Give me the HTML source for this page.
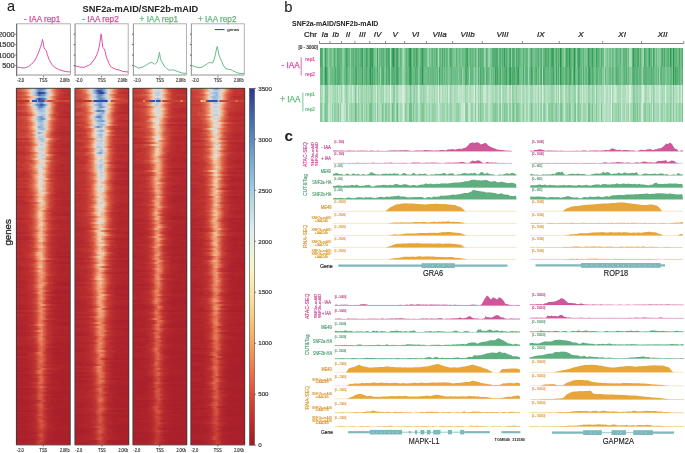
<!DOCTYPE html><html><head><meta charset="utf-8"><style>
html,body{margin:0;padding:0;background:#fff}
body{width:685px;height:453px;overflow:hidden;position:relative;font-family:"Liberation Sans",sans-serif}
.hm{position:absolute;overflow:hidden}
.hm i{display:block;height:2px}
.gb{position:absolute}
svg{position:absolute;left:0;top:0;will-change:transform}
</style></head><body>
<div class="hm" style="left:16.4px;top:88.3px;width:53.9px;height:356.7px"><i style="background:linear-gradient(90deg,#d45442,#cf4c3e,#dc6249,#e57554,#ea8c68,#efb28c,#e7d5c3,#c6d5e4,#8dafd5,#678cc2,#6589c0,#7297c9,#b7cde2,#e7d6c6,#efb48f,#e57454,#d25140,#c94339,#bf3432,#bc3131,#bf3331,#be3231)"></i><i style="background:linear-gradient(90deg,#ca443a,#cf4c3e,#da6048,#e36e4f,#eb916c,#efb28c,#dcdad8,#c6d5e4,#99b8da,#5a7eb9,#759bcb,#8aadd4,#c7d5e3,#e8d4c0,#ed9c75,#e57756,#d35442,#c94339,#c03432,#be3231,#b92e2f,#ba2f30)"></i><i style="background:linear-gradient(90deg,#c63d36,#c73f37,#ca453a,#d35442,#e0694c,#ed9e77,#eccfb5,#bacee2,#7ca1ce,#2d3791,#384b9c,#3f59a3,#a0bfdd,#d3d8dc,#efb792,#e57353,#d55743,#c94239,#c33934,#bf3331,#bc3030,#bc3030)"></i><i style="background:linear-gradient(90deg,#cb463b,#cc483c,#d25140,#db6148,#e67b59,#efb893,#e6d6c6,#b9cee2,#87aad3,#4460a8,#678cc2,#7298c9,#bbcfe2,#e5d8cb,#f0c19e,#e88360,#d45542,#c53d36,#bf3432,#b82d2f,#b82d2f,#b82d2f)"></i><i style="background:linear-gradient(90deg,#cc483b,#c63e36,#cd493c,#d25140,#d55844,#e67b59,#efb28c,#edceb3,#bed1e3,#88abd3,#86a9d3,#97b7d9,#d5d9db,#f0c8a6,#eb946e,#db6148,#cb463a,#c63d36,#c03432,#bd3131,#bc3030,#c03432)"></i><i style="background:linear-gradient(90deg,#d14f3f,#d04f3f,#d15140,#dc6349,#e57352,#eea67f,#f0c9a7,#c5d4e4,#769ccc,#2f3b93,#4869ac,#5275b4,#acc6df,#e6d7c8,#eea179,#e36e4f,#c94239,#c03432,#ba2f30,#b82d2f,#b82d2f,#bc3131)"></i><i style="background:linear-gradient(90deg,#c43b35,#c33834,#c94339,#cc473b,#d95e47,#e88460,#efae88,#e7d6c5,#b1c9e0,#6589c0,#4869ac,#6286be,#b7cce1,#d4d9dc,#efbe9a,#e88663,#d45542,#c94239,#bc3130,#b92e30,#b82d2f,#b92e30)"></i><i style="background:linear-gradient(90deg,#c23733,#c63d36,#c33834,#c94339,#d95d47,#e67c5a,#efb994,#dcdad8,#9fbedd,#7ca1cf,#6084bd,#adc6e0,#cfd7df,#f0c4a1,#e88360,#ce4a3d,#c33934,#bd3131,#b92e2f,#bb3030,#bc3130,#b92e2f)"></i><i style="background:linear-gradient(90deg,#c94339,#cd493c,#d04e3f,#d75a45,#e0694c,#ed9d76,#eccfb3,#bed0e3,#7398ca,#587cb8,#3e56a2,#5c7fba,#abc5df,#edceb2,#ea906b,#dd654a,#c53c36,#bd3131,#ba2f30,#b52a2e,#b4292e,#b52a2e)"></i><i style="background:linear-gradient(90deg,#c43a35,#c23733,#c43a34,#ca4339,#d25140,#e57655,#efae87,#e2dcd4,#b9cee2,#6084bd,#5d81bb,#94b5d8,#d4d9dc,#edceb2,#e88562,#d45442,#c33934,#bb2f30,#bc3030,#b72c2f,#b72c2f,#ba2e30)"></i><i style="background:linear-gradient(90deg,#c43a35,#c13532,#c63e37,#cb463a,#d55643,#e57655,#eea37b,#edceb3,#bed1e3,#84a7d1,#99b8da,#b5cbe1,#dddbd7,#efbc98,#e88360,#ce4b3d,#c13632,#be3331,#ba2f30,#ba2f30,#bb3030,#bb2f30)"></i><i style="background:linear-gradient(90deg,#cc473b,#cc483b,#cd493c,#cf4c3e,#d65844,#e57554,#ec9872,#e8d4c1,#ccd6e1,#adc7e0,#9dbcdc,#b2c9e0,#e3dad0,#efbd99,#e88562,#d1503f,#c13632,#be3231,#bc3030,#b62b2f,#b92e2f,#b92e30)"></i><i style="background:linear-gradient(90deg,#bf3431,#c23733,#c23733,#c73f37,#c94339,#dd654a,#e7815e,#f0c29e,#e6d7c7,#bdd0e2,#bbcfe2,#bed1e3,#e0dcd5,#f0c5a2,#e88662,#d1503f,#c73e37,#bd3131,#b82d2f,#b4292e,#b4292e,#b3282e)"></i><i style="background:linear-gradient(90deg,#c23733,#c03432,#bf3331,#c43a34,#c53c36,#d04e3f,#e0694c,#eea078,#e8d4c1,#c1d2e3,#abc5df,#b1c9e0,#e2dcd4,#ed9f77,#df674c,#ca443a,#c53c36,#bf3431,#b82d2f,#bc3030,#b72c2f,#b92d2f)"></i><i style="background:linear-gradient(90deg,#c74037,#c94239,#cb463b,#d15040,#d55743,#e36f4f,#ec9670,#eeccad,#c3d3e4,#8badd4,#7196c8,#adc7e0,#e4dace,#efb590,#e16b4e,#ce4a3d,#bf3331,#b72b2f,#b72c2f,#b2272d,#b4292e,#b1272d)"></i><i style="background:linear-gradient(90deg,#c74037,#c74037,#cb453a,#cb453a,#d25241,#e57454,#eea982,#ead1ba,#b4cbe1,#90b1d6,#6b90c4,#86a9d2,#dbdad8,#f0c9a6,#e67c5a,#d95e47,#c63e37,#bf3331,#be3231,#bc3030,#bd3131,#b92d2f)"></i><i style="background:linear-gradient(90deg,#c63e37,#c63e36,#c43a35,#cb453a,#ce4b3d,#db6148,#ec9972,#f0c3a0,#cfd7df,#94b5d8,#8fb1d6,#c2d3e3,#e8d4c0,#ec9771,#df684c,#ce4b3d,#c43b35,#c03432,#bd3131,#bd3131,#bc3030,#be3231)"></i><i style="background:linear-gradient(90deg,#c63d36,#c43934,#c74038,#ca4339,#cc483b,#d95d46,#e57453,#efaf89,#d9dad9,#b0c8e0,#a4c2de,#c6d5e4,#edceb1,#eb916c,#d95e47,#c74037,#c03432,#bc3030,#bb3030,#be3231,#ba2e30,#ba2f30)"></i><i style="background:linear-gradient(90deg,#c43934,#c84038,#c63e36,#ca4439,#ca4439,#da5f47,#e57655,#efac86,#e7d6c5,#b8cde2,#96b6d9,#c0d2e3,#efccac,#eb956f,#db6048,#ca443a,#c43934,#bd3231,#bc3130,#be3231,#be3231,#b92e30)"></i><i style="background:linear-gradient(90deg,#c63d36,#c94239,#c84138,#cd493c,#cf4d3e,#de664b,#ea8e6a,#efcbaa,#d4d9dc,#80a4d0,#9abadb,#c6d5e4,#eeccae,#e98965,#d95d46,#c94239,#c03432,#b82d2f,#b62b2e,#b62b2f,#b82d2f,#b72c2f)"></i><i style="background:linear-gradient(90deg,#c43a35,#c43a35,#c63e36,#c94339,#cc473b,#da5f47,#e98965,#efb893,#dcdad8,#abc6df,#95b5d8,#a3c1de,#ecd0b6,#ec9973,#dc6349,#cb453a,#be3231,#bc3030,#b82d2f,#b72c2f,#ba2f30,#b72c2f)"></i><i style="background:linear-gradient(90deg,#c43b35,#c53b35,#c43a35,#c23733,#ca443a,#d25140,#e47050,#eb946e,#e7d5c3,#c2d3e3,#cbd6e1,#e1dcd5,#efaf89,#e88460,#d65944,#c84038,#be3231,#ba2f30,#b82d2f,#b72c2f,#b92d2f,#b72c2f)"></i><i style="background:linear-gradient(90deg,#c23833,#c63d36,#c63e37,#c73f37,#ca453a,#d55743,#e67857,#efb28c,#d7d9da,#89abd3,#adc7e0,#d6d9db,#efac86,#e57353,#cc473b,#bc3130,#ba2e30,#b3282e,#b1262d,#b4292e,#b3282e,#b1262d)"></i><i style="background:linear-gradient(90deg,#c94339,#c53c35,#c94238,#c74037,#ce4c3e,#d85c46,#df674b,#eb936d,#ead1ba,#cbd6e1,#cfd7df,#e8d4c0,#ec9973,#e26c4e,#ca4439,#c23733,#bb2f30,#b82d2f,#b42a2e,#b62b2e,#b52a2e,#b4292e)"></i><i style="background:linear-gradient(90deg,#c63d36,#c74038,#cb473b,#cc473b,#d04e3f,#da5f47,#e57655,#eea881,#e2dcd4,#b0c8e0,#bfd1e3,#e8d5c2,#eb946e,#e36f50,#d25241,#c33834,#bf3331,#bb2f30,#b72c2f,#b72c2f,#bb2f30,#b82d2f)"></i><i style="background:linear-gradient(90deg,#b92e2f,#bc3131,#bc3130,#c13532,#c03432,#c94239,#dd644a,#ea8c67,#efcbab,#b5cbe1,#9ebddc,#b9cee2,#e2dcd4,#eea47c,#e0694d,#cf4c3e,#c63d36,#bd3131,#ba2f30,#b72c2f,#b82d2f,#b92d2f)"></i><i style="background:linear-gradient(90deg,#c53b35,#c33834,#c63e37,#ca4439,#c84138,#d35341,#e46f50,#eb946e,#efccac,#cad6e2,#adc6e0,#ccd6e1,#f0c3a0,#e67b59,#d85c46,#c94339,#bc3030,#b82d2f,#b62b2e,#b92e2f,#b92e2f,#b4292e)"></i><i style="background:linear-gradient(90deg,#bb2f30,#bd3231,#be3331,#c23633,#c33934,#c84038,#d55643,#e88561,#efba96,#e6d6c6,#cbd6e1,#ebd0b7,#eea47c,#da6048,#d04e3f,#c03432,#bc3030,#b92e2f,#b72c2f,#b4292e,#b4292e,#b52a2e)"></i><i style="background:linear-gradient(90deg,#be3231,#bc3030,#bb2f30,#bf3331,#c43a35,#c63e37,#d15040,#e47252,#ed9d76,#e2dcd3,#b7cce1,#dfdbd6,#efb792,#e47151,#ce4b3d,#c43934,#bc3030,#b82d2f,#b2272d,#b4292e,#b2282d,#b0262d)"></i><i style="background:linear-gradient(90deg,#c03432,#c23733,#c63e37,#c33834,#cc483b,#d15140,#dc6249,#ec9872,#efcbab,#dadad9,#d2d8dd,#ead2bb,#eea780,#db6048,#cb473b,#bd3131,#b92d2f,#b62b2e,#b52a2e,#b1272d,#b2272d,#b4292e)"></i><i style="background:linear-gradient(90deg,#c03432,#bf3331,#c03432,#c23733,#c73f37,#cd4a3c,#dd654a,#eea37c,#ead2bb,#cbd6e1,#c3d3e4,#ead2bb,#eea179,#e26d4e,#ce4b3d,#c63e37,#be3231,#bb2f30,#bb3030,#b82d2f,#b72c2f,#bb2f30)"></i><i style="background:linear-gradient(90deg,#be3231,#bc3130,#be3231,#c23733,#c63e37,#cc473b,#e16a4d,#ea8c68,#e8d4c0,#d8d9da,#d3d8dd,#eccfb4,#eea881,#dd654a,#cd4a3d,#c53c36,#bf3331,#b62b2f,#b72c2f,#b72c2f,#b82d2f,#b62b2e)"></i><i style="background:linear-gradient(90deg,#b82c2f,#b92d2f,#b82d2f,#b92e30,#c23733,#c53c36,#cd4a3d,#e47150,#ec9771,#ebd0b7,#d2d8dd,#ead2bb,#eb936d,#d55743,#c73f37,#bb2f30,#b52a2e,#b1262d,#b0252d,#b1272d,#af252c,#af252c)"></i><i style="background:linear-gradient(90deg,#be3331,#be3231,#bf3331,#bd3231,#c23632,#ca4339,#d95d47,#e8825f,#efba96,#dadad9,#c7d5e3,#bbcfe2,#f0c8a6,#e98864,#db6048,#c94339,#bf3432,#b72c2f,#b3292e,#b2272d,#b52a2e,#b62b2e)"></i><i style="background:linear-gradient(90deg,#c03432,#c33834,#c23733,#c73f37,#c84238,#d15040,#dc6349,#e57655,#eea982,#d7d9da,#cad6e2,#ebd1b8,#eb936d,#e47151,#ce4b3d,#bf3331,#bb2f30,#b72c2f,#b52a2e,#b62b2f,#b62b2f,#b2272d)"></i><i style="background:linear-gradient(90deg,#be3231,#bc3131,#c23633,#c03432,#c94339,#ce4b3d,#df674c,#ec9973,#edceb3,#d2d8dd,#cfd7df,#f0c8a6,#e67b59,#d75a45,#c84138,#c33833,#bc3030,#ba2e30,#b72c2f,#b92e2f,#b62b2e,#ba2f30)"></i><i style="background:linear-gradient(90deg,#c03432,#bd3131,#c13532,#bf3331,#c33934,#ca443a,#cc483c,#e47151,#ed9e76,#edceb1,#dddbd7,#e8d5c2,#efb38e,#e7805d,#cf4d3e,#c63d36,#bf3431,#ba2f30,#b72c2f,#b62b2f,#b3282d,#b62b2f)"></i><i style="background:linear-gradient(90deg,#c33833,#c13632,#c13532,#c23733,#c94339,#d04e3f,#d25241,#df674b,#ec9872,#eecdb0,#e4d9ce,#f0caa8,#e98763,#d95e47,#ca443a,#c43a35,#bc3130,#ba2e30,#b82d2f,#ba2f30,#b62b2f,#b92e2f)"></i><i style="background:linear-gradient(90deg,#c33934,#c03432,#c13632,#c94239,#c63d36,#ce4c3e,#e06a4d,#e67957,#efb48e,#dadad9,#ced7e0,#e9d3bf,#ec9871,#dc6249,#c94339,#c33834,#bb3030,#b62b2f,#b2282d,#b4292e,#b4292e,#b3282d)"></i><i style="background:linear-gradient(90deg,#be3231,#be3331,#bc3131,#c43934,#c63e37,#cc483c,#da6048,#eb926d,#f0c19e,#d4d9dc,#d2d8dd,#f0caa8,#eb916c,#d85b45,#c84138,#bd3231,#bb3030,#b52a2e,#b62b2e,#b4292e,#b62b2f,#b62b2f)"></i><i style="background:linear-gradient(90deg,#c03432,#c43934,#c23733,#c53c36,#c84138,#d14f3f,#dd644a,#e7815e,#eea982,#e1dcd5,#e5d8c9,#efb18b,#e7805d,#d25140,#cb463b,#c03532,#b82d2f,#b82d2f,#b42a2e,#b72c2f,#b3282d,#b3282e)"></i><i style="background:linear-gradient(90deg,#bd3131,#be3331,#c03432,#bd3131,#c33934,#cb463b,#d15140,#e57554,#ed9c75,#e5d8ca,#e1dcd5,#eeccad,#ea8d68,#d95e47,#c33934,#bd3231,#b4292e,#b2272d,#b1262d,#b1272d,#b1272d,#b2282d)"></i><i style="background:linear-gradient(90deg,#b92e30,#bb2f30,#bb3030,#bb2f30,#bd3131,#c63d36,#d35341,#df674c,#e98764,#ebd1b8,#dcdad8,#f0c5a2,#e7805d,#da6048,#c84038,#bf3331,#b92e2f,#b72c2f,#b4292e,#b3282d,#b4292e,#b2282d)"></i><i style="background:linear-gradient(90deg,#bc3030,#bb3030,#bb3030,#bb2f30,#c33834,#c53b35,#d65944,#e67c5a,#eea982,#eccfb5,#e1dcd5,#efb894,#e57655,#d25140,#c23733,#ba2e30,#b52a2e,#b4292e,#b2272d,#af252c,#b0262d,#b0262d)"></i><i style="background:linear-gradient(90deg,#b62b2f,#b82d2f,#b82d2f,#be3231,#bd3231,#c63d36,#d04f3f,#e77f5d,#efb18b,#e0dcd5,#e0dcd5,#efbf9b,#e57655,#ce4b3d,#c53b35,#c03432,#b92e30,#b3282e,#b52a2e,#b62b2e,#b62b2e,#b52a2e)"></i><i style="background:linear-gradient(90deg,#bd3231,#bf3431,#c43a34,#c33833,#c53b35,#cd493c,#d15040,#e57756,#eea982,#ead2bb,#dbdad8,#edceb2,#eea57d,#db6148,#c84138,#c33834,#ba2e30,#b62b2e,#b4292e,#b0262d,#b0262d,#b2272d)"></i><i style="background:linear-gradient(90deg,#b92e2f,#ba2f30,#bf3331,#bc3131,#c33834,#c63d36,#d75a45,#df684c,#ed9f78,#e5d8ca,#e2dcd4,#efae88,#e47151,#d04e3f,#c33934,#bf3331,#bc3030,#b4292e,#b72c2f,#b4292e,#b52a2e,#b52b2e)"></i><i style="background:linear-gradient(90deg,#c13532,#c13532,#c13532,#c43934,#c53c35,#ca443a,#d25241,#e47151,#eea078,#e4d9ce,#d5d9db,#f0c29f,#e98864,#dc6249,#c94239,#c13532,#ba2f30,#b82d2f,#b82d2f,#b3282e,#b72c2f,#b62b2e)"></i><i style="background:linear-gradient(90deg,#bb3030,#bd3131,#bf3331,#be3331,#c23632,#cd493c,#d95d46,#e67c5a,#efae87,#e3dbd2,#e7d5c3,#efbd99,#e77f5c,#d65944,#c84138,#be3331,#bc3130,#b82d2f,#b82d2f,#b62b2e,#b4292e,#b72b2f)"></i><i style="background:linear-gradient(90deg,#be3231,#c13532,#c03432,#c23632,#c63d36,#cc473b,#d75a45,#e57655,#eeab84,#e8d4c2,#dddbd7,#efba95,#e8825f,#d65944,#ca443a,#be3231,#bb3030,#b72c2f,#b62b2f,#b4292e,#b72c2f,#b82d2f)"></i><i style="background:linear-gradient(90deg,#b4292e,#b62b2e,#b72c2f,#b72c2f,#bd3131,#c43a34,#d15040,#e47151,#ec9871,#e5d8cb,#e4dace,#efbf9b,#e67a59,#d35442,#cb453a,#c13532,#b72c2f,#b52a2e,#b62b2f,#b72b2f,#b42a2e,#b62b2e)"></i><i style="background:linear-gradient(90deg,#be3231,#c03432,#bd3131,#bf3331,#bf3331,#c84138,#ce4c3d,#e16b4e,#ea8e69,#efcbaa,#e9d4bf,#efb691,#e67958,#d35442,#c84138,#bc3030,#b62b2f,#b62b2e,#b3292e,#b62b2e,#b62b2e,#b62b2f)"></i><i style="background:linear-gradient(90deg,#bd3131,#bd3131,#be3331,#bd3131,#c13632,#c53b35,#cb463b,#d85c46,#e8825f,#f0c5a2,#e6d7c9,#efccac,#ec9a73,#db6149,#ca4339,#c13532,#b52a2e,#b3282d,#af252c,#b0252c,#b2272d,#ae242c)"></i><i style="background:linear-gradient(90deg,#bd3131,#be3231,#bd3131,#bf3331,#c23633,#cb463b,#ce4c3d,#dc6249,#ed9e77,#f0c09d,#e7d5c4,#efb28d,#e57554,#cf4d3e,#c23733,#b92e30,#b52a2e,#b3292e,#b3282d,#b52a2e,#b3282d,#b52a2e)"></i><i style="background:linear-gradient(90deg,#b82d2f,#b52a2e,#b52a2e,#b62b2e,#bc3030,#c03432,#c43a35,#d55743,#e67856,#efb691,#f0c09d,#ed9e77,#df684c,#ce4a3d,#c53c36,#bd3131,#b42a2e,#b4292e,#b2272d,#b1262d,#b1272d,#b2272d)"></i><i style="background:linear-gradient(90deg,#bb3030,#bc3030,#bb3030,#be3231,#c33833,#c33834,#cc473b,#db6149,#eb916c,#f0c3a0,#edceb3,#eea27b,#e47050,#d04e3f,#c43b35,#c03432,#bc3130,#b82d2f,#b3292e,#b42a2e,#b72c2f,#b72c2f)"></i><i style="background:linear-gradient(90deg,#b62b2f,#b62b2e,#b62b2e,#b82d2f,#c13532,#c53c36,#d25140,#d95e47,#eb956f,#e9d3be,#e4d9cd,#eea982,#e57353,#d25140,#c63d36,#bb3030,#b4292e,#b52a2e,#b1272d,#b2272d,#b1262d,#af252c)"></i><i style="background:linear-gradient(90deg,#b3282e,#b3292e,#b62b2f,#b3282e,#b62b2e,#bf3331,#c53b35,#ce4a3d,#dd654a,#eea57d,#f0c9a7,#efbb97,#e67a58,#ce4c3e,#c13632,#be3231,#b4292e,#b2282d,#b2272d,#b1262d,#b1262d,#af252c)"></i><i style="background:linear-gradient(90deg,#b92e30,#ba2f30,#b62b2f,#b82d2f,#bb3030,#c03432,#ca443a,#d65844,#e77f5d,#efb38d,#eecdaf,#efae88,#e67957,#cd493c,#c63d36,#b92e30,#b3282e,#b1272d,#b0252d,#b1262d,#ae232c,#af242c)"></i><i style="background:linear-gradient(90deg,#be3231,#bd3231,#bc3131,#bb3030,#be3231,#c23733,#c84138,#d04e3f,#e57756,#eeaa83,#f0c09d,#eeab84,#e57555,#d04f3f,#c63d36,#bd3131,#b62b2e,#b62b2f,#b4292e,#b3282d,#b4292e,#b4292e)"></i><i style="background:linear-gradient(90deg,#bc3130,#ba2e30,#ba2f30,#ba2f30,#be3331,#c03432,#ca453a,#d65944,#e77f5c,#eea47d,#f0c4a1,#eeaa83,#df674b,#cc483b,#c23733,#bc3030,#b52a2e,#b52a2e,#b3282e,#b4292e,#b3282e,#b4292e)"></i><i style="background:linear-gradient(90deg,#bc3130,#ba2f30,#b92e2f,#bc3030,#bf3331,#c43a34,#c94239,#d35341,#e67c5a,#efb994,#efb18b,#e57453,#d35341,#c63d36,#bc3131,#bc3130,#b52a2e,#b52a2e,#b3282e,#b1272d,#b52a2e,#b62b2e)"></i><i style="background:linear-gradient(90deg,#b82d2f,#b82d2f,#b82d2f,#b62b2e,#ba2f30,#c23733,#cb463b,#d55743,#e8825f,#efcbab,#f0c4a1,#ea906b,#d85b45,#ce4a3d,#be3331,#b52a2e,#b3282e,#b2282d,#af252c,#b2272d,#af252c,#b1272d)"></i><i style="background:linear-gradient(90deg,#b92e30,#b82d2f,#bc3130,#bd3231,#c03432,#c73f37,#cd493c,#da5e47,#e98a66,#f0cba9,#edceb2,#ea8e69,#d85b45,#c84138,#bd3131,#b82c2f,#b0262d,#af242c,#af252c,#ae242c,#ae232c,#ae242c)"></i><i style="background:linear-gradient(90deg,#b82d2f,#b82d2f,#b82d2f,#be3231,#bc3130,#c33833,#ce4a3d,#db6048,#e98764,#f0caa8,#efbe9a,#ea8e69,#d55743,#ce4b3d,#c03432,#bb3030,#ba2f30,#b92d2f,#b82c2f,#b72c2f,#b4292e,#b3282d)"></i><i style="background:linear-gradient(90deg,#b1262d,#b0252d,#b3282d,#b2282d,#ba2f30,#bf3331,#c53c36,#d45542,#e77d5b,#efad87,#f0c8a6,#ed9b74,#dc6249,#ca453a,#c63d36,#c03432,#b82d2f,#b4292e,#b72c2f,#b62b2e,#b4292e,#b52a2e)"></i><i style="background:linear-gradient(90deg,#b92e30,#bd3231,#b92e30,#bc3130,#c23633,#c03432,#c84038,#d55743,#e47150,#efb38e,#efb38e,#e47252,#d15040,#c53c35,#bd3231,#b52a2e,#b2272d,#af252c,#af252c,#ae242c,#b1272d,#b1272d)"></i><i style="background:linear-gradient(90deg,#ba2f30,#b72c2f,#b92e2f,#bc3131,#bb3030,#c33834,#c53c35,#d35341,#e57655,#efb08a,#f0cba9,#ec9a73,#df674b,#c94239,#c13532,#b82c2f,#b3282d,#b2272d,#b2282d,#b2272d,#af242c,#b3282d)"></i><i style="background:linear-gradient(90deg,#b3282d,#b3292e,#b62b2e,#b52a2e,#ba2f30,#c13532,#c73e37,#d55743,#e57655,#efbd99,#edceb2,#ec9972,#dd644a,#cd4a3d,#c33934,#b92e30,#ba2e30,#b72c2f,#b2272d,#b62b2e,#b4292e,#b2272d)"></i><i style="background:linear-gradient(90deg,#b2282d,#b62b2f,#b72b2f,#b92e30,#b92e30,#c23833,#cb463b,#d55743,#e88562,#efb792,#efb792,#eb916b,#da6048,#c84138,#c33834,#ba2e30,#b62b2f,#b3282d,#b2272d,#b4292e,#b2282d,#b3282d)"></i><i style="background:linear-gradient(90deg,#b62b2f,#b3292e,#b92d2f,#b82d2f,#b92e30,#c23733,#ca4339,#d35341,#e67c5a,#eea67e,#f0c4a1,#ed9c75,#e0694c,#cd4a3c,#c43a34,#bb3030,#b82d2f,#b62b2e,#b62b2f,#b52b2e,#b52a2e,#b62b2e)"></i><i style="background:linear-gradient(90deg,#b72c2f,#b92e2f,#b52a2e,#b72c2f,#ba2e30,#c03432,#c33833,#cf4d3e,#dc6349,#ed9f78,#efb792,#e88360,#d45542,#c73f37,#ba2e30,#b62b2f,#b2282d,#b0262d,#b1272d,#b2272d,#b0252d,#b2272d)"></i><i style="background:linear-gradient(90deg,#b1272d,#b0252d,#b3282e,#b4292e,#b4292e,#ba2f30,#c63d36,#d25241,#e67b5a,#efb58f,#efba96,#e7805d,#d04e3f,#c63e36,#bc3030,#b62b2e,#b4292e,#b1262d,#b2282d,#b3292e,#b3282e,#b52a2e)"></i><i style="background:linear-gradient(90deg,#b52a2e,#b62b2f,#b92e30,#b92e30,#bc3131,#c43a35,#ca4339,#dd644a,#e88562,#efbc97,#efbf9b,#eb936d,#e16c4e,#c84138,#c13532,#bc3030,#b82d2f,#b62b2f,#b3282e,#b2272d,#b52a2e,#b1272d)"></i><i style="background:linear-gradient(90deg,#b2272d,#b2272d,#b3282e,#b4292e,#b52a2e,#b92d2f,#c23633,#d15040,#e67857,#efbf9b,#efb48e,#e88562,#d04e3f,#c73f37,#bb3030,#b52a2e,#b3282e,#b1262d,#b1262d,#ae242c,#b0262d,#af252c)"></i><i style="background:linear-gradient(90deg,#af252c,#af242c,#b3282e,#b1262d,#b4292e,#b72c2f,#bf3331,#cb453a,#e36e4f,#eea17a,#eeccad,#ec9872,#d55743,#c53c36,#bb2f30,#b4292e,#b1262d,#b2272d,#ae232c,#b1262d,#b0262d,#ae232c)"></i><i style="background:linear-gradient(90deg,#b52a2e,#b62b2e,#b42a2e,#b82d2f,#b72c2f,#bb3030,#c63e36,#ce4c3e,#e47050,#efb38d,#f0caa9,#e98965,#d85c46,#c53c35,#bc3131,#b62b2f,#b1272d,#b0252d,#b2272d,#b2282d,#b1262d,#b1262d)"></i><i style="background:linear-gradient(90deg,#b62b2f,#b72c2f,#b4292e,#b72c2f,#b92e30,#bd3131,#c13532,#cb473b,#e26c4e,#eb916c,#ed9f77,#dc6249,#cd4a3d,#c33834,#b72c2f,#b62b2e,#b3282d,#af252c,#b0262d,#b1272d,#b0252c,#b0262d)"></i><i style="background:linear-gradient(90deg,#b72c2f,#b72c2f,#b82d2f,#b82d2f,#ba2f30,#bf3331,#c63e37,#cf4c3e,#e57554,#eea078,#eea880,#e57655,#cd4a3d,#c13632,#b92e30,#b72c2f,#b3282e,#b2272d,#b0252c,#ae242c,#af252c,#b1262d)"></i><i style="background:linear-gradient(90deg,#b52a2e,#b42a2e,#b52a2e,#b92d2f,#b92e30,#c03432,#c53c35,#d35341,#e57453,#efad87,#f0c29e,#e98a66,#d65944,#c53c36,#bf3331,#b52a2e,#b4292e,#b1272d,#af252c,#b0252d,#af242c,#af252c)"></i><i style="background:linear-gradient(90deg,#b92d2f,#ba2e30,#b62b2f,#bc3030,#b92e30,#c03432,#c43a35,#ca443a,#d85b45,#e98a66,#eea179,#e67c5a,#d15040,#c63e37,#bb2f30,#b82d2f,#b2282d,#b4292e,#b4292e,#b0262d,#b3282e,#b3282d)"></i><i style="background:linear-gradient(90deg,#b92e2f,#b92e30,#b62b2e,#ba2f30,#ba2e30,#bd3231,#c43934,#cf4d3e,#e16b4d,#ec9a74,#eea47d,#e7805d,#d65844,#c33833,#bd3131,#b72c2f,#b0262d,#b0252d,#b2272d,#b2272d,#b1262d,#ae242c)"></i><i style="background:linear-gradient(90deg,#b52a2e,#b3282e,#b2272d,#b82d2f,#bd3131,#c03432,#c63e37,#d75a45,#ea8d69,#efbd98,#efb793,#e7805d,#d15140,#c23733,#b92e30,#b62b2e,#ad232c,#af242c,#ae242c,#ac222b,#ad232c,#ab212b)"></i><i style="background:linear-gradient(90deg,#b72c2f,#b62b2f,#b82c2f,#b72c2f,#bf3331,#c33934,#cd4a3d,#d65944,#ec9670,#efb590,#efb994,#e67958,#d15040,#c84138,#bb3030,#b72c2f,#b2272d,#b3292e,#af252c,#b0262d,#b2282d,#b2272d)"></i><i style="background:linear-gradient(90deg,#b92e30,#b92e30,#b62b2f,#b82d2f,#bf3331,#c33833,#c73f37,#d04e3e,#e77f5c,#eea981,#efb995,#e77d5b,#d45542,#c13532,#b92e30,#b0262d,#af252c,#ac222b,#ab212b,#ad232c,#ac222b,#ab212b)"></i><i style="background:linear-gradient(90deg,#b0262d,#b3292e,#b2272d,#b4292e,#b82d2f,#ba2e30,#c33833,#cc483b,#e57655,#eea47c,#f0c3a0,#ed9d76,#de654a,#d04e3f,#c33834,#bc3130,#b82c2f,#b52a2e,#b2272d,#b0262d,#b2272d,#b1262d)"></i><i style="background:linear-gradient(90deg,#b82d2f,#b72c2f,#b52a2e,#ba2f30,#bb2f30,#bd3231,#c23733,#c74037,#d45542,#ea906b,#eb936e,#df684c,#c53c36,#bb3030,#b82d2f,#b1272d,#b1272d,#b1262d,#b1262d,#b0262d,#b1262d,#b0262d)"></i><i style="background:linear-gradient(90deg,#b52a2e,#b52a2e,#b92e30,#b62b2e,#b82d2f,#c03432,#c23733,#cb463a,#e47252,#ed9f78,#eea780,#e67b5a,#d04f3f,#c63d36,#bb2f30,#b0252d,#af252c,#ac222b,#ac222b,#ab212b,#aa212b,#aa202b)"></i><i style="background:linear-gradient(90deg,#b52a2e,#b62b2e,#b92e2f,#ba2f30,#ba2e30,#c03432,#c84038,#d25241,#e26c4e,#eeac85,#efac86,#e57655,#cf4c3e,#c33833,#b92d2f,#b72c2f,#b4292e,#b3292e,#b0252d,#b0262d,#b2272d,#b3282e)"></i><i style="background:linear-gradient(90deg,#b2272d,#b0262d,#b0262d,#b42a2e,#b72c2f,#be3231,#c33934,#cd493c,#e47151,#efb692,#efba96,#e57756,#d25241,#c33934,#bb2f30,#b52a2e,#b0262d,#af242c,#ae242c,#ae242c,#af252c,#ad232c)"></i><i style="background:linear-gradient(90deg,#b0252c,#b0262d,#b1262d,#b4292e,#b62b2e,#b62b2f,#c13532,#c84138,#dc6349,#e98763,#ec9771,#e57453,#ce4b3d,#c23733,#b72c2f,#b52a2e,#b1262d,#af252c,#af252c,#ad232c,#af252c,#af252c)"></i><i style="background:linear-gradient(90deg,#b4292e,#b0262d,#b4292e,#b52a2e,#b52a2e,#c03432,#c53c35,#cf4d3e,#e47252,#efb28c,#eea780,#e67957,#cd493c,#c43a34,#ba2f30,#b62b2e,#b2272d,#b0262d,#ae232c,#ad222c,#b0252d,#b0262d)"></i><i style="background:linear-gradient(90deg,#b62b2e,#b62b2f,#b52b2e,#b82c2f,#ba2e30,#ba2f30,#c23733,#c84138,#da5f47,#eb936d,#eea780,#e88561,#d45542,#c43a34,#bc3131,#b82d2f,#b52a2e,#af252c,#ae242c,#b2272d,#b1272d,#b0262d)"></i><i style="background:linear-gradient(90deg,#b4292e,#b2272d,#b52a2e,#b4292e,#b82d2f,#bd3131,#c03432,#cc473b,#d95e47,#ea906b,#ec9a73,#e77f5c,#d85b45,#ca4439,#c03432,#bb2f30,#b2282d,#b4292e,#b3282e,#b2272d,#b1262d,#b2272d)"></i><i style="background:linear-gradient(90deg,#b1272d,#b2282d,#b62b2e,#b3282e,#b3292e,#b72c2f,#be3231,#c53c36,#d55643,#e98864,#eea57e,#e57756,#ca453a,#be3231,#bb3030,#b2272d,#b1272d,#af242c,#b1262d,#ae242c,#af252c,#ae242c)"></i><i style="background:linear-gradient(90deg,#b52a2e,#b52a2e,#b52a2e,#b82d2f,#b82c2f,#b92e2f,#c23633,#c84038,#db6148,#e98a66,#eb956f,#e57554,#ce4b3d,#c03432,#bb3030,#b62b2e,#b2282d,#b0262d,#b1262d,#af252c,#ad232c,#ae242c)"></i><i style="background:linear-gradient(90deg,#af252c,#af252c,#b3282d,#b2282d,#b52a2e,#bc3030,#c03432,#c94339,#db6148,#eb936e,#e98965,#de654b,#cc483c,#bf3331,#ba2f30,#b1262d,#ae232c,#b0252d,#ad232c,#ad232c,#af252c,#ac222b)"></i><i style="background:linear-gradient(90deg,#b1272d,#b3282e,#b0252c,#b1262d,#b3282d,#b82d2f,#bf3331,#c53c36,#d55743,#e88662,#ec9872,#e88662,#db6149,#c43a35,#be3231,#b4292e,#af242c,#ac212b,#ab212b,#ab212b,#ac222b,#ac222b)"></i><i style="background:linear-gradient(90deg,#b0252d,#b3282e,#b2282d,#b52a2e,#b52a2e,#ba2e30,#c23633,#ce4a3d,#dd644a,#ec9771,#eea47d,#e8825f,#cd483c,#bf3331,#b82d2f,#b2272d,#ad232c,#aa212b,#aa212b,#aa212b,#a9202b,#ac222b)"></i><i style="background:linear-gradient(90deg,#ae242c,#ae232c,#b0252c,#b1262d,#b52a2e,#bb3030,#c33834,#ca4339,#e26d4f,#ec9a73,#eea27a,#dc6249,#c84138,#bf3331,#b82d2f,#b4292e,#b3282e,#af252c,#af252c,#b1272d,#b1272d,#b1272d)"></i><i style="background:linear-gradient(90deg,#b2272d,#b52a2e,#b3282d,#b52a2e,#b62b2e,#ba2f30,#c33833,#c94339,#d95d46,#e8825f,#ea8c67,#da5f47,#c63d36,#c03432,#b82d2f,#b42a2e,#b1262d,#b0262d,#ae242c,#af242c,#af252c,#ac222b)"></i><i style="background:linear-gradient(90deg,#b52a2e,#b2282d,#b3282e,#b62b2e,#b52a2e,#ba2f30,#be3231,#c53b35,#d25241,#e88461,#eea47c,#e57353,#cf4d3e,#c33833,#b4292e,#ae242c,#ab212b,#ad222c,#aa202b,#ab212b,#aa212b,#aa202b)"></i><i style="background:linear-gradient(90deg,#b2272d,#b2272d,#b42a2e,#b52a2e,#b42a2e,#b82c2f,#be3331,#ca4439,#da5f47,#ed9c75,#eb946e,#d65944,#c33834,#b92e30,#b1262d,#ad232c,#aa212b,#aa212b,#ab212b,#aa212b,#ab212b,#ab212b)"></i><i style="background:linear-gradient(90deg,#b0252d,#ae242c,#ad232c,#ae232c,#b0262d,#b52a2e,#bc3131,#c03432,#cc483c,#e77e5c,#ea8f6a,#e16b4e,#cc483c,#c33833,#bc3030,#b62b2e,#af252c,#af242c,#b0252d,#b1272d,#ae232c,#af252c)"></i><i style="background:linear-gradient(90deg,#af252c,#b1272d,#b1262d,#b3282d,#b3282e,#b72c2f,#b92e2f,#c43a34,#cd493c,#e67c5a,#eb936d,#db6148,#c53c36,#bc3130,#b2272d,#af252c,#ac212b,#ab212b,#ac222b,#ad232c,#ad232c,#ab212b)"></i><i style="background:linear-gradient(90deg,#b3282d,#b2272d,#b2282d,#b2282d,#b4292e,#b82c2f,#be3231,#c63e36,#d45542,#e7805d,#ed9e77,#e26d4f,#c63d36,#bd3131,#b2272d,#ae242c,#ad232c,#ab212b,#ad222c,#ac222b,#ae242c,#ac222b)"></i><i style="background:linear-gradient(90deg,#b52a2e,#b3282d,#b3282e,#b52a2e,#b62b2e,#b72c2f,#be3231,#c53c36,#cf4c3e,#e67c5a,#e7815e,#d85c46,#c13532,#ba2e30,#b3282d,#b1272d,#b0252d,#ac222b,#af252c,#ae242c,#ad222b,#af252c)"></i><i style="background:linear-gradient(90deg,#b62b2e,#b52b2e,#b4292e,#b2282d,#b52a2e,#b82c2f,#c13532,#c73f37,#d65844,#e98965,#ea8e69,#cf4d3e,#c33934,#b82d2f,#b0262d,#ad232c,#ab212b,#aa202b,#aa212b,#a9202b,#a9202b,#aa212b)"></i><i style="background:linear-gradient(90deg,#b0262d,#b0252c,#b0252c,#b0262d,#b2282d,#b52a2e,#bb2f30,#c23733,#cd493c,#e67b59,#eea67e,#e98763,#d15040,#c63e37,#b92e2f,#b72c2f,#b2272d,#af252c,#ad232c,#af242c,#ab212b,#ab212b)"></i><i style="background:linear-gradient(90deg,#b1272d,#b0262d,#ae242c,#b1272d,#b2272d,#b62b2e,#bb3030,#c43a35,#cc483c,#e7805d,#e67b59,#cf4d3e,#c13532,#b82d2f,#b52a2e,#af252c,#ac222b,#ae232c,#ac222b,#ae232c,#ab212b,#ae232c)"></i><i style="background:linear-gradient(90deg,#ab212b,#af242c,#ac222b,#af252c,#b1262d,#b3282d,#b72c2f,#c43934,#cb453a,#e57352,#ea8f6a,#e67a58,#ce4a3d,#bf3331,#ba2e30,#b52a2e,#b1262d,#ae242c,#ad222b,#ab212b,#ad232c,#ad232c)"></i><i style="background:linear-gradient(90deg,#b72c2f,#b72c2f,#b4292e,#b82d2f,#b62b2f,#bb2f30,#c23733,#c74037,#d85b45,#e88360,#eb936d,#d75a45,#c43a35,#ba2f30,#b52a2e,#af242c,#ad232c,#aa212b,#aa212b,#ac222b,#aa212b,#ac222b)"></i><i style="background:linear-gradient(90deg,#b0252c,#b1262d,#af252c,#af252c,#b1272d,#b2272d,#b82d2f,#c03432,#cc483c,#e0694d,#ea8c68,#e47151,#c74037,#c03432,#b72c2f,#af252c,#ae242c,#af242c,#ad232c,#ae232c,#af242c,#ae232c)"></i><i style="background:linear-gradient(90deg,#b4292e,#b62b2e,#b42a2e,#b4292e,#b82d2f,#b72c2f,#bb2f30,#c33934,#ce4b3d,#e47050,#e98763,#d95e47,#c74037,#b92d2f,#b62b2f,#b1272d,#ad232c,#ad232c,#ad232c,#ac222b,#ab212b,#ae232c)"></i><i style="background:linear-gradient(90deg,#b0262d,#b3282d,#b0262d,#b2272d,#b0262d,#b52a2e,#ba2e30,#c23733,#cc483c,#e57554,#ea8e69,#da6048,#c23633,#b62b2f,#b1262d,#b0262d,#ab212b,#ab212b,#ab212b,#ae242c,#ac222b,#ad232c)"></i><i style="background:linear-gradient(90deg,#af252c,#ae242c,#b1262d,#b0262d,#b2272d,#b82c2f,#ba2e30,#bf3331,#ce4a3d,#e57352,#e88461,#e36f50,#cd493c,#bf3331,#bc3130,#b62b2e,#b1262d,#b1272d,#ad232c,#ad232c,#b0262d,#ae242c)"></i><i style="background:linear-gradient(90deg,#af252c,#b1262d,#af252c,#b0252c,#b3282e,#b4292e,#b62b2f,#c23633,#cb453a,#e67857,#e57453,#cc483c,#be3231,#b82d2f,#b1262d,#af242c,#b0262d,#ad232c,#ae242c,#af252c,#ae232c,#ae232c)"></i><i style="background:linear-gradient(90deg,#ad232c,#b0252c,#ae242c,#b1272d,#b2282d,#b62b2e,#b72c2f,#bf3331,#d04e3f,#e67857,#e67b59,#d75a45,#c43a34,#b92d2f,#b4292e,#b0252c,#ad232c,#aa212b,#aa212b,#aa212b,#aa212b,#aa212b)"></i><i style="background:linear-gradient(90deg,#b1262d,#b0262d,#b0252c,#b1262d,#b3282d,#ba2e30,#c03432,#c74038,#df674b,#eb926c,#ec9670,#dc6249,#c63d36,#bb2f30,#b72c2f,#b1262d,#ae242c,#ac222b,#ab212b,#aa212b,#ab212b,#a9202b)"></i><i style="background:linear-gradient(90deg,#ae232c,#ae242c,#ab212b,#ae242c,#af252c,#b3282e,#b92e30,#c03432,#c84138,#e26d4f,#e67b59,#d25140,#c23733,#bb3030,#b52a2e,#b2282d,#b2282d,#b2282d,#b0252d,#b0262d,#b1262d,#b0262d)"></i><i style="background:linear-gradient(90deg,#ac222b,#ac222b,#ad232c,#ac222b,#b0262d,#b2272d,#b82d2f,#bd3131,#c53c35,#d95e47,#e77d5b,#d85c46,#c53c35,#bb3030,#b52a2e,#b3282e,#b0252d,#b1272d,#ae242c,#b1262d,#b1262d,#af242c)"></i><i style="background:linear-gradient(90deg,#af252c,#b3282d,#af252c,#b0262d,#b52a2e,#b72c2f,#be3231,#c63e37,#d85b45,#ea8f6a,#eb916b,#d75a45,#c43a35,#bd3131,#b4292e,#b0262d,#af252c,#ab212b,#ad232c,#ad232c,#ac222b,#ab212b)"></i><i style="background:linear-gradient(90deg,#b0252c,#af242c,#ad232c,#af242c,#b0252d,#b4292e,#b52a2e,#bc3030,#c94239,#da5f47,#e88360,#d95d46,#c63e37,#bb3030,#b92e2f,#b3282e,#af252c,#ad232c,#ae242c,#ad232c,#ae242c,#af252c)"></i><i style="background:linear-gradient(90deg,#ac222b,#ae242c,#ad232c,#af242c,#b0252d,#af252c,#b72c2f,#c03432,#ca443a,#e57655,#e98965,#d85d46,#c63d36,#bc3030,#b1272d,#ad232c,#ac222b,#ac222b,#ab212b,#ad232c,#ac222b,#ad232c)"></i><i style="background:linear-gradient(90deg,#b0262d,#b3292e,#b1262d,#b4292e,#b4292e,#b82d2f,#be3231,#c63d36,#d45542,#e67857,#e8825f,#d25140,#c23633,#bd3231,#b82d2f,#b4292e,#b1262d,#b0262d,#b0262d,#b0252c,#af242c,#b1262d)"></i><i style="background:linear-gradient(90deg,#b52a2e,#b52a2e,#b3282e,#b3282e,#b62b2e,#ba2e30,#bd3131,#c03432,#cc483c,#e67b59,#e98b66,#d95e47,#c33834,#bb3030,#b52a2e,#af252c,#ad232c,#af242c,#ae242c,#b0252c,#ad232c,#b0252c)"></i><i style="background:linear-gradient(90deg,#b2272d,#b2272d,#ae242c,#b1262d,#b2272d,#b52a2e,#b62b2f,#bd3131,#cd4a3d,#e47151,#e8825f,#d65844,#c53c36,#bb3030,#b52a2e,#b2272d,#ac222b,#af252c,#af252c,#af252c,#af242c,#ad232c)"></i><i style="background:linear-gradient(90deg,#b4292e,#b4292e,#b3292e,#b3282e,#b52a2e,#b4292e,#b62b2f,#c03432,#c94238,#df674b,#e77d5b,#d75b45,#c73f37,#bc3131,#b2272d,#af252c,#ab212b,#ab212b,#ac222b,#ab212b,#ad222b,#ad232c)"></i><i style="background:linear-gradient(90deg,#b1262d,#b3282d,#b2282d,#af252c,#af252c,#b42a2e,#b52a2e,#bb2f30,#c23633,#d95e47,#e67957,#d55743,#bf3331,#b82d2f,#af252c,#ac222b,#ac222b,#ac222b,#ab212b,#ab212b,#aa212b,#ab212b)"></i><i style="background:linear-gradient(90deg,#ad222b,#ac222b,#ac222b,#af252c,#ad232c,#b1262d,#b62b2e,#bb2f30,#c33834,#dd644a,#e0694d,#d15040,#c43a34,#bb3030,#b62b2e,#b0252c,#af252c,#ae242c,#ab212b,#ae242c,#ab212b,#ad232c)"></i><i style="background:linear-gradient(90deg,#af242c,#ac222b,#ac222b,#ac222b,#af252c,#ad232c,#b3282e,#b52a2e,#c23633,#d45442,#e16a4d,#d15040,#bc3030,#b4292e,#ad232c,#ac222b,#ab212b,#a9202b,#a9202b,#ab212b,#a9202b,#a9202b)"></i><i style="background:linear-gradient(90deg,#ad232c,#af252c,#ad232c,#ae232c,#af242c,#af242c,#b4292e,#b62b2e,#c03432,#d65944,#e36f4f,#d04e3f,#bb3030,#b4292e,#af252c,#ae232c,#ab212b,#ac222b,#ad232c,#aa212b,#aa212b,#ac222b)"></i><i style="background:linear-gradient(90deg,#ae242c,#ad232c,#ad232c,#b0252c,#b0252d,#b42a2e,#b92e2f,#c23733,#d55643,#e67a59,#e47050,#c63e36,#be3231,#b52a2e,#ae242c,#aa202b,#a9202b,#a9202b,#a9202b,#a9202b,#a8202b,#aa202b)"></i><i style="background:linear-gradient(90deg,#ac222b,#ab212b,#ae232c,#ad232c,#ae242c,#b4292e,#b92e30,#c23633,#cc473b,#e26c4e,#e47251,#d25241,#c03432,#b82c2f,#b1262d,#b0252d,#ab212b,#ab212b,#ab212b,#ab212b,#ab212b,#aa212b)"></i><i style="background:linear-gradient(90deg,#b4292e,#b4292e,#b3282e,#b2282d,#b4292e,#b62b2f,#b72c2f,#bd3131,#c53c35,#d75944,#e16b4d,#cc473b,#bf3431,#b82d2f,#b3282e,#ad222b,#ab212b,#ad232c,#ad232c,#ab212b,#ac222b,#ab212b)"></i><i style="background:linear-gradient(90deg,#ad232c,#ac222b,#ad232c,#ad232c,#af252c,#b3282d,#b52a2e,#bd3131,#ca443a,#db6249,#de664b,#d65944,#bf3331,#b62b2e,#b1262d,#ad232c,#aa212b,#aa202b,#aa202b,#a9202b,#a9202b,#a9202b)"></i><i style="background:linear-gradient(90deg,#ae242c,#ae242c,#ae242c,#ad232c,#b0262d,#af242c,#b62b2e,#ba2e30,#c43a35,#de654b,#e47252,#d25241,#c13532,#b42a2e,#b1272d,#b0252c,#ab212b,#ad222c,#ae242c,#ab212b,#ab212b,#ab212b)"></i><i style="background:linear-gradient(90deg,#ad232c,#ac212b,#ab212b,#af252c,#ae242c,#b3282d,#b4292e,#bc3030,#c84138,#db6148,#de664b,#ca443a,#ba2e30,#b3292e,#ae242c,#ac222b,#ab212b,#ab212b,#ab212b,#ab212b,#ac222b,#aa202b)"></i><i style="background:linear-gradient(90deg,#ac222b,#b0252d,#ae242c,#b0262d,#b1272d,#b1262d,#b52a2e,#bb2f30,#c63d36,#d95d46,#d85c46,#d25140,#c03432,#b82d2f,#b52a2e,#b0262d,#b1262d,#ae242c,#ae242c,#ad232c,#ad232c,#b0252c)"></i><i style="background:linear-gradient(90deg,#b0252d,#ac222b,#af242c,#ae232c,#af242c,#b2272d,#b62b2f,#bb2f30,#c73f37,#dd644a,#d95d46,#c84038,#bd3231,#b62b2e,#b1272d,#af252c,#af252c,#af252c,#af252c,#ae242c,#ad222c,#af242c)"></i><i style="background:linear-gradient(90deg,#ad222c,#ad232c,#ad232c,#ae242c,#ac222b,#ae242c,#b3282e,#bb3030,#c43a35,#d45542,#e47050,#d95e47,#c53b35,#bd3231,#b62b2f,#b42a2e,#b1272d,#af252c,#ae242c,#ad232c,#ad232c,#ae232c)"></i><i style="background:linear-gradient(90deg,#ac222b,#ab212b,#ab212b,#ac222b,#ad222c,#b1262d,#b4292e,#bb3030,#cf4d3e,#e57353,#e36e4f,#c84038,#bb2f30,#b3282e,#af252c,#ad222c,#ab212b,#ac222b,#aa212b,#aa212b,#ab212b,#ac222b)"></i><i style="background:linear-gradient(90deg,#ae232c,#b0252c,#b0262d,#b0252c,#b0252d,#b52a2e,#b72c2f,#be3331,#cc483c,#e57453,#e26d4f,#ce4b3d,#c13532,#ba2f30,#b0262d,#af242c,#aa212b,#ab212b,#aa202b,#ab212b,#aa212b,#ab212b)"></i><i style="background:linear-gradient(90deg,#aa212b,#ab212b,#ab212b,#ac222b,#ac222b,#ad232c,#b1272d,#b72c2f,#c03432,#cf4d3e,#d95e47,#c23733,#b82d2f,#af252c,#ad232c,#aa202b,#ab212b,#a9202b,#aa212b,#aa212b,#a9202b,#aa202b)"></i><i style="background:linear-gradient(90deg,#ab212b,#ab212b,#ab212b,#ae242c,#ad232c,#af252c,#b3282e,#ba2f30,#c43a34,#d95e47,#e16b4d,#cc483c,#bf3331,#b4292e,#ae242c,#ad232c,#a9202b,#a9202b,#ab212b,#ab212b,#a9202b,#a9202b)"></i><i style="background:linear-gradient(90deg,#ad222b,#b0262d,#ae232c,#af242c,#ae242c,#ae242c,#b1262d,#b3292e,#be3231,#cf4d3e,#e26c4e,#cb463b,#ba2e30,#b3282e,#af242c,#aa202b,#aa212b,#aa202b,#a8202b,#a8202b,#aa212b,#a9202b)"></i><i style="background:linear-gradient(90deg,#ae242c,#ae242c,#ae242c,#b0252d,#b1272d,#af242c,#b3282d,#b72c2f,#bd3231,#d45542,#e47050,#c94239,#bd3131,#b62b2f,#af252c,#af252c,#ae232c,#ad232c,#ab212b,#ab212b,#ab212b,#ae242c)"></i><i style="background:linear-gradient(90deg,#ab212b,#ac222b,#ac222b,#ab212b,#ad232c,#b1262d,#b72c2f,#bb3030,#c74037,#dc6349,#de664b,#ca443a,#bd3131,#b52a2e,#b2272d,#b0262d,#ae242c,#ab212b,#ac212b,#ac222b,#aa212b,#ab212b)"></i><i style="background:linear-gradient(90deg,#ad232c,#ad232c,#ac222b,#af242c,#ad232c,#ae242c,#b3282d,#b72c2f,#c33834,#d25241,#d25241,#c33834,#b52a2e,#b2272d,#ac222b,#aa212b,#ab212b,#aa202b,#a9202b,#a9202b,#ab212b,#a9202b)"></i><i style="background:linear-gradient(90deg,#af252c,#b2272d,#b0262d,#af252c,#b0252d,#b3282d,#b52a2e,#be3331,#c74037,#d75b45,#e57655,#d04f3f,#bf3331,#b52a2e,#b2272d,#b0252d,#ad232c,#ac222b,#ac222b,#ac222b,#ac222b,#ab212b)"></i><i style="background:linear-gradient(90deg,#aa212b,#aa212b,#ab212b,#aa202b,#aa212b,#ab212b,#af252c,#b3282e,#bd3131,#d15040,#d65944,#c63e36,#b62b2e,#b3282e,#b1272d,#b0252d,#ad232c,#af242c,#ac222b,#ac222b,#ad232c,#ad232c)"></i><i style="background:linear-gradient(90deg,#af242c,#ac222b,#ac222b,#ac222b,#ae232c,#b0262d,#b1272d,#b4292e,#bf3331,#cf4d3e,#d45542,#cb473b,#b92e30,#b1262d,#ae242c,#ab212b,#ab212b,#a8202b,#a9202b,#a9202b,#a8202b,#a9202b)"></i><i style="background:linear-gradient(90deg,#aa212b,#ac222b,#ab212b,#ac222b,#ab212b,#ac222b,#b1262d,#b2272d,#bb3030,#d04e3f,#d04e3f,#c33833,#b2272d,#ae242c,#ab212b,#a9202b,#a9202b,#a8202b,#a9202b,#a9202b,#a8202b,#a9202b)"></i><i style="background:linear-gradient(90deg,#ae242c,#ad232c,#ac222b,#ac222b,#ac222b,#af242c,#b1272d,#b92e2f,#c43934,#d75944,#da6048,#c84138,#b92e2f,#b62b2e,#ad232c,#ac222b,#ac222b,#aa212b,#ac222b,#ab212b,#ab212b,#aa202b)"></i><i style="background:linear-gradient(90deg,#ad232c,#af252c,#af242c,#af252c,#b0262d,#b1272d,#b2282d,#b92d2f,#c23633,#d45542,#d45542,#c03432,#b52a2e,#af252c,#ad232c,#aa202b,#a9202b,#a9202b,#a9202b,#aa212b,#a9202b,#aa202b)"></i><i style="background:linear-gradient(90deg,#ad232c,#ab212b,#ab212b,#af242c,#ad232c,#b0262d,#b2282d,#ba2e30,#c13532,#d65844,#d55743,#c33934,#b52a2e,#b2272d,#af252c,#ae242c,#ac222b,#ad232c,#ae232c,#ae232c,#ac222b,#ad222b)"></i><i style="background:linear-gradient(90deg,#ae242c,#ab212b,#ab212b,#ab212b,#ac222b,#ae242c,#b0262d,#b4292e,#b62b2f,#c03432,#d25241,#cb463b,#b62b2f,#b3282e,#ac222b,#ac222b,#aa212b,#ab212b,#ab212b,#a9202b,#aa212b,#a9202b)"></i><i style="background:linear-gradient(90deg,#aa212b,#ab212b,#a9202b,#ac222b,#ab212b,#ab212b,#b1262d,#b3282d,#bb3030,#ca453a,#d25241,#bd3231,#b3282e,#af242c,#ab212b,#ac222b,#aa212b,#aa212b,#ab212b,#aa202b,#a9202b,#aa212b)"></i><i style="background:linear-gradient(90deg,#aa212b,#ad232c,#ab212b,#ab212b,#ab212b,#ae242c,#b2272d,#b92d2f,#c63d36,#d45542,#da5f47,#c33833,#b62b2f,#af252c,#ae242c,#aa212b,#aa212b,#a8202b,#aa202b,#a9202b,#a9202b,#aa202b)"></i><i style="background:linear-gradient(90deg,#ac222b,#ac212b,#ad232c,#ad232c,#ae242c,#b0262d,#b2272d,#b42a2e,#bd3231,#d04e3f,#d85b45,#c43b35,#b72c2f,#b1262d,#b1262d,#ac222b,#ac222b,#ae242c,#ab212b,#ae242c,#ab212b,#ab212b)"></i><i style="background:linear-gradient(90deg,#b0262d,#ad232c,#ae242c,#ad232c,#b0262d,#b0252d,#b3282d,#b4292e,#bd3131,#cd493c,#d15040,#c84038,#bc3130,#b42a2e,#b0262d,#ab212b,#ab212b,#a9202b,#aa202b,#aa212b,#a9202b,#aa202b)"></i><i style="background:linear-gradient(90deg,#ab212b,#ab212b,#ab212b,#ab212b,#a9202b,#aa212b,#ad232c,#b0262d,#b72c2f,#cc483c,#cf4d3e,#be3231,#b1262d,#af242c,#ab212b,#a9202b,#a8202b,#a8202b,#a8202b,#a9202b,#a71f2b,#a8202b)"></i><i style="background:linear-gradient(90deg,#b0252d,#b1262d,#b1262d,#b1262d,#ae242c,#af252c,#b0262d,#b4292e,#b92e2f,#cc473b,#ce4b3d,#c23632,#b72c2f,#b1262d,#ad232c,#a9202b,#a8202b,#a9202b,#a8202b,#a9202b,#a8202b,#a8202b)"></i><i style="background:linear-gradient(90deg,#ac222b,#ac222b,#ad232c,#ae242c,#ae242c,#af252c,#b3282d,#b72c2f,#bf3331,#d35442,#d75a45,#c13532,#b82c2f,#b1262d,#ae242c,#ab212b,#aa212b,#aa202b,#aa202b,#ab212b,#a9202b,#ac222b)"></i><i style="background:linear-gradient(90deg,#ab212b,#ab212b,#aa212b,#ab212b,#ab212b,#ae242c,#af242c,#b3292e,#be3231,#c73f37,#cc483c,#c63d36,#b82d2f,#b3282d,#ae242c,#ae242c,#ac222b,#ac222b,#ab212b,#aa212b,#ac222b,#ac222b)"></i><i style="background:linear-gradient(90deg,#aa212b,#aa212b,#aa212b,#ab212b,#ae242c,#ae242c,#b2272d,#b2282d,#bc3030,#ce4c3e,#cc473b,#c03432,#b72c2f,#b0252d,#ac222b,#ab212b,#aa212b,#a9202b,#a9202b,#a9202b,#aa212b,#a8202b)"></i><i style="background:linear-gradient(90deg,#ac222b,#ae232c,#ac222b,#ae242c,#ac222b,#ac212b,#ae232c,#b3282e,#b82d2f,#cf4c3e,#d95d46,#c73f37,#b72c2f,#af252c,#ac222b,#aa202b,#a8202b,#a8202b,#a71f2b,#a8202b,#a8202b,#a71f2b)"></i><i style="background:linear-gradient(90deg,#ab212b,#aa202b,#ac222b,#aa212b,#ab212b,#af242c,#b0252c,#b62b2f,#bb2f30,#c94239,#d35442,#c94339,#bc3030,#b2272d,#b0252c,#ad222b,#ac222b,#aa212b,#ab212b,#ab212b,#a9202b,#aa202b)"></i><i style="background:linear-gradient(90deg,#ae242c,#b1262d,#ae242c,#ad232c,#ad232c,#b0262d,#b1262d,#b62b2e,#b92e30,#c73f37,#d45442,#cc483c,#bc3030,#b2282d,#ae242c,#ad232c,#ac222b,#aa202b,#a9202b,#ab212b,#aa202b,#ab212b)"></i><i style="background:linear-gradient(90deg,#ac222b,#ab212b,#ad232c,#ab212b,#ac222b,#ae242c,#b0262d,#b52b2e,#bc3030,#cc473b,#d55643,#c74038,#bd3131,#b52a2e,#b2282d,#ac222b,#ab212b,#ad232c,#ab212b,#ad232c,#ab212b,#ad232c)"></i><i style="background:linear-gradient(90deg,#ad222b,#ad232c,#ac222b,#ad232c,#af242c,#af252c,#af242c,#b4292e,#bb2f30,#c43b35,#d04e3f,#c33834,#b82d2f,#af252c,#b0262d,#af252c,#ab212b,#ad222c,#ab212b,#ac222b,#ad232c,#ad232c)"></i><i style="background:linear-gradient(90deg,#aa202b,#aa202b,#ab212b,#ab212b,#ac222b,#ad232c,#b0252c,#b2282d,#ba2e30,#c23733,#c74037,#bf3331,#b3292e,#af252c,#ac222b,#a9202b,#a8202b,#a9202b,#a9202b,#a8202b,#a71f2b,#a71f2b)"></i><i style="background:linear-gradient(90deg,#aa212b,#a9202b,#aa202b,#aa212b,#ab212b,#ac222b,#ac222b,#ae232c,#b3282e,#c23733,#c94239,#be3231,#b3282d,#ae242c,#ac222b,#a8202b,#a8202b,#a8202b,#a9202b,#a9202b,#a8202b,#a8202b)"></i><i style="background:linear-gradient(90deg,#a9202b,#aa212b,#a9202b,#aa202b,#a9202b,#ab212b,#af252c,#b2272d,#b92e2f,#ce4c3e,#d45542,#c03432,#b4292e,#af252c,#aa212b,#a9202b,#a8202b,#a9202b,#a8202b,#aa202b,#a8202b,#a8202b)"></i><i style="background:linear-gradient(90deg,#ae232c,#af242c,#ae232c,#b0262d,#ad232c,#b0252d,#af242c,#b3282e,#b62b2f,#c33834,#cc483c,#c13632,#b3282d,#af242c,#b0252c,#ab212b,#ab212b,#ab212b,#ac222b,#ad232c,#ab212b,#ab212b)"></i><i style="background:linear-gradient(90deg,#aa212b,#a8202b,#a9202b,#a8202b,#a8202b,#ab212b,#aa212b,#ad222b,#b52a2e,#bf3331,#c73f37,#c03532,#b0262d,#ae242c,#aa202b,#a9202b,#a8202b,#a8202b,#a9202b,#a9202b,#a71f2b,#a8202b)"></i><i style="background:linear-gradient(90deg,#ab212b,#ab212b,#aa212b,#a9202b,#a9202b,#ab212b,#ae242c,#b0252c,#b72c2f,#c94239,#ce4b3d,#bd3131,#b1262d,#ab212b,#aa212b,#a8202b,#a8202b,#a71f2b,#a9202b,#a71f2b,#a8202b,#a9202b)"></i><i style="background:linear-gradient(90deg,#ad232c,#ad222b,#ad232c,#ae242c,#af242c,#af252c,#af252c,#b2272d,#bb3030,#c94339,#c23633,#b62b2e,#af252c,#af252c,#aa212b,#ac222b,#ab212b,#aa212b,#ab212b,#aa212b,#ab212b,#aa212b)"></i><i style="background:linear-gradient(90deg,#ac222b,#aa212b,#ac222b,#ad232c,#ae232c,#ae242c,#b0262d,#b52a2e,#ba2f30,#c84038,#c84138,#be3331,#b4292e,#b1262d,#ac222b,#ab212b,#ab212b,#ac222b,#ab212b,#ac222b,#aa212b,#aa212b)"></i></div>
<div class="hm" style="left:74.9px;top:88.3px;width:53.9px;height:356.7px"><i style="background:linear-gradient(90deg,#cf4d3e,#ce4a3d,#da5f47,#e47050,#ec9771,#efb28c,#e1dcd5,#c9d6e2,#94b5d8,#6287bf,#5e82bc,#7096c8,#a4c1de,#dedbd6,#efba96,#ed9b74,#e36e4f,#d04e3f,#c53c35,#c23632,#ba2f30,#bc3130)"></i><i style="background:linear-gradient(90deg,#cb463b,#cb453a,#d15040,#dd644a,#e67957,#efb48e,#eccfb5,#bccfe2,#6f95c7,#3d54a1,#394c9d,#668bc1,#a2c0de,#dddbd7,#f0c09d,#e7815e,#da5e47,#ca4439,#c33934,#c03432,#bf3331,#c33934)"></i><i style="background:linear-gradient(90deg,#c94239,#cb473b,#cc473b,#da5f47,#e47251,#eeaa84,#ead1ba,#b6cce1,#84a7d2,#4867ac,#2f3b93,#394d9d,#97b7d9,#dadad9,#efbb96,#ea8d68,#db6249,#c43a35,#be3231,#b92d2f,#bc3030,#b62b2f)"></i><i style="background:linear-gradient(90deg,#cc473b,#cd4a3d,#d25140,#d55744,#d95d46,#e88360,#efb893,#e4d9cd,#b5cbe1,#7399ca,#6185be,#85a9d2,#c6d5e4,#edceb1,#ec9771,#df684c,#d15040,#c84238,#c53c35,#c43a35,#c03432,#c03432)"></i><i style="background:linear-gradient(90deg,#c73f37,#cd483c,#cf4d3e,#d45542,#dc6249,#e98965,#f0c19d,#cfd7df,#acc6e0,#6d93c6,#7499ca,#95b5d8,#c0d1e3,#e3dad0,#eeab85,#e57353,#d04f3f,#c53c36,#c43a35,#c13532,#bd3231,#c13532)"></i><i style="background:linear-gradient(90deg,#c73e37,#c84138,#c73f37,#d35341,#e16c4e,#ea8d69,#f0c6a3,#dcdbd7,#bdd0e2,#85a8d2,#6185be,#7398ca,#a4c2de,#cdd7e0,#f0c4a1,#eb916c,#e0694c,#d45442,#c84138,#c63d36,#c53b35,#be3331)"></i><i style="background:linear-gradient(90deg,#c63d36,#c94239,#c84138,#cf4c3e,#d55743,#e8825f,#efb48f,#dddbd7,#a5c2de,#6387bf,#425ea6,#7aa0ce,#99b9da,#dddbd7,#efb691,#e57756,#ce4a3d,#c73f37,#c13532,#bf3331,#bb3030,#be3231)"></i><i style="background:linear-gradient(90deg,#c63e36,#c94239,#cc473b,#d35341,#dd654a,#e98b67,#efb792,#ebd0b7,#cbd6e1,#8dafd5,#80a4d0,#b2cae1,#bfd1e3,#ead1ba,#efb08a,#e98864,#d35341,#cc473b,#c33934,#c33934,#c23633,#bc3130)"></i><i style="background:linear-gradient(90deg,#ca443a,#cc473b,#ce4b3d,#da6048,#e06a4d,#eb916c,#f0c3a0,#d5d9db,#99b9da,#80a4d0,#6f94c7,#b6cce1,#d2d8dd,#efbc98,#eb926d,#d85c46,#c43a35,#c03432,#ba2f30,#b82d2f,#b62b2e,#ba2f30)"></i><i style="background:linear-gradient(90deg,#cc473b,#cd493c,#d04e3f,#d45542,#d55643,#e77d5b,#ed9b74,#efcbab,#cad6e2,#9cbbdb,#658ac1,#85a9d2,#c1d2e3,#e5d8ca,#eeaa83,#e16b4d,#ca453a,#c03432,#b72c2f,#b92e2f,#b4292e,#b3282e)"></i><i style="background:linear-gradient(90deg,#c23733,#c33833,#c33833,#cb453a,#d35442,#e47050,#eeab84,#ecd0b6,#d8dad9,#96b6d9,#9dbcdc,#bccfe2,#d8dada,#f0c7a4,#ea8c68,#dc6249,#c84038,#be3231,#bc3030,#b72c2f,#b62b2e,#b62b2f)"></i><i style="background:linear-gradient(90deg,#c23733,#c53b35,#c63d36,#c94239,#d35442,#e47050,#efad87,#e4dace,#9dbcdc,#5174b3,#6589c0,#5e82bc,#ccd6e1,#edcdb0,#eb936d,#dc6249,#c53b35,#c13532,#bc3030,#b82d2f,#ba2e30,#bc3030)"></i><i style="background:linear-gradient(90deg,#c73f37,#cd4a3d,#cf4c3e,#d04f3f,#ce4c3d,#de664b,#e7805e,#efb38e,#d8d9da,#b9cde2,#a2c0de,#88abd3,#d7d9db,#f0c6a4,#e77e5c,#cd493c,#c23632,#b82d2f,#b4292e,#b3282d,#b4292e,#b3292e)"></i><i style="background:linear-gradient(90deg,#cd493c,#cd493c,#cd493c,#ce4b3d,#d45542,#e47252,#ec9a73,#e8d4c0,#cbd6e1,#97b7d9,#81a5d1,#b5cbe1,#e8d4c0,#eea881,#e67c5a,#cc483c,#c33934,#c13532,#c03432,#bf3331,#be3331,#be3231)"></i><i style="background:linear-gradient(90deg,#be3231,#bd3231,#c53c36,#c43b35,#d15040,#e16b4d,#efb48f,#e8d4c1,#9dbcdb,#5274b3,#6c91c5,#aec7e0,#e3dad0,#eeaa83,#e67c5a,#d04e3f,#c63e36,#bf3331,#bc3130,#b92e2f,#b92e2f,#bd3231)"></i><i style="background:linear-gradient(90deg,#c33833,#c63e37,#ca4339,#cf4c3e,#d45542,#e47151,#eea67f,#eccfb4,#b4cbe1,#a9c4df,#88abd3,#c2d3e3,#d9dad9,#efb48f,#e88461,#d55643,#c84138,#bd3231,#bb2f30,#bb3030,#be3331,#bf3331)"></i><i style="background:linear-gradient(90deg,#c73e37,#c84138,#c53d36,#cb463a,#d25140,#e26d4e,#ea8c68,#ecd0b6,#bbcee2,#85a9d2,#84a7d1,#779dcc,#d4d9dc,#f0c3a0,#ea906b,#d45542,#c23632,#bb3030,#b62b2f,#b2282d,#b3282d,#b52a2e)"></i><i style="background:linear-gradient(90deg,#bc3130,#bf3331,#c43934,#c63d36,#ca443a,#e16b4e,#ec9972,#f0caa7,#d4d8dc,#b2c9e1,#9fbedd,#bfd1e3,#e7d6c5,#efb48f,#e67857,#ce4b3d,#c53c35,#bd3231,#bc3131,#bb2f30,#b92e30,#ba2e30)"></i><i style="background:linear-gradient(90deg,#c53c36,#ca443a,#ca453a,#c94339,#cd493c,#d55643,#e98763,#efb590,#dadad8,#b2cae1,#98b8d9,#9bbadb,#c8d5e3,#eecdaf,#e98965,#d95d46,#cc473b,#c23633,#c03432,#bd3131,#be3331,#b92e30)"></i><i style="background:linear-gradient(90deg,#c23733,#bd3231,#c43b35,#c74037,#d45542,#e36e4f,#eeab85,#e8d5c2,#97b7d9,#668ac1,#8eb0d6,#d8d9da,#efb18b,#e57655,#d04f3f,#c53c35,#bf3331,#bc3030,#b92e2f,#b62b2f,#b82d2f,#b72c2f)"></i><i style="background:linear-gradient(90deg,#c23633,#c13632,#bf3432,#c33934,#cc483b,#d25241,#e0684c,#eea57d,#e6d7c7,#d0d7de,#bcd0e2,#dfdbd6,#efbf9b,#e88663,#d14f3f,#c23633,#ba2e30,#b82d2f,#b4292e,#b52a2e,#b72c2f,#b62b2f)"></i><i style="background:linear-gradient(90deg,#bb2f30,#bb2f30,#c13532,#c23733,#c23733,#d14f3f,#de664b,#eea179,#e0dbd5,#a6c3de,#93b4d8,#9fbddc,#dedbd6,#efbc98,#e57454,#cd493c,#c03432,#bd3131,#b92e2f,#ba2e30,#b52a2e,#b92d2f)"></i><i style="background:linear-gradient(90deg,#c43b35,#c74037,#c43b35,#c94238,#ca443a,#da5f47,#e67857,#efb995,#e3dbd1,#ced7e0,#b4cbe1,#d8d9da,#efcbab,#eb916c,#d65844,#c43b35,#bd3131,#b82d2f,#b62b2f,#b4292e,#b52a2e,#b2272d)"></i><i style="background:linear-gradient(90deg,#be3331,#c03432,#bc3030,#c23733,#c43a34,#d65844,#e57756,#efbd99,#e5d8cb,#b5cce1,#93b3d7,#c8d6e3,#e4dace,#eea179,#de664b,#d04f3f,#c13532,#bf3331,#bf3331,#be3331,#bc3030,#b92e30)"></i><i style="background:linear-gradient(90deg,#bc3131,#c23633,#be3231,#c53b35,#c84138,#d65844,#e67c5a,#efb28c,#dbdad8,#b9cee2,#aec7e0,#e0dbd5,#efb894,#e67b5a,#d04f3f,#c13532,#bb2f30,#b52a2e,#b72c2f,#b62b2e,#b72c2f,#b3282e)"></i><i style="background:linear-gradient(90deg,#c23733,#c23733,#c13532,#c33834,#c63e36,#ca453a,#d65944,#e67957,#efb691,#d8d9da,#bfd1e3,#d5d9db,#efc09c,#e77e5c,#d35341,#c63e37,#c43a34,#be3331,#bb2f30,#ba2f30,#bb2f30,#bb2f30)"></i><i style="background:linear-gradient(90deg,#c33833,#c53c36,#c94239,#ca443a,#c94339,#d14f3f,#e26c4e,#ec9670,#edceb1,#bbcfe2,#bbcfe2,#d8d9da,#efb48e,#e88561,#d45542,#c43934,#c13532,#b92e30,#b92d2f,#b72c2f,#b82d2f,#b72c2f)"></i><i style="background:linear-gradient(90deg,#bc3030,#bb2f30,#bc3131,#c03432,#c63e36,#cf4d3e,#df684c,#eea179,#e7d6c5,#cbd6e1,#c1d2e3,#d9dad9,#efb38e,#e7815f,#d04e3f,#c84138,#c03432,#bc3030,#be3231,#b92e30,#bd3131,#bd3131)"></i><i style="background:linear-gradient(90deg,#be3331,#bd3231,#bb3030,#be3231,#c84038,#d35442,#e47151,#efb48e,#e6d7c7,#c5d5e4,#c6d5e4,#cdd7e0,#efbf9b,#e88561,#d04e3f,#c23632,#ba2f30,#b62b2f,#b62b2e,#b2272d,#b1272d,#b2282d)"></i><i style="background:linear-gradient(90deg,#c43b35,#c43934,#c33833,#ca453a,#cb463a,#db6149,#e67857,#efad87,#dcdbd7,#a0bedd,#b9cde2,#e4d9ce,#eea47c,#de664b,#cb463b,#c33934,#bd3131,#b52a2e,#b72c2f,#b2282d,#b62b2e,#b2282d)"></i><i style="background:linear-gradient(90deg,#bc3030,#bd3131,#c23633,#c03432,#c23733,#ca443a,#de674b,#e98864,#efbd99,#ced7df,#bccfe2,#cfd7df,#eccfb3,#e98b67,#d65944,#c94339,#be3231,#b82d2f,#b82d2f,#b82d2f,#b62b2f,#b4292e)"></i><i style="background:linear-gradient(90deg,#bc3030,#bb3030,#bb3030,#bf3331,#c23733,#cb463b,#d95e47,#e98965,#edceb3,#d5d9db,#9cbcdb,#c3d4e4,#f0caa9,#e7815e,#d35341,#c43934,#bb3030,#b52a2e,#b62b2e,#b52a2e,#b3282e,#b52a2e)"></i><i style="background:linear-gradient(90deg,#c53c35,#c53c36,#c53b35,#c53b35,#ca4439,#d95d46,#e47050,#eeab84,#e7d6c5,#99b9da,#759bcc,#c3d3e4,#efb994,#e98965,#d75b45,#cc473b,#bf3331,#bc3030,#bd3231,#bc3130,#bc3130,#ba2f30)"></i><i style="background:linear-gradient(90deg,#c13532,#c23633,#c23733,#c63d36,#ca443a,#d25241,#db6148,#e88360,#f0caa9,#d3d8dd,#bccfe2,#e6d7c8,#efbd9a,#e88360,#d45643,#c43934,#c13532,#ba2e30,#b52a2e,#b62b2f,#b82d2f,#b52a2e)"></i><i style="background:linear-gradient(90deg,#be3231,#bb2f30,#be3231,#c13532,#c13532,#c63d36,#d75b45,#e7805d,#f0c7a5,#e4d9cd,#c9d6e2,#e8d5c2,#efb18c,#e57655,#d45543,#c43a35,#bc3130,#b52a2e,#b4292e,#b62b2f,#b52a2e,#b52a2e)"></i><i style="background:linear-gradient(90deg,#bc3030,#b92e2f,#be3231,#c03432,#c23633,#ca4339,#d65944,#e67958,#efb28c,#e1dcd4,#dadad8,#e8d4c1,#eeaa83,#e57756,#d15140,#c43934,#c13532,#bd3131,#ba2f30,#ba2f30,#b72c2f,#ba2f30)"></i><i style="background:linear-gradient(90deg,#ba2f30,#bc3131,#bd3231,#bf3331,#c03432,#c94339,#df684c,#ea8c68,#edceb1,#d5d9dc,#b4cbe1,#d5d9dc,#f0c09d,#e88562,#d35341,#c43a35,#bb3030,#b82d2f,#b72c2f,#b92e2f,#b62b2f,#b72c2f)"></i><i style="background:linear-gradient(90deg,#b62b2f,#ba2f30,#bb2f30,#ba2e30,#be3231,#cb453a,#d75a45,#e88360,#f0c7a4,#dcdbd7,#ced7df,#f0caa8,#eea078,#dc6349,#c73f37,#be3231,#b42a2e,#b2272d,#b1262d,#b3282e,#b3282d,#b1262d)"></i><i style="background:linear-gradient(90deg,#c13632,#c23633,#c33833,#c13532,#c63d36,#cf4d3e,#da6048,#e98764,#efb691,#d1d8de,#adc6e0,#c8d5e3,#f0c6a3,#e88461,#d55643,#c73f37,#bd3231,#b92e2f,#b62b2f,#b4292e,#b4292e,#b3282e)"></i><i style="background:linear-gradient(90deg,#bb2f30,#bf3331,#bc3130,#c23733,#c74037,#ce4b3d,#d65944,#e88360,#efbb97,#c8d5e3,#a5c2de,#ced7e0,#efb48f,#e67c5a,#d14f3f,#c94238,#c03532,#b62b2f,#b72c2f,#b72c2f,#b4292e,#b3282e)"></i><i style="background:linear-gradient(90deg,#bd3131,#c23632,#c13532,#c33834,#c73f37,#cd4a3d,#de674b,#e88562,#efbc98,#d6d9db,#b2cae1,#dadad9,#eea67f,#db6048,#cb463b,#bf3331,#b62b2f,#b1262d,#af252c,#b0252d,#b0262d,#b0262d)"></i><i style="background:linear-gradient(90deg,#be3231,#bf3331,#c03432,#c23632,#c23733,#cf4c3e,#dd644a,#e88663,#efb995,#dddbd7,#c6d5e4,#e8d5c2,#eea37b,#e0694c,#cc483c,#be3231,#b3292e,#b2272d,#b2272d,#ae242c,#ad232c,#ad232c)"></i><i style="background:linear-gradient(90deg,#b92e2f,#b82d2f,#bb3030,#ba2e30,#bf3331,#c63e36,#d35341,#e57352,#eea37b,#e3dbd2,#c2d3e3,#d4d9dc,#efb995,#e57655,#d65944,#c84038,#c03432,#bb2f30,#b62b2e,#b52a2e,#b52a2e,#b62b2f)"></i><i style="background:linear-gradient(90deg,#c03432,#bf3331,#be3231,#bf3331,#c53c36,#c73f37,#d35341,#dd644a,#ea8f6a,#eccfb5,#d4d9dc,#e9d3be,#efb792,#e57555,#d15140,#c43a35,#b92d2f,#b72c2f,#b1262d,#b1272d,#b1262d,#b0252d)"></i><i style="background:linear-gradient(90deg,#bd3131,#c03432,#be3331,#c23733,#c43a35,#ca453a,#d65844,#e57655,#eea179,#ead2bc,#d2d8dd,#d8d9da,#efb793,#e67957,#d15140,#c23733,#bb2f30,#b4292e,#b2272d,#b2272d,#b1262d,#b1272d)"></i><i style="background:linear-gradient(90deg,#bd3131,#be3231,#bf3331,#bf3431,#c43934,#cb453a,#d55743,#e57655,#eea982,#dddbd7,#c8d5e3,#e0dcd5,#efb18b,#e67857,#d25241,#c43b35,#be3231,#b72c2f,#b72c2f,#b72c2f,#b62b2f,#b42a2e)"></i><i style="background:linear-gradient(90deg,#bf3331,#bd3131,#c13532,#be3231,#c03432,#c84038,#d04f3f,#da5f47,#e98965,#efccac,#e3dad0,#eecdaf,#eb916c,#d75b45,#c73e37,#c13532,#b52a2e,#b52a2e,#b2282d,#b0252d,#b1272d,#ae242c)"></i><i style="background:linear-gradient(90deg,#bc3030,#b72c2f,#bc3030,#bb3030,#c03432,#c84138,#d25140,#dd644a,#ed9b74,#eccfb5,#e3dad0,#efb48e,#e98b67,#d85b46,#c94239,#ba2f30,#b52a2e,#b52a2e,#b2272d,#b0262d,#af252c,#b0262d)"></i><i style="background:linear-gradient(90deg,#be3231,#bd3231,#be3231,#c03432,#c53c36,#c84138,#d14f3f,#e47252,#efb18b,#e5d9cc,#dddbd7,#e7d5c3,#eea47d,#dc6349,#d04e3f,#c33834,#b62b2f,#b52a2e,#b2272d,#b1262d,#b1262d,#b0252c)"></i><i style="background:linear-gradient(90deg,#b82d2f,#b72c2f,#bb3030,#bd3231,#c23632,#c43934,#cd493c,#e57655,#eea881,#ebd1b8,#cdd7e0,#ead2bb,#eeac85,#e47151,#d1503f,#c13532,#bf3331,#ba2f30,#b82d2f,#b62b2f,#b4292e,#b72c2f)"></i><i style="background:linear-gradient(90deg,#be3231,#bb3030,#bd3231,#be3231,#c33834,#cd493c,#d45442,#e57655,#efb690,#e6d7c7,#d1d8de,#dcdbd7,#eea47d,#e57453,#d25241,#c43a35,#b92e30,#b62b2e,#b62b2e,#b72c2f,#b52a2e,#b52a2e)"></i><i style="background:linear-gradient(90deg,#ba2f30,#b72c2f,#ba2f30,#bd3131,#bd3131,#c74037,#cd4a3c,#e57454,#ed9f77,#e8d4c1,#d3d8dd,#ead2bb,#eb946e,#d95d46,#cb463b,#c13532,#b72c2f,#b52b2e,#b72c2f,#b4292e,#b2272d,#b4292e)"></i><i style="background:linear-gradient(90deg,#bc3131,#c23633,#bf3331,#c03432,#c73e37,#c73e37,#d25241,#e57353,#eea57d,#f0c9a7,#e7d5c4,#efb590,#e88360,#d25140,#c43a35,#bc3030,#b52a2e,#b62b2e,#b2272d,#b2282d,#b1272d,#b2272d)"></i><i style="background:linear-gradient(90deg,#b72c2f,#b62b2f,#b72c2f,#be3231,#bd3131,#c63d36,#d55743,#e16b4d,#eea47d,#e6d7c7,#cfd7df,#f0c19e,#eb916c,#d55743,#ca453a,#c23733,#ba2f30,#b72c2f,#b52a2e,#b3282e,#b72c2f,#b4292e)"></i><i style="background:linear-gradient(90deg,#bd3131,#bb2f30,#bc3030,#bd3231,#c13532,#c63d36,#cd4a3c,#d55743,#eb916c,#efb691,#e4d9cd,#efbd99,#ec9a73,#de664b,#c84138,#c43a35,#bd3131,#b72c2f,#b92e30,#b72c2f,#b62b2f,#b92d2f)"></i><i style="background:linear-gradient(90deg,#b4292e,#b82d2f,#b62b2f,#ba2f30,#bf3331,#c53c36,#d15140,#e57352,#eea079,#dbdad8,#ccd7e1,#f0c4a1,#e8825f,#d85c46,#cd493c,#c23733,#ba2f30,#b92e30,#b52a2e,#b72c2f,#b72c2f,#b4292e)"></i><i style="background:linear-gradient(90deg,#bc3131,#b82d2f,#bd3131,#bc3030,#bf3331,#c94239,#ce4b3d,#dd634a,#eb926d,#ebd1b9,#e0dbd5,#f0c8a6,#eb936d,#da5f47,#ce4b3d,#c23633,#bd3131,#bb3030,#b62b2e,#b92e2f,#b62b2f,#b72c2f)"></i><i style="background:linear-gradient(90deg,#ba2f30,#b82d2f,#be3231,#bd3231,#c13532,#c63d36,#ca453a,#da5f47,#e88461,#edceb2,#cbd6e1,#e2dcd4,#efad87,#e16b4e,#cc483c,#c43a34,#ba2f30,#b62b2f,#b4292e,#b3282d,#b52a2e,#b42a2e)"></i><i style="background:linear-gradient(90deg,#be3231,#c13532,#be3331,#bd3131,#c03432,#c63d36,#d25140,#e36e4f,#eea47c,#efccad,#dedbd6,#e6d7c8,#eeab84,#e16c4e,#ca4439,#be3231,#b82d2f,#b4292e,#b0252c,#b2272d,#ae232c,#ae242c)"></i><i style="background:linear-gradient(90deg,#ba2f30,#ba2e30,#bc3030,#bf3432,#c13532,#c73e37,#d75b45,#e7815f,#efbc98,#e2dcd4,#d5d9db,#eccfb4,#eb926d,#d65944,#cc473b,#c03432,#b62b2e,#b4292e,#b1262d,#b2272d,#b2282d,#b4292e)"></i><i style="background:linear-gradient(90deg,#b92e2f,#ba2f30,#ba2f30,#bf3331,#be3231,#c94239,#d25240,#db6249,#eea37b,#ebd0b8,#e2dcd4,#f0c19d,#e88561,#d55743,#c94238,#bd3131,#b62b2e,#b62b2f,#b62b2f,#b1272d,#b52a2e,#b2282d)"></i><i style="background:linear-gradient(90deg,#b4292e,#b42a2e,#b72c2f,#b62b2e,#be3331,#c33834,#d04e3f,#db6048,#ed9f78,#edcdb0,#e3dbd1,#ead1ba,#ed9c75,#df674c,#cc473b,#bf3431,#bb3030,#b52a2e,#b3282e,#b52a2e,#b4292e,#b4292e)"></i><i style="background:linear-gradient(90deg,#bb3030,#ba2e30,#bb3030,#bf3331,#bf3331,#ca443a,#d35442,#e7805d,#efb995,#e6d7c7,#ebd0b7,#efb692,#e67856,#d25241,#c33934,#b82d2f,#b4292e,#af252c,#b1262d,#b1272d,#b1262d,#b0262d)"></i><i style="background:linear-gradient(90deg,#bd3231,#bd3131,#bf3331,#bb3030,#c53b35,#cb453a,#d15040,#e57454,#ec9a73,#ecd0b6,#ead2bc,#efb792,#e77e5c,#d55743,#c23733,#bd3231,#b72c2f,#b2282d,#b4292e,#b2272d,#b0252c,#b1272d)"></i><i style="background:linear-gradient(90deg,#bd3131,#b72c2f,#bd3231,#bc3130,#bf3331,#c23733,#c73f37,#d15140,#e47151,#eea67f,#f0c29f,#efb994,#ea8e69,#d75a45,#c63e36,#bb3030,#b72c2f,#b3282d,#af242c,#af252c,#b1262d,#ae232c)"></i><i style="background:linear-gradient(90deg,#b72c2f,#ba2f30,#b92e2f,#b92e30,#bf3331,#c53b35,#d04e3f,#df674c,#ec9871,#eeccae,#e3dbd2,#efcbaa,#ec9771,#df674c,#cb453a,#be3231,#b62b2f,#b72c2f,#b2282d,#b4292e,#b52a2e,#b42a2e)"></i><i style="background:linear-gradient(90deg,#b82c2f,#bc3130,#b92e2f,#bf3432,#bc3030,#c53c36,#c94339,#da5f47,#e98763,#eeccae,#e6d7c7,#ebd0b7,#ed9d76,#d65844,#ca453a,#bb3030,#b82d2f,#b52a2e,#af252c,#b2272d,#b0252d,#af252c)"></i><i style="background:linear-gradient(90deg,#b72c2f,#b52a2e,#b62b2e,#b92e2f,#bf3331,#c13632,#d35442,#e7805d,#efb18b,#e5d8c9,#d5d9db,#f0c4a1,#e88562,#d85c46,#c43a35,#bb2f30,#b2282d,#b1272d,#ae242c,#b0252c,#ae242c,#b0262d)"></i><i style="background:linear-gradient(90deg,#b92e30,#ba2f30,#b82d2f,#bb3030,#c03432,#c13532,#ca4339,#d95e47,#e7815e,#efaf89,#edceb3,#efb38d,#e8825f,#d25241,#c63d36,#ba2f30,#b72c2f,#b4292e,#af252c,#b1272d,#b2272d,#b1262d)"></i><i style="background:linear-gradient(90deg,#b4292e,#b3282d,#b52a2e,#b72c2f,#bb2f30,#be3231,#c74037,#e16b4d,#ed9c75,#efbe9b,#f0c7a4,#eeac85,#e47050,#d35341,#c13532,#bd3131,#b62b2f,#b3282e,#b3282d,#b2282d,#b0262d,#b1272d)"></i><i style="background:linear-gradient(90deg,#af242c,#b1272d,#b2282d,#b2282d,#b52a2e,#bd3231,#c23633,#d04f3f,#e26c4e,#efad87,#e5d8ca,#eecdae,#ec9670,#de664b,#ce4b3d,#c53b35,#bc3030,#b62b2f,#b72c2f,#b3282d,#b52a2e,#b52a2e)"></i><i style="background:linear-gradient(90deg,#b2272d,#b3292e,#b4292e,#b62b2f,#bd3131,#c53c36,#d14f3f,#e26d4e,#eeaa84,#efcbaa,#efb28d,#e7815f,#d14f3f,#c63e37,#c13532,#b62b2e,#b52a2e,#b1272d,#b3282d,#b3282e,#b3282e,#b3282e)"></i><i style="background:linear-gradient(90deg,#b3282d,#b72c2f,#b4292e,#b82d2f,#ba2e30,#c13532,#ca443a,#d45542,#e98b66,#f0c9a7,#e5d8cb,#f0c9a7,#e88562,#d95d47,#c53b35,#b92e2f,#b4292e,#b2272d,#b0262d,#ae242c,#ad232c,#ae242c)"></i><i style="background:linear-gradient(90deg,#b82d2f,#ba2f30,#b92e2f,#b82d2f,#bd3131,#c33834,#c94239,#d35341,#e77d5b,#f0c4a1,#e7d6c5,#eeccad,#eea780,#e47150,#d04e3f,#c43a35,#bc3030,#b62b2f,#b52a2e,#b42a2e,#b2272d,#b1272d)"></i><i style="background:linear-gradient(90deg,#b3292e,#b3282e,#b4292e,#b82d2f,#be3231,#bf3331,#c84038,#db6149,#e98a66,#efb792,#ead1ba,#eea37b,#e57352,#d25241,#c63e37,#c03432,#b92d2f,#b4292e,#b2282d,#b52a2e,#b4292e,#b3282d)"></i><i style="background:linear-gradient(90deg,#b4292e,#b3282e,#b62b2e,#b62b2e,#b82d2f,#c23733,#c94239,#d75a45,#e67c5a,#f0c8a5,#f0cbaa,#eb916c,#d75945,#c63d36,#bc3030,#b52a2e,#b1272d,#b0252d,#ae242c,#ac222b,#ad232c,#ac222b)"></i><i style="background:linear-gradient(90deg,#b52a2e,#b3282e,#b1262d,#b3282e,#b92d2f,#c23733,#cc473b,#d75a45,#e88662,#efb994,#e6d7c8,#efb48f,#e36f50,#d25241,#c63d36,#c03432,#b4292e,#b2272d,#b0262d,#b0252d,#b0262d,#b0262d)"></i><i style="background:linear-gradient(90deg,#b1272d,#b3282e,#b2272d,#b3282e,#b72c2f,#b92e2f,#c63e37,#ce4a3d,#e67957,#efb792,#efbb97,#eea27b,#e67957,#d15040,#c23633,#b82d2f,#b52a2e,#b2272d,#b0252c,#b0262d,#b1262d,#b0252c)"></i><i style="background:linear-gradient(90deg,#b3282e,#b62b2f,#b52a2e,#b92d2f,#ba2e30,#c13532,#c73f37,#d14f3f,#e77d5b,#efbd99,#e7d5c4,#eccfb3,#ea8d69,#da6048,#c53d36,#c03432,#b82d2f,#b42a2e,#b0252d,#b0262d,#b1272d,#b0262d)"></i><i style="background:linear-gradient(90deg,#b1262d,#b2282d,#b1272d,#b4292e,#b82d2f,#ba2f30,#c33834,#d25241,#e16b4d,#eea078,#efbd99,#ea906b,#d85b45,#cc473b,#bf3331,#b72c2f,#b82d2f,#b52a2e,#b3282d,#b3292e,#b1262d,#b2272d)"></i><i style="background:linear-gradient(90deg,#b62b2e,#b82d2f,#b92d2f,#ba2f30,#bd3131,#c03432,#c63e36,#d04e3f,#e57352,#eea780,#f0c3a0,#eb946e,#e0694c,#c73f37,#bd3131,#b92e2f,#b1272d,#b0252d,#ad232c,#ae242c,#ac222b,#ae242c)"></i><i style="background:linear-gradient(90deg,#b72c2f,#b52a2e,#b52a2e,#b82d2f,#bd3231,#c13632,#c94239,#d35341,#e98b66,#efb28d,#f0c4a2,#eea47c,#e57353,#c94339,#be3331,#b82c2f,#b3282d,#b3282d,#af252c,#af242c,#b1262d,#af242c)"></i><i style="background:linear-gradient(90deg,#b1262d,#b1262d,#b2272d,#b52a2e,#b92e2f,#ba2f30,#c23733,#d14f3f,#e67a58,#efbf9b,#e6d6c6,#eecdaf,#ea8d68,#d75a45,#c94339,#b92d2f,#b2272d,#ae242c,#b0252d,#ae242c,#ae242c,#ae242c)"></i><i style="background:linear-gradient(90deg,#b2282d,#b62b2e,#b62b2e,#b4292e,#b72c2f,#bb3030,#c33834,#d04f3f,#df684c,#eea47c,#f0c3a0,#efbe9a,#e67b59,#d35341,#c13532,#ba2e30,#b62b2e,#b1262d,#ad222b,#b0252d,#ae242c,#ae242c)"></i><i style="background:linear-gradient(90deg,#b4292e,#b3282d,#b52a2e,#b52a2e,#b92d2f,#bf3331,#cc473b,#dd644a,#eb956f,#eecdaf,#eecdaf,#eea880,#dc6249,#ca453a,#bc3030,#b52a2e,#b0262d,#ae242c,#ad232c,#ae242c,#ad232c,#ac222b)"></i><i style="background:linear-gradient(90deg,#b1272d,#af242c,#af242c,#b1262d,#b52a2e,#ba2f30,#c03432,#cd4a3d,#e57756,#efac86,#efc09c,#ed9e77,#e46f50,#cf4d3e,#c43a35,#bd3131,#b52a2e,#b2272d,#b1262d,#b2282d,#b3282d,#b1262d)"></i><i style="background:linear-gradient(90deg,#b3282d,#b42a2e,#b42a2e,#b52a2e,#bd3131,#c03432,#c53c36,#d55743,#e47251,#eea780,#efba96,#ea8e69,#d65944,#c33934,#bc3130,#b3282d,#af252c,#b1262d,#ac222b,#ac222b,#ac222b,#af242c)"></i><i style="background:linear-gradient(90deg,#af242c,#b1272d,#af252c,#b2282d,#b3282e,#b62b2e,#c13532,#cb463b,#db6048,#ea8f6a,#efc09c,#ec9a73,#de664b,#ca443a,#be3231,#b62b2e,#b4292e,#ae242c,#b0252d,#ae242c,#ac222b,#ac222b)"></i><i style="background:linear-gradient(90deg,#b52a2e,#b52a2e,#b72b2f,#b42a2e,#b82d2f,#c03432,#c63d36,#d35341,#e88461,#f0c4a1,#e8d4c0,#efb994,#e57655,#d04e3f,#c03432,#b62b2f,#b0262d,#af252c,#af242c,#ae232c,#ac212b,#ad232c)"></i><i style="background:linear-gradient(90deg,#b52a2e,#b52a2e,#b72c2f,#ba2e30,#bf3331,#c33934,#c94239,#d45442,#e77d5b,#efad87,#eb946e,#dc6249,#cc483b,#be3331,#ba2f30,#b4292e,#b0262d,#b1262d,#ad232c,#ad232c,#ae242c,#b0252d)"></i><i style="background:linear-gradient(90deg,#b52a2e,#b3282e,#b42a2e,#b82c2f,#b82c2f,#bc3131,#c43b35,#ca443a,#e36f4f,#ed9b74,#edceb3,#eeaa83,#e16a4d,#cf4c3e,#c33833,#b92e2f,#b62b2e,#b4292e,#b0262d,#b3282d,#b0262d,#b1272d)"></i><i style="background:linear-gradient(90deg,#b2272d,#b3282e,#b2282d,#b4292e,#b4292e,#bb3030,#c03432,#cc483c,#dd654a,#eb916c,#efb18b,#e98763,#d14f3f,#c43a35,#bb3030,#b92e30,#b2272d,#b1272d,#b2282d,#b0262d,#b0262d,#af252c)"></i><i style="background:linear-gradient(90deg,#b2282d,#b2272d,#b62b2e,#b62b2f,#b52a2e,#b92e2f,#c03432,#cd4a3c,#e47050,#eea27b,#ed9c75,#dd644a,#c84238,#bb2f30,#b62b2f,#b1262d,#ae232c,#ab212b,#ab212b,#ad232c,#ad232c,#ac222b)"></i><i style="background:linear-gradient(90deg,#b3282e,#b0262d,#b3282d,#b62b2f,#b72c2f,#bd3131,#c53c35,#d45643,#e57453,#efae88,#efb590,#ea8c67,#d65844,#c94339,#bd3231,#b92e2f,#b4292e,#b2272d,#b3282e,#af252c,#b1272d,#b0262d)"></i><i style="background:linear-gradient(90deg,#b1262d,#b2272d,#b3282d,#b2272d,#b92e2f,#bc3130,#c33934,#ce4b3d,#e77f5d,#efbc98,#efba96,#e7805d,#d65844,#c43a35,#c13532,#b52a2e,#b1272d,#b1262d,#b1262d,#af242c,#b0252c,#b3282d)"></i><i style="background:linear-gradient(90deg,#ae242c,#ae242c,#b0262d,#b1272d,#b42a2e,#bd3131,#c84038,#d55743,#eb936d,#f0c7a4,#efccad,#ed9e77,#da5f48,#cc473b,#be3231,#b72c2f,#b42a2e,#b1262d,#af252c,#b1272d,#b3282d,#af242c)"></i><i style="background:linear-gradient(90deg,#ad232c,#b0252d,#af252c,#b1262d,#b4292e,#bb2f30,#c03432,#cd493c,#db6048,#ed9c75,#efaf89,#ea8f6a,#dc6349,#cb453a,#be3231,#b52a2e,#b1272d,#b1272d,#ae242c,#ad232c,#af252c,#ae242c)"></i><i style="background:linear-gradient(90deg,#b62b2e,#b4292e,#b92d2f,#b82c2f,#bc3030,#c13632,#c53b35,#d55743,#e57655,#eea57e,#f0c9a7,#ec9670,#e46f50,#cd493c,#c13532,#bb2f30,#b52a2e,#b2282d,#af252c,#ae242c,#b1272d,#b1272d)"></i><i style="background:linear-gradient(90deg,#b2272d,#b2272d,#b0262d,#b1272d,#b4292e,#ba2f30,#c23733,#ce4b3d,#e26c4e,#eea37b,#efb28c,#e98a65,#d85b45,#c53c36,#be3331,#b62b2f,#af252c,#b0252d,#ac222b,#ac222b,#af242c,#ae232c)"></i><i style="background:linear-gradient(90deg,#b3292e,#b4292e,#b42a2e,#b82d2f,#ba2f30,#c03432,#c33833,#d04f3f,#e26c4e,#ec9a74,#efaf8a,#e98764,#db6048,#c43934,#b92d2f,#b52a2e,#b1262d,#ac222b,#ac222b,#ac222b,#aa212b,#ab212b)"></i><i style="background:linear-gradient(90deg,#b52a2e,#b3282d,#b82c2f,#b42a2e,#b92d2f,#be3231,#c63d36,#cf4c3e,#e57655,#ed9e77,#ed9e77,#e67a59,#d15040,#c23633,#b92e30,#b1272d,#ad232c,#ac222b,#ab212b,#aa202b,#ab212b,#ab212b)"></i><i style="background:linear-gradient(90deg,#b0262d,#b3282d,#b4292e,#b4292e,#b4292e,#bb3030,#c13532,#cd4a3d,#d95e47,#ed9d76,#eeaa83,#ea906b,#d85b45,#c33934,#bf3331,#b72c2f,#b2272d,#af252c,#af252c,#b0252c,#af252c,#ad232c)"></i><i style="background:linear-gradient(90deg,#b2272d,#b52a2e,#b2282d,#b3282d,#b62b2e,#ba2f30,#bf3431,#cd493c,#d95d46,#ea8f6a,#eeac85,#e47151,#cc483b,#c23633,#b82d2f,#b4292e,#ae242c,#af252c,#ac222b,#ae242c,#b0252c,#af252c)"></i><i style="background:linear-gradient(90deg,#b0262d,#b3282e,#b2272d,#b52a2e,#b4292e,#b62b2f,#bc3030,#c63d36,#d85c46,#e88561,#efb691,#efb28c,#e67c5a,#d35442,#c33834,#b82d2f,#b1262d,#ad232c,#ab212b,#aa212b,#aa212b,#aa212b)"></i><i style="background:linear-gradient(90deg,#b52a2e,#b3282e,#b72c2f,#b82d2f,#ba2f30,#c03432,#c63d36,#d04e3f,#dc6349,#eeaa83,#efb590,#ea8e69,#d85b45,#c63d36,#bd3131,#b92d2f,#b3282e,#b2282d,#ae242c,#af252c,#af252c,#ad232c)"></i><i style="background:linear-gradient(90deg,#b1272d,#b2282d,#b3282d,#b42a2e,#b72c2f,#ba2e30,#be3231,#c84238,#d65844,#eb936e,#eeaa83,#eb916c,#db6048,#c43934,#bf3331,#b3282d,#b1262d,#ad232c,#ac222b,#ad232c,#ac222b,#ab212b)"></i><i style="background:linear-gradient(90deg,#ad232c,#b1262d,#ae242c,#b2282d,#b4292e,#b82d2f,#bd3231,#ca443a,#db6148,#ed9c75,#eea57e,#e57554,#d15140,#c23733,#bd3231,#b52a2e,#b2272d,#b1262d,#b3282e,#b2272d,#b0262d,#b2272d)"></i><i style="background:linear-gradient(90deg,#b1262d,#ad232c,#b1262d,#b2272d,#b2272d,#b92e2f,#c03432,#ca443a,#de664b,#ed9e77,#eea57e,#e77d5b,#d14f3f,#c73f37,#bf3331,#b92d2f,#b4292e,#b3282e,#b1262d,#af252c,#ae242c,#b1262d)"></i><i style="background:linear-gradient(90deg,#ae232c,#b0252d,#af242c,#ae242c,#b0262d,#b92e30,#bb3030,#c94239,#d45542,#ea8e69,#eea67e,#e88662,#d15140,#c53b35,#be3231,#b52a2e,#af252c,#b0262d,#af252c,#ad232c,#ad232c,#ab212b)"></i><i style="background:linear-gradient(90deg,#af252c,#b0262d,#af242c,#b2282d,#b1272d,#b52a2e,#b72c2f,#c13532,#cd493c,#e47151,#ed9e76,#eb946e,#d95e47,#c43934,#bc3030,#b2272d,#af242c,#aa212b,#ab212b,#ab212b,#aa212b,#ac222b)"></i><i style="background:linear-gradient(90deg,#b0252c,#af252c,#af252c,#b1262d,#b62b2f,#ba2f30,#c13632,#c84138,#dc6349,#eea179,#efae88,#de664b,#c84138,#bf3331,#b4292e,#b2272d,#ac212b,#ae242c,#ab212b,#ab212b,#ab212b,#ac222b)"></i><i style="background:linear-gradient(90deg,#b0262d,#b1262d,#af252c,#b2272d,#b42a2e,#b82d2f,#c43934,#cb463a,#df674c,#ec9771,#eea982,#ed9b74,#dd644a,#c94339,#bf3331,#bb2f30,#b3282e,#b1272d,#b1272d,#b2272d,#b1272d,#b1272d)"></i><i style="background:linear-gradient(90deg,#b72c2f,#b62b2e,#b62b2f,#b72c2f,#b92e2f,#bc3030,#bd3231,#c63d36,#d25241,#e98a66,#eea37b,#e98763,#d65944,#c84138,#b92e30,#b62b2f,#b0262d,#b2272d,#ae232c,#ae232c,#ae242c,#ad232c)"></i><i style="background:linear-gradient(90deg,#ae242c,#b0262d,#ae242c,#b1272d,#b2282d,#b2282d,#b92e30,#c43a35,#cc483c,#e7815e,#eea67f,#eb916c,#db6249,#c73f37,#bf3431,#b72b2f,#b2272d,#b1262d,#af252c,#ae242c,#ad232c,#ae242c)"></i><i style="background:linear-gradient(90deg,#b2282d,#b2282d,#b52a2e,#b3292e,#b82d2f,#bc3130,#c43a34,#cd493c,#e06a4d,#eb956f,#ed9d76,#e7815f,#d35341,#c43a34,#bc3131,#b3282e,#b2272d,#b0262d,#b0262d,#ae232c,#ad232c,#b1262d)"></i><i style="background:linear-gradient(90deg,#af252c,#ae232c,#ae242c,#ae242c,#b2272d,#b62b2f,#bc3030,#c23733,#d85c46,#e77e5b,#e98a66,#e57353,#cb463a,#c33934,#ba2f30,#b62b2e,#b1262d,#b0252c,#ae242c,#ae242c,#af242c,#b0262d)"></i><i style="background:linear-gradient(90deg,#b52a2e,#b1272d,#b4292e,#b52a2e,#b4292e,#bb2f30,#bf3331,#c13532,#cb463b,#e57554,#e98965,#e46f50,#cb463a,#c03432,#b72c2f,#af252c,#ae232c,#ab212b,#ac222b,#aa212b,#a9202b,#ab212b)"></i><i style="background:linear-gradient(90deg,#b52a2e,#b52a2e,#b42a2e,#b4292e,#b72c2f,#bb2f30,#c23633,#cb473b,#e16b4d,#ec9871,#eb926d,#da5f48,#c63d36,#bf3331,#b42a2e,#b0262d,#ae232c,#af242c,#ad232c,#ac222b,#af242c,#ad232c)"></i><i style="background:linear-gradient(90deg,#b1262d,#ad232c,#b1262d,#b1262d,#b2282d,#b2282d,#bb2f30,#c03432,#cb473b,#e0694c,#e7815e,#e67b59,#d25241,#c03432,#b92d2f,#b3282d,#ae242c,#ad232c,#ac222b,#ab212b,#ac222b,#ab212b)"></i><i style="background:linear-gradient(90deg,#ae242c,#ad232c,#b0262d,#ae232c,#b1272d,#b62b2f,#bf3331,#c84138,#dc6249,#ec9771,#eb926c,#e57554,#cd493c,#c43934,#bb3030,#b52a2e,#b0262d,#b0262d,#b0262d,#af252c,#af252c,#b0262d)"></i><i style="background:linear-gradient(90deg,#b52a2e,#b4292e,#b62b2e,#b2272d,#b72c2f,#b62b2e,#bf3331,#c03432,#d04e3f,#e57555,#ec9771,#e57756,#cd4a3c,#be3331,#b62b2f,#b2282d,#ae242c,#ab212b,#ab212b,#ab212b,#ab212b,#ab212b)"></i><i style="background:linear-gradient(90deg,#b2282d,#b3282e,#b2272d,#b2282d,#b62b2e,#b52a2e,#be3231,#c63d36,#d55643,#e67b59,#eb926c,#e7815f,#da5f47,#c53c35,#bf3331,#b4292e,#b3292e,#b0252c,#ae242c,#ad232c,#ad232c,#ae232c)"></i><i style="background:linear-gradient(90deg,#af242c,#ad232c,#b0252d,#ae242c,#af252c,#b2282d,#b92e30,#c13532,#d45442,#e88562,#e98b66,#e47252,#cb463b,#c03432,#bb3030,#b4292e,#b0262d,#b1272d,#b2272d,#ae242c,#b0252c,#ae242c)"></i><i style="background:linear-gradient(90deg,#ad232c,#ae232c,#ab212b,#ae232c,#ae242c,#b1272d,#b72c2f,#bf3331,#d35341,#e67957,#eb916b,#e88562,#d35442,#c43a34,#bd3131,#b72c2f,#b3282d,#b2272d,#b1262d,#b0252d,#ae242c,#af252c)"></i><i style="background:linear-gradient(90deg,#b4292e,#b3282d,#b42a2e,#b3292e,#b52a2e,#b62b2f,#b92e30,#c13532,#c33934,#dd634a,#e77d5b,#e26d4f,#c94339,#bb3030,#b52a2e,#b1272d,#ad222c,#ad232c,#aa202b,#ab212b,#ab212b,#aa212b)"></i><i style="background:linear-gradient(90deg,#b4292e,#b3292e,#b4292e,#b4292e,#b2282d,#b62b2e,#b92e2f,#bf3331,#c94239,#e36e4f,#e98864,#d85b45,#c33934,#bc3030,#b62b2e,#b1262d,#b0252c,#af252c,#af252c,#ad222c,#ae242c,#ae232c)"></i><i style="background:linear-gradient(90deg,#af242c,#b2272d,#af252c,#b4292e,#b42a2e,#b62b2f,#bd3131,#c13532,#d35442,#e77e5b,#e67857,#e26d4f,#c84138,#be3231,#ba2e30,#b42a2e,#b0252d,#b1272d,#ad222c,#af252c,#ae242c,#b0252d)"></i><i style="background:linear-gradient(90deg,#b0252c,#b0252d,#ad232c,#af242c,#b1272d,#af252c,#b72c2f,#bc3030,#ca443a,#e26c4e,#ec9972,#e0694d,#ca443a,#bd3131,#b3282e,#b0252c,#ae242c,#ad232c,#ac222b,#ab212b,#ac222b,#ac222b)"></i><i style="background:linear-gradient(90deg,#b3282d,#b1262d,#b52a2e,#b3292e,#b2282d,#b62b2f,#bf3331,#c23733,#d04e3f,#e67c5a,#e98864,#de664b,#c84038,#bd3131,#b52a2e,#b2282d,#ae242c,#ae242c,#ae232c,#ad232c,#ab212b,#ab212b)"></i><i style="background:linear-gradient(90deg,#b2272d,#b0262d,#b3282d,#b0262d,#b62b2e,#b92d2f,#ba2f30,#c33833,#d25140,#e67a58,#e88562,#db6148,#c63d36,#ba2f30,#b92e2f,#b52a2e,#ae242c,#b0252d,#af252c,#af252c,#af252c,#ac222b)"></i><i style="background:linear-gradient(90deg,#ad232c,#ac222b,#ae242c,#ae242c,#b1262d,#b3282d,#bb3030,#be3331,#d25140,#e67958,#e57453,#d15040,#c13532,#b92e30,#b52a2e,#ae242c,#ad232c,#ae242c,#ab212b,#ae242c,#ac222b,#ab212b)"></i><i style="background:linear-gradient(90deg,#af242c,#ac222b,#ac222b,#ae242c,#b0262d,#b4292e,#ba2f30,#c43a34,#d25241,#e7805e,#ec9770,#e8825f,#ce4b3d,#c03532,#bb3030,#b82d2f,#b2272d,#af242c,#ae242c,#ae242c,#b1262d,#af242c)"></i><i style="background:linear-gradient(90deg,#b1272d,#b1272d,#b1262d,#b62b2e,#b3292e,#b82d2f,#ba2f30,#c23733,#cd493c,#e47050,#e57756,#dc6249,#c73f37,#bd3131,#b92e2f,#b52a2e,#ae242c,#b0262d,#af252c,#ac222b,#ac222b,#af252c)"></i><i style="background:linear-gradient(90deg,#b0262d,#b3282d,#b2272d,#b1262d,#b52a2e,#b72c2f,#bb3030,#bf3331,#c74037,#d85c46,#ea8c67,#e47151,#ca443a,#be3331,#b72c2f,#b0252d,#ac222b,#af242c,#ab212b,#ab212b,#ac222b,#aa212b)"></i><i style="background:linear-gradient(90deg,#b0262d,#b1272d,#b2272d,#b2282d,#b3282d,#b72c2f,#ba2e30,#c33833,#c94339,#dd644a,#e77d5b,#de664b,#c53b35,#be3231,#b62b2f,#b0252c,#ad232c,#ac222b,#ad222b,#ad232c,#ac222b,#ae242c)"></i><i style="background:linear-gradient(90deg,#b3282e,#b1262d,#b0262d,#b0252c,#b1272d,#b4292e,#bb3030,#c33833,#cb473b,#e47252,#d75a45,#c23733,#b92e30,#b2272d,#af252c,#ac222b,#a9202b,#aa212b,#ab212b,#aa212b,#aa212b,#aa202b)"></i><i style="background:linear-gradient(90deg,#ae242c,#ae242c,#b0262d,#ae242c,#b1262d,#b52a2e,#b82c2f,#c13632,#cb473b,#dd644a,#e57756,#d45643,#c43b35,#ba2f30,#b4292e,#b2272d,#b0252c,#ae242c,#ad232c,#ad232c,#ae232c,#ab212b)"></i><i style="background:linear-gradient(90deg,#ae242c,#ae242c,#ab212b,#ae242c,#b0262d,#b2272d,#b62b2f,#be3231,#cc473b,#e0694c,#e57453,#d85c46,#c03432,#b62b2f,#af252c,#ac222b,#ab212b,#ac222b,#aa212b,#ab212b,#aa202b,#ac212b)"></i><i style="background:linear-gradient(90deg,#ad232c,#ad222c,#ac222b,#b0252c,#ae242c,#ae242c,#b3292e,#b72c2f,#c03432,#ce4a3d,#df674b,#db6148,#c43934,#bb3030,#b2272d,#ad232c,#ab212b,#aa212b,#aa212b,#ab212b,#aa212b,#ac222b)"></i><i style="background:linear-gradient(90deg,#b3282e,#b4292e,#b2282d,#b2272d,#b52a2e,#b82d2f,#b92e30,#c13632,#d75a45,#e88562,#e88663,#cf4d3e,#c43a34,#b72c2f,#b0252c,#ad222c,#ab212b,#aa202b,#ac212b,#ac212b,#aa202b,#ab212b)"></i><i style="background:linear-gradient(90deg,#ad232c,#af252c,#ad232c,#ad232c,#b3282d,#b2282d,#b92e30,#c33934,#d04f3f,#e67a59,#e47252,#d14f3f,#bf3432,#bb2f30,#b1272d,#b1262d,#ad232c,#ae232c,#aa212b,#ad232c,#ad232c,#ac222b)"></i><i style="background:linear-gradient(90deg,#b0262d,#b0262d,#b0262d,#b3292e,#b4292e,#b52a2e,#bc3130,#c63d36,#d04e3f,#e8825f,#e57655,#d04e3f,#c03432,#b72c2f,#b1262d,#b0252d,#ae242c,#ae242c,#ac222b,#af252c,#ab212b,#ac222b)"></i><i style="background:linear-gradient(90deg,#ad232c,#ab212b,#ac222b,#ab212b,#b0252d,#b2282d,#b82d2f,#bc3030,#cb463b,#e47252,#e57655,#de674b,#c73f37,#bc3030,#b2272d,#b0252d,#ac222b,#aa202b,#a9202b,#ab212b,#aa202b,#a9202b)"></i><i style="background:linear-gradient(90deg,#b1272d,#b0262d,#b2272d,#af252c,#b1262d,#b3282d,#b72b2f,#bc3030,#ca443a,#dc6249,#e67958,#d75b45,#c63d36,#b72c2f,#b2282d,#ac222b,#ac222b,#aa202b,#a8202b,#a9202b,#a9202b,#a9202b)"></i><i style="background:linear-gradient(90deg,#ab212b,#aa212b,#ab212b,#ab212b,#ae242c,#ae242c,#b2272d,#b72c2f,#c33934,#da6048,#e67b59,#db6148,#c53c36,#b82d2f,#b4292e,#b0262d,#ad232c,#ae232c,#ae242c,#ab212b,#ad232c,#ab212b)"></i><i style="background:linear-gradient(90deg,#ad232c,#af252c,#ae242c,#b1272d,#b2282d,#b4292e,#b52b2e,#be3331,#c53b35,#dc6349,#e0694c,#d55643,#bd3131,#b62b2f,#ae242c,#ab212b,#aa212b,#a9202b,#aa202b,#a9202b,#a8202b,#a9202b)"></i><i style="background:linear-gradient(90deg,#ac222b,#aa212b,#ab212b,#ac222b,#ab212b,#b1262d,#b3292e,#bb2f30,#c73f37,#dd644a,#e67a59,#e16b4e,#c53b35,#bd3131,#b4292e,#b4292e,#b1262d,#ae242c,#ae242c,#ad232c,#ad232c,#ad232c)"></i><i style="background:linear-gradient(90deg,#ab212b,#ac222b,#ad222c,#ae242c,#b0252d,#af252c,#b4292e,#ba2e30,#cb463b,#db6148,#e57756,#d25140,#c63e36,#bb2f30,#b52a2e,#b1262d,#b0252d,#ac222b,#ae242c,#ae242c,#ad232c,#ad232c)"></i><i style="background:linear-gradient(90deg,#af252c,#af252c,#ad232c,#ae242c,#b0252c,#b3292e,#b52a2e,#bb3030,#c74038,#d45542,#d95d46,#c84138,#bb3030,#b62b2e,#ae242c,#ae242c,#ab212b,#ad232c,#ac222b,#ab212b,#ac222b,#ab212b)"></i><i style="background:linear-gradient(90deg,#ad222b,#ae242c,#ae242c,#ad232c,#af242c,#b0262d,#b3282d,#b82d2f,#c03432,#ce4a3d,#d85b45,#d15140,#c33833,#b62b2f,#ae232c,#ad232c,#ab212b,#aa212b,#aa202b,#a8202b,#a9202b,#a9202b)"></i><i style="background:linear-gradient(90deg,#af252c,#ac222b,#af242c,#b0252c,#af242c,#b0252d,#b52a2e,#bb3030,#c63e37,#dd644a,#e36e4f,#cb473b,#b92d2f,#b42a2e,#ac222b,#ac222b,#aa202b,#aa202b,#a9202b,#a9202b,#a9202b,#ab212b)"></i><i style="background:linear-gradient(90deg,#b3282e,#b1262d,#b0252d,#b0262d,#b0262d,#b2272d,#b82d2f,#bb3030,#c84138,#d55643,#e47151,#cd493c,#be3231,#b62b2e,#b1262d,#ae232c,#ad232c,#aa212b,#aa212b,#aa202b,#ac222b,#aa212b)"></i><i style="background:linear-gradient(90deg,#b2272d,#ae242c,#b2272d,#af252c,#b0252c,#b4292e,#b52b2e,#b82c2f,#c13532,#cb463a,#e0694c,#d55643,#c53c36,#b82d2f,#b2282d,#af252c,#ac222b,#a9202b,#aa212b,#a9202b,#aa212b,#ab212b)"></i><i style="background:linear-gradient(90deg,#ae232c,#af242c,#af252c,#b0252c,#b2272d,#b4292e,#b72c2f,#bb2f30,#c43b35,#d35341,#d75b45,#ca443a,#ba2e30,#b2272d,#b1272d,#ab212b,#ac222b,#aa212b,#a9202b,#ab212b,#ab212b,#ab212b)"></i><i style="background:linear-gradient(90deg,#b1262d,#b2272d,#b2272d,#b3282e,#b2282d,#b4292e,#b72c2f,#be3231,#c43a35,#d15140,#dc6249,#cf4d3e,#c13532,#b92e2f,#b2282d,#af252c,#ad232c,#ac222b,#ab212b,#ac222b,#ac222b,#a9202b)"></i><i style="background:linear-gradient(90deg,#af242c,#b1262d,#b0262d,#b0262d,#b0262d,#b1262d,#b52a2e,#b92d2f,#c53b35,#d65844,#e57554,#d55643,#c23733,#b82d2f,#b3282d,#ac222b,#ae242c,#ac222b,#ac222b,#ac222b,#ab212b,#ab212b)"></i><i style="background:linear-gradient(90deg,#b0262d,#b1272d,#b1272d,#b1272d,#b1262d,#b1272d,#b3282e,#bb3030,#c13532,#d65944,#e57756,#d45542,#c13532,#b42a2e,#b2282d,#ac212b,#ad232c,#ac212b,#ac222b,#ac222b,#ab212b,#aa212b)"></i><i style="background:linear-gradient(90deg,#ab212b,#ab212b,#ac222b,#ae242c,#af242c,#b1262d,#b3282d,#b72c2f,#bf3331,#d15040,#d45442,#cb463b,#bc3130,#b42a2e,#ae242c,#ae232c,#aa212b,#ab212b,#aa212b,#aa212b,#aa212b,#aa212b)"></i><i style="background:linear-gradient(90deg,#af252c,#af252c,#ac222b,#ac222b,#ae242c,#b0262d,#b3282d,#b62b2e,#c03432,#cd493c,#d45542,#c53c35,#ba2f30,#b1262d,#b0252d,#ab212b,#aa212b,#aa212b,#aa212b,#a9202b,#a9202b,#aa212b)"></i><i style="background:linear-gradient(90deg,#ab212b,#ac222b,#ac222b,#ad232c,#ae242c,#b0262d,#b1262d,#b42a2e,#c03432,#c94339,#d85b46,#ce4b3d,#c03432,#b52a2e,#ae242c,#ae232c,#ab212b,#aa202b,#a9202b,#a9202b,#a9202b,#a9202b)"></i><i style="background:linear-gradient(90deg,#ae242c,#ae242c,#b1272d,#b1262d,#b1272d,#b4292e,#b72c2f,#bb2f30,#be3231,#cf4d3e,#de664b,#d75a45,#c74038,#ba2f30,#b52a2e,#af252c,#af252c,#ae242c,#af252c,#af252c,#ac222b,#ac222b)"></i><i style="background:linear-gradient(90deg,#b0262d,#ae242c,#ae242c,#ad232c,#b0252d,#b2282d,#b4292e,#b92d2f,#c43a35,#d55743,#d95d46,#cd4a3c,#bc3030,#b2272d,#ad232c,#ab212b,#aa202b,#a9202b,#a8202b,#a9202b,#aa202b,#a9202b)"></i><i style="background:linear-gradient(90deg,#b0252d,#b1262d,#af252c,#af252c,#b2282d,#b3282e,#b4292e,#b72c2f,#c03432,#d35341,#d85b45,#c53b35,#bb3030,#b2282d,#b3282e,#b1262d,#ad232c,#ad232c,#ac222b,#ac222b,#ae232c,#ad222b)"></i><i style="background:linear-gradient(90deg,#ab212b,#ab212b,#ab212b,#ab212b,#ac222b,#ac222b,#b1262d,#b3282d,#b82d2f,#cc483c,#ce4a3d,#c03432,#b4292e,#b0262d,#ae232c,#ad232c,#ab212b,#ac222b,#aa212b,#ac222b,#aa212b,#aa212b)"></i><i style="background:linear-gradient(90deg,#ad232c,#ae242c,#af242c,#ab212b,#af252c,#ae242c,#b2272d,#b72b2f,#ba2f30,#cb463b,#d75a45,#c33934,#b82d2f,#b2272d,#ae242c,#ab212b,#a9202b,#aa212b,#a9202b,#a9202b,#a9202b,#a9202b)"></i><i style="background:linear-gradient(90deg,#ae232c,#ac222b,#ad232c,#af252c,#ac222b,#af252c,#b0262d,#b72c2f,#ba2f30,#cd4a3d,#d45542,#ca443a,#b92e2f,#b4292e,#af242c,#ad232c,#ad232c,#ae242c,#ad232c,#ae232c,#ae242c,#ab212b)"></i><i style="background:linear-gradient(90deg,#ae242c,#ac222b,#ad232c,#ae242c,#ae242c,#af252c,#b52a2e,#b82d2f,#c03432,#ce4a3d,#d75b45,#c53b35,#ba2f30,#b3282e,#b2272d,#ad232c,#ab212b,#ad232c,#ad222c,#ac222b,#ac222b,#aa212b)"></i><i style="background:linear-gradient(90deg,#ac222b,#ac222b,#ae242c,#ae232c,#af242c,#b0252c,#b2272d,#b92d2f,#be3231,#c94239,#d35442,#c43a35,#b92e30,#b52a2e,#b3282d,#ad232c,#ae242c,#ab212b,#ad232c,#ad232c,#ac222b,#ac222b)"></i><i style="background:linear-gradient(90deg,#af242c,#ad232c,#b1262d,#af252c,#b2272d,#af252c,#b3282e,#b62b2e,#bb3030,#c84138,#cc483c,#c94339,#b72c2f,#b2272d,#b0252d,#ac222b,#ac222b,#ab212b,#a9202b,#a9202b,#a9202b,#a8202b)"></i><i style="background:linear-gradient(90deg,#af242c,#ae232c,#b0262d,#af242c,#af252c,#b2272d,#b4292e,#b92e2f,#c53b35,#d04f3f,#d65944,#c73e37,#b92e30,#b0252d,#ab212b,#aa212b,#a9202b,#a9202b,#a8202b,#a8202b,#a71f2b,#a8202b)"></i><i style="background:linear-gradient(90deg,#aa212b,#a9202b,#aa212b,#ab212b,#ad232c,#ad232c,#ae232c,#b4292e,#b82d2f,#c84138,#d15040,#ce4b3d,#bb3030,#b62b2f,#ae242c,#ae242c,#ac222b,#aa202b,#a9202b,#a9202b,#aa202b,#a8202b)"></i><i style="background:linear-gradient(90deg,#a9202b,#a9202b,#a9202b,#a9202b,#a9202b,#aa212b,#af252c,#b1262d,#bd3131,#ce4b3d,#db6148,#c94239,#bd3131,#b3292e,#b1262d,#ab212b,#ab212b,#aa212b,#a9202b,#aa212b,#aa212b,#aa212b)"></i><i style="background:linear-gradient(90deg,#a8202b,#a9202b,#a9202b,#aa212b,#ab212b,#ae242c,#ae242c,#b4292e,#c23633,#cd493c,#d75944,#c63e37,#bc3030,#b2272d,#b2272d,#ac222b,#ac222b,#ab212b,#ab212b,#ab212b,#ab212b,#ac222b)"></i><i style="background:linear-gradient(90deg,#ac222b,#ac222b,#af252c,#ac222b,#ae242c,#b0252c,#b1262d,#b52b2e,#bd3231,#c94339,#ca4439,#bf3431,#ba2e30,#b3282e,#b0262d,#ac222b,#ad232c,#ac222b,#ab212b,#aa212b,#ac222b,#aa202b)"></i><i style="background:linear-gradient(90deg,#ac222b,#ad232c,#ad232c,#af242c,#b0262d,#b2282d,#b2272d,#b52a2e,#b92e30,#ca453a,#ce4c3e,#c33934,#b92e30,#b4292e,#b2272d,#ad232c,#ad232c,#ac222b,#ab212b,#ab212b,#ab212b,#ac222b)"></i><i style="background:linear-gradient(90deg,#ad222c,#ae242c,#ad222c,#af242c,#b0252c,#af242c,#b52b2e,#b62b2e,#c23733,#ce4b3d,#d25241,#c23733,#b92e30,#b52a2e,#b1262d,#af252c,#ac222b,#ad232c,#ac222b,#ad232c,#ab212b,#ad232c)"></i><i style="background:linear-gradient(90deg,#af242c,#ac222b,#ac222b,#af252c,#ae232c,#af242c,#af252c,#ae242c,#b1272d,#be3231,#cb463b,#c03532,#b62b2e,#ac222b,#ab212b,#a9202b,#a8202b,#a8202b,#a81f2b,#a8202b,#a8202b,#a71f2b)"></i><i style="background:linear-gradient(90deg,#aa212b,#ad222c,#ab212b,#ac222b,#aa212b,#ac222b,#ae242c,#b0252d,#b4292e,#bc3030,#c94339,#c63d36,#b3292e,#ae242c,#ac222b,#a9202b,#a9202b,#a71f2b,#a9202b,#a8202b,#a8202b,#a8202b)"></i><i style="background:linear-gradient(90deg,#ab212b,#aa212b,#aa212b,#ab212b,#ab212b,#ae242c,#b3282d,#b62b2e,#bd3231,#cf4c3e,#d35341,#c33934,#b62b2f,#b42a2e,#b1262d,#b0252c,#ae232c,#ae242c,#ab212b,#ad232c,#ad222b,#ad232c)"></i></div>
<div class="hm" style="left:132.9px;top:88.3px;width:53.9px;height:356.7px"><i style="background:linear-gradient(90deg,#c53c35,#ca453a,#ca443a,#c94239,#cd493c,#d75b45,#e57655,#eea37c,#e4d9ce,#dadad9,#cbd6e1,#e4d9cd,#efb38e,#e57554,#cf4c3e,#c53b35,#c13532,#b92e30,#b72c2f,#b82d2f,#b62b2f,#b72c2f)"></i><i style="background:linear-gradient(90deg,#c13532,#c63d36,#c63e37,#c94339,#cd4a3c,#da5f47,#e77e5c,#efb18c,#e9d3bd,#cfd7df,#d1d8de,#e8d4c1,#efaf89,#e88562,#d35341,#c43934,#be3231,#be3231,#bc3030,#ba2f30,#b82d2f,#ba2e30)"></i><i style="background:linear-gradient(90deg,#c33834,#c13532,#c23733,#c63e36,#cd493c,#ce4b3d,#e26d4e,#eb946e,#edceb1,#bdd0e2,#b1c9e0,#d9dad9,#f0c39f,#ea906b,#db6148,#c84138,#c23633,#bd3131,#b92e2f,#bd3131,#b82d2f,#b82d2f)"></i><i style="background:linear-gradient(90deg,#cb463a,#ca4439,#cf4c3e,#ce4c3e,#d55743,#dd644a,#e7815f,#efb18c,#e2dcd3,#bacee2,#bdd0e3,#e6d6c6,#eea881,#e57352,#d75a45,#c94238,#c03432,#c13532,#c23633,#c13632,#c13632,#c13532)"></i><i style="background:linear-gradient(90deg,#c23733,#c84038,#c84138,#cb453a,#cb463b,#d25140,#e57554,#ed9f78,#ebd0b7,#dfdbd6,#d8dada,#e4d9cd,#efb18b,#e47252,#d55743,#c53b35,#c23633,#bd3231,#bd3131,#ba2f30,#bb3030,#bc3030)"></i><i style="background:linear-gradient(90deg,#bf3331,#bf3331,#c13532,#c53b35,#c84138,#d45442,#e26c4e,#eea67e,#e5d8ca,#acc6e0,#9abadb,#c8d5e3,#efcbab,#e98b67,#dd654a,#cb463b,#c23733,#bf3331,#bc3030,#bd3131,#b92e30,#ba2e30)"></i><i style="background:linear-gradient(90deg,#c23733,#c73f37,#c73f37,#c73e37,#cd4a3d,#db6149,#e98965,#efbe9a,#e5d9cc,#a8c4df,#bdd0e3,#d4d9dc,#f0caa9,#eb916c,#d65844,#cd493c,#c43934,#c13632,#bd3231,#bc3030,#bf3331,#c13532)"></i><i style="background:linear-gradient(90deg,#c63e36,#c74037,#cb453a,#d04e3f,#cd4a3d,#d75a45,#e47151,#ed9f77,#e7d5c3,#c0d2e3,#bccfe2,#e7d6c5,#efaf89,#e67856,#d75a45,#c63d36,#c23633,#bd3231,#be3231,#bc3130,#be3331,#bc3130)"></i><i style="background:linear-gradient(90deg,#c23733,#c63d36,#c33833,#ca443a,#ce4b3d,#d85c46,#e88663,#efb28d,#e0dcd5,#b1c9e0,#d2d8dd,#f0c29f,#e8825f,#d75a45,#ca443a,#c43a35,#bd3131,#bc3030,#bd3131,#bf3331,#bf3331,#bf3331)"></i><i style="background:linear-gradient(90deg,#be3231,#c13632,#c23632,#c43a34,#c53b35,#c94239,#d75944,#e57454,#eea881,#ebd0b6,#e5d8c9,#efc09c,#e98b67,#df684c,#cf4d3e,#c33833,#c33834,#c03432,#c03432,#bb2f30,#be3231,#bd3131)"></i><i style="background:linear-gradient(90deg,#c84138,#c73f37,#c84238,#c84038,#cf4c3e,#d45542,#e36e4f,#ed9b74,#f0c4a2,#dfdbd6,#d3d8dd,#e8d4c1,#efb691,#e36f4f,#ce4b3d,#c33833,#b92d2f,#b92d2f,#b72c2f,#b4292e,#b4292e,#b52a2e)"></i><i style="background:linear-gradient(90deg,#c63d36,#c63e36,#c53c35,#cb463a,#cd4a3d,#d55743,#e57353,#ed9e77,#e7d5c4,#dadad8,#d2d8dd,#f0caa8,#eb926d,#e06a4d,#ca443a,#c43a34,#bc3030,#bc3030,#b62b2e,#b52a2e,#b52a2e,#ba2e30)"></i><i style="background:linear-gradient(90deg,#c43b35,#c33834,#c53c35,#c73f37,#ca453a,#d45542,#e36e4f,#ec9670,#f0c19e,#dfdbd6,#cdd7e0,#e9d3bd,#ed9f77,#e36e4f,#cc473b,#c03432,#bc3131,#b92e2f,#b72b2f,#b92e30,#b82d2f,#b92d2f)"></i><i style="background:linear-gradient(90deg,#c33934,#c33834,#c33934,#c84038,#cb463a,#d15040,#e47050,#ec9a74,#f0c4a1,#dadad9,#e2dbd3,#efcbab,#eb946e,#d75a45,#ca443a,#c53b35,#bd3231,#bf3331,#bd3131,#be3331,#bb2f30,#bd3131)"></i><i style="background:linear-gradient(90deg,#c53c35,#c13632,#c43a35,#c84038,#c94239,#cc483c,#ce4c3d,#e57353,#eb946e,#f0c29f,#ebd1b8,#f0c8a6,#ec9670,#e47050,#d04e3f,#c63d36,#c43934,#bc3030,#bc3131,#be3231,#be3231,#bd3231)"></i><i style="background:linear-gradient(90deg,#bd3231,#c03432,#bf3331,#c43a35,#ca4339,#cd493c,#dc6249,#eea27b,#eecdaf,#d7d9da,#e4dace,#efb994,#e36f4f,#d25241,#c63d36,#bc3030,#b92e30,#b92e30,#b4292e,#b52a2e,#b72b2f,#b62b2f)"></i><i style="background:linear-gradient(90deg,#be3331,#bf3331,#c33833,#c53b35,#c73f37,#d25140,#e67957,#ec9a74,#e5d8ca,#dadad9,#e3dbd2,#eea47d,#e57554,#d25140,#c03432,#bd3131,#b4292e,#b2272d,#b52a2e,#b3282e,#b1262d,#b4292e)"></i><i style="background:linear-gradient(90deg,#c74038,#c74037,#c53c35,#ca443a,#ca4439,#d04e3f,#d65944,#e57756,#efb08a,#e3dad0,#e1dcd4,#efb18b,#e7815e,#d65944,#c94339,#c33934,#c13532,#c03432,#b92e30,#ba2f30,#bd3131,#bb3030)"></i><i style="background:linear-gradient(90deg,#c53c36,#c63d36,#c73f37,#c84038,#cb463b,#cd483c,#da5f47,#e88461,#efb38d,#e7d5c4,#f0c7a5,#ea8e69,#dc6249,#c84138,#c03432,#b52a2e,#b62b2e,#b4292e,#b3282d,#b2282d,#b2272d,#b1262d)"></i><i style="background:linear-gradient(90deg,#bb2f30,#bc3131,#bb3030,#c03432,#c73f37,#cf4c3e,#e26d4e,#ea906b,#edcdb0,#e5d9cc,#e9d3bf,#ec9973,#e26d4f,#d04e3f,#c13632,#be3231,#bb3030,#ba2f30,#b52a2e,#b52a2e,#b72c2f,#b82d2f)"></i><i style="background:linear-gradient(90deg,#c43a34,#c33833,#c63e37,#c84138,#cb453a,#cd4a3d,#d55743,#e16a4d,#ec9871,#ead2bc,#e6d7c9,#eea57d,#e67b59,#d25241,#c73e37,#c03432,#bc3030,#ba2f30,#b62b2f,#b62b2f,#b52a2e,#b72c2f)"></i><i style="background:linear-gradient(90deg,#c33833,#c23632,#c23633,#c63d36,#c73f37,#cc473b,#d15040,#e57655,#ed9f78,#efcbab,#ebd1b8,#efb48f,#e47251,#d15140,#cb463b,#c23733,#bf3331,#b92e30,#bc3131,#b92d2f,#bb2f30,#bb3030)"></i><i style="background:linear-gradient(90deg,#c03432,#be3331,#bb3030,#c03532,#c13532,#c94339,#cd4a3d,#d65944,#ea8f6a,#f0caa9,#f0caa8,#ed9e77,#d85c46,#cb463b,#c53c36,#bd3131,#b72c2f,#b62b2e,#b52a2e,#b62b2f,#b72c2f,#b62b2f)"></i><i style="background:linear-gradient(90deg,#c33934,#c33934,#c23833,#c53b35,#c63e37,#c94239,#d35341,#dd644a,#e98b67,#f0c3a0,#ecd0b6,#ec9972,#de654b,#cf4d3e,#c94339,#c33934,#bb3030,#bd3231,#b92e30,#ba2f30,#ba2f30,#b92e2f)"></i><i style="background:linear-gradient(90deg,#c33834,#c13632,#c13532,#c43b35,#c84038,#d14f3f,#da6048,#e67c5a,#efbb97,#e4d9ce,#e0dcd5,#eea77f,#e36e4f,#d55743,#c84038,#bc3130,#b62b2f,#b4292e,#b4292e,#b72c2f,#b3282e,#b3292e)"></i><i style="background:linear-gradient(90deg,#b62b2f,#b82d2f,#bb2f30,#bb3030,#c23633,#c53b35,#d15040,#de664b,#ec9972,#e6d7c7,#e2dcd4,#efbc98,#e67958,#d55643,#c94339,#bc3130,#b52a2e,#b3282e,#b4292e,#b1272d,#b3292e,#b1262d)"></i><i style="background:linear-gradient(90deg,#ba2f30,#b92d2f,#bf3331,#bd3131,#c33834,#cc483c,#d95d46,#e67a58,#eea67f,#e4d9ce,#efc09c,#e88461,#dd644a,#cf4c3e,#c33934,#be3231,#b82d2f,#b4292e,#b62b2e,#b62b2f,#b52a2e,#b62b2e)"></i><i style="background:linear-gradient(90deg,#b52a2e,#b72c2f,#b82c2f,#b82c2f,#ba2f30,#c13532,#c53c35,#d25241,#e26c4e,#eea37c,#efbc98,#eea881,#e47151,#d45542,#c94239,#c13532,#bb3030,#ba2e30,#b92e2f,#ba2f30,#b72c2f,#ba2e30)"></i><i style="background:linear-gradient(90deg,#c13532,#c33934,#c03432,#c33934,#c94239,#d25140,#d95d46,#ea8d69,#f0c29f,#e9d3be,#f0c5a2,#eb946e,#e16a4d,#d14f3f,#c53b35,#ba2f30,#ba2f30,#b4292e,#b52a2e,#b62b2e,#b4292e,#b4292e)"></i><i style="background:linear-gradient(90deg,#c13532,#c13532,#c33934,#c23733,#c53c36,#c94238,#cd483c,#d55743,#e57655,#eea57e,#efbe9a,#ec9972,#dc6349,#cb463b,#c43a34,#ba2f30,#ba2f30,#b52a2e,#b1272d,#b4292e,#b42a2e,#b52b2e)"></i><i style="background:linear-gradient(90deg,#bc3030,#bc3130,#b72c2f,#bb2f30,#c13532,#c13532,#ca453a,#da5f47,#e67c5a,#f0c5a3,#eccfb4,#ea8f6a,#d45643,#c94239,#c23733,#b92e2f,#b92e2f,#b52a2e,#b52a2e,#b72c2f,#b72c2f,#b72c2f)"></i><i style="background:linear-gradient(90deg,#b92d2f,#bc3030,#b82d2f,#bc3130,#c03432,#c63e37,#cb453a,#db6149,#e98864,#efcbab,#f0caa8,#ec9771,#d55643,#ce4b3d,#c23633,#bb2f30,#b52a2e,#b62b2e,#b3282d,#b62b2f,#b62b2e,#b3282d)"></i><i style="background:linear-gradient(90deg,#bc3131,#be3231,#bf3331,#c23632,#c43934,#c43a34,#d04f3f,#df674b,#e98a66,#efcbaa,#f0c8a6,#ec9770,#df684c,#ca443a,#c03432,#ba2e30,#b72c2f,#b3282d,#b4292e,#b1272d,#b1262d,#af252c)"></i><i style="background:linear-gradient(90deg,#c03432,#bd3231,#c23632,#c23633,#c03432,#c94239,#ce4a3d,#df674b,#ec9771,#ead2bc,#efbc98,#e88461,#d35341,#ca443a,#bc3030,#ba2f30,#b82d2f,#b52a2e,#b52a2e,#b52a2e,#b62b2f,#b2282d)"></i><i style="background:linear-gradient(90deg,#b72c2f,#ba2f30,#bc3030,#bb3030,#c23733,#c63d36,#cc473b,#e0694c,#ec9771,#efb58f,#ec9670,#dc6249,#ce4b3d,#c13532,#b82d2f,#b82d2f,#b4292e,#b4292e,#b1272d,#b2272d,#b1262d,#b4292e)"></i><i style="background:linear-gradient(90deg,#c13532,#bd3131,#c23733,#c13532,#bf3432,#c73f37,#ca4339,#d95d46,#e88663,#efb893,#efb994,#e77d5b,#d65844,#c94238,#c03432,#b52a2e,#b1262d,#b2272d,#b2282d,#b2272d,#b1262d,#b0252c)"></i><i style="background:linear-gradient(90deg,#c13532,#bd3231,#bf3331,#bf3331,#c33834,#cc483c,#d15040,#e57756,#eea27a,#ebd0b7,#efb691,#e7815e,#d25241,#c43a35,#bb2f30,#b4292e,#b0262d,#b2272d,#b2272d,#b1262d,#ad232c,#b1272d)"></i><i style="background:linear-gradient(90deg,#bd3131,#bc3030,#bb3030,#c33833,#c23633,#c73f37,#ca443a,#dc6249,#e98a66,#eea983,#eeab84,#e88461,#d04f3f,#c53b35,#bd3131,#b72c2f,#b72c2f,#b52a2e,#b4292e,#b2272d,#b4292e,#b4292e)"></i><i style="background:linear-gradient(90deg,#b62b2f,#b52a2e,#b62b2f,#b52a2e,#ba2f30,#bd3131,#c23633,#ce4b3d,#dd644a,#eea27a,#efbf9b,#e98763,#d65844,#c74037,#bb3030,#b52a2e,#b72c2f,#b52a2e,#b4292e,#b3292e,#b62b2e,#b1272d)"></i><i style="background:linear-gradient(90deg,#b62b2f,#b52a2e,#b52a2e,#b62b2e,#b72c2f,#bd3231,#c33834,#d15040,#e36f4f,#eea780,#efbb97,#e98a66,#d25241,#ca453a,#c03432,#bd3131,#b72b2f,#b82d2f,#b52a2e,#b72c2f,#b52a2e,#b72c2f)"></i><i style="background:linear-gradient(90deg,#b52a2e,#b72c2f,#b62b2e,#b72c2f,#b82d2f,#ba2f30,#c53c36,#cd4a3d,#e46f50,#efb08b,#efb792,#e77e5c,#ce4a3d,#c13532,#b82d2f,#b4292e,#ae242c,#ad232c,#ad232c,#ad232c,#ad232c,#af252c)"></i><i style="background:linear-gradient(90deg,#b92e30,#b62b2e,#bc3030,#bb3030,#c03432,#c94239,#d25241,#de664b,#ed9e77,#f0c3a0,#eea37b,#e57655,#cd493c,#c84138,#bf3331,#ba2e30,#b72c2f,#b4292e,#b42a2e,#b3282e,#b62b2f,#b4292e)"></i><i style="background:linear-gradient(90deg,#bd3231,#be3331,#bd3131,#c03432,#bf3432,#c23733,#c53b35,#ca4439,#d85c46,#eb956f,#efb995,#e98965,#d15040,#c33934,#b82d2f,#b3282e,#b0252d,#b0262d,#b0252d,#b2272d,#b0252c,#b2272d)"></i><i style="background:linear-gradient(90deg,#b62b2e,#b72c2f,#b92e2f,#b52a2e,#b52a2e,#bc3030,#c03432,#c63e36,#d45643,#ea8c68,#eea983,#e57453,#ca4439,#c43934,#b92e30,#b52a2e,#b3282d,#b1272d,#b2272d,#b2272d,#b3282d,#b3282e)"></i><i style="background:linear-gradient(90deg,#b4292e,#b92e2f,#b72c2f,#ba2e30,#bc3131,#c13632,#c63e37,#d55744,#e67958,#eea67f,#eeaa84,#e8825f,#d55743,#c73f37,#bf3331,#bc3030,#b72c2f,#b3282d,#b52a2e,#b1272d,#b52a2e,#b52a2e)"></i><i style="background:linear-gradient(90deg,#bc3131,#ba2f30,#bb3030,#bc3030,#c03532,#c43934,#cd493c,#d35442,#e88360,#efb995,#ed9f77,#dc634a,#cd493c,#c23733,#b82d2f,#b52a2e,#b62b2e,#b62b2e,#b62b2f,#b4292e,#b4292e,#b2272d)"></i><i style="background:linear-gradient(90deg,#b3282e,#b72c2f,#b72c2f,#ba2f30,#ba2f30,#bc3030,#c33834,#d45542,#e77d5b,#eea179,#eb936d,#d75945,#ca453a,#c13632,#bb3030,#b52a2e,#b2272d,#b3292e,#b1262d,#b2282d,#b0252d,#b0262d)"></i><i style="background:linear-gradient(90deg,#b62b2e,#b62b2e,#b62b2e,#b52a2e,#b92e2f,#c23733,#c84238,#d45643,#e57756,#efaf89,#f0c9a7,#e98864,#d95e47,#c63e37,#c03432,#bb3030,#b92e2f,#b3292e,#b72c2f,#b52a2e,#b2282d,#b1272d)"></i><i style="background:linear-gradient(90deg,#b92d2f,#ba2e30,#b82d2f,#be3231,#bf3331,#be3331,#c63d36,#d35442,#e57655,#eea47c,#eb956f,#e57655,#cf4d3e,#c33934,#be3231,#b62b2f,#b72c2f,#b1272d,#b2272d,#b4292e,#b2282d,#b42a2e)"></i><i style="background:linear-gradient(90deg,#b82c2f,#b62b2f,#b82d2f,#bc3131,#be3231,#c13632,#c74037,#d04e3f,#e57353,#eea179,#eea37b,#e57454,#ce4b3d,#c23633,#bb2f30,#b3282d,#b0252d,#ae242c,#b0262d,#b0262d,#ae242c,#b1272d)"></i><i style="background:linear-gradient(90deg,#b72c2f,#b72c2f,#b82c2f,#b82d2f,#b62b2e,#b82d2f,#c33934,#c73f37,#da5e47,#eea37b,#eb946e,#df684c,#c94339,#be3231,#b62b2f,#b4292e,#b4292e,#b1262d,#b1262d,#b2272d,#b3282e,#b1272d)"></i><i style="background:linear-gradient(90deg,#bb3030,#ba2f30,#bc3130,#be3231,#bb3030,#c03432,#c63d36,#d35442,#e47252,#efad86,#eeac85,#e57756,#c94339,#c13532,#bc3030,#b4292e,#b1272d,#b3282e,#af252c,#af242c,#b3282d,#b2282d)"></i><i style="background:linear-gradient(90deg,#b2272d,#b3292e,#b2272d,#b52a2e,#b72c2f,#be3331,#c23633,#cb463b,#da6048,#ec9872,#eea27a,#e67c5a,#cb473b,#c53c35,#bf3331,#ba2e30,#b62b2e,#b2272d,#b52a2e,#b3282d,#b3282d,#b52a2e)"></i><i style="background:linear-gradient(90deg,#ba2f30,#b62b2f,#b72c2f,#ba2f30,#bb2f30,#b92e2f,#bf3331,#c84138,#d35442,#e88461,#ec9a74,#de674b,#ca443a,#be3231,#b62b2f,#b62b2e,#b2272d,#b1272d,#b1272d,#b1272d,#b1262d,#b2272d)"></i><i style="background:linear-gradient(90deg,#b72c2f,#b92e2f,#b62b2e,#b92e2f,#b62b2e,#bd3231,#c33934,#cb463a,#d75a45,#eea57d,#f0c3a0,#e8825f,#d14f3f,#c03432,#b82d2f,#af252c,#ae242c,#ad232c,#ac222b,#ac222b,#ae242c,#ab212b)"></i><i style="background:linear-gradient(90deg,#b4292e,#b4292e,#b4292e,#b52a2e,#b82d2f,#bd3231,#bf3331,#c84038,#da5f48,#ea8f6a,#ed9f78,#e67857,#cb463b,#bd3231,#b72c2f,#b3292e,#ad232c,#af252c,#ae232c,#ae242c,#ad232c,#ae232c)"></i><i style="background:linear-gradient(90deg,#b2272d,#b2272d,#b52a2e,#b52a2e,#b82d2f,#ba2f30,#c33934,#ce4b3d,#e7815f,#ed9f77,#ed9c75,#e16b4e,#cb453a,#c13632,#b72c2f,#b0262d,#ae242c,#ae242c,#ad232c,#ad222b,#ae242c,#ac222b)"></i><i style="background:linear-gradient(90deg,#b3282e,#b62b2e,#b4292e,#b52a2e,#b92e2f,#be3231,#c33934,#c84138,#dc6349,#eea881,#eea881,#d85d46,#c73f37,#bf3331,#b52a2e,#b1262d,#b0262d,#b1262d,#b2272d,#b2272d,#b1262d,#b1262d)"></i><i style="background:linear-gradient(90deg,#b52a2e,#b52a2e,#b82d2f,#b92d2f,#be3231,#bf3331,#c84138,#d35442,#e57655,#eea780,#eea780,#df684c,#ca453a,#c23733,#b82d2f,#b52a2e,#b3282e,#b1272d,#b1272d,#b0252c,#b1272d,#b3282d)"></i><i style="background:linear-gradient(90deg,#b0262d,#b2282d,#b3282e,#b2282d,#b3282e,#bb2f30,#bf3331,#c63d36,#d25241,#eb936d,#efb08a,#e88562,#d45542,#ca4439,#bb3030,#b82d2f,#b3282d,#b0262d,#b0252d,#ae242c,#af252c,#b0252d)"></i><i style="background:linear-gradient(90deg,#b52a2e,#b52a2e,#b3282d,#b82d2f,#b72c2f,#ba2f30,#c03432,#ce4b3d,#e26c4e,#ec9670,#ea8f6a,#df674c,#c63e36,#c03432,#b92e30,#b62b2f,#b3282d,#af252c,#b1262d,#b2282d,#b0252c,#af242c)"></i><i style="background:linear-gradient(90deg,#b62b2f,#b52a2e,#b72c2f,#b72c2f,#b92d2f,#b92e2f,#c43b35,#cb463b,#e0694d,#eea47c,#e67b59,#d15040,#c33834,#bc3131,#b92e2f,#b2272d,#b2272d,#b2282d,#b3282e,#b52a2e,#b4292e,#b3282e)"></i><i style="background:linear-gradient(90deg,#b52a2e,#b4292e,#b3282d,#b52a2e,#b62b2e,#bc3130,#c13532,#d04e3f,#e77e5c,#efbd9a,#eb946e,#d65944,#c33834,#bb2f30,#b3282e,#b3282d,#b1272d,#ae242c,#af252c,#ad232c,#af252c,#b1262d)"></i><i style="background:linear-gradient(90deg,#b72c2f,#b62b2e,#b72c2f,#b82d2f,#b92e2f,#bb3030,#c43a34,#d04f3f,#e7815e,#eea57d,#e57453,#c84138,#bd3231,#b82d2f,#b2282d,#b1272d,#b0252d,#af252c,#ae242c,#b1262d,#af242c,#b0262d)"></i><i style="background:linear-gradient(90deg,#b62b2e,#b82d2f,#b72c2f,#ba2f30,#b62b2f,#b92d2f,#c13532,#ca443a,#db6048,#ec9872,#eea57e,#d85c46,#c84038,#ba2f30,#b52a2e,#ae242c,#ab212b,#ab212b,#ac222b,#ac222b,#ae242c,#ae232c)"></i><i style="background:linear-gradient(90deg,#af242c,#b2272d,#b1262d,#b3282e,#b52a2e,#b72b2f,#c23733,#ce4c3d,#e26d4e,#efb48e,#ec9973,#d55743,#c53b35,#b72c2f,#b1262d,#b0252c,#ae242c,#ab212b,#ac222b,#ab212b,#ab212b,#ad232c)"></i><i style="background:linear-gradient(90deg,#ae242c,#ad232c,#af252c,#b1262d,#b1262d,#b72c2f,#ba2e30,#c23733,#d55643,#e67c5a,#eb926c,#df674b,#c43a35,#c13532,#b92e2f,#b72c2f,#b3292e,#b3282d,#b2272d,#b2272d,#b2272d,#b2282d)"></i><i style="background:linear-gradient(90deg,#b3282e,#b4292e,#b62b2f,#b62b2e,#b92d2f,#b82c2f,#bd3131,#c94239,#de664b,#eb956f,#e98965,#cf4c3e,#c23633,#bd3131,#b72c2f,#b2272d,#b2282d,#af252c,#b1262d,#b2282d,#b0252c,#b1262d)"></i><i style="background:linear-gradient(90deg,#ae232c,#ae232c,#b1262d,#b0262d,#b2282d,#b62b2f,#ba2f30,#c43a35,#d04f3f,#e67857,#ec9770,#e47050,#cc483b,#c23733,#b52a2e,#b3282e,#b0262d,#ae242c,#ad232c,#ae242c,#ad232c,#ad232c)"></i><i style="background:linear-gradient(90deg,#b1272d,#b3282e,#b4292e,#b2272d,#b3292e,#b72c2f,#be3331,#c33934,#d55743,#e98965,#efb58f,#e98864,#d55643,#c63e37,#ba2e30,#b3282e,#ae242c,#ae232c,#ac222b,#ad222c,#ad232c,#ad222c)"></i><i style="background:linear-gradient(90deg,#ae242c,#b0262d,#ae242c,#af252c,#b3282e,#b72b2f,#c23733,#cc473b,#e36e4f,#efb08a,#eea179,#dd644a,#c84138,#bc3131,#b92d2f,#b3292e,#b0252d,#b1262d,#ae242c,#ae232c,#ad232c,#ad232c)"></i><i style="background:linear-gradient(90deg,#b1262d,#b0252c,#b1272d,#b2272d,#b1272d,#b4292e,#bb3030,#bf3331,#d04f3f,#e57756,#e8825f,#d75a45,#c53c35,#bd3131,#b62b2f,#af252c,#ae242c,#ae242c,#ac222b,#ae242c,#ae242c,#ae242c)"></i><i style="background:linear-gradient(90deg,#b0262d,#ae242c,#ae242c,#af242c,#b2272d,#b3282e,#bb3030,#c43934,#d35341,#ea8c68,#e7805e,#cb473b,#bf3331,#b72c2f,#b52a2e,#b0252c,#b0252c,#ae232c,#b1262d,#b0262d,#b0252d,#b0262d)"></i><i style="background:linear-gradient(90deg,#ad222c,#ad232c,#af242c,#ad232c,#b0252c,#b52a2e,#b82d2f,#c23733,#d25140,#e98b66,#efaf89,#e57756,#c94339,#bb3030,#b2282d,#af252c,#ad232c,#ac222b,#aa212b,#aa212b,#aa212b,#ab212b)"></i><i style="background:linear-gradient(90deg,#af242c,#af252c,#ae242c,#b0262d,#b62b2e,#b72c2f,#c43934,#d04e3e,#e57655,#eeaa84,#ec9771,#d55743,#c94339,#c03432,#b4292e,#b3282e,#af242c,#ad232c,#ae242c,#ae242c,#ac222b,#ab212b)"></i><i style="background:linear-gradient(90deg,#b1262d,#b2272d,#b2282d,#b0252c,#b4292e,#b92d2f,#bc3030,#c43b35,#d25140,#e98965,#efae87,#e77e5c,#d55743,#c23733,#bb3030,#b4292e,#b4292e,#ae242c,#b1262d,#af242c,#ae232c,#ae242c)"></i><i style="background:linear-gradient(90deg,#b3282e,#b3282d,#b3282e,#b2272d,#b1272d,#b52b2e,#ba2f30,#c13632,#d45442,#e98b67,#eea27a,#d95d46,#c53b35,#ba2e30,#b72c2f,#b2272d,#af252c,#ae232c,#af242c,#b1262d,#b1272d,#ae242c)"></i><i style="background:linear-gradient(90deg,#ad232c,#b0252d,#af252c,#b1272d,#b0262d,#b72c2f,#b92d2f,#c23633,#d65944,#e7805d,#e88360,#d65844,#c23733,#ba2f30,#b3282d,#b0262d,#ad232c,#ad232c,#ac222b,#ac222b,#aa202b,#a9202b)"></i><i style="background:linear-gradient(90deg,#b52a2e,#b3282d,#b52a2e,#b72c2f,#b82c2f,#b62b2f,#c13632,#c63d36,#d25241,#e98a66,#eea982,#e57352,#c84138,#c03432,#b42a2e,#b3282e,#ae242c,#b0252d,#ae242c,#ad232c,#ad232c,#b1262d)"></i><i style="background:linear-gradient(90deg,#af252c,#b1272d,#b0262d,#b0252c,#b4292e,#b62b2e,#bf3331,#cb473b,#e47151,#ed9e76,#e8825f,#ce4b3d,#bd3131,#b72c2f,#ae242c,#ab212b,#ac222b,#ab212b,#aa212b,#ab212b,#ab212b,#ac222b)"></i><i style="background:linear-gradient(90deg,#b1272d,#b2282d,#b1272d,#b1272d,#b4292e,#b82c2f,#ba2f30,#c33834,#d45542,#e77e5c,#e77d5b,#d15040,#be3231,#b92d2f,#b0262d,#af242c,#ab212b,#ab212b,#ac222b,#ad222b,#ac222b,#ac222b)"></i><i style="background:linear-gradient(90deg,#b72c2f,#b52a2e,#b62b2e,#b3292e,#b62b2e,#b72c2f,#be3231,#c73e37,#d65844,#e8825f,#e67c5a,#d04e3f,#c03432,#ba2e30,#b2272d,#b0252d,#ae242c,#ad222c,#af252c,#ae242c,#af252c,#af252c)"></i><i style="background:linear-gradient(90deg,#b0262d,#b1272d,#b2272d,#b2272d,#b3282d,#b42a2e,#bc3030,#c23632,#d35442,#e67958,#ea8f6a,#dd644a,#c63e36,#bf3331,#b4292e,#b0262d,#ac222b,#ae242c,#ae242c,#ac222b,#ae232c,#ab212b)"></i><i style="background:linear-gradient(90deg,#af252c,#b1262d,#b1262d,#b4292e,#b52a2e,#b3282e,#be3331,#c63d36,#d65944,#eb956f,#ed9e77,#d35341,#c23733,#b62b2f,#b1262d,#ae242c,#ad232c,#aa212b,#ab212b,#ac222b,#aa212b,#aa212b)"></i><i style="background:linear-gradient(90deg,#ac222b,#ac222b,#af242c,#af242c,#b0252c,#b62b2f,#bc3030,#c94239,#d75b45,#e98965,#e67856,#d15140,#c63d36,#be3231,#ba2e30,#b2272d,#b2272d,#af252c,#b1272d,#af242c,#b2272d,#b0262d)"></i><i style="background:linear-gradient(90deg,#af242c,#b1262d,#af252c,#af242c,#b1272d,#b62b2f,#bd3131,#c53c35,#df674b,#ea906b,#e98a66,#d25241,#c33934,#bb3030,#b4292e,#af252c,#ae242c,#ad232c,#ae242c,#ae232c,#ab212b,#ab212b)"></i><i style="background:linear-gradient(90deg,#b52a2e,#b4292e,#b2282d,#b2272d,#b3292e,#b4292e,#bc3130,#c13632,#cb463b,#e57454,#eea179,#e77d5b,#d04e3f,#c13532,#b82d2f,#af252c,#ab212b,#ad232c,#aa202b,#aa212b,#ab212b,#ac222b)"></i><i style="background:linear-gradient(90deg,#b2272d,#af252c,#b3282e,#b52a2e,#b4292e,#ba2f30,#bf3431,#c94339,#d85c46,#ec9872,#e98a65,#db6148,#c43b35,#ba2f30,#b72c2f,#af252c,#af252c,#ae232c,#ac222b,#ac222b,#aa212b,#ac222b)"></i><i style="background:linear-gradient(90deg,#b2272d,#b1262d,#b1272d,#b0252d,#b1272d,#b3282e,#bb3030,#c33834,#cd493c,#e26d4e,#ea906b,#de674b,#c94239,#c23733,#b72c2f,#b2272d,#b1262d,#b1272d,#b2272d,#ad232c,#b0252d,#b1262d)"></i><i style="background:linear-gradient(90deg,#b4292e,#b4292e,#b3292e,#b4292e,#b62b2f,#b62b2e,#be3231,#c33934,#ca443a,#e36e4f,#eb916b,#e16b4d,#cc483c,#bf3331,#bb2f30,#b2282d,#b2282d,#ae242c,#ae242c,#ad232c,#af252c,#ac222b)"></i><i style="background:linear-gradient(90deg,#b0262d,#af252c,#b2282d,#b3282e,#b52a2e,#b72c2f,#bb3030,#c23633,#d65944,#e98965,#ec9972,#e47150,#cd4a3d,#bf3331,#b72c2f,#b2282d,#b4292e,#af252c,#b2272d,#ad232c,#b0262d,#b0252c)"></i><i style="background:linear-gradient(90deg,#ad232c,#ad232c,#ab212b,#ae232c,#ae232c,#b2272d,#b72c2f,#bb2f30,#c94239,#e57352,#ec9a73,#e67958,#c63e37,#bf3331,#b62b2f,#b0252c,#b0252c,#af242c,#ac222b,#ac222b,#ad232c,#af252c)"></i><i style="background:linear-gradient(90deg,#b0252c,#b2272d,#b0252c,#b4292e,#b3282e,#b62b2f,#bc3030,#c23733,#cc483c,#e47151,#e98764,#de664b,#c84138,#bf3331,#b62b2e,#b3292e,#ae232c,#ae232c,#ab212b,#ac222b,#ad232c,#ae232c)"></i><i style="background:linear-gradient(90deg,#b0262d,#b3282e,#b52a2e,#b0262d,#b4292e,#b3282e,#ba2f30,#c13532,#d14f3f,#e98b67,#e7815e,#cf4c3e,#bf3331,#b82d2f,#b1272d,#af252c,#b1272d,#b1262d,#ae242c,#b1262d,#b1262d,#af252c)"></i><i style="background:linear-gradient(90deg,#ad232c,#ae232c,#af242c,#ad232c,#ae242c,#b1272d,#b52a2e,#c03432,#ca4339,#e88260,#e98b67,#ce4a3d,#c03432,#b72c2f,#b1272d,#ae242c,#ae242c,#af242c,#ac222b,#ae242c,#ae242c,#ae242c)"></i><i style="background:linear-gradient(90deg,#b1262d,#b0252c,#b1272d,#b3282d,#b42a2e,#b62b2f,#be3231,#c33833,#ce4b3d,#e88662,#ed9c75,#e26d4e,#cb463b,#bd3131,#bb3030,#b3282e,#b1272d,#ae242c,#ad232c,#af252c,#af252c,#b1262d)"></i><i style="background:linear-gradient(90deg,#b1262d,#af252c,#b0252d,#b0262d,#b1262d,#b62b2e,#ba2f30,#c33934,#d15140,#e57454,#e77e5c,#cb463b,#bd3231,#b62b2e,#b42a2e,#af252c,#b0262d,#ad232c,#ad232c,#ae242c,#af252c,#af242c)"></i><i style="background:linear-gradient(90deg,#b0252d,#b2272d,#b0262d,#b3282d,#b0252d,#b4292e,#ba2f30,#c03432,#ce4b3d,#e77e5c,#ea8c68,#d75a45,#c23733,#b62b2f,#b1262d,#ad222c,#ab212b,#a9202b,#a9202b,#aa202b,#aa212b,#aa202b)"></i><i style="background:linear-gradient(90deg,#ab212b,#ac222b,#ab212b,#ab212b,#ab212b,#b0262d,#b1272d,#bd3231,#c43a35,#e57453,#e88561,#d65844,#c33833,#b72c2f,#b2272d,#b0262d,#b0252c,#ac222b,#ac222b,#af252c,#ae242c,#af242c)"></i><i style="background:linear-gradient(90deg,#b1262d,#b1262d,#b0252d,#b0252d,#b2272d,#b62b2e,#b72c2f,#bf3331,#cc473b,#e0694c,#e77e5c,#d25241,#c33834,#bb3030,#b1262d,#b0262d,#ac222b,#ad232c,#ad232c,#ad232c,#ad232c,#ad232c)"></i><i style="background:linear-gradient(90deg,#ae242c,#ab212b,#af252c,#ac222b,#b0252d,#b0262d,#b3282e,#be3231,#c94239,#e16a4d,#e67b59,#d55743,#c13632,#b62b2e,#b0262d,#ae242c,#ab212b,#ab212b,#ad232c,#ac222b,#aa212b,#ab212b)"></i><i style="background:linear-gradient(90deg,#b0252c,#b2272d,#b0262d,#b2282d,#b1272d,#b82c2f,#ba2f30,#c53b35,#d85c46,#e98864,#e67a59,#c94239,#be3231,#b62b2e,#b2272d,#ad222b,#ab212b,#ab212b,#ad232c,#aa212b,#aa212b,#ae232c)"></i><i style="background:linear-gradient(90deg,#b0252c,#b1262d,#b0252d,#b4292e,#b3282d,#b72c2f,#ba2f30,#c53c35,#d55743,#e77d5b,#e47050,#c73f37,#be3231,#b62b2f,#b2272d,#ac222b,#ac222b,#ae242c,#ab212b,#ab212b,#ad232c,#ab212b)"></i><i style="background:linear-gradient(90deg,#ae242c,#b1272d,#ae242c,#b2272d,#b3282d,#b52a2e,#b92e30,#bf3331,#d35341,#e57755,#e88663,#d75944,#c13532,#b92e30,#b62b2f,#b3282d,#ae242c,#b0262d,#b0262d,#af252c,#b0262d,#b1262d)"></i><i style="background:linear-gradient(90deg,#b52a2e,#b4292e,#b2272d,#b2272d,#b52a2e,#b3292e,#ba2f30,#be3231,#cc483c,#e57453,#d95d46,#c43a34,#b92d2f,#b4292e,#af252c,#b1262d,#b0252d,#af252c,#ad232c,#ad232c,#af252c,#b0262d)"></i><i style="background:linear-gradient(90deg,#b3282d,#b3292e,#b2272d,#b3282d,#b52a2e,#b72c2f,#c03432,#c43a35,#d25140,#e77f5c,#e67a58,#cd493c,#bd3231,#b92e2f,#b2272d,#ae242c,#ac222b,#ac222b,#ab212b,#ab212b,#aa212b,#ac222b)"></i><i style="background:linear-gradient(90deg,#ac222b,#ab212b,#ae242c,#af252c,#af252c,#b3282e,#ba2f30,#c43a34,#da5f47,#ea8c68,#e67957,#d25241,#bc3131,#b52a2e,#b0252c,#ab212b,#aa212b,#a9202b,#aa212b,#aa202b,#a9202b,#a9202b)"></i><i style="background:linear-gradient(90deg,#b2282d,#b2282d,#af252c,#b0252d,#b52a2e,#b82d2f,#b92e30,#c43a34,#d75b45,#e7805e,#db6249,#c43a35,#bd3131,#b2282d,#ad232c,#aa212b,#ab212b,#ac222b,#aa212b,#ab212b,#a9202b,#aa202b)"></i><i style="background:linear-gradient(90deg,#ad232c,#ac222b,#ad232c,#ad232c,#ad222c,#b1262d,#b52a2e,#bc3030,#ca443a,#dc6249,#e06a4d,#c63e36,#b92e2f,#b4292e,#b2272d,#ae242c,#ab212b,#ab212b,#ac222b,#ad232c,#ac222b,#ac222b)"></i><i style="background:linear-gradient(90deg,#ad222c,#ac222b,#ad232c,#ad222b,#ac222b,#ae232c,#b1262d,#b3282e,#c13532,#d35341,#e88561,#d85d46,#bd3131,#b52a2e,#b3282e,#ae242c,#b0252d,#b0252d,#af252c,#ae242c,#ae232c,#af252c)"></i><i style="background:linear-gradient(90deg,#ab212b,#ad232c,#ac222b,#ab212b,#ae242c,#af252c,#b2282d,#b72c2f,#c53b35,#d65944,#e36e4f,#cc473b,#bf3331,#b42a2e,#b1272d,#b0262d,#af252c,#ae242c,#ac222b,#ad232c,#ad232c,#af252c)"></i><i style="background:linear-gradient(90deg,#b0262d,#b0262d,#b1272d,#b0262d,#b2282d,#b52a2e,#b72c2f,#b92e2f,#c63e36,#e47050,#d55844,#c03432,#b72c2f,#b0262d,#ab212b,#a9202b,#a9202b,#a9202b,#a9202b,#a9202b,#ab212b,#a9202b)"></i><i style="background:linear-gradient(90deg,#b0252c,#b0262d,#af252c,#b1272d,#b3282e,#b3282e,#ba2e30,#c13532,#cf4d3e,#e67958,#e26d4e,#c84138,#bc3130,#b72c2f,#b2272d,#ae242c,#b0252d,#b0252d,#ae242c,#af252c,#ae232c,#b0252c)"></i><i style="background:linear-gradient(90deg,#b1272d,#b1262d,#af252c,#af252c,#b2272d,#b4292e,#b52a2e,#bf3331,#c84038,#e36e4f,#d85d46,#c94239,#b92e30,#b62b2f,#af252c,#ad232c,#ac222b,#ad232c,#ac222b,#ad232c,#ad232c,#ae232c)"></i><i style="background:linear-gradient(90deg,#ad232c,#ae242c,#ad222b,#ae232c,#ae242c,#b0262d,#b52a2e,#b72c2f,#c43a35,#d85c46,#e57453,#d15040,#be3231,#b62b2e,#b0262d,#ab212b,#aa212b,#a9202b,#aa202b,#aa212b,#ab212b,#ab212b)"></i><i style="background:linear-gradient(90deg,#aa202b,#ab212b,#ab212b,#ac222b,#af242c,#af252c,#ba2e30,#c13532,#da6048,#e88662,#de664b,#c94239,#ba2f30,#b2272d,#ae242c,#ae242c,#ae242c,#ac222b,#ae242c,#ab212b,#ae242c,#ad232c)"></i><i style="background:linear-gradient(90deg,#af242c,#ae242c,#af242c,#ad232c,#ad232c,#b0262d,#b52a2e,#b92e2f,#be3231,#d25241,#e67a58,#e06a4d,#c84138,#bc3030,#b52a2e,#af252c,#ae242c,#ac222b,#ab212b,#ad232c,#ad232c,#aa212b)"></i><i style="background:linear-gradient(90deg,#af242c,#ae242c,#b0252d,#b1272d,#af252c,#b0262d,#b4292e,#b62b2f,#be3231,#ce4c3e,#e47050,#d35341,#c23733,#b82d2f,#b0262d,#ac222b,#aa212b,#ab212b,#ab212b,#ab212b,#ab212b,#aa202b)"></i><i style="background:linear-gradient(90deg,#ae242c,#ad232c,#ac222b,#ad232c,#ae242c,#b1272d,#b4292e,#bc3131,#c63e37,#e36e4f,#e67957,#cb463b,#bb3030,#b1262d,#ac222b,#ab212b,#a9202b,#a9202b,#a9202b,#aa212b,#aa212b,#aa212b)"></i><i style="background:linear-gradient(90deg,#ac222b,#ac222b,#ad232c,#ab212b,#ac222b,#af252c,#b1272d,#b72c2f,#c84138,#dc6249,#df674c,#c33934,#ba2e30,#b3282d,#ad232c,#aa212b,#ab212b,#aa212b,#aa212b,#ab212b,#aa212b,#aa212b)"></i><i style="background:linear-gradient(90deg,#b0262d,#af252c,#af242c,#b2282d,#b3282e,#b72c2f,#b72c2f,#bd3131,#ce4a3d,#e0694d,#e67a59,#d35442,#c43a34,#b92e2f,#b2282d,#b3282d,#ad232c,#ad232c,#ac222b,#ae242c,#ae242c,#af242c)"></i><i style="background:linear-gradient(90deg,#b0252d,#b1262d,#af252c,#b1272d,#b1272d,#b3282e,#b62b2e,#b92d2f,#bf3331,#d15040,#de664b,#cf4c3e,#bb2f30,#b72c2f,#b0262d,#af252c,#af252c,#ad232c,#ac222b,#ac222b,#ae242c,#ae242c)"></i><i style="background:linear-gradient(90deg,#ab212b,#ac222b,#ad232c,#ac222b,#ae242c,#b2272d,#b82c2f,#ba2f30,#ce4b3d,#de654a,#d85b45,#c53c36,#b82c2f,#b52a2e,#b1272d,#af242c,#ae242c,#ad232c,#ad232c,#af242c,#ac222b,#ab212b)"></i><i style="background:linear-gradient(90deg,#ad232c,#ae242c,#ad232c,#af252c,#ae242c,#b1262d,#b62b2e,#bc3030,#c43a35,#de654b,#db6148,#c33934,#b72c2f,#b2272d,#af242c,#ac222b,#ac222b,#aa212b,#aa202b,#ab212b,#aa202b,#a9202b)"></i><i style="background:linear-gradient(90deg,#ab212b,#ab212b,#ab212b,#aa202b,#aa212b,#ae242c,#b2282d,#b62b2e,#c63d36,#e26c4e,#e47151,#c63d36,#b82d2f,#b2272d,#ae242c,#ad222b,#ab212b,#aa212b,#ac222b,#a9202b,#ab212b,#a9202b)"></i><i style="background:linear-gradient(90deg,#b3282d,#b0262d,#b0262d,#b3282d,#b2282d,#b1262d,#b2282d,#bb3030,#c23733,#d75a45,#d35442,#c13532,#b82d2f,#b2272d,#ab212b,#ab212b,#a9202b,#aa212b,#ab212b,#a9202b,#aa212b,#a9202b)"></i><i style="background:linear-gradient(90deg,#b0252c,#ae242c,#af252c,#ae232c,#af252c,#ae232c,#b0252d,#b52a2e,#c13532,#d04e3f,#dd644a,#cb463b,#b72c2f,#b0262d,#ac222b,#ab212b,#ab212b,#a9202b,#aa212b,#a9202b,#ab212b,#aa212b)"></i><i style="background:linear-gradient(90deg,#ab212b,#ab212b,#ad232c,#ae242c,#ae242c,#af242c,#b3282d,#bb3030,#c73f37,#d85c46,#d75a45,#bf3331,#b82c2f,#b0252c,#af252c,#ab212b,#ac222b,#ab212b,#ac222b,#ab212b,#aa202b,#aa212b)"></i><i style="background:linear-gradient(90deg,#aa212b,#aa212b,#aa212b,#ab212b,#ab212b,#b0262d,#b52a2e,#b82d2f,#c33833,#d85c46,#da5f47,#cb453a,#bb2f30,#b62b2e,#b2272d,#af252c,#ad232c,#ad222b,#ad232c,#ab212b,#aa212b,#aa212b)"></i><i style="background:linear-gradient(90deg,#ad232c,#af252c,#b0262d,#ae242c,#b1262d,#b2282d,#b62b2f,#b92e30,#c84038,#d95d46,#d95e47,#c23633,#bc3030,#b3282d,#af242c,#af252c,#ad232c,#ad232c,#ae242c,#ad232c,#ac222b,#ae232c)"></i><i style="background:linear-gradient(90deg,#ab212b,#ac222b,#aa202b,#aa212b,#ac222b,#b1262d,#b52a2e,#bf3331,#d15040,#e57453,#d35341,#be3231,#b4292e,#b1272d,#ad232c,#ae242c,#ac222b,#ab212b,#ab212b,#ab212b,#ad232c,#ab212b)"></i><i style="background:linear-gradient(90deg,#ac222b,#ab212b,#ac222b,#ac222b,#af252c,#b2272d,#b62b2e,#bd3231,#ce4b3d,#e0694d,#d04f3f,#c03432,#b3282e,#b0252d,#ab212b,#ab212b,#ab212b,#aa202b,#aa212b,#ab212b,#aa212b,#a9202b)"></i><i style="background:linear-gradient(90deg,#ae242c,#ae242c,#af252c,#ae242c,#ae242c,#b2272d,#b2282d,#bc3130,#c33934,#dd654a,#da5f47,#bd3231,#b4292e,#ae242c,#ab212b,#aa212b,#a9202b,#aa202b,#a8202b,#a9202b,#a9202b,#a9202b)"></i><i style="background:linear-gradient(90deg,#b0262d,#af252c,#b1262d,#af252c,#b2272d,#b3282e,#b2272d,#ba2e30,#c53c35,#d35442,#df674c,#c73f37,#b82d2f,#b0262d,#ad232c,#a9202b,#a9202b,#a9202b,#aa212b,#a9202b,#a8202b,#a9202b)"></i><i style="background:linear-gradient(90deg,#ad232c,#af252c,#ad232c,#ae242c,#b0262d,#b1272d,#b52b2e,#b52a2e,#c23733,#d25241,#d95d46,#c74037,#ba2f30,#b62b2f,#b0262d,#ad232c,#ad232c,#ad232c,#ab212b,#ab212b,#ad222c,#ac222b)"></i><i style="background:linear-gradient(90deg,#a9202b,#a9202b,#aa202b,#aa202b,#aa202b,#ad232c,#ae242c,#b82c2f,#be3231,#d85b45,#dc6249,#c84038,#ba2f30,#b2272d,#ac212b,#ab212b,#a9202b,#a9202b,#a9202b,#a9202b,#a9202b,#a8202b)"></i><i style="background:linear-gradient(90deg,#ac222b,#ac222b,#ae232c,#ad232c,#b0252d,#b0262d,#b3282e,#b82c2f,#c13632,#d35341,#cf4d3e,#c03432,#b62b2e,#b1262d,#ac222b,#ab212b,#aa202b,#ab212b,#a9202b,#aa202b,#a9202b,#a9202b)"></i><i style="background:linear-gradient(90deg,#ad222b,#ad232c,#ab212b,#ac222b,#ae232c,#ad232c,#b1262d,#b82c2f,#c13532,#e16a4d,#d55743,#c03432,#b1272d,#ad232c,#ab212b,#aa212b,#a9202b,#a9202b,#aa212b,#a8202b,#a9202b,#aa202b)"></i><i style="background:linear-gradient(90deg,#ae242c,#ab212b,#ad232c,#af242c,#ad232c,#b2272d,#b62b2f,#bc3030,#ca443a,#db6048,#d04f3f,#c23733,#b52a2e,#b2272d,#ad232c,#ad222b,#a9202b,#ab212b,#ab212b,#ab212b,#aa202b,#aa202b)"></i><i style="background:linear-gradient(90deg,#aa212b,#aa212b,#ac222b,#ae242c,#af252c,#b1262d,#b2272d,#b92d2f,#c53b35,#d35341,#cd493c,#bd3131,#b72c2f,#b1272d,#ae242c,#ac222b,#ad232c,#ab212b,#ab212b,#ab212b,#ab212b,#ab212b)"></i><i style="background:linear-gradient(90deg,#ac222b,#ab212b,#ab212b,#aa212b,#ab212b,#af242c,#b0262d,#b72c2f,#c33833,#d95d46,#de664b,#c63e37,#b62b2f,#b4292e,#af252c,#ab212b,#ac222b,#aa212b,#ac222b,#aa212b,#aa202b,#ac222b)"></i><i style="background:linear-gradient(90deg,#ae242c,#ae242c,#ad232c,#ad222c,#af252c,#af242c,#b4292e,#bd3131,#c73e37,#d15140,#cb473b,#be3231,#b52a2e,#b3282e,#b1262d,#ad222b,#ad222b,#ae242c,#ad222c,#ae232c,#ac222b,#ae242c)"></i><i style="background:linear-gradient(90deg,#af252c,#af252c,#af242c,#ad232c,#ae242c,#b1262d,#b62b2e,#bb3030,#c53c36,#d25241,#dc6349,#c73e37,#b92d2f,#b72c2f,#af252c,#ae242c,#ae242c,#ad232c,#ae232c,#ac222b,#ac222b,#ac222b)"></i><i style="background:linear-gradient(90deg,#ad232c,#ad232c,#ae242c,#ac222b,#ad232c,#ae242c,#b4292e,#b72c2f,#c33834,#d35341,#db6048,#c63d36,#ba2e30,#b1262d,#b0252c,#ab212b,#ab212b,#ab212b,#aa212b,#a9202b,#a9202b,#a9202b)"></i><i style="background:linear-gradient(90deg,#ad232c,#ae232c,#ae242c,#ad232c,#ae242c,#ad232c,#af242c,#b52a2e,#bd3131,#cd4a3d,#ca4439,#bd3131,#b4292e,#ae242c,#a9202b,#a8202b,#a8202b,#a9202b,#a8202b,#a8202b,#a9202b,#a8202b)"></i><i style="background:linear-gradient(90deg,#ab212b,#ab212b,#ac222b,#ab212b,#ab212b,#ac222b,#ad232c,#b0262d,#bb2f30,#c94239,#d45643,#bf3331,#b4292e,#ad232c,#ab212b,#a8202b,#a9202b,#a8202b,#a71f2b,#a71f2b,#a9202b,#a8202b)"></i><i style="background:linear-gradient(90deg,#a9202b,#ab212b,#a9202b,#aa212b,#ab212b,#ab212b,#ad232c,#b0262d,#b92e2f,#c94339,#d15040,#bd3231,#b0252d,#ab212b,#ab212b,#a9202b,#a9202b,#a9202b,#a9202b,#a8202b,#a9202b,#a9202b)"></i><i style="background:linear-gradient(90deg,#aa212b,#a9202b,#aa202b,#a9202b,#a9202b,#ac222b,#af242c,#b52a2e,#c13532,#d95e47,#d95e47,#c63d36,#b62b2f,#b4292e,#b0252c,#ac222b,#ac222b,#ae242c,#ad232c,#ad232c,#ad232c,#ae242c)"></i><i style="background:linear-gradient(90deg,#ab212b,#ab212b,#aa212b,#aa212b,#aa202b,#ad232c,#ae242c,#b4292e,#bd3131,#d14f3f,#ca4339,#bd3231,#b2272d,#ac222b,#aa202b,#a8202b,#a8202b,#a9202b,#a8202b,#a8202b,#a8202b,#a8202b)"></i><i style="background:linear-gradient(90deg,#ae232c,#ab212b,#ac222b,#ac222b,#ae242c,#ac222b,#b2272d,#b52a2e,#be3331,#cd493c,#c94339,#bb2f30,#b2282d,#b1262d,#ad232c,#ab212b,#ac222b,#aa202b,#ac222b,#ab212b,#aa212b,#ac212b)"></i><i style="background:linear-gradient(90deg,#ab212b,#ac222b,#ac222b,#ab212b,#ab212b,#ab212b,#ad232c,#b2272d,#b62b2f,#c84138,#d45542,#c53c36,#b62b2e,#af242c,#ae242c,#ac212b,#ab212b,#aa212b,#ab212b,#a9202b,#ab212b,#aa202b)"></i><i style="background:linear-gradient(90deg,#ac222b,#ac222b,#aa212b,#ab212b,#ab212b,#ab212b,#b0262d,#b62b2f,#be3231,#d35442,#d45542,#c13532,#b4292e,#b1272d,#ab212b,#ac222b,#ab212b,#ad232c,#aa212b,#aa212b,#ab212b,#ac222b)"></i><i style="background:linear-gradient(90deg,#ac222b,#aa202b,#aa212b,#ab212b,#ab212b,#ad232c,#b0252d,#b52a2e,#ba2f30,#d04f3f,#d04f3f,#bf3331,#b72c2f,#b0252c,#ad232c,#ad232c,#aa212b,#ac222b,#aa212b,#ab212b,#aa202b,#ac222b)"></i><i style="background:linear-gradient(90deg,#ac222b,#ad232c,#ae242c,#ac222b,#ad222c,#b1262d,#b3282d,#b3282d,#ba2f30,#cd493c,#d75a45,#c94339,#b62b2e,#b1262d,#ad232c,#ab212b,#a9202b,#a8202b,#a8202b,#a9202b,#a8202b,#a9202b)"></i><i style="background:linear-gradient(90deg,#aa212b,#ac212b,#ab212b,#ab212b,#ad232c,#af252c,#b2272d,#b62b2e,#be3231,#d25140,#cf4d3e,#be3231,#b72c2f,#b1272d,#ad222b,#aa212b,#ac222b,#a9202b,#a9202b,#ab212b,#ab212b,#ab212b)"></i><i style="background:linear-gradient(90deg,#ae242c,#ae242c,#af252c,#b0262d,#af252c,#af252c,#b0262d,#b72c2f,#bc3030,#c63e37,#d65844,#c63d36,#b72c2f,#b1272d,#af252c,#ab212b,#aa212b,#aa212b,#aa212b,#aa212b,#a9202b,#a9202b)"></i><i style="background:linear-gradient(90deg,#a8202b,#aa212b,#a9202b,#a8202b,#aa202b,#aa212b,#ac222b,#b0262d,#b42a2e,#c33834,#ce4c3e,#bd3131,#b1262d,#ad232c,#ab212b,#aa202b,#a8202b,#a8202b,#a8202b,#aa202b,#a9202b,#a9202b)"></i><i style="background:linear-gradient(90deg,#ad232c,#ab212b,#ad232c,#ad232c,#ab212b,#ac222b,#ae242c,#b2272d,#bb2f30,#c84138,#cc483c,#be3231,#b2282d,#af252c,#b0252c,#ac222b,#ab212b,#ae232c,#ab212b,#ad232c,#ac222b,#ac212b)"></i><i style="background:linear-gradient(90deg,#aa212b,#a9202b,#aa202b,#ab212b,#ab212b,#aa212b,#ac222b,#b2272d,#ba2f30,#c84138,#cb463a,#ba2f30,#b2272d,#ad222b,#aa212b,#aa202b,#a9202b,#a8202b,#a9202b,#a8202b,#a71f2b,#a9202b)"></i><i style="background:linear-gradient(90deg,#a9202b,#a9202b,#aa212b,#a9202b,#ab212b,#ac212b,#af252c,#b72c2f,#c63e37,#d35341,#ca453a,#bc3130,#b52a2e,#ae242c,#ac222b,#ab212b,#ac222b,#ab212b,#aa202b,#ab212b,#ab212b,#ab212b)"></i><i style="background:linear-gradient(90deg,#ab212b,#aa212b,#ab212b,#ad222b,#ae232c,#ac222b,#b2272d,#b52b2e,#c33834,#d25241,#c63d36,#ba2e30,#b1272d,#ac222b,#a9202b,#a8202b,#a8202b,#a71f2b,#a8202b,#a8202b,#a8202b,#a8202b)"></i><i style="background:linear-gradient(90deg,#a9202b,#aa202b,#aa212b,#a8202b,#a9202b,#ac222b,#b1272d,#b52a2e,#c03432,#d35341,#d35341,#c43b35,#b82c2f,#b2282d,#af252c,#ae242c,#ab212b,#ab212b,#aa212b,#ac222b,#ab212b,#ad232c)"></i><i style="background:linear-gradient(90deg,#ad232c,#ae242c,#ac222b,#ae242c,#ae242c,#ae242c,#af252c,#b3282e,#bb3030,#c84138,#d45542,#c13632,#b3282d,#b0252d,#ab212b,#a9202b,#a9202b,#a8202b,#a9202b,#a8202b,#a9202b,#a8202b)"></i><i style="background:linear-gradient(90deg,#aa212b,#ac212b,#ac222b,#ac222b,#ad232c,#b0252c,#ae242c,#b4292e,#bb3030,#c73f37,#c63d36,#b42a2e,#b0262d,#af242c,#ae242c,#ae242c,#ae232c,#ad232c,#ad232c,#ab212b,#ab212b,#ad232c)"></i><i style="background:linear-gradient(90deg,#ab212b,#ab212b,#ab212b,#ad232c,#ad222b,#ad232c,#af252c,#b2272d,#bd3231,#cc473b,#ce4a3d,#be3231,#b2272d,#ae242c,#af242c,#ab212b,#ab212b,#ab212b,#ab212b,#a9202b,#aa212b,#ab212b)"></i><i style="background:linear-gradient(90deg,#aa202b,#a8202b,#a8202b,#a9202b,#ab212b,#ac222b,#af242c,#b0252d,#bc3030,#c73e37,#ca453a,#bf3331,#b1272d,#b1262d,#ae242c,#ae232c,#ad232c,#ac222b,#aa212b,#aa212b,#aa212b,#ab212b)"></i><i style="background:linear-gradient(90deg,#af252c,#ad232c,#ae242c,#af252c,#b0252d,#ae232c,#b2282d,#b4292e,#ba2e30,#c94339,#c84038,#b52a2e,#b0252c,#b0252c,#ac222b,#ac222b,#aa212b,#aa202b,#ac222b,#aa212b,#ac222b,#ab212b)"></i><i style="background:linear-gradient(90deg,#ab212b,#ab212b,#aa212b,#ab212b,#ab212b,#ad232c,#ac222b,#b0262d,#b62b2f,#c33934,#ce4b3d,#c43934,#b52b2e,#b2272d,#ae242c,#ac222b,#aa212b,#a9202b,#ab212b,#ab212b,#ab212b,#aa202b)"></i><i style="background:linear-gradient(90deg,#aa212b,#aa212b,#aa212b,#ab212b,#aa212b,#ac222b,#b0252c,#b1272d,#b42a2e,#c53b35,#c74037,#bc3030,#b0262d,#af252c,#ac222b,#ac222b,#aa212b,#aa212b,#ac222b,#ac212b,#ab212b,#aa212b)"></i><i style="background:linear-gradient(90deg,#ac222b,#ab212b,#ab212b,#ab212b,#ad232c,#ad222c,#ad232c,#af252c,#b92e2f,#c84038,#c43934,#b82d2f,#b0252d,#ac222b,#ab212b,#aa212b,#aa202b,#a8202b,#a9202b,#a8202b,#a8202b,#a8202b)"></i><i style="background:linear-gradient(90deg,#aa202b,#ac212b,#ab212b,#aa212b,#ac222b,#ae232c,#af252c,#b0252c,#bc3030,#c63d36,#be3231,#b0262d,#ab212b,#ab212b,#a8202b,#a71f2b,#a71f2b,#a71f2b,#a61f2b,#a8202b,#a71f2b,#a8202b)"></i><i style="background:linear-gradient(90deg,#af242c,#ac212b,#ac222b,#ad232c,#ad232c,#ad232c,#b0262d,#b52a2e,#ba2f30,#c84238,#ce4b3d,#c23733,#b3292e,#b1262d,#af252c,#ac222b,#ad232c,#ad232c,#ab212b,#ad232c,#aa212b,#ab212b)"></i><i style="background:linear-gradient(90deg,#a8202b,#a9202b,#aa202b,#a8202b,#a8202b,#aa212b,#ac222b,#b0252c,#b62b2f,#c43934,#c63d36,#bb2f30,#b3282d,#ac222b,#ac222b,#aa212b,#a9202b,#aa212b,#a8202b,#a8202b,#aa212b,#aa202b)"></i><i style="background:linear-gradient(90deg,#ac222b,#ac222b,#ab212b,#aa212b,#aa212b,#ab212b,#ac222b,#ae242c,#b3282e,#bf3331,#c43b35,#b52a2e,#ae242c,#ab212b,#ab212b,#aa212b,#a8202b,#a8202b,#a9202b,#a8202b,#aa212b,#a9202b)"></i><i style="background:linear-gradient(90deg,#a9202b,#ab212b,#ab212b,#aa212b,#ab212b,#ac222b,#ac222b,#b1262d,#b3282d,#c23733,#c13532,#bb2f30,#b2272d,#ae242c,#aa212b,#aa202b,#aa212b,#a9202b,#a9202b,#a9202b,#aa212b,#a9202b)"></i><i style="background:linear-gradient(90deg,#a8202b,#a8202b,#a9202b,#a9202b,#a9202b,#a9202b,#aa212b,#ae242c,#b42a2e,#c33934,#c43a35,#b92e2f,#af252c,#ad232c,#ac222b,#aa212b,#ac222b,#aa212b,#ac222b,#aa202b,#aa202b,#ab212b)"></i><i style="background:linear-gradient(90deg,#ab212b,#ab212b,#ab212b,#ab212b,#ab212b,#aa212b,#ad232c,#b1272d,#b72c2f,#c53c36,#c63d36,#b72c2f,#b3292e,#ae232c,#ab212b,#ab212b,#ac222b,#a9202b,#ac222b,#aa202b,#a9202b,#ac222b)"></i><i style="background:linear-gradient(90deg,#ac222b,#ae242c,#ae242c,#ad222b,#ab212b,#af242c,#ae242c,#b2282d,#bb2f30,#cc483c,#be3331,#b2282d,#ae232c,#a9202b,#a9202b,#a8202b,#a9202b,#a8202b,#a71f2b,#a71f2b,#a8202b,#a71f2b)"></i><i style="background:linear-gradient(90deg,#aa202b,#ab212b,#aa212b,#ac222b,#ac222b,#ab212b,#b0252c,#b1272d,#b92e30,#c73e37,#c23733,#b2282d,#af252c,#ae242c,#ac212b,#aa202b,#ab212b,#ab212b,#aa202b,#ab212b,#a9202b,#a9202b)"></i></div>
<div class="hm" style="left:190.8px;top:88.3px;width:53.9px;height:356.7px"><i style="background:linear-gradient(90deg,#ce4b3d,#ce4b3d,#d15040,#ce4b3d,#da5f47,#e67856,#ed9b74,#e7d5c3,#cad6e2,#98b8d9,#789ecd,#b1c9e0,#dddbd7,#efb691,#e88360,#d55643,#c53b35,#bf3331,#c23733,#c03432,#bc3030,#c13532)"></i><i style="background:linear-gradient(90deg,#c63d36,#cb453a,#c94339,#cf4d3e,#d55743,#e47151,#ed9d76,#f0c19d,#dedbd6,#b3cae1,#b6cce1,#c1d2e3,#e7d5c3,#efba96,#e7815e,#d65844,#ca4439,#c13532,#c03432,#c03432,#bc3030,#bd3131)"></i><i style="background:linear-gradient(90deg,#c23733,#c74038,#c73f37,#cb463b,#d65944,#e77e5c,#efbf9b,#e3dbd2,#b3cae1,#a4c1de,#95b6d9,#d0d7df,#efccac,#eea079,#e26d4f,#d15040,#c73f37,#c03432,#c03532,#c23733,#be3331,#c03432)"></i><i style="background:linear-gradient(90deg,#c43a35,#c73f37,#c94339,#cc483c,#d04e3f,#da5f47,#eb956f,#f0c5a3,#d2d8dd,#b5cbe1,#90b2d7,#c2d3e3,#edceb1,#ea8d68,#d95e47,#cc473b,#c53b35,#bf3331,#be3231,#be3231,#bb2f30,#ba2e30)"></i><i style="background:linear-gradient(90deg,#c53c35,#c94239,#cc473b,#d25140,#da5e47,#e57655,#eea57e,#dedbd6,#abc6df,#96b6d9,#9fbedc,#c0d1e3,#ebd0b6,#ea906b,#db6148,#cb473b,#bf3431,#b92d2f,#b82c2f,#b72c2f,#ba2f30,#b82d2f)"></i><i style="background:linear-gradient(90deg,#c53c36,#c43a35,#c94339,#c94239,#d35341,#e47252,#ed9e76,#e7d5c3,#c4d4e4,#9dbcdb,#a5c2de,#cad6e2,#edceb2,#eb946e,#dd654a,#c94239,#c23733,#be3231,#c13632,#bc3030,#bf3331,#be3231)"></i><i style="background:linear-gradient(90deg,#c94238,#c94339,#c94239,#d15040,#d25140,#e06a4d,#e98a66,#efb691,#d7d9da,#b2c9e1,#a4c1de,#d7d9da,#f0c7a5,#e88360,#d95d46,#c63d36,#bf3331,#ba2e30,#bc3030,#b92e30,#b92e30,#ba2f30)"></i><i style="background:linear-gradient(90deg,#cb463b,#c74038,#ca443a,#cb463b,#d25140,#db6148,#e67a59,#eea881,#e4d9cd,#b4cbe1,#b8cde2,#d0d8de,#f0c7a4,#ed9b74,#d95d46,#cc473b,#c23733,#c13532,#c03432,#bc3130,#c03432,#bd3131)"></i><i style="background:linear-gradient(90deg,#c03432,#c13532,#c43a35,#c33934,#cc473b,#d35442,#e26c4e,#eb936d,#e8d4c1,#d3d8dd,#ced7df,#dbdad8,#efb48f,#e67a59,#d45442,#cc473b,#c53c35,#c33934,#c23733,#bf3431,#c13532,#c13532)"></i><i style="background:linear-gradient(90deg,#c63d36,#c94339,#c84038,#c94239,#cf4c3e,#dc6249,#e57453,#eea37b,#e8d5c2,#c3d4e4,#bcd0e2,#e4d9cd,#eea780,#e57655,#d55744,#ca453a,#c33833,#c23733,#bb3030,#c03432,#bb2f30,#be3231)"></i><i style="background:linear-gradient(90deg,#c53b35,#c94239,#c94339,#ca453a,#ce4b3d,#d75945,#e67b5a,#ec9872,#e9d2bd,#c7d5e4,#dbdad8,#e9d2bd,#eea179,#de654b,#ce4a3d,#c53c35,#c33934,#c13532,#bf3431,#bb3030,#be3331,#bc3030)"></i><i style="background:linear-gradient(90deg,#c33934,#c84238,#c73e37,#cc473b,#cb453a,#d55743,#e67857,#eea179,#e9d3be,#c8d6e3,#c9d6e2,#e7d6c5,#efb691,#e77f5c,#d35341,#c53c36,#c13532,#c03432,#bb3030,#be3231,#bb2f30,#be3231)"></i><i style="background:linear-gradient(90deg,#c73e37,#c73e37,#c84138,#cd493c,#d15140,#d45542,#e46f50,#eb956f,#ecd0b6,#dadad8,#cdd7e0,#dddbd7,#efaf89,#e47252,#d25140,#c03432,#bd3231,#ba2f30,#b72c2f,#b52a2e,#b42a2e,#b82d2f)"></i><i style="background:linear-gradient(90deg,#c94339,#c94239,#c74038,#d04e3f,#ce4c3d,#dc6349,#e7805d,#efb691,#dedbd6,#bdd0e3,#b9cde2,#e7d6c6,#efb48f,#e47151,#cc473b,#bf3331,#ba2e30,#b52b2e,#b4292e,#b52a2e,#b52a2e,#b4292e)"></i><i style="background:linear-gradient(90deg,#c63d36,#c23733,#c43b35,#c53c35,#cb463b,#d04e3f,#df674b,#e88461,#efba95,#e7d5c3,#e3dacf,#edceb3,#ec9972,#e16a4d,#d14f3f,#c63d36,#be3331,#bc3030,#b92d2f,#bc3030,#bb3030,#ba2f30)"></i><i style="background:linear-gradient(90deg,#c53c36,#c53d36,#c63e36,#c63d36,#d04d3e,#d75a45,#e77d5b,#eea179,#e4d9cd,#c9d6e2,#d5d9db,#f0caa8,#e98864,#dc6249,#cd493c,#c03432,#bf3331,#bd3131,#bc3030,#b92d2f,#b92e30,#bb2f30)"></i><i style="background:linear-gradient(90deg,#c03432,#c23733,#c63d36,#c73f37,#c74038,#d25140,#de664b,#ea8c68,#efc09c,#e3dbd2,#e3dad0,#eeab84,#e77d5b,#d04f3f,#c84238,#c13532,#ba2f30,#b72b2f,#b72c2f,#b52a2e,#b62b2f,#b82d2f)"></i><i style="background:linear-gradient(90deg,#c84238,#c84138,#c73e37,#c84038,#c94339,#d35442,#dc6349,#e8825f,#eea983,#e9d3bf,#c7d5e3,#e3dbd1,#efad86,#e67c5a,#d85b45,#cc473b,#c33833,#c23633,#bc3131,#ba2f30,#bb3030,#bb2f30)"></i><i style="background:linear-gradient(90deg,#c03432,#c13632,#c13532,#c23733,#c73f37,#cb453a,#d45542,#e77d5b,#eea880,#e1dcd5,#dedbd6,#f0c5a2,#e98b67,#d55743,#c84038,#c13632,#bf3432,#b92d2f,#b82d2f,#b82d2f,#b52a2e,#b82d2f)"></i><i style="background:linear-gradient(90deg,#c53c35,#c43934,#c53b35,#c53b35,#c94239,#cb463b,#d55643,#e26c4e,#efad86,#eccfb4,#e5d8ca,#eecdaf,#ec9972,#df684c,#cb473b,#c43a34,#bd3231,#bc3130,#b92d2f,#bb3030,#b82d2f,#b72c2f)"></i><i style="background:linear-gradient(90deg,#ba2f30,#b92e30,#bd3231,#c33834,#c63d36,#d55643,#e47251,#eeac85,#e2dbd3,#d4d9dc,#e5d8ca,#eea57d,#e57454,#d55743,#cb453a,#c53b35,#bd3131,#ba2f30,#b92e2f,#ba2e30,#bd3131,#ba2e30)"></i><i style="background:linear-gradient(90deg,#bb2f30,#bc3130,#b92d2f,#bd3131,#bf3331,#cb453a,#d15040,#e47151,#eea881,#e7d6c6,#dedbd6,#efbd9a,#e88461,#dc6249,#cd493c,#c43b35,#c03432,#be3231,#b72c2f,#ba2f30,#b82d2f,#bc3030)"></i><i style="background:linear-gradient(90deg,#be3231,#bc3030,#c13632,#c13532,#c53c36,#ce4c3d,#da5f47,#e46f50,#efae88,#e7d6c5,#e1dcd5,#eeaa83,#e26c4e,#ce4b3d,#c94238,#c03432,#bb3030,#b72c2f,#b92e2f,#b52a2e,#b72c2f,#b4292e)"></i><i style="background:linear-gradient(90deg,#be3231,#be3231,#bd3131,#be3231,#c63d36,#ca453a,#d45643,#e77d5b,#eea27a,#ead2bc,#edceb3,#efbb97,#e77f5d,#d14f3f,#c53c35,#bd3131,#b72c2f,#b52a2e,#b2272d,#b4292e,#b4292e,#b2282d)"></i><i style="background:linear-gradient(90deg,#bf3331,#bf3331,#be3231,#be3231,#c33934,#c94339,#cd493c,#de654b,#eb956f,#f0c29e,#e6d7c7,#efb690,#e57453,#d75b45,#c53c36,#c33833,#bc3030,#b62b2e,#b52b2e,#b52a2e,#b82c2f,#b82d2f)"></i><i style="background:linear-gradient(90deg,#bd3231,#c03432,#c43934,#c23833,#ca443a,#cb473b,#dd644a,#e77d5b,#efbf9c,#e6d7c7,#eecdaf,#eb956f,#d95d47,#ca443a,#c33934,#ba2f30,#b72c2f,#b52a2e,#b4292e,#b82d2f,#b72c2f,#b52a2e)"></i><i style="background:linear-gradient(90deg,#ba2f30,#b72c2f,#b72c2f,#b82d2f,#c03432,#c43a35,#ce4a3d,#e47252,#eea982,#ebd0b8,#e3dad0,#efcbaa,#ea8d69,#e0694c,#cd493c,#c33834,#bb3030,#be3231,#b92e2f,#bc3030,#bb3030,#b92d2f)"></i><i style="background:linear-gradient(90deg,#c03432,#c23733,#c23633,#c53b35,#c23633,#ca443a,#d15040,#dd644a,#e88663,#efb893,#eeccae,#ed9d76,#e47151,#d04e3f,#c63d36,#bb2f30,#b3282e,#b4292e,#b1262d,#b2272d,#b1262d,#b1272d)"></i><i style="background:linear-gradient(90deg,#c23733,#c03432,#c23633,#c43a34,#c53b35,#c84138,#d85b46,#e26d4e,#ea906b,#f0caa8,#d2d8dd,#e8d4c0,#e98763,#e0694c,#ca453a,#bf3331,#bc3030,#b4292e,#b62b2e,#b2272d,#b1262d,#b3292e)"></i><i style="background:linear-gradient(90deg,#ba2f30,#b62b2f,#ba2f30,#ba2e30,#bf3331,#c03432,#cb463b,#d35442,#e67958,#f0c19e,#e3dbd1,#efb994,#e47251,#d25140,#cb453a,#bc3030,#b92e2f,#b92d2f,#b72c2f,#b62b2e,#b3292e,#b4292e)"></i><i style="background:linear-gradient(90deg,#bf3331,#bc3030,#be3231,#c23733,#c23633,#cc473b,#d25140,#e47151,#eeab84,#ecd0b6,#d8d9da,#ecd0b6,#ea8c68,#d85b45,#c63e37,#be3331,#b92e2f,#b2282d,#b3282e,#b1262d,#b4292e,#b0262d)"></i><i style="background:linear-gradient(90deg,#c03432,#be3231,#bf3331,#c03432,#c43a35,#c43b35,#d25241,#de674b,#ec9670,#f0c9a7,#ead2bb,#eb926d,#dc6249,#cb463b,#c33834,#ba2f30,#b52a2e,#b62b2e,#b3282d,#b2272d,#b4292e,#b1262d)"></i><i style="background:linear-gradient(90deg,#bf3331,#bd3231,#bb3030,#c03432,#c23632,#c73e37,#cb463b,#d65944,#eb926c,#f0c5a2,#e5d8ca,#efb995,#e77d5b,#d35341,#ca453a,#c43a35,#c03432,#b92e30,#b72c2f,#b72c2f,#ba2f30,#b92e2f)"></i><i style="background:linear-gradient(90deg,#c23633,#c23733,#c13532,#c43b35,#c43934,#c84038,#d45542,#e47251,#eb946e,#e7d6c5,#e2dcd3,#f0c3a0,#e98763,#da5e47,#cb453a,#bf3432,#b92e2f,#b82d2f,#b72c2f,#b62b2f,#b52a2e,#b4292e)"></i><i style="background:linear-gradient(90deg,#be3231,#bb3030,#bd3131,#bf3331,#c53c35,#cd493c,#d65844,#e57352,#efb28d,#e9d3be,#e6d6c6,#eeab85,#e16c4e,#d04e3f,#c43934,#bc3030,#b62b2e,#b82c2f,#b62b2e,#b4292e,#b62b2e,#b52a2e)"></i><i style="background:linear-gradient(90deg,#bf3331,#bd3231,#bc3131,#c23633,#c23633,#ca4439,#cf4c3e,#dc6349,#ec9972,#f0caa9,#ead1ba,#eea37b,#de664b,#d25140,#c23733,#b92e30,#ba2f30,#b52a2e,#b52a2e,#b4292e,#b52a2e,#b82c2f)"></i><i style="background:linear-gradient(90deg,#bc3030,#bd3131,#be3231,#c13632,#c03432,#c53b35,#d15040,#d75a45,#e67b59,#f0c6a3,#f0c19e,#ed9d76,#e16a4d,#cf4d3e,#c43934,#bb3030,#b4292e,#b3282e,#af252c,#af252c,#b0262d,#b0262d)"></i><i style="background:linear-gradient(90deg,#b72b2f,#b92e2f,#b52a2e,#bb3030,#be3231,#c23632,#c84038,#da5f47,#e88561,#efbe9a,#efbb96,#ed9f77,#e16b4d,#ce4a3d,#c43a34,#b72c2f,#b72b2f,#b2272d,#b0262d,#b3282d,#b3282e,#af252c)"></i><i style="background:linear-gradient(90deg,#bb3030,#bd3131,#b82d2f,#bd3231,#c03432,#c13532,#c94339,#d14f3f,#e47151,#eea37b,#efbf9c,#eea780,#de664b,#cd4a3d,#c23733,#bb3030,#b72c2f,#b82d2f,#b62b2f,#b52a2e,#b62b2f,#b52a2e)"></i><i style="background:linear-gradient(90deg,#be3331,#bf3331,#bf3331,#bc3130,#c23633,#c23733,#d04e3e,#d75b45,#e57453,#efb08b,#e8d5c2,#efb691,#e47252,#d25241,#c94339,#c13532,#bb2f30,#b62b2e,#b4292e,#b52a2e,#b2282d,#b52a2e)"></i><i style="background:linear-gradient(90deg,#bd3131,#be3231,#bd3231,#c13532,#c13532,#c63d36,#cd493c,#d65844,#e47050,#eea881,#f0c09d,#efac86,#e57353,#ce4b3d,#c33834,#b92d2f,#b72c2f,#b2272d,#af242c,#b0252d,#af252c,#af242c)"></i><i style="background:linear-gradient(90deg,#b82d2f,#b72c2f,#b92e2f,#c03432,#c23633,#cc483c,#d45643,#e98864,#efbe9a,#e6d7c9,#ebd1b9,#eb926c,#db6249,#cf4c3e,#c43a35,#b82d2f,#ba2e30,#b4292e,#b62b2e,#b4292e,#b3292e,#b4292e)"></i><i style="background:linear-gradient(90deg,#bb2f30,#ba2f30,#bd3231,#be3231,#c03432,#c23632,#c74038,#d15040,#e0684c,#eeaa84,#f0c7a4,#ea8c67,#d25140,#c43934,#bd3131,#b42a2e,#af252c,#af242c,#b1262d,#ae242c,#b0262d,#b2272d)"></i><i style="background:linear-gradient(90deg,#b62b2e,#bb3030,#b82d2f,#ba2f30,#c03432,#c73e37,#cb473b,#de664b,#ea8d68,#eccfb3,#e9d3bd,#eea881,#e47151,#d35341,#c84138,#bd3231,#ba2e30,#b52a2e,#b62b2f,#b4292e,#b72c2f,#b62b2e)"></i><i style="background:linear-gradient(90deg,#bc3030,#bd3131,#ba2f30,#bb3030,#bb3030,#c23633,#c94239,#ce4c3e,#e06a4d,#eea37b,#efbc98,#e98763,#d35442,#c43a35,#bc3030,#b3282e,#b1272d,#b2272d,#b3282d,#af252c,#b2272d,#af252c)"></i><i style="background:linear-gradient(90deg,#b42a2e,#b62b2e,#b92d2f,#b82c2f,#ba2f30,#c13532,#c43934,#d65844,#e77d5b,#efb38d,#f0c5a2,#efaf89,#dd654a,#c84138,#c13532,#b82d2f,#b1262d,#b1272d,#ae242c,#ad232c,#af242c,#ad232c)"></i><i style="background:linear-gradient(90deg,#b52a2e,#b72c2f,#b82d2f,#b72c2f,#ba2e30,#bd3231,#c84138,#d55743,#e57655,#f0c4a1,#edcdb0,#e67c5a,#d35442,#c43934,#b82d2f,#b42a2e,#af242c,#b0252c,#af252c,#ad222b,#af252c,#af252c)"></i><i style="background:linear-gradient(90deg,#be3331,#be3331,#bf3331,#bd3131,#bc3030,#c13532,#c73e37,#d35341,#e47050,#efb893,#f0c4a1,#e98763,#d55744,#c94239,#ba2f30,#b62b2f,#b3282e,#b4292e,#b4292e,#b4292e,#b1262d,#b1262d)"></i><i style="background:linear-gradient(90deg,#b52a2e,#b72c2f,#b52a2e,#bb3030,#be3231,#c33934,#cb453a,#dc6249,#e98a66,#f0c6a3,#f0c8a6,#ea906b,#dd654a,#cf4c3e,#c43934,#b92d2f,#b4292e,#b3282d,#b4292e,#b2272d,#b2272d,#b52a2e)"></i><i style="background:linear-gradient(90deg,#bb3030,#b92e2f,#ba2e30,#bc3131,#bd3231,#bd3131,#c53c35,#d04e3f,#dd644a,#ec9a73,#f0c3a0,#e98b66,#d45542,#c73f37,#be3231,#b3282d,#b0262d,#af242c,#b2272d,#b2272d,#b1262d,#b0262d)"></i><i style="background:linear-gradient(90deg,#b3282e,#b3282e,#b62b2e,#b52a2e,#b72c2f,#c03432,#c73f37,#d35442,#e77f5d,#efba96,#eea47d,#dd634a,#c84138,#bd3131,#b3292e,#b2272d,#ae242c,#af252c,#b0252d,#af252c,#ae242c,#ae242c)"></i><i style="background:linear-gradient(90deg,#b3292e,#b42a2e,#b52a2e,#b82d2f,#bc3130,#bc3030,#c84138,#d15140,#e67a58,#efb18b,#edceb2,#eea780,#e36f4f,#cf4d3e,#c73e37,#bb3030,#b62b2f,#b4292e,#b52a2e,#b0262d,#b2282d,#b2282d)"></i><i style="background:linear-gradient(90deg,#b3282e,#b42a2e,#b62b2e,#b72c2f,#ba2f30,#bf3331,#c63e36,#d25241,#e7815f,#efb58f,#f0c7a5,#e98965,#dc6349,#c63e37,#bf3331,#b72b2f,#b52a2e,#b1262d,#b0262d,#b3282d,#b3282d,#b0252d)"></i><i style="background:linear-gradient(90deg,#b92d2f,#b52a2e,#b72c2f,#bb2f30,#be3331,#c03432,#c84038,#d65944,#eb946f,#efb38e,#efad86,#e98864,#d15140,#c73f37,#c33833,#ba2e30,#b4292e,#b42a2e,#b52a2e,#b2282d,#b3282d,#b3282e)"></i><i style="background:linear-gradient(90deg,#ba2e30,#b62b2e,#bb2f30,#b92d2f,#b72c2f,#b92e2f,#c13532,#c53d36,#d35341,#ec9972,#f0c8a6,#ec9771,#d75a45,#c23733,#b92d2f,#b0262d,#af252c,#ac222b,#ac222b,#af252c,#ac222b,#af252c)"></i><i style="background:linear-gradient(90deg,#b72c2f,#b92e2f,#b62b2e,#b62b2e,#bd3231,#bf3331,#c53c36,#d15040,#e47252,#eea881,#efaf89,#ea8e69,#d25241,#c73f37,#bb2f30,#b4292e,#b2272d,#b0252d,#b0252d,#ae242c,#ae242c,#ae242c)"></i><i style="background:linear-gradient(90deg,#b92e2f,#b82d2f,#bb3030,#bd3131,#bf3331,#c23733,#c84138,#cb463b,#dd654a,#ec9972,#f0c4a1,#ed9b74,#d55743,#c84038,#be3231,#b62b2e,#b3282d,#b2272d,#b1262d,#b0252c,#b2282d,#af252c)"></i><i style="background:linear-gradient(90deg,#ba2e30,#b72c2f,#ba2e30,#b82d2f,#bc3030,#ba2f30,#c23633,#cf4c3e,#d85c46,#eea17a,#eea67e,#e57454,#cc473b,#c13632,#bc3131,#b4292e,#b0252c,#b1272d,#ae242c,#b0252c,#b1262d,#af252c)"></i><i style="background:linear-gradient(90deg,#b72c2f,#b62b2e,#b72c2f,#ba2f30,#bd3131,#bc3131,#c73f37,#d15040,#df684c,#efb590,#efcbaa,#ea8d68,#d95d46,#c84038,#c03432,#bb3030,#b4292e,#b42a2e,#b4292e,#b2272d,#b4292e,#b2282d)"></i><i style="background:linear-gradient(90deg,#b72c2f,#b92e2f,#ba2e30,#b82d2f,#bd3231,#c03432,#c84138,#cc483c,#df674b,#ed9d76,#eeab84,#eb936e,#d95e47,#c63d36,#c23633,#ba2f30,#b2272d,#b1262d,#b1272d,#af242c,#b0252d,#ae242c)"></i><i style="background:linear-gradient(90deg,#b62b2e,#b72c2f,#b4292e,#b72c2f,#b82d2f,#be3231,#c63e36,#cc483c,#e57453,#eea37c,#eea27a,#e67958,#cf4c3e,#c43b35,#c23733,#b92e2f,#b62b2f,#b2282d,#b62b2f,#b4292e,#b2282d,#b4292e)"></i><i style="background:linear-gradient(90deg,#b2282d,#b3282d,#b62b2f,#ba2e30,#be3231,#bf3432,#cb463b,#d35341,#e77f5d,#efbb97,#efbd99,#e88461,#d75b45,#c73e37,#bd3131,#b62b2f,#b1262d,#b1272d,#ae242c,#af252c,#ae232c,#b0262d)"></i><i style="background:linear-gradient(90deg,#b82d2f,#b52b2e,#b52a2e,#b92e2f,#bd3131,#bd3231,#c63d36,#cf4c3e,#e47050,#eea27a,#efbf9b,#ec9771,#df684c,#c73f37,#bf3331,#b62b2f,#b2282d,#ae242c,#ad222b,#af242c,#ae232c,#af252c)"></i><i style="background:linear-gradient(90deg,#b52a2e,#b4292e,#b82d2f,#bb3030,#bd3131,#bf3331,#c74037,#d35341,#e67c5a,#efbb97,#f0c7a4,#ea8c67,#d75b45,#c74037,#bd3231,#b82d2f,#b52a2e,#b2272d,#b2272d,#b1272d,#b1272d,#b1262d)"></i><i style="background:linear-gradient(90deg,#b4292e,#b82d2f,#b82d2f,#b52a2e,#b92e2f,#bc3130,#c33834,#cc473b,#e16c4e,#ec9770,#efb18b,#e88662,#d55643,#c43a34,#be3231,#bb2f30,#b4292e,#b4292e,#b52a2e,#b2272d,#b3282e,#b52b2e)"></i><i style="background:linear-gradient(90deg,#b2272d,#b2282d,#b1262d,#b4292e,#b3282d,#b82c2f,#bf3331,#d04f3f,#e47151,#efb28c,#efb38d,#e16b4d,#cd4a3d,#bd3131,#b2282d,#b1262d,#ae232c,#ab212b,#ab212b,#ab212b,#ad232c,#ad232c)"></i><i style="background:linear-gradient(90deg,#b2282d,#b3282d,#b1272d,#b3292e,#b72c2f,#bc3130,#c43a34,#d45542,#e98864,#efbb97,#ec9872,#dc634a,#c43b35,#bf3331,#b62b2f,#b0252c,#b1262d,#af252c,#b1262d,#b0262d,#ad232c,#ae232c)"></i><i style="background:linear-gradient(90deg,#b3282d,#b2272d,#b52a2e,#b72c2f,#b72c2f,#bc3030,#c63e36,#cf4c3e,#e67957,#eea983,#eea47c,#e77f5d,#cd493c,#c13532,#ba2f30,#b1262d,#ae242c,#af252c,#ac222b,#ad232c,#ad232c,#ad222c)"></i><i style="background:linear-gradient(90deg,#af252c,#b0262d,#b2272d,#b2282d,#b62b2f,#b82d2f,#c23733,#cd493c,#df684c,#ed9f77,#efad86,#e77f5d,#d04f3f,#c53c35,#b82d2f,#b3282e,#af252c,#af252c,#ad232c,#ac222b,#ac222b,#ab212b)"></i><i style="background:linear-gradient(90deg,#b3282e,#b52a2e,#b72c2f,#b4292e,#b72c2f,#be3331,#c63d36,#d04e3f,#e57756,#eeab84,#efb08a,#e57555,#d25241,#c13532,#ba2e30,#b0262d,#b1262d,#af242c,#af242c,#af252c,#ae232c,#af242c)"></i><i style="background:linear-gradient(90deg,#ae232c,#b0252c,#b0252d,#af252c,#b0252d,#b82d2f,#bd3131,#c33834,#d85c46,#eb916c,#efb08a,#eeab84,#df674c,#cd493c,#c23733,#b82c2f,#b0252d,#ad232c,#ad232c,#ab212b,#ad232c,#ac222b)"></i><i style="background:linear-gradient(90deg,#b3282e,#b2282d,#b4292e,#b4292e,#b4292e,#b72c2f,#bd3131,#c53c36,#cf4d3e,#e77d5b,#eea67e,#e57756,#cd493c,#c13532,#ba2f30,#b0252d,#ae242c,#ae232c,#ac222b,#ab212b,#ab212b,#ab212b)"></i><i style="background:linear-gradient(90deg,#b62b2f,#b52a2e,#b52a2e,#ba2f30,#b82d2f,#c23633,#c63d36,#d25241,#e77d5b,#efb792,#efba95,#e67957,#d65944,#c94339,#bb2f30,#b62b2f,#b52a2e,#b2272d,#af242c,#b2272d,#b3282d,#af252c)"></i><i style="background:linear-gradient(90deg,#b52a2e,#b1272d,#b52a2e,#b4292e,#b52a2e,#bd3231,#c73f37,#d04f3f,#e16c4e,#efb38d,#efbd99,#ec9872,#da5f47,#cd493c,#c03432,#ba2e30,#b62b2e,#b1272d,#b2272d,#ae242c,#ae242c,#b0262d)"></i><i style="background:linear-gradient(90deg,#b82d2f,#b62b2f,#b62b2e,#b82d2f,#bc3130,#bd3131,#c73f37,#cf4d3e,#e67b59,#eeaa83,#eea57e,#dd654a,#cc473b,#be3231,#b82d2f,#b1272d,#b0252d,#ad232c,#ad232c,#ae242c,#af242c,#ae242c)"></i><i style="background:linear-gradient(90deg,#b3282d,#b1262d,#b1272d,#b52a2e,#b52a2e,#b92e30,#c53c36,#ca4339,#e57352,#ed9f77,#eea37b,#e67c5a,#ce4b3d,#c13532,#b52a2e,#b3282e,#ad232c,#ab212b,#ab212b,#aa212b,#ac222b,#ab212b)"></i><i style="background:linear-gradient(90deg,#ae242c,#b0252d,#b1272d,#b2272d,#b2282d,#b62b2e,#bc3030,#c53b35,#d75944,#eea079,#efae87,#e57554,#cb463a,#c03432,#b72c2f,#b0262d,#ae242c,#ae232c,#ad232c,#ad232c,#ac222b,#ad232c)"></i><i style="background:linear-gradient(90deg,#b1262d,#b3282e,#b4292e,#b3282d,#b4292e,#ba2f30,#c53b35,#cc473b,#e77d5b,#efbb96,#eea67e,#dc6349,#cc473b,#bc3131,#b52a2e,#b3282e,#b0252c,#b0252d,#af252c,#b3282d,#b1262d,#b0252c)"></i><i style="background:linear-gradient(90deg,#af252c,#ad232c,#b1262d,#b0262d,#b0262d,#b92e30,#c13532,#cb453a,#e16b4e,#efae88,#efb691,#e47050,#ce4b3d,#c03432,#b52b2e,#b2282d,#b0252d,#ac222b,#ac222b,#ac222b,#ab212b,#ac222b)"></i><i style="background:linear-gradient(90deg,#b4292e,#b3292e,#b0262d,#b1272d,#b3282d,#b92d2f,#be3231,#c33934,#d45542,#e77f5c,#eea079,#e57756,#ca453a,#be3231,#ba2e30,#b1272d,#b1262d,#b0252c,#ad232c,#af252c,#ae232c,#ae242c)"></i><i style="background:linear-gradient(90deg,#b1272d,#b4292e,#b1272d,#b52a2e,#b92d2f,#be3231,#c43b35,#cd493c,#e47050,#eea57e,#ed9b74,#e36e4f,#c84038,#c13532,#b72c2f,#b42a2e,#ae242c,#ad232c,#af242c,#ae242c,#ae242c,#ae242c)"></i><i style="background:linear-gradient(90deg,#b3282e,#b3282d,#b2272d,#b1262d,#b1262d,#b82d2f,#bc3030,#c53c36,#d35341,#eb916c,#efb28c,#e57554,#cd4a3d,#bd3131,#b4292e,#b2272d,#ad232c,#ad232c,#ae242c,#ab212b,#ad232c,#ad222c)"></i><i style="background:linear-gradient(90deg,#b0262d,#af252c,#b3282d,#b3292e,#b52a2e,#bd3131,#c43a35,#d04f3f,#e57655,#ed9c75,#eeaa84,#e88663,#ce4b3d,#c63e36,#bc3130,#b4292e,#b3282d,#af252c,#ad232c,#af252c,#af252c,#ac222b)"></i><i style="background:linear-gradient(90deg,#b0262d,#ad232c,#af252c,#b3282d,#b4292e,#b82d2f,#c33833,#cb463b,#e47251,#efb08a,#efb18c,#e7805d,#cc483c,#c43b35,#bb2f30,#b62b2f,#b1262d,#af252c,#b1272d,#b0252d,#af252c,#af252c)"></i><i style="background:linear-gradient(90deg,#b2272d,#b1272d,#b1272d,#b0262d,#b4292e,#b52a2e,#bc3030,#be3231,#cc473b,#e36e4f,#ea906b,#e36e4f,#cb463b,#be3231,#b92e2f,#b4292e,#b3282d,#b0252d,#b0252d,#af252c,#b2282d,#af242c)"></i><i style="background:linear-gradient(90deg,#b2282d,#b52a2e,#b3282d,#b3292e,#b52a2e,#b82d2f,#ba2f30,#c13532,#d04e3e,#e88360,#eb916c,#d85c46,#c33834,#bd3131,#b2282d,#b0262d,#ae242c,#ad232c,#ad222c,#ab212b,#ad232c,#ab212b)"></i><i style="background:linear-gradient(90deg,#b0262d,#b3292e,#b4292e,#b2282d,#b72c2f,#bc3130,#c53c36,#d35341,#e67c5a,#efad87,#eea47c,#e36f4f,#c84138,#bf3331,#b72c2f,#b3292e,#af242c,#ad232c,#ac222b,#ae242c,#ad222c,#ad232c)"></i><i style="background:linear-gradient(90deg,#b4292e,#b1262d,#b3282d,#b3282d,#b52a2e,#bc3130,#c13632,#cb453a,#e47151,#ea8f6a,#ec9972,#e0694d,#c84138,#c03432,#b62b2f,#b2272d,#ad232c,#ab212b,#ac222b,#aa212b,#ab212b,#aa212b)"></i><i style="background:linear-gradient(90deg,#b52a2e,#b62b2e,#b4292e,#b52a2e,#b62b2f,#bb2f30,#bd3131,#c94239,#d95e47,#ea8d68,#eea47c,#e67c5a,#d25241,#c13532,#b92d2f,#b0252d,#ac222b,#ac222b,#aa202b,#ab212b,#ab212b,#aa212b)"></i><i style="background:linear-gradient(90deg,#ae232c,#ae232c,#af252c,#b2282d,#b0262d,#b3292e,#bb2f30,#c43a34,#d35341,#eb946e,#eea47d,#e47050,#cb463a,#c13532,#b3282e,#ae232c,#ab212b,#aa212b,#aa202b,#aa212b,#aa212b,#ab212b)"></i><i style="background:linear-gradient(90deg,#b52a2e,#b3292e,#b3282e,#b62b2f,#b52a2e,#b72c2f,#bc3131,#c53c35,#d25140,#e88561,#e77e5c,#ce4b3d,#be3331,#bb2f30,#b52a2e,#ae242c,#af252c,#ad232c,#ad232c,#ad222b,#ad232c,#ad232c)"></i><i style="background:linear-gradient(90deg,#b3282e,#b4292e,#b2272d,#b4292e,#b62b2f,#b92e30,#bb3030,#c53c35,#da5f47,#ea8d68,#e98a66,#cf4d3e,#c03432,#b62b2e,#b2282d,#ad232c,#ab212b,#ab212b,#ab212b,#ac222b,#ae242c,#ae242c)"></i><i style="background:linear-gradient(90deg,#b4292e,#b52a2e,#b4292e,#b3282e,#b62b2f,#b92e30,#c33934,#cc483c,#dc6249,#e88562,#ed9e77,#e47251,#ce4b3d,#c33833,#bd3131,#b4292e,#b0262d,#b2272d,#b1272d,#af242c,#b0262d,#ae242c)"></i><i style="background:linear-gradient(90deg,#b52a2e,#b4292e,#b4292e,#b62b2e,#b3292e,#bb3030,#bf3331,#c63e36,#d45643,#e98b67,#ec9972,#d75a45,#c84038,#ba2f30,#b52a2e,#b1262d,#ae242c,#b0262d,#b1262d,#af252c,#ae242c,#b0262d)"></i><i style="background:linear-gradient(90deg,#b3282e,#b3292e,#b4292e,#b52a2e,#b4292e,#b52a2e,#b92e30,#be3231,#cb463b,#e77e5c,#eb936d,#da5f47,#c73f37,#b92e30,#b3282e,#ae242c,#ad232c,#ac212b,#ad232c,#ab212b,#ac222b,#ae232c)"></i><i style="background:linear-gradient(90deg,#b0262d,#b2282d,#b3282e,#b1272d,#b4292e,#b92d2f,#be3231,#c13532,#d25140,#e8825f,#eb956f,#e16c4e,#ce4b3d,#c23733,#ba2e30,#b3292e,#ad232c,#ad222c,#ad232c,#ad232c,#ad232c,#ab212b)"></i><i style="background:linear-gradient(90deg,#b1262d,#b3292e,#b0252d,#b0262d,#b3282d,#b72c2f,#ba2e30,#c63e36,#d15040,#e67958,#ed9d76,#e7805d,#c94339,#bc3030,#b52a2e,#ae242c,#ac222b,#ac212b,#ac222b,#ab212b,#ab212b,#aa212b)"></i><i style="background:linear-gradient(90deg,#b3282e,#b0252d,#b2272d,#b3282e,#b52a2e,#b3282e,#ba2f30,#c33834,#cb463b,#e67a59,#ec9a74,#e16b4e,#c94239,#bc3131,#b72c2f,#af242c,#af242c,#ab212b,#ab212b,#ad232c,#ab212b,#ad222c)"></i><i style="background:linear-gradient(90deg,#ae242c,#ac222b,#ae242c,#b1262d,#b2272d,#b62b2f,#bd3231,#c43b35,#d75b45,#e88663,#eb916b,#de674b,#cd493c,#be3231,#b82d2f,#b0262d,#af242c,#ae232c,#ad232c,#ac222b,#ad232c,#ab212b)"></i><i style="background:linear-gradient(90deg,#ae242c,#ae242c,#ac222b,#ad222c,#af242c,#b62b2e,#b92e2f,#c33934,#d04f3f,#e67b59,#e57756,#d85c46,#c33833,#bc3030,#b3282e,#b0262d,#b0252c,#ac212b,#ab212b,#ac222b,#ab212b,#ae232c)"></i><i style="background:linear-gradient(90deg,#b3282e,#b3282e,#b52a2e,#b52a2e,#b4292e,#bb3030,#c03432,#c94339,#d75a45,#e88360,#ea906b,#dc6349,#c94339,#be3231,#b72c2f,#af252c,#af252c,#ab212b,#ac222b,#ac222b,#ae232c,#ad232c)"></i><i style="background:linear-gradient(90deg,#ad232c,#ae242c,#b0252d,#b0262d,#b3282d,#b52a2e,#b82d2f,#c03432,#d04e3f,#e8825f,#ea906b,#e67958,#cc473b,#c13532,#b92e2f,#b0262d,#af242c,#ae232c,#ae242c,#ae232c,#ab212b,#ab212b)"></i><i style="background:linear-gradient(90deg,#ae242c,#ad232c,#ad232c,#b1262d,#af242c,#b4292e,#b92e2f,#bc3030,#c74037,#de664b,#e88360,#d45643,#c03432,#bb3030,#b3282e,#b0262d,#ab212b,#ac222b,#ac222b,#ab212b,#ab212b,#aa212b)"></i><i style="background:linear-gradient(90deg,#ae242c,#b0252c,#ad232c,#ae242c,#af252c,#b3282d,#b62b2f,#bd3131,#c73e37,#df684c,#e67857,#cc473b,#bd3231,#b4292e,#b2272d,#ad232c,#ad232c,#ac222b,#ac222b,#ab212b,#ab212b,#ad232c)"></i><i style="background:linear-gradient(90deg,#b0252c,#af252c,#b2282d,#b4292e,#b3282d,#b82d2f,#b72c2f,#bf3431,#cd493c,#e57453,#e57453,#d85b46,#c53c36,#b82d2f,#b2272d,#af252c,#ad232c,#ac222b,#ad232c,#ac222b,#aa212b,#ab212b)"></i><i style="background:linear-gradient(90deg,#b2272d,#b2272d,#b3282e,#b3282d,#b82d2f,#bd3231,#c03432,#cb463b,#da5f48,#ea8d68,#e88562,#d65944,#c53b35,#bb3030,#b2272d,#b0252d,#ad232c,#ab212b,#ab212b,#aa212b,#aa202b,#ac222b)"></i><i style="background:linear-gradient(90deg,#af252c,#b1262d,#b0262d,#b1272d,#b4292e,#ba2e30,#bc3130,#c94339,#dd644a,#ec9973,#eb936d,#e47050,#ca443a,#c13532,#b62b2e,#b52a2e,#af252c,#af252c,#ad232c,#b0262d,#af252c,#b0252c)"></i><i style="background:linear-gradient(90deg,#b4292e,#b2272d,#b4292e,#b4292e,#b82d2f,#b82d2f,#bc3030,#c84138,#d55643,#e57756,#e47252,#ca453a,#c23733,#b62b2e,#b52a2e,#b1272d,#af242c,#ac222b,#ac222b,#ae242c,#ae242c,#ae242c)"></i><i style="background:linear-gradient(90deg,#b1272d,#af242c,#b3282d,#b1272d,#b3282d,#b72c2f,#bd3131,#c13532,#d04e3f,#e67857,#e98a66,#e57453,#d25140,#c13532,#bc3130,#b72c2f,#b1272d,#af252c,#ae242c,#ae242c,#b0262d,#ae242c)"></i><i style="background:linear-gradient(90deg,#b2282d,#b1272d,#b2272d,#b0262d,#b1272d,#b62b2f,#ba2f30,#c13532,#d04e3f,#e98a66,#ea8e69,#db6048,#c13632,#b62b2e,#b0252c,#ac212b,#aa212b,#ac222b,#ab212b,#aa212b,#aa202b,#ab212b)"></i><i style="background:linear-gradient(90deg,#af252c,#ae232c,#ae232c,#ae242c,#ae242c,#b3282d,#bb3030,#c13532,#d14f3f,#e88662,#ed9d75,#e36e4f,#c84138,#c13632,#b52a2e,#b2272d,#af242c,#ad232c,#ab212b,#ad232c,#ad222b,#ab212b)"></i><i style="background:linear-gradient(90deg,#ad232c,#ae242c,#ad232c,#ad232c,#ad232c,#b2272d,#b2272d,#bd3131,#c84138,#df674b,#e7815f,#cc483c,#bf3331,#b4292e,#af242c,#ac222b,#a9202b,#a9202b,#aa202b,#a9202b,#aa212b,#a8202b)"></i><i style="background:linear-gradient(90deg,#b0262d,#b0262d,#b1272d,#b0262d,#b3282e,#b62b2f,#ba2f30,#c13532,#ce4c3e,#e77f5d,#e98a66,#db6148,#c23733,#b82d2f,#b4292e,#b1262d,#af252c,#ae242c,#b0252d,#ad232c,#ad232c,#ad232c)"></i><i style="background:linear-gradient(90deg,#b0252d,#b0262d,#b1272d,#af252c,#b0252d,#b4292e,#b82d2f,#c53c36,#d15040,#e77f5c,#e57655,#d04f3f,#c13532,#b92e30,#b52a2e,#af252c,#ad232c,#ab212b,#ac222b,#ac222b,#ac222b,#ac222b)"></i><i style="background:linear-gradient(90deg,#b1262d,#b3292e,#b2282d,#b2272d,#b52a2e,#b52a2e,#b92e2f,#bf3431,#ca453a,#de664b,#e47251,#d55743,#c33834,#bc3130,#b62b2e,#b0262d,#b0262d,#b1262d,#af252c,#ac222b,#ae242c,#ad232c)"></i><i style="background:linear-gradient(90deg,#ab212b,#ab212b,#ad232c,#ac222b,#b0262d,#b4292e,#b52b2e,#c33833,#d25241,#e47252,#e77d5b,#cf4d3e,#c23733,#bb3030,#b3282d,#af252c,#af242c,#ad232c,#af252c,#ad232c,#af242c,#ad232c)"></i><i style="background:linear-gradient(90deg,#af242c,#b1262d,#b1272d,#b0252d,#b3292e,#b3282e,#ba2f30,#bf3331,#d35341,#e67a59,#e7805d,#cd493c,#c13532,#b72c2f,#b0262d,#af242c,#af242c,#af252c,#ac222b,#ae232c,#af242c,#ac222b)"></i><i style="background:linear-gradient(90deg,#ae242c,#ad232c,#af252c,#ad232c,#ad232c,#b3282e,#b92e30,#c33834,#cd493c,#e57755,#e98864,#d35442,#c13532,#ba2f30,#b3282e,#b0262d,#b0252c,#af242c,#ac222b,#ab212b,#ad232c,#ab212b)"></i><i style="background:linear-gradient(90deg,#b0252d,#b3282d,#b3282d,#b0252c,#b4292e,#b1272d,#b72c2f,#bd3131,#c63e36,#e36e4f,#e77d5b,#dc6249,#c53c35,#b62b2f,#af252c,#ac222b,#aa212b,#aa202b,#ac222b,#a9202b,#aa212b,#aa202b)"></i><i style="background:linear-gradient(90deg,#b0262d,#b0262d,#ae232c,#ae242c,#af252c,#b3292e,#b92e2f,#be3231,#cb453a,#e16c4e,#db6048,#c33834,#bb3030,#b52a2e,#b0262d,#b0252c,#af252c,#ad232c,#ad232c,#ae242c,#af252c,#ac222b)"></i><i style="background:linear-gradient(90deg,#b1272d,#b0262d,#b2272d,#af252c,#b0262d,#b1272d,#b72c2f,#ba2f30,#c63e37,#db6148,#e47252,#d15040,#bd3131,#b52a2e,#b3282e,#b0262d,#ad232c,#ac222b,#ad232c,#ad232c,#ad232c,#ac222b)"></i><i style="background:linear-gradient(90deg,#ad232c,#ae232c,#ac222b,#af252c,#af252c,#b2272d,#b52a2e,#bc3030,#c43a35,#e0694c,#e67b59,#d95d46,#c73f37,#bd3231,#b62b2f,#b0252c,#b2272d,#af252c,#ae242c,#ae232c,#ae242c,#ae242c)"></i><i style="background:linear-gradient(90deg,#ad222b,#ae242c,#ae242c,#ae242c,#b0252c,#b1262d,#b52a2e,#bd3231,#cb453a,#db6148,#e26c4e,#c84138,#ba2f30,#b2282d,#ac222b,#aa212b,#ab212b,#a9202b,#a8202b,#aa212b,#aa202b,#aa202b)"></i><i style="background:linear-gradient(90deg,#af252c,#ae242c,#b0262d,#ae242c,#af252c,#b0262d,#b92e2f,#be3231,#c94339,#e36f4f,#e57655,#d95d46,#c43a35,#b62b2e,#af252c,#ad232c,#aa212b,#a9202b,#aa212b,#aa212b,#a9202b,#aa202b)"></i><i style="background:linear-gradient(90deg,#ac222b,#ad232c,#ac222b,#af242c,#ae242c,#b2282d,#ba2f30,#c13532,#cd4a3d,#e57756,#e67857,#d35442,#c63d36,#b82d2f,#b52a2e,#b1262d,#ae232c,#ad232c,#ab212b,#ab212b,#ab212b,#ab212b)"></i><i style="background:linear-gradient(90deg,#ad232c,#ad232c,#ac222b,#ad232c,#ad222c,#b2272d,#b4292e,#be3231,#cc473b,#e47252,#e67958,#d35341,#bd3231,#b92e2f,#b2272d,#b1262d,#ad232c,#b0252c,#ae242c,#ac222b,#af252c,#ad232c)"></i><i style="background:linear-gradient(90deg,#b0252d,#b2282d,#ae242c,#b3282d,#af252c,#b0262d,#b4292e,#b92e2f,#bc3131,#d35341,#e26d4e,#cb463a,#be3331,#b2272d,#ae232c,#ab212b,#a9202b,#a8202b,#a9202b,#aa202b,#aa202b,#a9202b)"></i><i style="background:linear-gradient(90deg,#ac222b,#ac222b,#ad232c,#ae242c,#af252c,#ae242c,#b4292e,#b82d2f,#c84038,#dd654a,#e0694c,#cf4d3e,#bd3231,#b2282d,#b0262d,#aa212b,#ac222b,#ac222b,#aa212b,#aa212b,#aa212b,#aa212b)"></i><i style="background:linear-gradient(90deg,#b1262d,#af252c,#b2272d,#b0252c,#b2272d,#b2272d,#b52a2e,#bc3030,#c33934,#d55743,#e26d4f,#d65844,#c13532,#b62b2e,#b2272d,#ae242c,#ab212b,#ab212b,#ab212b,#aa212b,#ab212b,#ac222b)"></i><i style="background:linear-gradient(90deg,#ae242c,#b0252c,#ae242c,#b1262d,#b0262d,#b2282d,#b52a2e,#be3231,#c84038,#db6249,#e16c4e,#ce4b3d,#bd3131,#b52a2e,#b2282d,#ad232c,#ac222b,#ab212b,#ab212b,#aa212b,#ab212b,#a9202b)"></i><i style="background:linear-gradient(90deg,#ab212b,#aa212b,#a9202b,#a9202b,#ab212b,#ae242c,#af242c,#b82d2f,#c13532,#d15140,#e47050,#d65844,#c13632,#b72c2f,#b2272d,#ae242c,#ad232c,#aa212b,#aa212b,#aa212b,#aa202b,#aa212b)"></i><i style="background:linear-gradient(90deg,#b1272d,#b0262d,#b2282d,#af242c,#b1272d,#b2272d,#b2282d,#b92e2f,#c13532,#d35442,#d85c46,#ca443a,#b82d2f,#b52a2e,#ad232c,#ae242c,#ad232c,#ab212b,#ad222c,#ab212b,#aa212b,#ac222b)"></i><i style="background:linear-gradient(90deg,#af252c,#b1272d,#b2282d,#b0262d,#b1262d,#b62b2e,#b72c2f,#bd3131,#cd493c,#df674b,#d95d46,#c84038,#ba2f30,#b2272d,#af242c,#ac222b,#aa212b,#ac222b,#aa202b,#ab212b,#aa212b,#ac222b)"></i><i style="background:linear-gradient(90deg,#ab212b,#a9202b,#ab212b,#ab212b,#ad232c,#ac222b,#b0262d,#bc3030,#cc473b,#e26c4e,#dc6249,#c23733,#b62b2e,#af252c,#aa212b,#ab212b,#ab212b,#aa212b,#aa212b,#aa202b,#a9202b,#ab212b)"></i><i style="background:linear-gradient(90deg,#ac222b,#ab212b,#ac222b,#aa212b,#ab212b,#ad222b,#af252c,#b3282d,#b82d2f,#cd493c,#e26d4f,#d75a45,#bc3130,#b4292e,#ac222b,#ab212b,#a9202b,#aa202b,#a9202b,#aa202b,#a9202b,#a9202b)"></i><i style="background:linear-gradient(90deg,#ab212b,#ab212b,#ab212b,#ad222c,#ae232c,#af242c,#b4292e,#b62b2e,#c84138,#d85d46,#d35442,#bf3432,#b62b2e,#b2272d,#ad232c,#af242c,#ac222b,#ae242c,#ad232c,#ab212b,#ab212b,#ad232c)"></i><i style="background:linear-gradient(90deg,#a9202b,#ac222b,#ab212b,#aa202b,#ab212b,#ad232c,#b4292e,#b52a2e,#c63d36,#d85c46,#dd654a,#ca443a,#bc3030,#b2282d,#ae232c,#ac222b,#aa202b,#aa212b,#a9202b,#aa202b,#a8202b,#a9202b)"></i><i style="background:linear-gradient(90deg,#b0262d,#b0262d,#af252c,#b0262d,#af242c,#b0262d,#b4292e,#b82d2f,#bf3331,#d65844,#dd654a,#c84038,#be3231,#b42a2e,#af252c,#ae242c,#aa212b,#aa212b,#ad222c,#aa212b,#ab212b,#ad222b)"></i><i style="background:linear-gradient(90deg,#b0252d,#b2272d,#b1272d,#b1262d,#b0262d,#b2282d,#b4292e,#b52a2e,#c13532,#d45442,#d85c46,#c23733,#b62b2e,#af252c,#ab212b,#aa202b,#aa202b,#a9202b,#a8202b,#a9202b,#a9202b,#a8202b)"></i><i style="background:linear-gradient(90deg,#a9202b,#aa202b,#aa212b,#ab212b,#ab212b,#af242c,#b52a2e,#b92e30,#c94239,#e26c4e,#df674c,#cb463b,#bb2f30,#b42a2e,#af242c,#ab212b,#aa212b,#a8202b,#a8202b,#a9202b,#a9202b,#a9202b)"></i><i style="background:linear-gradient(90deg,#aa212b,#ab212b,#ab212b,#ab212b,#ae242c,#b1262d,#b82c2f,#c03432,#cc473b,#df674b,#e0694c,#c94239,#bb3030,#b2272d,#ac222b,#ab212b,#aa212b,#a9202b,#a9202b,#a71f2b,#a8202b,#a8202b)"></i><i style="background:linear-gradient(90deg,#ab212b,#aa212b,#aa212b,#ab212b,#ad222b,#ae242c,#b1272d,#b72c2f,#c03532,#d75b45,#db6249,#c73f37,#b72c2f,#b0252c,#aa212b,#a9202b,#aa212b,#a9202b,#aa212b,#a8202b,#aa202b,#aa212b)"></i><i style="background:linear-gradient(90deg,#af252c,#af252c,#ae242c,#b1272d,#ae232c,#b2272d,#b4292e,#b82d2f,#bb3030,#d25241,#e26c4e,#c74037,#b72c2f,#b1262d,#aa202b,#a9202b,#a9202b,#a9202b,#a9202b,#a9202b,#a81f2b,#a9202b)"></i><i style="background:linear-gradient(90deg,#ac222b,#ae242c,#ac212b,#ae242c,#ab212b,#b0262d,#b3282e,#b52a2e,#c03432,#d35341,#e47050,#c94339,#b82d2f,#b3282d,#ae242c,#ab212b,#ac222b,#aa212b,#aa202b,#aa202b,#ac222b,#aa212b)"></i><i style="background:linear-gradient(90deg,#ac222b,#ae242c,#ac222b,#ad232c,#ac222b,#ad232c,#b1262d,#b52b2e,#c43a35,#d95d47,#ce4b3d,#bd3131,#b2282d,#ae242c,#ab212b,#aa202b,#a9202b,#a71f2b,#a8202b,#a8202b,#a9202b,#a9202b)"></i><i style="background:linear-gradient(90deg,#af242c,#af252c,#af252c,#b0262d,#b1262d,#b0262d,#b52a2e,#b72c2f,#bd3131,#d45643,#dd644a,#cb463b,#b82d2f,#b3282d,#ac222b,#ab212b,#aa212b,#aa212b,#a9202b,#aa202b,#aa212b,#aa202b)"></i><i style="background:linear-gradient(90deg,#af242c,#b0262d,#af242c,#b0262d,#b0252c,#b0252c,#b0262d,#b92e2f,#c13532,#d85c46,#e47252,#cf4c3e,#bc3130,#b52a2e,#b0252d,#ac222b,#ab212b,#ad222c,#aa202b,#ac222b,#aa212b,#aa212b)"></i><i style="background:linear-gradient(90deg,#aa202b,#a9202b,#aa212b,#ab212b,#ae242c,#ae242c,#b82d2f,#c23633,#d04e3f,#e36e4f,#d45643,#c23733,#b62b2e,#b4292e,#af252c,#ad222c,#ad232c,#ab212b,#ab212b,#ab212b,#ab212b,#aa212b)"></i><i style="background:linear-gradient(90deg,#ac222b,#ab212b,#ac222b,#ae242c,#ae242c,#b0252d,#b2272d,#ba2f30,#c73e37,#d85b45,#d55743,#c43a35,#b72c2f,#b0262d,#af252c,#ac222b,#ad232c,#ac222b,#ab212b,#ac222b,#ab212b,#ac222b)"></i><i style="background:linear-gradient(90deg,#ac222b,#ac222b,#aa202b,#aa202b,#ab212b,#ab212b,#b0252c,#b52a2e,#bf3331,#d55643,#da5f47,#c33833,#b62b2f,#b3292e,#ad232c,#ab212b,#ad222c,#ac222b,#ad232c,#ad232c,#ad232c,#ad232c)"></i><i style="background:linear-gradient(90deg,#ae242c,#ae232c,#af252c,#b1262d,#ae242c,#b2272d,#b52a2e,#b92e2f,#c33834,#da5f48,#d45542,#bf3331,#b4292e,#ad232c,#aa212b,#a9202b,#aa202b,#aa202b,#a9202b,#a8202b,#a8202b,#a9202b)"></i><i style="background:linear-gradient(90deg,#ae242c,#ad232c,#ae232c,#ad232c,#ad232c,#b1272d,#b1272d,#b3292e,#bb3030,#c74038,#d65844,#c53c36,#bb3030,#b3292e,#ab212b,#ab212b,#a8202b,#a9202b,#a9202b,#a8202b,#a71f2b,#a8202b)"></i><i style="background:linear-gradient(90deg,#aa212b,#ab212b,#ab212b,#aa212b,#ac222b,#ae242c,#b2272d,#b52a2e,#c23633,#cf4c3e,#d75b45,#c63d36,#b52a2e,#b2272d,#ac222b,#ad232c,#ab212b,#a9202b,#ab212b,#a9202b,#a9202b,#aa212b)"></i><i style="background:linear-gradient(90deg,#ac222b,#ad222b,#af242c,#ac222b,#ad222c,#b2272d,#b0262d,#b72c2f,#c03432,#cc483c,#d95d46,#c74038,#be3231,#b52b2e,#b1272d,#ad232c,#ad232c,#ad222b,#ad222b,#aa212b,#ad222b,#ac222b)"></i><i style="background:linear-gradient(90deg,#af242c,#ae242c,#ac222b,#ad232c,#b0262d,#b1262d,#b2282d,#bb3030,#c33834,#dc634a,#da5f47,#c74038,#b72c2f,#b42a2e,#ae242c,#ab212b,#ac222b,#ac222b,#ac222b,#aa212b,#ab212b,#ab212b)"></i><i style="background:linear-gradient(90deg,#ad232c,#ad232c,#ad232c,#ad232c,#ae242c,#ad232c,#ae242c,#b52a2e,#ba2f30,#cd4a3d,#d35442,#ca4339,#b72c2f,#b2282d,#ac222b,#a9202b,#aa202b,#a9202b,#aa202b,#a9202b,#aa212b,#aa202b)"></i><i style="background:linear-gradient(90deg,#ac222b,#ae232c,#ab212b,#ab212b,#ab212b,#ae242c,#b1262d,#b3282d,#b72c2f,#ca4439,#d15040,#c63d36,#b72c2f,#ae242c,#aa212b,#a8202b,#a9202b,#a71f2b,#a8202b,#a9202b,#a81f2b,#a71f2b)"></i><i style="background:linear-gradient(90deg,#aa212b,#aa212b,#aa212b,#ab212b,#aa212b,#ac222b,#af252c,#b52a2e,#c23733,#d15140,#d95d46,#c03432,#b92d2f,#b2272d,#ad232c,#ab212b,#ab212b,#a9202b,#aa212b,#a9202b,#aa212b,#a9202b)"></i><i style="background:linear-gradient(90deg,#ab212b,#ab212b,#ac222b,#af252c,#ae232c,#af252c,#b4292e,#bc3130,#c94239,#d45542,#d75b45,#c63e36,#b82d2f,#b2272d,#af242c,#ac222b,#ab212b,#ab212b,#ab212b,#aa212b,#a9202b,#a9202b)"></i><i style="background:linear-gradient(90deg,#ac222b,#ae232c,#ae242c,#ad232c,#ae232c,#af242c,#b2272d,#b2272d,#be3231,#d25241,#cb463b,#b82d2f,#b1262d,#aa212b,#a8202b,#a9202b,#a8202b,#a8202b,#a8202b,#a8202b,#a9202b,#a8202b)"></i><i style="background:linear-gradient(90deg,#a9202b,#a8202b,#aa202b,#aa212b,#a9202b,#aa212b,#af242c,#b4292e,#b92e30,#cd493c,#d55743,#c13532,#b4292e,#b1262d,#ad232c,#ab212b,#ab212b,#aa212b,#ab212b,#aa202b,#ab212b,#aa202b)"></i><i style="background:linear-gradient(90deg,#ac222b,#ae242c,#ae242c,#af242c,#ae242c,#ae242c,#b1272d,#b3292e,#b72c2f,#cb453a,#d35442,#c23733,#b62b2f,#ac222b,#aa202b,#a71f2b,#a9202b,#a71f2b,#a8202b,#a8202b,#a9202b,#a71f2b)"></i><i style="background:linear-gradient(90deg,#ac222b,#ac222b,#ae242c,#ae242c,#af252c,#ae242c,#af252c,#b1262d,#bb2f30,#cb463b,#d65944,#c33934,#b2282d,#af252c,#aa202b,#a9202b,#a9202b,#a8202b,#a81f2b,#a8202b,#a8202b,#a9202b)"></i><i style="background:linear-gradient(90deg,#ae232c,#ae242c,#af252c,#ae242c,#af252c,#af242c,#af252c,#b52a2e,#bb3030,#cb453a,#d45542,#be3331,#b2272d,#ae232c,#aa202b,#a81f2b,#a71f2b,#a71f2b,#a8202b,#a71f2b,#a61f2b,#a81f2b)"></i><i style="background:linear-gradient(90deg,#aa202b,#a8202b,#a9202b,#aa212b,#a9202b,#ab212b,#ac222b,#b0252c,#b82d2f,#c73f37,#cb463b,#ba2f30,#b3292e,#af252c,#ac222b,#aa212b,#a9202b,#aa212b,#a9202b,#aa212b,#a9202b,#a8202b)"></i><i style="background:linear-gradient(90deg,#a8202b,#a9202b,#a8202b,#aa212b,#aa212b,#ac222b,#ae232c,#b2272d,#bb3030,#c84138,#ce4b3d,#be3231,#b52a2e,#af252c,#ac222b,#ad222c,#ac222b,#ab212b,#ab212b,#aa212b,#aa212b,#ac222b)"></i><i style="background:linear-gradient(90deg,#af242c,#ad232c,#af242c,#af242c,#b0252c,#b0252d,#b2272d,#b52a2e,#bc3030,#c84138,#cc473b,#bc3030,#b3282d,#b0252c,#aa212b,#ab212b,#ab212b,#aa212b,#ab212b,#a9202b,#ab212b,#a9202b)"></i><i style="background:linear-gradient(90deg,#ad232c,#af242c,#ae242c,#ae242c,#b0252d,#b2272d,#b52a2e,#b92d2f,#c33834,#cd493c,#d04f3f,#c23733,#b62b2e,#b2282d,#ae242c,#ab212b,#ab212b,#a9202b,#aa212b,#a9202b,#ab212b,#a9202b)"></i><i style="background:linear-gradient(90deg,#a9202b,#aa212b,#aa202b,#aa212b,#aa202b,#ab212b,#ae232c,#af252c,#b72c2f,#c43934,#ca443a,#c13532,#b72c2f,#ae242c,#ad232c,#aa212b,#aa212b,#a9202b,#a9202b,#a71f2b,#a9202b,#a8202b)"></i><i style="background:linear-gradient(90deg,#a9202b,#a8202b,#a9202b,#a9202b,#a9202b,#ab212b,#ad232c,#b0252d,#b82d2f,#c84138,#c63d36,#b82d2f,#ad232c,#ad222c,#aa202b,#a9202b,#a8202b,#a8202b,#a81f2b,#a71f2b,#a71f2b,#a8202b)"></i><i style="background:linear-gradient(90deg,#aa212b,#ab212b,#aa212b,#aa212b,#ab212b,#aa202b,#ab212b,#b1262d,#b52a2e,#c13632,#ce4a3d,#bd3131,#b0262d,#aa202b,#a9202b,#a71f2b,#a71f2b,#a71f2b,#a71f2b,#a81f2b,#a71f2b,#a8202b)"></i><i style="background:linear-gradient(90deg,#a9202b,#a8202b,#a9202b,#a81f2b,#aa202b,#ab212b,#ab212b,#ae242c,#b62b2e,#c63e37,#c23633,#b72c2f,#af242c,#ad232c,#ab212b,#aa212b,#a9202b,#ab212b,#aa212b,#ac222b,#ab212b,#ab212b)"></i><i style="background:linear-gradient(90deg,#a8202b,#a8202b,#a9202b,#a8202b,#ab212b,#aa212b,#ac222b,#b2272d,#b52a2e,#c13632,#c94238,#bf3331,#b3292e,#b1262d,#ad222c,#ad232c,#ab212b,#aa212b,#aa212b,#aa212b,#ab212b,#ab212b)"></i><i style="background:linear-gradient(90deg,#ad232c,#ad232c,#ab212b,#ae242c,#ac222b,#ae242c,#ae242c,#b2282d,#b4292e,#c23633,#ca4439,#c23633,#b2282d,#ad232c,#ac222b,#ab212b,#aa212b,#ab212b,#ab212b,#aa202b,#aa212b,#ac222b)"></i><i style="background:linear-gradient(90deg,#ac222b,#ab212b,#ad232c,#ad232c,#ae242c,#b0262d,#b2272d,#b3282d,#bc3130,#cf4d3e,#ca443a,#ba2f30,#b1262d,#ad232c,#a9202b,#a9202b,#a9202b,#a8202b,#a8202b,#a9202b,#a8202b,#a8202b)"></i><i style="background:linear-gradient(90deg,#ab212b,#aa212b,#aa212b,#ac222b,#ab212b,#af252c,#ae242c,#b2282d,#bd3131,#cf4c3e,#c84138,#ba2e30,#b3292e,#ae232c,#ac222b,#ac222b,#aa202b,#aa212b,#ab212b,#aa212b,#aa202b,#a9202b)"></i><i style="background:linear-gradient(90deg,#ae232c,#ab212b,#ac222b,#ab212b,#ac222b,#ac212b,#ae232c,#b0262d,#b52a2e,#bc3130,#c73f37,#c03432,#b1262d,#ad232c,#ad232c,#aa202b,#a9202b,#a9202b,#a8202b,#aa212b,#a9202b,#a8202b)"></i><i style="background:linear-gradient(90deg,#aa202b,#a9202b,#aa212b,#a9202b,#a9202b,#ab212b,#ad232c,#b0262d,#b3282d,#bb3030,#c84138,#c43a34,#b4292e,#af252c,#ae232c,#ab212b,#aa212b,#a9202b,#aa212b,#ab212b,#ab212b,#a9202b)"></i><i style="background:linear-gradient(90deg,#ae242c,#ab212b,#ab212b,#ab212b,#ab212b,#ad232c,#ad232c,#ae242c,#b1262d,#bb3030,#c53b35,#b62b2f,#ad232c,#ae242c,#ac222b,#aa202b,#aa212b,#a9202b,#aa202b,#a8202b,#a9202b,#ab212b)"></i></div>
<div class="gb" style="left:16.4px;top:99.7px;width:53.9px;height:2.4px;background:linear-gradient(90deg,#b83228 0.0px,#bc3a2c 13.0px,#f4e4a8 14.2px,#f0d8a0 15.3px,#3a50ae 16.2px,#3650ae 20.5px,#9ab0d4 21.6px,#3a52ae 22.6px,#3a55b0 28.0px,#f09050 29.4px,#e07048 31.0px,#c84a38 33.0px,#d05a40 40.0px,#c44436 46.0px,#c8503a 54.0px)"></div>
<div class="gb" style="left:74.9px;top:99.7px;width:53.9px;height:2.4px;background:linear-gradient(90deg,#b53830 0.0px,#b83a30 16.0px,#f0a060 17.5px,#3348a8 19.0px,#3048a8 32.0px,#b8d8e8 33.5px,#f5d890 35.0px,#c84a38 36.5px,#c44436 54.0px)"></div>
<div class="gb" style="left:132.9px;top:99.7px;width:53.9px;height:2.4px;background:linear-gradient(90deg,#b83a30 0.0px,#c04030 9.5px,#f0a860 11.0px,#c44838 12.5px,#c04030 16.0px,#3a50ac 17.0px,#3a50ac 21.5px,#a8c0dc 22.5px,#3a50ac 23.5px,#3d52ad 27.0px,#f0b070 28.5px,#c04434 30.0px,#c24636 47.0px,#f09a60 48.5px,#c84a38 50.0px,#c04030 54.0px)"></div>
<div class="gb" style="left:190.8px;top:99.7px;width:53.9px;height:2.4px;background:linear-gradient(90deg,#c04030 0.0px,#c44838 9.0px,#f6e0a0 10.5px,#e89860 12.0px,#f0c080 14.0px,#c44838 15.5px,#3a50ac 17.0px,#3650ac 26.0px,#a8c8e0 27.5px,#c44838 29.0px,#c44838 44.0px,#e87050 45.5px,#c44838 47.0px,#c04030 54.0px)"></div>
<div class="gb" style="left:319.7px;top:48.3px;width:363.6px;height:18.3px;background:linear-gradient(90deg,#45a667 0.0px 1.0px,#4dab6e 1.0px 2.0px,#5db47a 2.0px 3.0px,#a2d6b2 3.0px 4.0px,#7cc593 4.0px 5.0px,#40a363 5.0px 6.0px,#5fb57c 6.0px 7.0px,#6dbd87 7.0px 8.0px,#91cfa4 8.0px 9.0px,#7ac491 9.0px 10.0px,#6dbd87 10.0px 11.0px,#74c18c 11.0px 12.0px,#88cb9d 12.0px 13.0px,#7dc694 13.0px 14.0px,#4caa6d 14.0px 15.0px,#74c18d 15.0px 16.0px,#80c897 16.0px 17.0px,#52ae72 17.0px 18.0px,#5ab278 18.0px 19.0px,#5ab278 19.0px 20.0px,#6cbc87 20.0px 21.0px,#5ab278 21.0px 22.0px,#8ccda0 22.0px 23.0px,#94d0a7 23.0px 24.0px,#7ac491 24.0px 25.0px,#58b176 25.0px 26.0px,#46a667 26.0px 27.0px,#50ac70 27.0px 28.0px,#6cbc87 28.0px 29.0px,#67b982 29.0px 30.0px,#95d1a8 30.0px 31.0px,#62b67e 31.0px 32.0px,#62b77e 32.0px 33.0px,#5bb278 33.0px 34.0px,#70bf8a 34.0px 35.0px,#54ae73 35.0px 36.0px,#57b075 36.0px 37.0px,#6bbc86 37.0px 38.0px,#5cb379 38.0px 39.0px,#6ebe88 39.0px 40.0px,#5cb379 40.0px 41.0px,#49a86a 41.0px 42.0px,#3ca160 42.0px 43.0px,#78c390 43.0px 44.0px,#6abb85 44.0px 45.0px,#66b982 45.0px 45.9px,#43a565 45.9px 46.9px,#55af74 46.9px 47.9px,#6cbc86 47.9px 48.9px,#5fb57c 48.9px 49.9px,#349c59 49.9px 50.9px,#3ea262 50.9px 51.9px,#339b58 51.9px 52.9px,#63b77f 52.9px 53.9px,#78c390 53.9px 54.9px,#7fc796 54.9px 55.9px,#90cfa4 55.9px 56.9px,#40a363 56.9px 57.9px,#91cfa4 57.9px 58.9px,#65b881 58.9px 59.9px,#70bf8a 59.9px 60.9px,#59b177 60.9px 61.9px,#66b982 61.9px 62.9px,#55af74 62.9px 63.9px,#75c18e 63.9px 64.9px,#75c18d 64.9px 65.9px,#4aa96b 65.9px 66.9px,#5db47b 66.9px 67.9px,#43a565 67.9px 68.9px,#50ac70 68.9px 69.9px,#acdbbb 69.9px 70.9px,#66b982 70.9px 71.9px,#3ea261 71.9px 72.9px,#26944e 72.9px 73.9px,#4daa6d 73.9px 74.9px,#6cbc86 74.9px 75.9px,#4ba96c 75.9px 76.9px,#41a363 76.9px 77.9px,#70be89 77.9px 78.9px,#85ca9a 78.9px 79.9px,#60b57d 79.9px 80.9px,#6abb85 80.9px 81.9px,#97d2a9 81.9px 82.9px,#b1ddbf 82.9px 83.9px,#8acc9f 83.9px 84.9px,#7ac491 84.9px 85.9px,#59b177 85.9px 86.9px,#72c08b 86.9px 87.9px,#5bb279 87.9px 88.9px,#389e5c 88.9px 89.9px,#26944e 89.9px 90.9px,#5bb279 90.9px 91.9px,#7bc592 91.9px 92.9px,#5db47a 92.9px 93.9px,#54ae73 93.9px 94.9px,#66b981 94.9px 95.9px,#3ea261 95.9px 96.9px,#5ab278 96.9px 97.9px,#75c18d 97.9px 98.9px,#86ca9c 98.9px 99.9px,#62b67e 99.9px 100.9px,#51ad70 100.9px 101.9px,#349c59 101.9px 102.9px,#57b075 102.9px 103.9px,#64b880 103.9px 104.9px,#62b67e 104.9px 105.9px,#6bbc86 105.9px 106.9px,#8bcca0 106.9px 107.9px,#a0d6b1 107.9px 108.9px,#70bf8a 108.9px 109.9px,#88cb9d 109.9px 110.9px,#6dbd87 110.9px 111.9px,#5eb47b 111.9px 112.9px,#79c491 112.9px 113.9px,#63b77f 113.9px 114.9px,#75c28e 114.9px 115.9px,#4fac6f 115.9px 116.9px,#70be89 116.9px 117.9px,#b2dec0 117.9px 118.9px,#69bb84 118.9px 119.9px,#60b57c 119.9px 120.9px,#7ec694 120.9px 121.9px,#47a769 121.9px 122.9px,#77c38f 122.9px 123.9px,#4fab6f 123.9px 124.9px,#7ac491 124.9px 125.9px,#5ab278 125.9px 126.9px,#66b982 126.9px 127.9px,#91cfa5 127.9px 128.9px,#6fbe89 128.9px 129.9px,#47a769 129.9px 130.9px,#59b177 130.9px 131.9px,#6dbd87 131.9px 132.9px,#7bc592 132.9px 133.9px,#7ec695 133.9px 134.9px,#82c898 134.9px 135.9px,#5cb37a 135.9px 136.8px,#7ac492 136.8px 137.8px,#7ec795 137.8px 138.8px,#6abb85 138.8px 139.8px,#75c28e 139.8px 140.8px,#84c99a 140.8px 141.8px,#6cbc86 141.8px 142.8px,#6dbd87 142.8px 143.8px,#73c08c 143.8px 144.8px,#59b177 144.8px 145.8px,#50ac6f 145.8px 146.8px,#3ca160 146.8px 147.8px,#7cc694 147.8px 148.8px,#71bf8b 148.8px 149.8px,#5fb57c 149.8px 150.8px,#6bbc86 150.8px 151.8px,#65b881 151.8px 152.8px,#6cbc86 152.8px 153.8px,#7cc693 153.8px 154.8px,#57b075 154.8px 155.8px,#7ec695 155.8px 156.8px,#9ad3ac 156.8px 157.8px,#4aa86b 157.8px 158.8px,#6ebd88 158.8px 159.8px,#51ad71 159.8px 160.8px,#62b67e 160.8px 161.8px,#5db47b 161.8px 162.8px,#67ba83 162.8px 163.8px,#9ed5af 163.8px 164.8px,#90cea3 164.8px 165.8px,#59b177 165.8px 166.8px,#6bbc85 166.8px 167.8px,#94d1a7 167.8px 168.8px,#a2d7b3 168.8px 169.8px,#7ec795 169.8px 170.8px,#7bc593 170.8px 171.8px,#59b177 171.8px 172.8px,#52ae72 172.8px 173.8px,#54af73 173.8px 174.8px,#55af74 174.8px 175.8px,#4aa96b 175.8px 176.8px,#54ae73 176.8px 177.8px,#83c999 177.8px 178.8px,#5bb278 178.8px 179.8px,#59b177 179.8px 180.8px,#73c08c 180.8px 181.8px,#53ae73 181.8px 182.8px,#63b77f 182.8px 183.8px,#359d5a 183.8px 184.8px,#68ba83 184.8px 185.8px,#51ad71 185.8px 186.8px,#70be89 186.8px 187.8px,#79c491 187.8px 188.8px,#4eab6e 188.8px 189.8px,#48a86a 189.8px 190.8px,#94d0a7 190.8px 191.8px,#51ad71 191.8px 192.8px,#4eab6e 192.8px 193.8px,#5fb57c 193.8px 194.8px,#83c999 194.8px 195.8px,#4fac6f 195.8px 196.8px,#62b77e 196.8px 197.8px,#4dab6e 197.8px 198.8px,#5cb379 198.8px 199.8px,#6dbd87 199.8px 200.8px,#72c08b 200.8px 201.8px,#7dc694 201.8px 202.8px,#5bb279 202.8px 203.8px,#71bf8a 203.8px 204.8px,#6cbc86 204.8px 205.8px,#60b67d 205.8px 206.8px,#66b982 206.8px 207.8px,#9bd4ad 207.8px 208.8px,#86ca9b 208.8px 209.8px,#68ba83 209.8px 210.8px,#48a769 210.8px 211.8px,#6abb85 211.8px 212.8px,#71bf8a 212.8px 213.8px,#7ac491 213.8px 214.8px,#67ba83 214.8px 215.8px,#67ba83 215.8px 216.8px,#64b780 216.8px 217.8px,#59b177 217.8px 218.8px,#77c28f 218.8px 219.8px,#66b982 219.8px 220.8px,#52ae72 220.8px 221.8px,#92cfa5 221.8px 222.8px,#69bb84 222.8px 223.8px,#5fb57c 223.8px 224.8px,#4aa96b 224.8px 225.8px,#55af74 225.8px 226.8px,#64b77f 226.8px 227.7px,#49a86a 227.7px 228.7px,#74c18d 228.7px 229.7px,#62b77e 229.7px 230.7px,#49a86a 230.7px 231.7px,#3ba05f 231.7px 232.7px,#3fa262 232.7px 233.7px,#78c390 233.7px 234.7px,#6dbd87 234.7px 235.7px,#46a667 235.7px 236.7px,#73c08c 236.7px 237.7px,#4fac6f 237.7px 238.7px,#72c08b 238.7px 239.7px,#26944e 239.7px 240.7px,#48a769 240.7px 241.7px,#7dc694 241.7px 242.7px,#73c08c 242.7px 243.7px,#97d2aa 243.7px 244.7px,#6cbc86 244.7px 245.7px,#43a565 245.7px 246.7px,#4fab6f 246.7px 247.7px,#5db47a 247.7px 248.7px,#349c59 248.7px 249.7px,#53ae73 249.7px 250.7px,#68ba83 250.7px 251.7px,#6ebd88 251.7px 252.7px,#60b57d 252.7px 253.7px,#299550 253.7px 254.7px,#5cb379 254.7px 255.7px,#8bcca0 255.7px 256.7px,#5ab278 256.7px 257.7px,#3ea262 257.7px 258.7px,#3ea261 258.7px 259.7px,#62b67e 259.7px 260.7px,#6bbc86 260.7px 261.7px,#74c18d 261.7px 262.7px,#5eb47b 262.7px 263.7px,#81c897 263.7px 264.7px,#76c28e 264.7px 265.7px,#83c899 265.7px 266.7px,#6fbe89 266.7px 267.7px,#329b58 267.7px 268.7px,#56af74 268.7px 269.7px,#64b880 269.7px 270.7px,#5bb278 270.7px 271.7px,#3a9f5e 271.7px 272.7px,#62b77e 272.7px 273.7px,#6bbc85 273.7px 274.7px,#7bc593 274.7px 275.7px,#3aa05e 275.7px 276.7px,#5cb379 276.7px 277.7px,#5cb379 277.7px 278.7px,#6bbc86 278.7px 279.7px,#7bc592 279.7px 280.7px,#53ae73 280.7px 281.7px,#6ebd88 281.7px 282.7px,#67b982 282.7px 283.7px,#abdbba 283.7px 284.7px,#93d0a6 284.7px 285.7px,#87cb9c 285.7px 286.7px,#78c390 286.7px 287.7px,#93d0a6 287.7px 288.7px,#72c08b 288.7px 289.7px,#6fbe89 289.7px 290.7px,#91cfa5 290.7px 291.7px,#63b77f 291.7px 292.7px,#74c18d 292.7px 293.7px,#90cfa4 293.7px 294.7px,#70be89 294.7px 295.7px,#5ab278 295.7px 296.7px,#6bbb85 296.7px 297.7px,#6fbe89 297.7px 298.7px,#74c18d 298.7px 299.7px,#57b075 299.7px 300.7px,#8ccda0 300.7px 301.7px,#7fc796 301.7px 302.7px,#61b67e 302.7px 303.7px,#62b67e 303.7px 304.7px,#65b880 304.7px 305.7px,#5bb278 305.7px 306.7px,#7fc796 306.7px 307.7px,#6dbd87 307.7px 308.7px,#abdbba 308.7px 309.7px,#addbbb 309.7px 310.7px,#a4d8b4 310.7px 311.7px,#5db37a 311.7px 312.7px,#329b58 312.7px 313.7px,#5db47b 313.7px 314.7px,#52ad72 314.7px 315.7px,#68ba83 315.7px 316.7px,#4ba96c 316.7px 317.7px,#4ba96c 317.7px 318.6px,#79c491 318.6px 319.6px,#55af74 319.6px 320.6px,#7ec795 320.6px 321.6px,#97d2aa 321.6px 322.6px,#a1d6b2 322.6px 323.6px,#46a668 323.6px 324.6px,#5fb57c 324.6px 325.6px,#68ba83 325.6px 326.6px,#7dc694 326.6px 327.6px,#60b57d 327.6px 328.6px,#3ba05f 328.6px 329.6px,#6bbc85 329.6px 330.6px,#5bb279 330.6px 331.6px,#90cfa4 331.6px 332.6px,#41a363 332.6px 333.6px,#5fb47b 333.6px 334.6px,#8acc9e 334.6px 335.6px,#63b77f 335.6px 336.6px,#94d0a7 336.6px 337.6px,#7bc592 337.6px 338.6px,#8fcea3 338.6px 339.6px,#84c99a 339.6px 340.6px,#5cb379 340.6px 341.6px,#4dab6e 341.6px 342.6px,#6bbc86 342.6px 343.6px,#49a86a 343.6px 344.6px,#76c28e 344.6px 345.6px,#67b982 345.6px 346.6px,#61b67e 346.6px 347.6px,#56b075 347.6px 348.6px,#76c28e 348.6px 349.6px,#2f9955 349.6px 350.6px,#57b076 350.6px 351.6px,#75c18d 351.6px 352.6px,#289550 352.6px 353.6px,#5eb47b 353.6px 354.6px,#65b881 354.6px 355.6px,#5fb57c 355.6px 356.6px,#76c28e 356.6px 357.6px,#6ebd88 357.6px 358.6px,#48a869 358.6px 359.6px,#79c390 359.6px 360.6px,#6bbb85 360.6px 361.6px,#51ad71 361.6px 362.6px,#2f9956 362.6px 363.6px)"></div>
<div class="gb" style="left:319.7px;top:66.6px;width:363.6px;height:18.4px;background:linear-gradient(90deg,#65b881 0.0px 1.0px,#5ab278 1.0px 2.0px,#5eb47b 2.0px 3.0px,#8bcc9f 3.0px 4.0px,#6abb84 4.0px 5.0px,#2b9752 5.0px 6.0px,#41a464 6.0px 7.0px,#5fb57c 7.0px 8.0px,#87cb9d 8.0px 9.0px,#92cfa5 9.0px 10.0px,#6dbd87 10.0px 11.0px,#72c08b 11.0px 12.0px,#68ba83 12.0px 13.0px,#72c08b 13.0px 14.0px,#5fb57c 14.0px 15.0px,#52ad72 15.0px 16.0px,#6dbd87 16.0px 17.0px,#56af74 17.0px 18.0px,#55af74 18.0px 19.0px,#56af74 19.0px 20.0px,#63b77f 20.0px 21.0px,#68ba83 21.0px 22.0px,#8dcda1 22.0px 23.0px,#88cb9d 23.0px 24.0px,#6cbc86 24.0px 25.0px,#65b881 25.0px 26.0px,#4aa96b 26.0px 27.0px,#5fb57c 27.0px 28.0px,#71bf8b 28.0px 29.0px,#75c18d 29.0px 30.0px,#8ccda1 30.0px 31.0px,#6abb85 31.0px 32.0px,#6cbc86 32.0px 33.0px,#5eb47b 33.0px 34.0px,#64b880 34.0px 35.0px,#55af74 35.0px 36.0px,#42a465 36.0px 37.0px,#73c08c 37.0px 38.0px,#62b67e 38.0px 39.0px,#68ba83 39.0px 40.0px,#62b77f 40.0px 41.0px,#6abb85 41.0px 42.0px,#3ea261 42.0px 43.0px,#75c18d 43.0px 44.0px,#67b982 44.0px 45.0px,#62b77e 45.0px 45.9px,#4caa6c 45.9px 46.9px,#64b880 46.9px 47.9px,#6ebd88 47.9px 48.9px,#54ae73 48.9px 49.9px,#2d9853 49.9px 50.9px,#57b076 50.9px 51.9px,#3ea261 51.9px 52.9px,#69bb84 52.9px 53.9px,#56b075 53.9px 54.9px,#70bf8a 54.9px 55.9px,#74c18d 55.9px 56.9px,#52ad71 56.9px 57.9px,#79c491 57.9px 58.9px,#64b880 58.9px 59.9px,#9ed5af 59.9px 60.9px,#63b77f 60.9px 61.9px,#50ac6f 61.9px 62.9px,#51ac70 62.9px 63.9px,#7bc593 63.9px 64.9px,#7ec695 64.9px 65.9px,#4baa6c 65.9px 66.9px,#68ba83 66.9px 67.9px,#55af74 67.9px 68.9px,#45a667 68.9px 69.9px,#9ad3ac 69.9px 70.9px,#63b77f 70.9px 71.9px,#53ae72 71.9px 72.9px,#59b177 72.9px 73.9px,#56b075 73.9px 74.9px,#67ba83 74.9px 75.9px,#45a667 75.9px 76.9px,#41a464 76.9px 77.9px,#59b177 77.9px 78.9px,#78c390 78.9px 79.9px,#68ba83 79.9px 80.9px,#74c18d 80.9px 81.9px,#97d2aa 81.9px 82.9px,#9dd5af 82.9px 83.9px,#8acc9f 83.9px 84.9px,#75c28e 84.9px 85.9px,#5ab278 85.9px 86.9px,#6cbc86 86.9px 87.9px,#6cbc86 87.9px 88.9px,#42a464 88.9px 89.9px,#349c59 89.9px 90.9px,#4caa6d 90.9px 91.9px,#73c08c 91.9px 92.9px,#69ba84 92.9px 93.9px,#6fbe88 93.9px 94.9px,#52ad71 94.9px 95.9px,#58b177 95.9px 96.9px,#5eb47b 96.9px 97.9px,#83c999 97.9px 98.9px,#79c491 98.9px 99.9px,#59b177 99.9px 100.9px,#58b176 100.9px 101.9px,#289550 101.9px 102.9px,#5eb47b 102.9px 103.9px,#70bf8a 103.9px 104.9px,#70bf8a 104.9px 105.9px,#71bf8a 105.9px 106.9px,#6dbd87 106.9px 107.9px,#63b77f 107.9px 108.9px,#73c08c 108.9px 109.9px,#66b981 109.9px 110.9px,#6bbc85 110.9px 111.9px,#66b982 111.9px 112.9px,#5fb57c 112.9px 113.9px,#75c28e 113.9px 114.9px,#62b77e 114.9px 115.9px,#78c390 115.9px 116.9px,#60b57d 116.9px 117.9px,#91cfa5 117.9px 118.9px,#45a667 118.9px 119.9px,#6dbd87 119.9px 120.9px,#67b982 120.9px 121.9px,#5bb278 121.9px 122.9px,#7cc593 122.9px 123.9px,#60b67d 123.9px 124.9px,#7dc694 124.9px 125.9px,#66b981 125.9px 126.9px,#70bf8a 126.9px 127.9px,#83c999 127.9px 128.9px,#7ec795 128.9px 129.9px,#70be89 129.9px 130.9px,#59b177 130.9px 131.9px,#76c28f 131.9px 132.9px,#72bf8b 132.9px 133.9px,#6fbe89 133.9px 134.9px,#6bbc86 134.9px 135.9px,#71bf8a 135.9px 136.8px,#70be89 136.8px 137.8px,#85ca9b 137.8px 138.8px,#6ebe88 138.8px 139.8px,#73c08c 139.8px 140.8px,#5eb47b 140.8px 141.8px,#99d3ab 141.8px 142.8px,#7dc694 142.8px 143.8px,#7ac491 143.8px 144.8px,#50ac70 144.8px 145.8px,#45a667 145.8px 146.8px,#60b57c 146.8px 147.8px,#69bb84 147.8px 148.8px,#9bd4ad 148.8px 149.8px,#64b780 149.8px 150.8px,#63b77f 150.8px 151.8px,#63b77f 151.8px 152.8px,#7dc694 152.8px 153.8px,#8fcea3 153.8px 154.8px,#6abb84 154.8px 155.8px,#8bcca0 155.8px 156.8px,#98d2ab 156.8px 157.8px,#55af74 157.8px 158.8px,#80c897 158.8px 159.8px,#4ba96b 159.8px 160.8px,#5eb47b 160.8px 161.8px,#62b67e 161.8px 162.8px,#58b176 162.8px 163.8px,#72c08b 163.8px 164.8px,#8fcea3 164.8px 165.8px,#54ae73 165.8px 166.8px,#5fb57c 166.8px 167.8px,#6cbc87 167.8px 168.8px,#76c28f 168.8px 169.8px,#8fcea3 169.8px 170.8px,#6bbb85 170.8px 171.8px,#79c390 171.8px 172.8px,#65b880 172.8px 173.8px,#71bf8b 173.8px 174.8px,#3ba05f 174.8px 175.8px,#54ae73 175.8px 176.8px,#47a769 176.8px 177.8px,#6abb85 177.8px 178.8px,#65b880 178.8px 179.8px,#45a667 179.8px 180.8px,#81c898 180.8px 181.8px,#61b67d 181.8px 182.8px,#62b77e 182.8px 183.8px,#56b075 183.8px 184.8px,#58b176 184.8px 185.8px,#3fa262 185.8px 186.8px,#6fbe89 186.8px 187.8px,#71bf8a 187.8px 188.8px,#42a465 188.8px 189.8px,#329b58 189.8px 190.8px,#66b981 190.8px 191.8px,#4daa6d 191.8px 192.8px,#51ad71 192.8px 193.8px,#49a86a 193.8px 194.8px,#6cbc86 194.8px 195.8px,#57b076 195.8px 196.8px,#49a86a 196.8px 197.8px,#359d5a 197.8px 198.8px,#6fbe89 198.8px 199.8px,#77c28f 199.8px 200.8px,#79c390 200.8px 201.8px,#7fc796 201.8px 202.8px,#4caa6d 202.8px 203.8px,#85ca9b 203.8px 204.8px,#68ba83 204.8px 205.8px,#5bb279 205.8px 206.8px,#62b77f 206.8px 207.8px,#a5d8b5 207.8px 208.8px,#71bf8b 208.8px 209.8px,#67b982 209.8px 210.8px,#3ca160 210.8px 211.8px,#53ae73 211.8px 212.8px,#7fc795 212.8px 213.8px,#6dbd87 213.8px 214.8px,#5db47b 214.8px 215.8px,#52ad71 215.8px 216.8px,#7bc592 216.8px 217.8px,#59b177 217.8px 218.8px,#8ccda0 218.8px 219.8px,#61b67d 219.8px 220.8px,#48a86a 220.8px 221.8px,#b0ddbe 221.8px 222.8px,#46a768 222.8px 223.8px,#51ad71 223.8px 224.8px,#65b881 224.8px 225.8px,#69bb84 225.8px 226.8px,#66b982 226.8px 227.7px,#61b67e 227.7px 228.7px,#71bf8a 228.7px 229.7px,#63b77f 229.7px 230.7px,#59b277 230.7px 231.7px,#57b075 231.7px 232.7px,#3ea261 232.7px 233.7px,#71bf8a 233.7px 234.7px,#72c08b 234.7px 235.7px,#40a363 235.7px 236.7px,#72c08b 236.7px 237.7px,#4daa6d 237.7px 238.7px,#82c898 238.7px 239.7px,#319a57 239.7px 240.7px,#50ac70 240.7px 241.7px,#63b77f 241.7px 242.7px,#68ba83 242.7px 243.7px,#76c28e 243.7px 244.7px,#5ab278 244.7px 245.7px,#4fab6f 245.7px 246.7px,#65b881 246.7px 247.7px,#6abb85 247.7px 248.7px,#47a769 248.7px 249.7px,#46a668 249.7px 250.7px,#62b77f 250.7px 251.7px,#87ca9c 251.7px 252.7px,#53ae72 252.7px 253.7px,#2a9651 253.7px 254.7px,#67b982 254.7px 255.7px,#7ac491 255.7px 256.7px,#70bf8a 256.7px 257.7px,#3ea261 257.7px 258.7px,#50ac6f 258.7px 259.7px,#69ba84 259.7px 260.7px,#5bb379 260.7px 261.7px,#89cc9e 261.7px 262.7px,#52ad71 262.7px 263.7px,#7bc592 263.7px 264.7px,#6ebe88 264.7px 265.7px,#5fb57c 265.7px 266.7px,#7cc593 266.7px 267.7px,#44a566 267.7px 268.7px,#359d5a 268.7px 269.7px,#59b177 269.7px 270.7px,#6abb85 270.7px 271.7px,#4eab6e 271.7px 272.7px,#62b77e 272.7px 273.7px,#76c28e 273.7px 274.7px,#72c08b 274.7px 275.7px,#5ab277 275.7px 276.7px,#58b177 276.7px 277.7px,#78c390 277.7px 278.7px,#6cbc86 278.7px 279.7px,#6cbc87 279.7px 280.7px,#5db47a 280.7px 281.7px,#88cb9d 281.7px 282.7px,#81c897 282.7px 283.7px,#a5d8b5 283.7px 284.7px,#65b881 284.7px 285.7px,#8acc9f 285.7px 286.7px,#80c796 286.7px 287.7px,#7ec694 287.7px 288.7px,#71bf8a 288.7px 289.7px,#5eb47b 289.7px 290.7px,#86ca9c 290.7px 291.7px,#58b176 291.7px 292.7px,#6bbc86 292.7px 293.7px,#87ca9c 293.7px 294.7px,#6dbd87 294.7px 295.7px,#52ad71 295.7px 296.7px,#5db47a 296.7px 297.7px,#5db37a 297.7px 298.7px,#78c390 298.7px 299.7px,#64b880 299.7px 300.7px,#88cb9d 300.7px 301.7px,#77c38f 301.7px 302.7px,#6bbc86 302.7px 303.7px,#5db47a 303.7px 304.7px,#6cbc86 304.7px 305.7px,#56af74 305.7px 306.7px,#78c390 306.7px 307.7px,#68ba83 307.7px 308.7px,#85ca9b 308.7px 309.7px,#88cb9d 309.7px 310.7px,#8fcea3 310.7px 311.7px,#5db37a 311.7px 312.7px,#50ac70 312.7px 313.7px,#55af74 313.7px 314.7px,#65b881 314.7px 315.7px,#5ab278 315.7px 316.7px,#59b177 316.7px 317.7px,#6bbc86 317.7px 318.6px,#63b77f 318.6px 319.6px,#5fb57c 319.6px 320.6px,#79c491 320.6px 321.6px,#9ad3ac 321.6px 322.6px,#64b780 322.6px 323.6px,#5bb278 323.6px 324.6px,#5db47a 324.6px 325.6px,#5ab278 325.6px 326.6px,#68ba83 326.6px 327.6px,#63b77f 327.6px 328.6px,#63b77f 328.6px 329.6px,#68ba83 329.6px 330.6px,#55af74 330.6px 331.6px,#65b880 331.6px 332.6px,#5eb47b 332.6px 333.6px,#68ba83 333.6px 334.6px,#79c491 334.6px 335.6px,#67ba83 335.6px 336.6px,#83c999 336.6px 337.6px,#60b67d 337.6px 338.6px,#9ed5af 338.6px 339.6px,#65b881 339.6px 340.6px,#5db47a 340.6px 341.6px,#74c18d 341.6px 342.6px,#66b981 342.6px 343.6px,#69ba84 343.6px 344.6px,#7cc593 344.6px 345.6px,#7fc796 345.6px 346.6px,#6fbe89 346.6px 347.6px,#69bb84 347.6px 348.6px,#7cc694 348.6px 349.6px,#63b77f 349.6px 350.6px,#5fb57c 350.6px 351.6px,#79c491 351.6px 352.6px,#2b9752 352.6px 353.6px,#63b77f 353.6px 354.6px,#46a667 354.6px 355.6px,#54ae73 355.6px 356.6px,#5ab278 356.6px 357.6px,#65b880 357.6px 358.6px,#56af74 358.6px 359.6px,#74c18d 359.6px 360.6px,#77c28f 360.6px 361.6px,#5ab278 361.6px 362.6px,#2f9955 362.6px 363.6px)"></div>
<div class="gb" style="left:319.7px;top:85.0px;width:363.6px;height:18.0px;background:linear-gradient(90deg,#98d2aa 0.0px 1.0px,#a8dab8 1.0px 2.0px,#acdbbb 2.0px 3.0px,#d1ecd9 3.0px 4.0px,#b7e0c4 4.0px 5.0px,#7fc796 5.0px 6.0px,#89cb9e 6.0px 7.0px,#86ca9c 7.0px 8.0px,#bae1c6 8.0px 9.0px,#bde3c9 9.0px 10.0px,#b3dec1 10.0px 11.0px,#c0e4cb 11.0px 12.0px,#aedcbd 12.0px 13.0px,#a5d8b5 13.0px 14.0px,#a8d9b7 14.0px 15.0px,#9ed5b0 15.0px 16.0px,#b7e0c4 16.0px 17.0px,#95d1a8 17.0px 18.0px,#c5e6d0 18.0px 19.0px,#a9dab9 19.0px 20.0px,#bae1c6 20.0px 21.0px,#9ed5b0 21.0px 22.0px,#bde3c9 22.0px 23.0px,#d5eedd 23.0px 24.0px,#bae2c7 24.0px 25.0px,#a0d6b1 25.0px 26.0px,#8dcda2 26.0px 27.0px,#a5d8b5 27.0px 28.0px,#b2dec0 28.0px 29.0px,#c5e7d0 29.0px 30.0px,#afddbe 30.0px 31.0px,#aadab9 31.0px 32.0px,#ceebd8 32.0px 33.0px,#b7e0c4 33.0px 34.0px,#a9dab8 34.0px 35.0px,#82c898 35.0px 36.0px,#a2d7b3 36.0px 37.0px,#ceebd7 37.0px 38.0px,#92d0a6 38.0px 39.0px,#b7e0c4 39.0px 40.0px,#a8d9b7 40.0px 41.0px,#9ed5af 41.0px 42.0px,#96d1a9 42.0px 43.0px,#aedcbd 43.0px 44.0px,#a3d7b4 44.0px 45.0px,#abdbba 45.0px 45.9px,#94d0a7 45.9px 46.9px,#abdbba 46.9px 47.9px,#9dd4ae 47.9px 48.9px,#addcbc 48.9px 49.9px,#98d2ab 49.9px 50.9px,#8acc9f 50.9px 51.9px,#97d2aa 51.9px 52.9px,#b1debf 52.9px 53.9px,#aedcbc 53.9px 54.9px,#addcbc 54.9px 55.9px,#d1ecda 55.9px 56.9px,#90cfa4 56.9px 57.9px,#b2dec0 57.9px 58.9px,#b2dec0 58.9px 59.9px,#aadab9 59.9px 60.9px,#99d3ab 60.9px 61.9px,#a8d9b8 61.9px 62.9px,#9bd3ad 62.9px 63.9px,#c6e7d0 63.9px 64.9px,#b8e0c5 64.9px 65.9px,#aadab9 65.9px 66.9px,#b2dec0 66.9px 67.9px,#bee3ca 67.9px 68.9px,#a1d6b2 68.9px 69.9px,#def2e5 69.9px 70.9px,#b3dec1 70.9px 71.9px,#acdbbb 71.9px 72.9px,#8ecea2 72.9px 73.9px,#8bcca0 73.9px 74.9px,#bae2c7 74.9px 75.9px,#9dd5af 75.9px 76.9px,#9bd3ad 76.9px 77.9px,#bae2c7 77.9px 78.9px,#c2e5cd 78.9px 79.9px,#c1e4cc 79.9px 80.9px,#bee3ca 80.9px 81.9px,#d4eddc 81.9px 82.9px,#d1ecd9 82.9px 83.9px,#c7e7d1 83.9px 84.9px,#b4dfc1 84.9px 85.9px,#98d2aa 85.9px 86.9px,#aadab9 86.9px 87.9px,#addcbc 87.9px 88.9px,#a8d9b7 88.9px 89.9px,#7dc694 89.9px 90.9px,#9cd4ad 90.9px 91.9px,#afdcbd 91.9px 92.9px,#9cd4ae 92.9px 93.9px,#8ccda1 93.9px 94.9px,#aadab9 94.9px 95.9px,#95d1a8 95.9px 96.9px,#abdbba 96.9px 97.9px,#ccead6 97.9px 98.9px,#c2e5ce 98.9px 99.9px,#a6d9b6 99.9px 100.9px,#98d2aa 100.9px 101.9px,#addcbc 101.9px 102.9px,#95d1a8 102.9px 103.9px,#a1d6b2 103.9px 104.9px,#a6d8b6 104.9px 105.9px,#b0ddbe 105.9px 106.9px,#c4e6cf 106.9px 107.9px,#bce3c8 107.9px 108.9px,#a8d9b8 108.9px 109.9px,#b7e0c4 109.9px 110.9px,#b1ddbf 110.9px 111.9px,#a8d9b7 111.9px 112.9px,#b3dec0 112.9px 113.9px,#9dd4ae 113.9px 114.9px,#bbe2c7 114.9px 115.9px,#b3dec1 115.9px 116.9px,#afdcbd 116.9px 117.9px,#ddf1e3 117.9px 118.9px,#9cd4ae 118.9px 119.9px,#bee3ca 119.9px 120.9px,#c5e6cf 120.9px 121.9px,#a8d9b7 121.9px 122.9px,#afddbd 122.9px 123.9px,#b9e1c6 123.9px 124.9px,#abdbba 124.9px 125.9px,#b8e0c5 125.9px 126.9px,#9cd4ae 126.9px 127.9px,#ceead7 127.9px 128.9px,#bee3ca 128.9px 129.9px,#8ecea2 129.9px 130.9px,#a6d9b6 130.9px 131.9px,#b2dec0 131.9px 132.9px,#bce3c9 132.9px 133.9px,#a3d7b4 133.9px 134.9px,#aadab9 134.9px 135.9px,#b1ddbf 135.9px 136.8px,#abdbba 136.8px 137.8px,#c8e8d2 137.8px 138.8px,#b9e1c6 138.8px 139.8px,#bce2c8 139.8px 140.8px,#b9e1c6 140.8px 141.8px,#c5e7d0 141.8px 142.8px,#b7e0c4 142.8px 143.8px,#b8e1c5 143.8px 144.8px,#95d1a8 144.8px 145.8px,#b3dec0 145.8px 146.8px,#a0d6b1 146.8px 147.8px,#c6e7d0 147.8px 148.8px,#b2dec0 148.8px 149.8px,#a7d9b7 149.8px 150.8px,#b5dfc2 150.8px 151.8px,#b9e1c5 151.8px 152.8px,#bee3ca 152.8px 153.8px,#d8efe0 153.8px 154.8px,#91cfa5 154.8px 155.8px,#c6e7d1 155.8px 156.8px,#c6e7d0 156.8px 157.8px,#9fd5b0 157.8px 158.8px,#b4dfc1 158.8px 159.8px,#88cb9d 159.8px 160.8px,#a9dab8 160.8px 161.8px,#a0d6b1 161.8px 162.8px,#c6e7d1 162.8px 163.8px,#c9e8d3 163.8px 164.8px,#c9e8d3 164.8px 165.8px,#b4dfc1 165.8px 166.8px,#a3d7b4 166.8px 167.8px,#c0e4cb 167.8px 168.8px,#c0e4cc 168.8px 169.8px,#bbe2c7 169.8px 170.8px,#b1ddbf 170.8px 171.8px,#a8d9b8 171.8px 172.8px,#a6d9b6 172.8px 173.8px,#b7e0c4 173.8px 174.8px,#9bd4ad 174.8px 175.8px,#a2d6b2 175.8px 176.8px,#abdbba 176.8px 177.8px,#b8e1c5 177.8px 178.8px,#a4d8b5 178.8px 179.8px,#99d3ab 179.8px 180.8px,#d3eddc 180.8px 181.8px,#aadaba 181.8px 182.8px,#9cd4ae 182.8px 183.8px,#a6d9b6 183.8px 184.8px,#a4d7b4 184.8px 185.8px,#a3d7b4 185.8px 186.8px,#c1e4cc 186.8px 187.8px,#c5e7d0 187.8px 188.8px,#a9dab8 188.8px 189.8px,#a8d9b7 189.8px 190.8px,#ceead7 190.8px 191.8px,#8bcca0 191.8px 192.8px,#99d3ab 192.8px 193.8px,#a7d9b7 193.8px 194.8px,#a6d9b6 194.8px 195.8px,#91cfa4 195.8px 196.8px,#acdbbb 196.8px 197.8px,#aadab9 197.8px 198.8px,#b0ddbe 198.8px 199.8px,#addbbb 199.8px 200.8px,#c9e8d3 200.8px 201.8px,#aadab9 201.8px 202.8px,#a5d8b5 202.8px 203.8px,#b0ddbe 203.8px 204.8px,#b9e1c5 204.8px 205.8px,#a4d7b4 205.8px 206.8px,#acdbbb 206.8px 207.8px,#c0e4cb 207.8px 208.8px,#c1e5cd 208.8px 209.8px,#9dd5af 209.8px 210.8px,#a2d7b3 210.8px 211.8px,#9fd5b0 211.8px 212.8px,#b6e0c3 212.8px 213.8px,#bfe4cb 213.8px 214.8px,#abdbba 214.8px 215.8px,#bde3c9 215.8px 216.8px,#b9e1c6 216.8px 217.8px,#9dd5af 217.8px 218.8px,#c2e5cd 218.8px 219.8px,#b4dfc2 219.8px 220.8px,#9bd4ad 220.8px 221.8px,#d3eddb 221.8px 222.8px,#bbe2c7 222.8px 223.8px,#9ad3ac 223.8px 224.8px,#acdbbb 224.8px 225.8px,#b7e0c4 225.8px 226.8px,#addbbc 226.8px 227.7px,#b0ddbe 227.7px 228.7px,#addcbc 228.7px 229.7px,#a8d9b7 229.7px 230.7px,#98d2ab 230.7px 231.7px,#95d1a8 231.7px 232.7px,#9bd4ad 232.7px 233.7px,#a9dab9 233.7px 234.7px,#bfe4cb 234.7px 235.7px,#9dd5af 235.7px 236.7px,#b9e1c6 236.7px 237.7px,#9cd4ae 237.7px 238.7px,#d6eede 238.7px 239.7px,#98d2aa 239.7px 240.7px,#95d1a8 240.7px 241.7px,#afdcbd 241.7px 242.7px,#b6e0c3 242.7px 243.7px,#cbe9d5 243.7px 244.7px,#a1d6b2 244.7px 245.7px,#9ed5af 245.7px 246.7px,#abdbba 246.7px 247.7px,#9ed5b0 247.7px 248.7px,#86ca9c 248.7px 249.7px,#a4d8b4 249.7px 250.7px,#aedcbd 250.7px 251.7px,#9fd5b0 251.7px 252.7px,#a5d8b5 252.7px 253.7px,#8dcda1 253.7px 254.7px,#97d2aa 254.7px 255.7px,#d6eede 255.7px 256.7px,#abdbba 256.7px 257.7px,#87cb9d 257.7px 258.7px,#9dd4ae 258.7px 259.7px,#b9e1c6 259.7px 260.7px,#a5d8b5 260.7px 261.7px,#d0ecd9 261.7px 262.7px,#a8d9b7 262.7px 263.7px,#b3dec0 263.7px 264.7px,#c2e5ce 264.7px 265.7px,#a8d9b7 265.7px 266.7px,#b9e1c6 266.7px 267.7px,#93d0a6 267.7px 268.7px,#9ad3ac 268.7px 269.7px,#aadab9 269.7px 270.7px,#b0ddbe 270.7px 271.7px,#91cfa4 271.7px 272.7px,#a3d7b3 272.7px 273.7px,#a7d9b7 273.7px 274.7px,#cae9d4 274.7px 275.7px,#87ca9c 275.7px 276.7px,#afdcbd 276.7px 277.7px,#aadab9 277.7px 278.7px,#b3dec1 278.7px 279.7px,#b8e0c5 279.7px 280.7px,#a6d9b6 280.7px 281.7px,#b2dec0 281.7px 282.7px,#acdbbb 282.7px 283.7px,#cfebd8 283.7px 284.7px,#c0e4cc 284.7px 285.7px,#aedcbc 285.7px 286.7px,#abdbba 286.7px 287.7px,#c2e5cd 287.7px 288.7px,#b5dfc3 288.7px 289.7px,#addcbc 289.7px 290.7px,#d9efe0 290.7px 291.7px,#a3d7b4 291.7px 292.7px,#b5dfc3 292.7px 293.7px,#c6e7d1 293.7px 294.7px,#ccead5 294.7px 295.7px,#bae2c7 295.7px 296.7px,#a9dab8 296.7px 297.7px,#a5d8b5 297.7px 298.7px,#a8d9b7 298.7px 299.7px,#a3d7b4 299.7px 300.7px,#c6e7d0 300.7px 301.7px,#b1ddbf 301.7px 302.7px,#acdbbb 302.7px 303.7px,#aedcbc 303.7px 304.7px,#aedcbc 304.7px 305.7px,#c2e5ce 305.7px 306.7px,#bfe4cb 306.7px 307.7px,#b2dec0 307.7px 308.7px,#ddf1e4 308.7px 309.7px,#d6eede 309.7px 310.7px,#bae1c6 310.7px 311.7px,#a9dab9 311.7px 312.7px,#88cb9d 312.7px 313.7px,#8dcda1 313.7px 314.7px,#a5d8b5 314.7px 315.7px,#96d1a9 315.7px 316.7px,#95d1a8 316.7px 317.7px,#addcbc 317.7px 318.6px,#9fd6b1 318.6px 319.6px,#98d2aa 319.6px 320.6px,#bfe4cb 320.6px 321.6px,#d3eddb 321.6px 322.6px,#d4eddd 322.6px 323.6px,#afdcbd 323.6px 324.6px,#9ed5b0 324.6px 325.6px,#a0d6b1 325.6px 326.6px,#bae1c7 326.6px 327.6px,#afddbe 327.6px 328.6px,#bae1c6 328.6px 329.6px,#cae9d4 329.6px 330.6px,#a4d8b4 330.6px 331.6px,#b3dec1 331.6px 332.6px,#92cfa5 332.6px 333.6px,#a5d8b6 333.6px 334.6px,#c5e7d0 334.6px 335.6px,#b6e0c3 335.6px 336.6px,#b4dfc2 336.6px 337.6px,#bde3c9 337.6px 338.6px,#ceead7 338.6px 339.6px,#b7e0c4 339.6px 340.6px,#addcbc 340.6px 341.6px,#9fd5b0 341.6px 342.6px,#aedcbd 342.6px 343.6px,#a2d7b2 343.6px 344.6px,#e1f3e7 344.6px 345.6px,#aadaba 345.6px 346.6px,#abdbba 346.6px 347.6px,#a9dab9 347.6px 348.6px,#addcbc 348.6px 349.6px,#94d0a7 349.6px 350.6px,#a0d6b1 350.6px 351.6px,#c0e4cb 351.6px 352.6px,#89cb9e 352.6px 353.6px,#b6e0c3 353.6px 354.6px,#b2dec0 354.6px 355.6px,#aadab9 355.6px 356.6px,#c0e4cb 356.6px 357.6px,#c7e7d1 357.6px 358.6px,#a3d7b3 358.6px 359.6px,#b5dfc2 359.6px 360.6px,#d6eede 360.6px 361.6px,#90cfa4 361.6px 362.6px,#92cfa5 362.6px 363.6px)"></div>
<div class="gb" style="left:319.7px;top:103.0px;width:363.6px;height:18.5px;background:linear-gradient(90deg,#89cb9e 0.0px 1.0px,#83c999 1.0px 2.0px,#a6d9b6 2.0px 3.0px,#bfe4cb 3.0px 4.0px,#99d2ab 4.0px 5.0px,#74c18d 5.0px 6.0px,#7ec694 6.0px 7.0px,#89cc9e 7.0px 8.0px,#c0e4cc 8.0px 9.0px,#c7e7d1 9.0px 10.0px,#aedcbd 10.0px 11.0px,#c3e6ce 11.0px 12.0px,#8fcea3 12.0px 13.0px,#b6e0c3 13.0px 14.0px,#8ccda1 14.0px 15.0px,#91cfa5 15.0px 16.0px,#9bd4ad 16.0px 17.0px,#9ad3ac 17.0px 18.0px,#7ec795 18.0px 19.0px,#b4dfc2 19.0px 20.0px,#92d0a6 20.0px 21.0px,#c2e5ce 21.0px 22.0px,#d2ecda 22.0px 23.0px,#c8e8d2 23.0px 24.0px,#b7e0c4 24.0px 25.0px,#b6e0c3 25.0px 26.0px,#8ecea2 26.0px 27.0px,#92cfa5 27.0px 28.0px,#c8e8d2 28.0px 29.0px,#a2d7b2 29.0px 30.0px,#a8dab8 30.0px 31.0px,#8fcea3 31.0px 32.0px,#9dd4ae 32.0px 33.0px,#9fd5b0 33.0px 34.0px,#9dd4ae 34.0px 35.0px,#6abb84 35.0px 36.0px,#81c897 36.0px 37.0px,#abdbba 37.0px 38.0px,#8bcca0 38.0px 39.0px,#a2d7b3 39.0px 40.0px,#b1ddbf 40.0px 41.0px,#8fcea3 41.0px 42.0px,#84c99a 42.0px 43.0px,#bde3c9 43.0px 44.0px,#92cfa5 44.0px 45.0px,#addbbb 45.0px 45.9px,#87cb9c 45.9px 46.9px,#a1d6b2 46.9px 47.9px,#a7d9b7 47.9px 48.9px,#78c390 48.9px 49.9px,#71bf8a 49.9px 50.9px,#77c28f 50.9px 51.9px,#94d0a7 51.9px 52.9px,#9bd4ad 52.9px 53.9px,#a9dab8 53.9px 54.9px,#96d1a9 54.9px 55.9px,#cbe9d4 55.9px 56.9px,#7bc592 56.9px 57.9px,#b1ddbf 57.9px 58.9px,#acdbbb 58.9px 59.9px,#b1debf 59.9px 60.9px,#a7d9b7 60.9px 61.9px,#7dc694 61.9px 62.9px,#8fcea3 62.9px 63.9px,#aedcbd 63.9px 64.9px,#82c899 64.9px 65.9px,#81c898 65.9px 66.9px,#a3d7b3 66.9px 67.9px,#8fcea3 67.9px 68.9px,#8acc9f 68.9px 69.9px,#bce2c8 69.9px 70.9px,#a7d9b7 70.9px 71.9px,#6dbd87 71.9px 72.9px,#7fc796 72.9px 73.9px,#94d0a7 73.9px 74.9px,#b4dfc1 74.9px 75.9px,#8dcda2 75.9px 76.9px,#66b981 76.9px 77.9px,#a6d9b6 77.9px 78.9px,#bbe2c7 78.9px 79.9px,#a4d7b4 79.9px 80.9px,#a5d8b5 80.9px 81.9px,#bce2c8 81.9px 82.9px,#d4eddc 82.9px 83.9px,#b8e1c5 83.9px 84.9px,#84c99a 84.9px 85.9px,#98d2aa 85.9px 86.9px,#a6d8b6 86.9px 87.9px,#a9dab8 87.9px 88.9px,#75c18e 88.9px 89.9px,#6bbc86 89.9px 90.9px,#74c18d 90.9px 91.9px,#9fd5b0 91.9px 92.9px,#80c897 92.9px 93.9px,#a3d7b3 93.9px 94.9px,#9ad3ac 94.9px 95.9px,#8ecea2 95.9px 96.9px,#8ecda2 96.9px 97.9px,#bce3c9 97.9px 98.9px,#bce2c8 98.9px 99.9px,#98d2aa 99.9px 100.9px,#8ecda2 100.9px 101.9px,#79c491 101.9px 102.9px,#84c99a 102.9px 103.9px,#97d2a9 103.9px 104.9px,#b0ddbe 104.9px 105.9px,#91cfa5 105.9px 106.9px,#b4dfc2 106.9px 107.9px,#a9dab9 107.9px 108.9px,#91cfa5 108.9px 109.9px,#b0ddbe 109.9px 110.9px,#a6d8b6 110.9px 111.9px,#92d0a6 111.9px 112.9px,#94d0a7 112.9px 113.9px,#99d2ab 113.9px 114.9px,#99d3ab 114.9px 115.9px,#acdbbb 115.9px 116.9px,#acdbbb 116.9px 117.9px,#cae9d4 117.9px 118.9px,#b6e0c3 118.9px 119.9px,#a3d7b4 119.9px 120.9px,#acdbbb 120.9px 121.9px,#97d2a9 121.9px 122.9px,#9fd5b0 122.9px 123.9px,#9ad3ac 123.9px 124.9px,#b9e1c6 124.9px 125.9px,#9ed5af 125.9px 126.9px,#92d0a6 126.9px 127.9px,#b3dec1 127.9px 128.9px,#a7d9b7 128.9px 129.9px,#8ecea2 129.9px 130.9px,#93d0a7 130.9px 131.9px,#aedcbd 131.9px 132.9px,#b5dfc2 132.9px 133.9px,#a2d7b3 133.9px 134.9px,#aadab9 134.9px 135.9px,#92d0a6 135.9px 136.8px,#95d1a8 136.8px 137.8px,#90cea3 137.8px 138.8px,#a5d8b5 138.8px 139.8px,#acdbbb 139.8px 140.8px,#c6e7d1 140.8px 141.8px,#c4e6cf 141.8px 142.8px,#c6e7d0 142.8px 143.8px,#d3eddb 143.8px 144.8px,#8ccda1 144.8px 145.8px,#8dcda2 145.8px 146.8px,#88cb9d 146.8px 147.8px,#c2e5cd 147.8px 148.8px,#c8e8d2 148.8px 149.8px,#b2dec0 149.8px 150.8px,#92cfa5 150.8px 151.8px,#96d1a9 151.8px 152.8px,#b8e0c5 152.8px 153.8px,#bbe2c7 153.8px 154.8px,#86ca9c 154.8px 155.8px,#c7e7d2 155.8px 156.8px,#c6e7d0 156.8px 157.8px,#85c99a 157.8px 158.8px,#a8d9b8 158.8px 159.8px,#7ec695 159.8px 160.8px,#91cfa5 160.8px 161.8px,#95d1a8 161.8px 162.8px,#a0d6b1 162.8px 163.8px,#bde3c9 163.8px 164.8px,#a0d6b1 164.8px 165.8px,#9ad3ac 165.8px 166.8px,#9ad3ac 166.8px 167.8px,#b8e1c5 167.8px 168.8px,#bfe4cb 168.8px 169.8px,#b1ddbf 169.8px 170.8px,#a4d7b4 170.8px 171.8px,#9fd5b0 171.8px 172.8px,#81c898 172.8px 173.8px,#88cb9d 173.8px 174.8px,#7ec695 174.8px 175.8px,#8ecea2 175.8px 176.8px,#8bcc9f 176.8px 177.8px,#c0e4cb 177.8px 178.8px,#8acc9f 178.8px 179.8px,#82c898 179.8px 180.8px,#c9e8d3 180.8px 181.8px,#8ccda1 181.8px 182.8px,#9fd5b0 182.8px 183.8px,#7ac491 183.8px 184.8px,#97d2a9 184.8px 185.8px,#82c898 185.8px 186.8px,#8fcea3 186.8px 187.8px,#c5e6d0 187.8px 188.8px,#8acc9f 188.8px 189.8px,#8dcda1 189.8px 190.8px,#bae1c6 190.8px 191.8px,#86ca9c 191.8px 192.8px,#76c28e 192.8px 193.8px,#92cfa5 193.8px 194.8px,#b2dec0 194.8px 195.8px,#72c08b 195.8px 196.8px,#84c99a 196.8px 197.8px,#85c99a 197.8px 198.8px,#93d0a7 198.8px 199.8px,#a5d8b6 199.8px 200.8px,#b0ddbe 200.8px 201.8px,#abdbba 201.8px 202.8px,#89cc9e 202.8px 203.8px,#b2dec0 203.8px 204.8px,#bfe4cb 204.8px 205.8px,#9ad3ac 205.8px 206.8px,#a1d6b2 206.8px 207.8px,#c8e8d2 207.8px 208.8px,#a4d8b4 208.8px 209.8px,#a0d6b1 209.8px 210.8px,#74c18d 210.8px 211.8px,#8ecea2 211.8px 212.8px,#b3dfc1 212.8px 213.8px,#addbbc 213.8px 214.8px,#9bd4ad 214.8px 215.8px,#a0d6b1 215.8px 216.8px,#b7e0c4 216.8px 217.8px,#86ca9b 217.8px 218.8px,#bfe4ca 218.8px 219.8px,#92d0a6 219.8px 220.8px,#8fcea3 220.8px 221.8px,#cdead6 221.8px 222.8px,#8ecea2 222.8px 223.8px,#82c898 223.8px 224.8px,#a5d8b5 224.8px 225.8px,#aedcbd 225.8px 226.8px,#cae9d4 226.8px 227.7px,#90cfa4 227.7px 228.7px,#86ca9c 228.7px 229.7px,#96d1a9 229.7px 230.7px,#82c898 230.7px 231.7px,#7cc693 231.7px 232.7px,#97d2aa 232.7px 233.7px,#a1d6b1 233.7px 234.7px,#95d1a8 234.7px 235.7px,#7bc592 235.7px 236.7px,#a6d9b6 236.7px 237.7px,#93d0a6 237.7px 238.7px,#b8e1c5 238.7px 239.7px,#80c897 239.7px 240.7px,#6fbe89 240.7px 241.7px,#97d2a9 241.7px 242.7px,#aadab9 242.7px 243.7px,#c6e7d1 243.7px 244.7px,#9cd4ae 244.7px 245.7px,#8ecea2 245.7px 246.7px,#8acc9f 246.7px 247.7px,#99d3ab 247.7px 248.7px,#73c08c 248.7px 249.7px,#8fcea3 249.7px 250.7px,#b6e0c3 250.7px 251.7px,#a5d8b5 251.7px 252.7px,#a2d7b3 252.7px 253.7px,#80c796 253.7px 254.7px,#78c390 254.7px 255.7px,#c3e6ce 255.7px 256.7px,#9cd4ad 256.7px 257.7px,#7bc593 257.7px 258.7px,#90cfa4 258.7px 259.7px,#91cfa4 259.7px 260.7px,#b1ddbf 260.7px 261.7px,#b3dec1 261.7px 262.7px,#9bd4ad 262.7px 263.7px,#9ed5af 263.7px 264.7px,#9ed5b0 264.7px 265.7px,#a9dab8 265.7px 266.7px,#bee3ca 266.7px 267.7px,#74c18d 267.7px 268.7px,#75c18e 268.7px 269.7px,#99d3ab 269.7px 270.7px,#9ed5af 270.7px 271.7px,#77c28f 271.7px 272.7px,#acdbbb 272.7px 273.7px,#a4d8b5 273.7px 274.7px,#a8d9b8 274.7px 275.7px,#83c999 275.7px 276.7px,#a6d8b6 276.7px 277.7px,#a1d6b2 277.7px 278.7px,#b2dec0 278.7px 279.7px,#bee3ca 279.7px 280.7px,#7fc796 280.7px 281.7px,#aedcbd 281.7px 282.7px,#b1debf 282.7px 283.7px,#c7e7d1 283.7px 284.7px,#b0ddbe 284.7px 285.7px,#aedcbc 285.7px 286.7px,#b3dec1 286.7px 287.7px,#b9e1c6 287.7px 288.7px,#aadab9 288.7px 289.7px,#b0ddbe 289.7px 290.7px,#def2e5 290.7px 291.7px,#85ca9a 291.7px 292.7px,#a8d9b7 292.7px 293.7px,#a9dab8 293.7px 294.7px,#9cd4ae 294.7px 295.7px,#97d2a9 295.7px 296.7px,#a1d6b2 296.7px 297.7px,#88cb9d 297.7px 298.7px,#a6d8b6 298.7px 299.7px,#98d2aa 299.7px 300.7px,#c3e6ce 300.7px 301.7px,#addbbb 301.7px 302.7px,#a4d7b4 302.7px 303.7px,#9dd4ae 303.7px 304.7px,#c3e6ce 304.7px 305.7px,#9fd5b0 305.7px 306.7px,#a8d9b7 306.7px 307.7px,#9ed5af 307.7px 308.7px,#c8e8d2 308.7px 309.7px,#b0ddbe 309.7px 310.7px,#a2d7b2 310.7px 311.7px,#a1d6b2 311.7px 312.7px,#79c491 312.7px 313.7px,#7fc796 313.7px 314.7px,#88cb9d 314.7px 315.7px,#99d3ab 315.7px 316.7px,#78c390 316.7px 317.7px,#a7d9b7 317.7px 318.6px,#92cfa5 318.6px 319.6px,#98d2ab 319.6px 320.6px,#c7e7d2 320.6px 321.6px,#d0ecd9 321.6px 322.6px,#a3d7b4 322.6px 323.6px,#8ccda0 323.6px 324.6px,#85ca9b 324.6px 325.6px,#a6d9b6 325.6px 326.6px,#9bd3ad 326.6px 327.6px,#9dd5af 327.6px 328.6px,#89cb9e 328.6px 329.6px,#abdbbb 329.6px 330.6px,#91cfa5 330.6px 331.6px,#c7e8d2 331.6px 332.6px,#82c898 332.6px 333.6px,#9ad3ac 333.6px 334.6px,#aedcbd 334.6px 335.6px,#a4d7b4 335.6px 336.6px,#a9dab9 336.6px 337.6px,#99d2ab 337.6px 338.6px,#ceead7 338.6px 339.6px,#abdbba 339.6px 340.6px,#97d2aa 340.6px 341.6px,#94d0a7 341.6px 342.6px,#b1ddbf 342.6px 343.6px,#a3d7b4 343.6px 344.6px,#bae1c7 344.6px 345.6px,#9cd4ad 345.6px 346.6px,#92d0a6 346.6px 347.6px,#9ad3ac 347.6px 348.6px,#aedcbc 348.6px 349.6px,#7ec795 349.6px 350.6px,#a0d6b1 350.6px 351.6px,#b7e0c4 351.6px 352.6px,#82c898 352.6px 353.6px,#b3dec1 353.6px 354.6px,#aadab9 354.6px 355.6px,#94d0a7 355.6px 356.6px,#a9dab8 356.6px 357.6px,#a2d7b3 357.6px 358.6px,#8ccda1 358.6px 359.6px,#9cd4ae 359.6px 360.6px,#a9dab8 360.6px 361.6px,#7ac491 361.6px 362.6px,#85ca9b 362.6px 363.6px)"></div>
<svg width="685" height="453" viewBox="0 0 685 453" font-family='"Liberation Sans", sans-serif'>
<text x="7.0" y="10.6" font-size="14.50" fill="#222" stroke-width="0.1" stroke="#222">a</text>
<text x="82.6" y="12.4" font-size="9.70" fill="#222" textLength="115.6" lengthAdjust="spacingAndGlyphs" font-weight="bold">SNF2a-mAID/SNF2b-mAID</text>
<text x="24.0" y="21.9" font-size="8.20" fill="#e0489a" stroke="#e0489a" stroke-width="0.25">- IAA rep1</text>
<text x="82.3" y="21.9" font-size="8.20" fill="#e0489a" stroke="#e0489a" stroke-width="0.25">- IAA rep2</text>
<text x="139.6" y="21.9" font-size="8.20" fill="#5cb87e" stroke="#5cb87e" stroke-width="0.25">+ IAA rep1</text>
<text x="198.0" y="21.9" font-size="8.20" fill="#5cb87e" stroke="#5cb87e" stroke-width="0.25">+ IAA rep2</text>
<rect x="16.7" y="23.8" width="53.7" height="50.8" fill="none" stroke="#a8a8a8" stroke-width="0.9"/>
<line x1="16.7" y1="75.0" x2="70.4" y2="75.0" stroke="#c9c9c9" stroke-width="1.8"/>
<line x1="16.7" y1="23.8" x2="16.7" y2="76.2" stroke="#5a5a5a" stroke-width="0.9"/>
<line x1="15.3" y1="65.5" x2="16.7" y2="65.5" stroke="#444" stroke-width="0.8"/>
<line x1="15.3" y1="55.1" x2="16.7" y2="55.1" stroke="#444" stroke-width="0.8"/>
<line x1="15.3" y1="44.6" x2="16.7" y2="44.6" stroke="#444" stroke-width="0.8"/>
<line x1="15.3" y1="34.2" x2="16.7" y2="34.2" stroke="#444" stroke-width="0.8"/>
<line x1="43.6" y1="75.9" x2="43.6" y2="77.2" stroke="#444" stroke-width="0.8"/>
<text x="0" y="0" font-size="19.20" fill="#333" transform="translate(17.10,82.20) scale(0.250)" textLength="28.0" lengthAdjust="spacingAndGlyphs" stroke="#333" stroke-width="0.67">-2.0</text>
<text x="0" y="0" font-size="19.20" fill="#333" transform="translate(43.55,82.20) scale(0.250)" textLength="31.6" lengthAdjust="spacingAndGlyphs" stroke="#333" stroke-width="0.67" text-anchor="middle">TSS</text>
<text x="0" y="0" font-size="19.20" fill="#333" transform="translate(69.60,82.20) scale(0.250)" textLength="38.4" lengthAdjust="spacingAndGlyphs" stroke="#333" stroke-width="0.67" text-anchor="end">2.0Kb</text>
<rect x="75.1" y="23.8" width="53.1" height="50.8" fill="none" stroke="#a8a8a8" stroke-width="0.9"/>
<line x1="75.1" y1="75.0" x2="128.2" y2="75.0" stroke="#c9c9c9" stroke-width="1.8"/>
<line x1="75.1" y1="23.8" x2="75.1" y2="76.2" stroke="#9a9a9a" stroke-width="0.9"/>
<line x1="73.7" y1="65.5" x2="75.1" y2="65.5" stroke="#444" stroke-width="0.8"/>
<line x1="73.7" y1="55.1" x2="75.1" y2="55.1" stroke="#444" stroke-width="0.8"/>
<line x1="73.7" y1="44.6" x2="75.1" y2="44.6" stroke="#444" stroke-width="0.8"/>
<line x1="73.7" y1="34.2" x2="75.1" y2="34.2" stroke="#444" stroke-width="0.8"/>
<line x1="101.6" y1="75.9" x2="101.6" y2="77.2" stroke="#444" stroke-width="0.8"/>
<text x="0" y="0" font-size="19.20" fill="#333" transform="translate(75.50,82.20) scale(0.250)" textLength="28.0" lengthAdjust="spacingAndGlyphs" stroke="#333" stroke-width="0.67">-2.0</text>
<text x="0" y="0" font-size="19.20" fill="#333" transform="translate(101.65,82.20) scale(0.250)" textLength="31.6" lengthAdjust="spacingAndGlyphs" stroke="#333" stroke-width="0.67" text-anchor="middle">TSS</text>
<text x="0" y="0" font-size="19.20" fill="#333" transform="translate(127.40,82.20) scale(0.250)" textLength="38.4" lengthAdjust="spacingAndGlyphs" stroke="#333" stroke-width="0.67" text-anchor="end">2.0Kb</text>
<rect x="133.4" y="23.8" width="53.0" height="50.8" fill="none" stroke="#a8a8a8" stroke-width="0.9"/>
<line x1="133.4" y1="75.0" x2="186.4" y2="75.0" stroke="#c9c9c9" stroke-width="1.8"/>
<line x1="133.4" y1="23.8" x2="133.4" y2="76.2" stroke="#9a9a9a" stroke-width="0.9"/>
<line x1="132.0" y1="65.5" x2="133.4" y2="65.5" stroke="#444" stroke-width="0.8"/>
<line x1="132.0" y1="55.1" x2="133.4" y2="55.1" stroke="#444" stroke-width="0.8"/>
<line x1="132.0" y1="44.6" x2="133.4" y2="44.6" stroke="#444" stroke-width="0.8"/>
<line x1="132.0" y1="34.2" x2="133.4" y2="34.2" stroke="#444" stroke-width="0.8"/>
<line x1="159.9" y1="75.9" x2="159.9" y2="77.2" stroke="#444" stroke-width="0.8"/>
<text x="0" y="0" font-size="19.20" fill="#333" transform="translate(133.80,82.20) scale(0.250)" textLength="28.0" lengthAdjust="spacingAndGlyphs" stroke="#333" stroke-width="0.67">-2.0</text>
<text x="0" y="0" font-size="19.20" fill="#333" transform="translate(159.90,82.20) scale(0.250)" textLength="31.6" lengthAdjust="spacingAndGlyphs" stroke="#333" stroke-width="0.67" text-anchor="middle">TSS</text>
<text x="0" y="0" font-size="19.20" fill="#333" transform="translate(185.60,82.20) scale(0.250)" textLength="38.4" lengthAdjust="spacingAndGlyphs" stroke="#333" stroke-width="0.67" text-anchor="end">2.0Kb</text>
<rect x="191.4" y="23.8" width="52.9" height="50.8" fill="none" stroke="#a8a8a8" stroke-width="0.9"/>
<line x1="191.4" y1="75.0" x2="244.3" y2="75.0" stroke="#c9c9c9" stroke-width="1.8"/>
<line x1="191.4" y1="23.8" x2="191.4" y2="76.2" stroke="#9a9a9a" stroke-width="0.9"/>
<line x1="190.0" y1="65.5" x2="191.4" y2="65.5" stroke="#444" stroke-width="0.8"/>
<line x1="190.0" y1="55.1" x2="191.4" y2="55.1" stroke="#444" stroke-width="0.8"/>
<line x1="190.0" y1="44.6" x2="191.4" y2="44.6" stroke="#444" stroke-width="0.8"/>
<line x1="190.0" y1="34.2" x2="191.4" y2="34.2" stroke="#444" stroke-width="0.8"/>
<line x1="217.9" y1="75.9" x2="217.9" y2="77.2" stroke="#444" stroke-width="0.8"/>
<text x="0" y="0" font-size="19.20" fill="#333" transform="translate(191.80,82.20) scale(0.250)" textLength="28.0" lengthAdjust="spacingAndGlyphs" stroke="#333" stroke-width="0.67">-2.0</text>
<text x="0" y="0" font-size="19.20" fill="#333" transform="translate(217.85,82.20) scale(0.250)" textLength="31.6" lengthAdjust="spacingAndGlyphs" stroke="#333" stroke-width="0.67" text-anchor="middle">TSS</text>
<text x="0" y="0" font-size="19.20" fill="#333" transform="translate(243.50,82.20) scale(0.250)" textLength="38.4" lengthAdjust="spacingAndGlyphs" stroke="#333" stroke-width="0.67" text-anchor="end">2.0Kb</text>
<text x="14.6" y="68.2" font-size="7.40" fill="#333" stroke="#333" stroke-width="0.22" text-anchor="end">500</text>
<text x="14.6" y="57.8" font-size="7.40" fill="#333" stroke="#333" stroke-width="0.22" text-anchor="end">1000</text>
<text x="14.6" y="47.3" font-size="7.40" fill="#333" stroke="#333" stroke-width="0.22" text-anchor="end">1500</text>
<text x="14.6" y="36.9" font-size="7.40" fill="#333" stroke="#333" stroke-width="0.22" text-anchor="end">2000</text>
<path d="M16.70,67.10 L20.46,67.60 L24.75,68.00 L28.51,66.50 L31.20,64.50 L34.42,61.00 L36.57,57.00 L38.72,52.00 L40.33,47.50 L41.94,42.50 L42.48,39.40 L43.28,43.00 L44.09,47.70 L44.62,49.00 L46.23,50.60 L47.31,54.50 L48.92,59.20 L51.61,64.00 L54.29,67.10 L58.59,69.50 L62.34,70.70 L66.10,71.70 L70.40,71.90" fill="none" stroke="#e0489a" stroke-width="0.95" stroke-linejoin="round"/>
<path d="M75.10,65.90 L79.35,67.00 L84.13,67.30 L88.38,65.50 L91.03,63.80 L95.28,58.00 L96.87,54.50 L98.46,50.10 L99.53,45.00 L100.59,38.00 L101.12,33.90 L101.65,37.00 L102.71,47.30 L103.77,48.30 L104.84,50.00 L105.90,55.00 L106.96,58.70 L109.08,63.50 L110.68,66.60 L113.33,68.30 L115.99,69.30 L119.17,70.00 L122.89,71.50 L128.20,72.00" fill="none" stroke="#e0489a" stroke-width="0.95" stroke-linejoin="round"/>
<path d="M133.40,65.60 L136.05,66.80 L138.70,68.10 L142.94,67.00 L145.59,65.50 L149.30,63.00 L151.95,62.30 L154.60,64.20 L155.66,63.80 L157.25,62.00 L158.31,58.00 L159.37,52.30 L159.90,55.00 L160.43,59.00 L161.49,60.90 L163.08,64.00 L164.14,65.90 L166.26,68.00 L168.91,70.20 L171.56,70.00 L173.15,69.80 L175.80,70.80 L178.45,71.80 L182.16,73.00 L186.40,73.50" fill="none" stroke="#5cb87e" stroke-width="0.95" stroke-linejoin="round"/>
<path d="M191.40,65.60 L194.57,66.40 L198.28,67.60 L201.98,67.20 L204.62,65.50 L207.27,63.80 L208.33,62.90 L210.44,62.60 L212.56,63.00 L214.15,59.50 L215.73,53.00 L216.79,47.50 L217.32,46.50 L217.85,49.00 L218.91,55.00 L219.97,57.60 L221.55,61.00 L223.14,65.00 L225.79,68.80 L228.43,69.20 L230.55,69.50 L232.66,70.50 L236.37,72.50 L240.07,73.50 L244.30,73.30" fill="none" stroke="#5cb87e" stroke-width="0.95" stroke-linejoin="round"/>
<line x1="214.8" y1="29.6" x2="224.5" y2="29.6" stroke="#2b3f8c" stroke-width="1"/>
<text x="0" y="0" font-size="17.60" fill="#333" transform="translate(227.30,31.10) scale(0.250)" textLength="48.0" lengthAdjust="spacingAndGlyphs" stroke="#333" stroke-width="0.62">genes</text>
<path d="M16.4,445.0 V88.3 H70.3 V445.0" fill="none" stroke="#3a3a3a" stroke-width="0.9"/>
<line x1="16.4" y1="445.0" x2="70.3" y2="445.0" stroke="#555" stroke-width="0.8"/>
<line x1="43.3" y1="445.0" x2="43.3" y2="446.5" stroke="#444" stroke-width="0.8"/>
<line x1="43.3" y1="118.3" x2="43.3" y2="440.0" stroke="#6a2a22" stroke-opacity="0.45" stroke-width="0.7" stroke-dasharray="0.9 7.7 0.6 2.5 0.8 4.7 1.1 3.9 1.0 7.8 0.6 8.4 0.9 8.0 1.1 5.4 1.1 4.3 0.7 6.2 0.8 3.5 1.1 7.7 0.6 6.9 1.1 7.7 0.6 2.6 0.8 8.3 1.1 2.2 1.1 6.5 1.0 3.7 0.9 8.6 0.9 8.4 1.0 3.7 0.7 3.8 0.7 6.7 0.8 8.3 0.6 2.9 0.6 3.7 1.0 3.2 0.9 8.4 0.9 3.4 1.0 7.9 0.9 4.7 0.9 2.7 1.0 3.6 0.9 4.2 0.8 8.5 0.7 7.5 0.6 6.8 0.6 5.5 1.1 3.9 0.7 8.4 0.8 6.4 1.0 7.1 1.2 8.7 0.6 2.4 1.0 3.4 1.0 2.8 0.8 5.0 0.8 5.9 0.6 5.1 1.2 2.4 1.1 6.0 0.6 6.7 0.7 5.4 0.7 9.0 1.2 5.5 0.8 4.8 0.9 6.4 1.0 3.0 1.1 2.5"/>
<text x="0" y="0" font-size="19.20" fill="#333" transform="translate(16.80,452.40) scale(0.250)" textLength="28.0" lengthAdjust="spacingAndGlyphs" stroke="#333" stroke-width="0.67">-2.0</text>
<text x="0" y="0" font-size="19.20" fill="#333" transform="translate(43.35,452.40) scale(0.250)" textLength="31.6" lengthAdjust="spacingAndGlyphs" stroke="#333" stroke-width="0.67" text-anchor="middle">TSS</text>
<text x="0" y="0" font-size="19.20" fill="#333" transform="translate(69.50,452.40) scale(0.250)" textLength="38.4" lengthAdjust="spacingAndGlyphs" stroke="#333" stroke-width="0.67" text-anchor="end">2.0Kb</text>
<path d="M74.9,445.0 V88.3 H128.8 V445.0" fill="none" stroke="#3a3a3a" stroke-width="0.9"/>
<line x1="74.9" y1="445.0" x2="128.8" y2="445.0" stroke="#555" stroke-width="0.8"/>
<line x1="101.9" y1="445.0" x2="101.9" y2="446.5" stroke="#444" stroke-width="0.8"/>
<line x1="101.9" y1="118.3" x2="101.9" y2="440.0" stroke="#6a2a22" stroke-opacity="0.45" stroke-width="0.7" stroke-dasharray="0.8 7.2 1.0 2.4 1.2 5.7 1.1 2.4 1.1 6.1 0.6 2.0 0.7 8.4 1.0 4.3 0.7 7.0 0.8 2.6 0.9 5.6 1.1 2.7 1.0 7.4 0.9 7.6 1.1 7.1 0.6 2.9 0.9 8.9 1.2 5.2 0.9 4.2 0.9 2.1 1.1 8.4 1.0 3.0 0.7 8.1 0.7 7.5 1.1 7.0 0.7 6.4 1.1 7.0 1.1 8.1 0.9 6.7 0.9 8.9 0.6 2.2 1.1 7.4 0.9 2.1 0.7 7.9 0.6 2.2 1.2 5.8 0.6 4.6 1.1 7.9 0.7 7.4 0.7 3.3 0.9 4.6 1.0 8.2 1.2 7.3 0.8 4.4 0.6 5.3 1.0 2.3 0.6 6.8 0.7 5.9 0.9 3.2 1.1 5.3 0.5 8.1 1.0 3.2 1.1 2.8 0.8 6.7 1.2 8.7 1.1 8.5 0.6 2.3 0.6 6.8 0.5 3.4 0.5 6.4"/>
<text x="0" y="0" font-size="19.20" fill="#333" transform="translate(75.30,452.40) scale(0.250)" textLength="28.0" lengthAdjust="spacingAndGlyphs" stroke="#333" stroke-width="0.67">-2.0</text>
<text x="0" y="0" font-size="19.20" fill="#333" transform="translate(101.85,452.40) scale(0.250)" textLength="31.6" lengthAdjust="spacingAndGlyphs" stroke="#333" stroke-width="0.67" text-anchor="middle">TSS</text>
<text x="0" y="0" font-size="19.20" fill="#333" transform="translate(128.00,452.40) scale(0.250)" textLength="38.4" lengthAdjust="spacingAndGlyphs" stroke="#333" stroke-width="0.67" text-anchor="end">2.0Kb</text>
<path d="M132.9,445.0 V88.3 H186.8 V445.0" fill="none" stroke="#3a3a3a" stroke-width="0.9"/>
<line x1="132.9" y1="445.0" x2="186.8" y2="445.0" stroke="#555" stroke-width="0.8"/>
<line x1="159.8" y1="445.0" x2="159.8" y2="446.5" stroke="#444" stroke-width="0.8"/>
<line x1="159.8" y1="118.3" x2="159.8" y2="440.0" stroke="#6a2a22" stroke-opacity="0.45" stroke-width="0.7" stroke-dasharray="0.8 4.5 0.7 8.1 0.9 7.4 1.2 5.2 1.0 2.5 0.8 6.8 1.0 6.3 0.8 8.5 0.6 6.8 0.8 2.1 1.2 7.4 1.1 2.8 1.1 5.1 0.7 5.9 1.1 8.6 0.9 7.3 1.1 6.5 1.2 5.2 0.6 5.1 0.9 7.3 1.1 2.3 0.7 3.1 1.1 2.7 1.1 3.3 1.1 5.6 1.1 8.7 1.2 2.6 1.1 7.2 0.7 3.5 1.0 6.9 0.6 7.1 0.9 6.8 1.1 5.2 1.1 6.0 0.7 4.6 0.7 8.6 1.0 5.8 1.1 6.2 0.9 5.1 1.1 5.6 0.8 3.4 0.7 7.4 0.6 8.0 1.1 3.7 0.6 7.9 0.9 7.9 1.2 3.3 1.0 3.8 0.8 2.8 1.1 4.7 0.6 2.8 0.8 4.1 1.0 3.2 0.7 8.5 0.7 2.9 0.6 8.3 0.6 3.5 0.9 4.6 0.5 4.9 0.7 4.9"/>
<text x="0" y="0" font-size="19.20" fill="#333" transform="translate(133.30,452.40) scale(0.250)" textLength="28.0" lengthAdjust="spacingAndGlyphs" stroke="#333" stroke-width="0.67">-2.0</text>
<text x="0" y="0" font-size="19.20" fill="#333" transform="translate(159.85,452.40) scale(0.250)" textLength="31.6" lengthAdjust="spacingAndGlyphs" stroke="#333" stroke-width="0.67" text-anchor="middle">TSS</text>
<text x="0" y="0" font-size="19.20" fill="#333" transform="translate(186.00,452.40) scale(0.250)" textLength="38.4" lengthAdjust="spacingAndGlyphs" stroke="#333" stroke-width="0.67" text-anchor="end">2.0Kb</text>
<path d="M190.8,445.0 V88.3 H244.7 V445.0" fill="none" stroke="#3a3a3a" stroke-width="0.9"/>
<line x1="190.8" y1="445.0" x2="244.7" y2="445.0" stroke="#555" stroke-width="0.8"/>
<line x1="217.8" y1="445.0" x2="217.8" y2="446.5" stroke="#444" stroke-width="0.8"/>
<line x1="217.8" y1="118.3" x2="217.8" y2="440.0" stroke="#6a2a22" stroke-opacity="0.45" stroke-width="0.7" stroke-dasharray="0.6 8.9 0.7 5.8 0.9 8.9 1.0 8.0 0.8 4.1 1.0 6.3 0.8 2.7 0.8 2.5 1.0 3.6 0.9 5.3 0.5 8.8 0.6 7.2 1.1 5.3 0.7 2.6 0.7 5.2 0.8 3.5 0.9 7.4 0.8 3.6 0.7 3.4 1.2 8.0 0.6 2.9 1.1 5.4 0.7 8.5 0.8 5.0 1.1 7.2 0.9 2.2 0.9 7.8 0.9 3.2 0.9 7.4 0.9 5.5 1.1 4.3 0.7 4.8 0.7 6.7 1.0 5.6 1.1 8.0 1.1 7.1 1.2 4.0 1.0 4.8 0.8 8.8 0.9 6.1 0.6 7.5 0.7 5.1 0.7 6.6 0.7 6.0 0.8 6.1 1.1 5.4 0.9 6.1 0.6 7.9 0.9 7.9 0.5 5.6 0.7 2.6 1.2 6.7 1.1 6.2 0.7 5.4 0.6 6.3 1.0 5.8 1.0 4.1 1.1 6.7 0.7 6.7 1.0 8.4"/>
<text x="0" y="0" font-size="19.20" fill="#333" transform="translate(191.20,452.40) scale(0.250)" textLength="28.0" lengthAdjust="spacingAndGlyphs" stroke="#333" stroke-width="0.67">-2.0</text>
<text x="0" y="0" font-size="19.20" fill="#333" transform="translate(217.75,452.40) scale(0.250)" textLength="31.6" lengthAdjust="spacingAndGlyphs" stroke="#333" stroke-width="0.67" text-anchor="middle">TSS</text>
<text x="0" y="0" font-size="19.20" fill="#333" transform="translate(243.90,452.40) scale(0.250)" textLength="38.4" lengthAdjust="spacingAndGlyphs" stroke="#333" stroke-width="0.67" text-anchor="end">2.0Kb</text>
<text x="0.0" y="0.0" font-size="9.70" fill="#222" stroke="#222" stroke-width="0.29" text-anchor="middle" transform="translate(10.5,232.4) rotate(-90)">genes</text>
<defs><linearGradient id="cb" x1="0" y1="0" x2="0" y2="1"><stop offset="0.00" stop-color="#2d3791"/><stop offset="0.10" stop-color="#4873b2"/><stop offset="0.20" stop-color="#78a8cd"/><stop offset="0.30" stop-color="#acd2e4"/><stop offset="0.40" stop-color="#deeef0"/><stop offset="0.50" stop-color="#faf5c8"/><stop offset="0.60" stop-color="#fadc96"/><stop offset="0.70" stop-color="#f8ac64"/><stop offset="0.80" stop-color="#ee6e46"/><stop offset="0.90" stop-color="#d0372a"/><stop offset="1.00" stop-color="#a01923"/></linearGradient></defs>
<rect x="249.4" y="88.3" width="5.2" height="356.9" fill="url(#cb)" stroke="#555" stroke-width="0.6"/>
<line x1="254.6" y1="445.20" x2="256.2" y2="445.20" stroke="#444" stroke-width="0.7"/>
<text x="258.2" y="447.4" font-size="6.20" fill="#333" stroke="#333" stroke-width="0.19">0</text>
<line x1="254.6" y1="394.21" x2="256.2" y2="394.21" stroke="#444" stroke-width="0.7"/>
<text x="258.2" y="396.4" font-size="6.20" fill="#333" stroke="#333" stroke-width="0.19">500</text>
<line x1="254.6" y1="343.23" x2="256.2" y2="343.23" stroke="#444" stroke-width="0.7"/>
<text x="258.2" y="345.4" font-size="6.20" fill="#333" stroke="#333" stroke-width="0.19">1000</text>
<line x1="254.6" y1="292.24" x2="256.2" y2="292.24" stroke="#444" stroke-width="0.7"/>
<text x="258.2" y="294.4" font-size="6.20" fill="#333" stroke="#333" stroke-width="0.19">1500</text>
<line x1="254.6" y1="241.26" x2="256.2" y2="241.26" stroke="#444" stroke-width="0.7"/>
<text x="258.2" y="243.5" font-size="6.20" fill="#333" stroke="#333" stroke-width="0.19">2000</text>
<line x1="254.6" y1="190.27" x2="256.2" y2="190.27" stroke="#444" stroke-width="0.7"/>
<text x="258.2" y="192.5" font-size="6.20" fill="#333" stroke="#333" stroke-width="0.19">2500</text>
<line x1="254.6" y1="139.29" x2="256.2" y2="139.29" stroke="#444" stroke-width="0.7"/>
<text x="258.2" y="141.5" font-size="6.20" fill="#333" stroke="#333" stroke-width="0.19">3000</text>
<line x1="254.6" y1="88.30" x2="256.2" y2="88.30" stroke="#444" stroke-width="0.7"/>
<text x="258.2" y="90.5" font-size="6.20" fill="#333" stroke="#333" stroke-width="0.19">3500</text>
<text x="284.2" y="11.6" font-size="14.80" fill="#222" stroke-width="0.1" stroke="#222">b</text>
<text x="292.0" y="25.9" font-size="6.95" fill="#222" font-weight="bold">SNF2a-mAID/SNF2b-mAID</text>
<text x="304.0" y="37.4" font-size="8.00" fill="#222" stroke="#222" stroke-width="0.24">Chr</text>
<text x="324.8" y="37.4" font-size="8.00" fill="#222" stroke="#222" stroke-width="0.24" text-anchor="middle" font-style="italic">Ia</text>
<text x="335.7" y="37.4" font-size="8.00" fill="#222" stroke="#222" stroke-width="0.24" text-anchor="middle" font-style="italic">Ib</text>
<text x="348.1" y="37.4" font-size="8.00" fill="#222" stroke="#222" stroke-width="0.24" text-anchor="middle" font-style="italic">II</text>
<text x="362.3" y="37.4" font-size="8.00" fill="#222" stroke="#222" stroke-width="0.24" text-anchor="middle" font-style="italic">III</text>
<text x="377.6" y="37.4" font-size="8.00" fill="#222" stroke="#222" stroke-width="0.24" text-anchor="middle" font-style="italic">IV</text>
<text x="395.1" y="37.4" font-size="8.00" fill="#222" stroke="#222" stroke-width="0.24" text-anchor="middle" font-style="italic">V</text>
<text x="415.5" y="37.4" font-size="8.00" fill="#222" stroke="#222" stroke-width="0.24" text-anchor="middle" font-style="italic">VI</text>
<text x="439.5" y="37.4" font-size="8.00" fill="#222" stroke="#222" stroke-width="0.24" text-anchor="middle" font-style="italic">VIIa</text>
<text x="467.5" y="37.4" font-size="8.00" fill="#222" stroke="#222" stroke-width="0.24" text-anchor="middle" font-style="italic">VIIb</text>
<text x="502.4" y="37.4" font-size="8.00" fill="#222" stroke="#222" stroke-width="0.24" text-anchor="middle" font-style="italic">VIII</text>
<text x="540.9" y="37.4" font-size="8.00" fill="#222" stroke="#222" stroke-width="0.24" text-anchor="middle" font-style="italic">IX</text>
<text x="581.0" y="37.4" font-size="8.00" fill="#222" stroke="#222" stroke-width="0.24" text-anchor="middle" font-style="italic">X</text>
<text x="622.1" y="37.4" font-size="8.00" fill="#222" stroke="#222" stroke-width="0.24" text-anchor="middle" font-style="italic">XI</text>
<text x="662.6" y="37.4" font-size="8.00" fill="#222" stroke="#222" stroke-width="0.24" text-anchor="middle" font-style="italic">XII</text>
<line x1="319.5" y1="43.5" x2="683.8" y2="43.5" stroke="#666" stroke-width="0.8"/>
<line x1="319.5" y1="43.5" x2="319.5" y2="41.0" stroke="#666" stroke-width="0.7"/>
<line x1="330.0" y1="43.5" x2="330.0" y2="41.0" stroke="#666" stroke-width="0.7"/>
<line x1="341.4" y1="43.5" x2="341.4" y2="41.0" stroke="#666" stroke-width="0.7"/>
<line x1="354.9" y1="43.5" x2="354.9" y2="41.0" stroke="#666" stroke-width="0.7"/>
<line x1="369.7" y1="43.5" x2="369.7" y2="41.0" stroke="#666" stroke-width="0.7"/>
<line x1="385.5" y1="43.5" x2="385.5" y2="41.0" stroke="#666" stroke-width="0.7"/>
<line x1="404.6" y1="43.5" x2="404.6" y2="41.0" stroke="#666" stroke-width="0.7"/>
<line x1="426.4" y1="43.5" x2="426.4" y2="41.0" stroke="#666" stroke-width="0.7"/>
<line x1="452.6" y1="43.5" x2="452.6" y2="41.0" stroke="#666" stroke-width="0.7"/>
<line x1="482.3" y1="43.5" x2="482.3" y2="41.0" stroke="#666" stroke-width="0.7"/>
<line x1="522.5" y1="43.5" x2="522.5" y2="41.0" stroke="#666" stroke-width="0.7"/>
<line x1="559.3" y1="43.5" x2="559.3" y2="41.0" stroke="#666" stroke-width="0.7"/>
<line x1="602.7" y1="43.5" x2="602.7" y2="41.0" stroke="#666" stroke-width="0.7"/>
<line x1="641.5" y1="43.5" x2="641.5" y2="41.0" stroke="#666" stroke-width="0.7"/>
<line x1="683.8" y1="43.5" x2="683.8" y2="41.0" stroke="#666" stroke-width="0.7"/>
<text x="0" y="0" font-size="18.40" fill="#222" transform="translate(298.40,49.40) scale(0.250)" stroke="#222" stroke-width="0.64">[0 - 3000]</text>
<text x="281.5" y="67.6" font-size="8.20" fill="#e0489a" stroke="#e0489a" stroke-width="0.25">- IAA</text>
<line x1="301.2" y1="57.3" x2="301.2" y2="75.6" stroke="#e0489a" stroke-width="0.8"/>
<text x="0" y="0" font-size="19.60" fill="#e0489a" transform="translate(305.30,60.60) scale(0.250)" stroke="#e0489a" stroke-width="0.69">rep1</text>
<text x="0" y="0" font-size="19.60" fill="#e0489a" transform="translate(305.30,75.60) scale(0.250)" stroke="#e0489a" stroke-width="0.69">rep2</text>
<text x="280.2" y="101.9" font-size="8.20" fill="#5cb87e" stroke="#5cb87e" stroke-width="0.25">+ IAA</text>
<line x1="302.9" y1="92.5" x2="302.9" y2="111.3" stroke="#5cb87e" stroke-width="0.8"/>
<text x="0" y="0" font-size="19.60" fill="#5cb87e" transform="translate(305.30,96.30) scale(0.250)" stroke="#5cb87e" stroke-width="0.69">rep1</text>
<text x="0" y="0" font-size="19.60" fill="#5cb87e" transform="translate(305.30,111.30) scale(0.250)" stroke="#5cb87e" stroke-width="0.69">rep2</text>
<text x="284.5" y="141.3" font-size="15.20" fill="#222" font-weight="bold">c</text>
<line x1="333.0" y1="151.20" x2="512.0" y2="151.20" stroke="#eab0cf" stroke-width="0.70"/>
<path d="M333.0,151.2 333.0,150.5 334.0,150.4 335.0,150.4 336.0,150.5 337.0,150.5 338.0,150.8 339.0,150.7 340.0,150.7 341.0,150.6 342.0,150.6 343.0,150.8 344.0,150.8 345.0,151.0 346.0,150.7 347.0,150.9 348.0,150.6 349.0,150.5 350.0,150.6 351.0,150.7 352.0,150.8 353.0,150.8 354.0,150.8 355.0,150.8 356.0,150.9 357.0,150.9 358.0,150.6 359.0,150.8 360.0,150.7 361.0,150.6 362.0,150.8 363.0,150.8 364.0,150.8 365.0,150.7 366.0,150.8 367.0,150.8 368.0,151.1 369.0,150.9 370.0,150.7 371.0,150.5 372.0,150.5 373.0,150.7 374.0,151.0 375.0,151.1 376.0,151.0 377.0,150.7 378.0,150.6 379.0,150.8 380.0,150.9 381.0,151.0 382.0,150.7 383.0,150.9 384.0,151.1 385.0,151.0 386.0,151.0 387.0,150.9 388.0,150.7 389.0,150.6 390.0,150.7 391.0,150.6 392.0,150.5 393.0,150.5 394.0,150.2 395.0,150.4 396.0,150.4 397.0,150.6 398.0,150.7 399.0,150.6 400.0,150.3 401.0,150.3 402.0,150.4 403.0,150.5 404.0,150.3 405.0,150.2 406.0,150.3 407.0,150.3 408.0,150.4 409.0,150.5 410.0,150.8 411.0,150.8 412.0,150.9 413.0,150.9 414.0,150.8 415.0,150.7 416.0,150.6 417.0,150.4 418.0,150.4 419.0,150.5 420.0,150.7 421.0,150.5 422.0,150.6 423.0,150.5 424.0,150.2 425.0,150.1 426.0,150.1 427.0,150.2 428.0,150.2 429.0,150.3 430.0,150.2 431.0,150.4 432.0,150.4 433.0,150.4 434.0,150.7 435.0,150.4 436.0,150.4 437.0,150.6 438.0,150.6 439.0,150.6 440.0,150.1 441.0,149.9 442.0,149.9 443.0,150.1 444.0,150.2 445.0,150.3 446.0,150.4 447.0,149.8 448.0,149.5 449.0,149.3 450.0,149.4 451.0,149.2 452.0,149.3 453.0,148.9 454.0,149.4 455.0,149.7 456.0,149.3 457.0,149.2 458.0,149.1 459.0,148.8 460.0,148.8 461.0,148.9 462.0,148.8 463.0,148.4 464.0,147.8 465.0,147.9 466.0,147.3 467.0,146.4 468.0,145.4 469.0,144.3 470.0,143.1 471.0,142.9 472.0,142.4 473.0,142.4 474.0,143.0 475.0,142.7 476.0,142.5 477.0,142.2 478.0,142.4 479.0,142.8 480.0,143.7 481.0,144.4 482.0,143.9 483.0,143.9 484.0,143.2 485.0,142.9 486.0,142.9 487.0,144.1 488.0,145.2 489.0,146.0 490.0,146.6 491.0,147.1 492.0,147.6 493.0,147.9 494.0,148.3 495.0,148.4 496.0,149.1 497.0,149.6 498.0,149.7 499.0,149.5 500.0,149.9 501.0,150.1 502.0,150.1 503.0,150.3 504.0,150.2 505.0,150.5 506.0,150.7 507.0,150.6 508.0,150.7 509.0,150.7 510.0,150.8 511.0,150.9 512.0,151.0 512.0,151.2Z" fill="#cf5699"/>
<text x="0" y="0" font-size="13.20" fill="#b8407e" transform="translate(334.40,143.30) scale(0.250)" textLength="39.2" lengthAdjust="spacingAndGlyphs" stroke="#b8407e" stroke-width="0.46">[0 - 1000]</text>
<line x1="333.0" y1="163.30" x2="512.0" y2="163.30" stroke="#eab0cf" stroke-width="0.70"/>
<path d="M333.0,163.3 333.0,163.2 334.0,163.3ZM336.0,163.3 337.0,163.2 338.0,163.1 339.0,163.0 340.0,162.9 341.0,162.9 342.0,162.8 343.0,163.0 344.0,163.1 345.0,163.1 346.0,163.2 347.0,163.3ZM347.0,163.3 348.0,163.0 349.0,163.0 350.0,163.0 351.0,162.9 352.0,163.0 353.0,163.0 354.0,163.1 355.0,163.0 356.0,162.9 357.0,162.8 358.0,162.8 359.0,163.0 360.0,163.1 361.0,163.0 362.0,162.9 363.0,162.8 364.0,162.9 365.0,163.0 366.0,163.0 367.0,162.9 368.0,163.1 369.0,163.1 370.0,163.2 371.0,163.1 372.0,162.8 373.0,162.8 374.0,162.7 375.0,162.9 376.0,163.0 377.0,162.9 378.0,162.9 379.0,163.0 380.0,162.9 381.0,163.2 382.0,163.1 383.0,163.2 384.0,162.9 385.0,162.8 386.0,162.8 387.0,162.9 388.0,162.9 389.0,162.7 390.0,162.7 391.0,162.6 392.0,162.8 393.0,162.9 394.0,163.1 395.0,163.2 396.0,163.0 397.0,163.1 398.0,163.2 399.0,163.1 400.0,163.1 401.0,162.9 402.0,162.8 403.0,163.0 404.0,163.1 405.0,162.8 406.0,163.0 407.0,163.0 408.0,163.2 409.0,163.3ZM409.0,163.3 410.0,163.2 411.0,163.0 412.0,162.8 413.0,162.5 414.0,162.6 415.0,162.6 416.0,162.7 417.0,162.5 418.0,162.6 419.0,162.7 420.0,162.8 421.0,163.0 422.0,163.1 423.0,163.0 424.0,162.8 425.0,163.0 426.0,162.8 427.0,162.8 428.0,162.6 429.0,162.9 430.0,162.8 431.0,162.8 432.0,162.6 433.0,162.7 434.0,162.5 435.0,162.8 436.0,162.8 437.0,162.8 438.0,162.8 439.0,163.0 440.0,163.1 441.0,163.1 442.0,163.2 443.0,163.2 444.0,162.9 445.0,162.9 446.0,162.8 447.0,162.7 448.0,162.7 449.0,162.6 450.0,162.7 451.0,162.7 452.0,162.7 453.0,162.8 454.0,162.6 455.0,162.6 456.0,162.8 457.0,162.6 458.0,162.6 459.0,162.4 460.0,162.3 461.0,162.1 462.0,162.0 463.0,162.0 464.0,162.3 465.0,162.6 466.0,163.0 467.0,162.8 468.0,163.2 469.0,162.7 470.0,162.6 471.0,161.6 472.0,160.8 473.0,160.6 474.0,161.2 475.0,161.0 476.0,161.0 477.0,160.4 478.0,160.2 479.0,160.6 480.0,161.0 481.0,161.6 482.0,162.6 483.0,163.1 484.0,163.3ZM485.0,163.3 486.0,162.4 487.0,162.0 488.0,161.9 489.0,162.4 490.0,162.7 491.0,162.5 492.0,162.6 493.0,162.8 494.0,162.8 495.0,162.6 496.0,162.8 497.0,162.8 498.0,163.0 499.0,163.1 500.0,163.0 501.0,163.0 502.0,162.9 503.0,163.0 504.0,162.9 505.0,163.1 506.0,163.1 507.0,163.2 508.0,163.1 509.0,163.2 510.0,163.1 511.0,163.1 512.0,163.2 512.0,163.3Z" fill="#cf5699"/>
<text x="0" y="0" font-size="13.20" fill="#b8407e" transform="translate(334.40,155.40) scale(0.250)" textLength="39.2" lengthAdjust="spacingAndGlyphs" stroke="#b8407e" stroke-width="0.46">[0 - 1000]</text>
<line x1="333.0" y1="175.30" x2="516.5" y2="175.30" stroke="#9fd2b2" stroke-width="0.70"/>
<path d="M333.0,175.3 333.0,173.5 334.0,173.9 335.0,173.4 336.0,173.0 337.0,172.9 338.0,173.7 339.0,173.6 340.0,174.5 341.0,174.1 342.0,174.0 343.0,174.9 344.0,174.7 345.0,174.9 346.0,174.1 347.0,173.6 348.0,173.8 349.0,174.2 350.0,175.1 351.0,174.9 352.0,174.2 353.0,173.4 354.0,173.5 355.0,174.5 356.0,174.3 357.0,174.5 358.0,173.8 359.0,174.2 360.0,174.8 361.0,175.1 362.0,174.6 363.0,174.1 364.0,174.2 365.0,174.8 366.0,174.8 367.0,174.7 368.0,174.3 369.0,174.0 370.0,172.9 371.0,172.1 372.0,172.6 373.0,173.1 374.0,173.3 375.0,174.0 376.0,174.1 377.0,174.7 378.0,173.9 379.0,174.5 380.0,174.8 381.0,174.5 382.0,174.1 383.0,173.7 384.0,173.9 385.0,173.8 386.0,173.5 387.0,173.9 388.0,174.1 389.0,173.8 390.0,173.6 391.0,173.7 392.0,174.0 393.0,173.4 394.0,173.6 395.0,173.3 396.0,173.9 397.0,173.4 398.0,173.4 399.0,174.5 400.0,175.3ZM400.0,175.3 401.0,174.6 402.0,174.2 403.0,173.2 404.0,173.1 405.0,173.3 406.0,173.8 407.0,174.4 408.0,174.5 409.0,174.6 410.0,175.0 411.0,174.2 412.0,174.2 413.0,172.9 414.0,172.8 415.0,173.8 416.0,174.4 417.0,174.5 418.0,174.4 419.0,173.9 420.0,173.5 421.0,174.2 422.0,174.1 423.0,174.2 424.0,173.8 425.0,173.4 426.0,174.0 427.0,174.7 428.0,174.7 429.0,175.0 430.0,175.3ZM430.0,175.3 431.0,174.2 432.0,174.6 433.0,174.4 434.0,174.4 435.0,174.5 436.0,173.2 437.0,174.4 438.0,173.7 439.0,174.2 440.0,173.7 441.0,173.9 442.0,173.7 443.0,173.2 444.0,173.0 445.0,173.1 446.0,174.3 447.0,174.5 448.0,174.2 449.0,173.6 450.0,173.4 451.0,173.5 452.0,173.5 453.0,173.1 454.0,174.4 455.0,174.8 456.0,175.3ZM456.0,175.3 457.0,174.5 458.0,174.1 459.0,174.7 460.0,173.9 461.0,174.2 462.0,173.8 463.0,173.1 464.0,173.6 465.0,172.6 466.0,173.7 467.0,173.0 468.0,173.9 469.0,173.4 470.0,173.6 471.0,173.0 472.0,173.6 473.0,173.6 474.0,172.8 475.0,172.9 476.0,173.5 477.0,174.5 478.0,174.5 479.0,173.9 480.0,173.1 481.0,172.2 482.0,172.1 483.0,172.4 484.0,173.4 485.0,173.9 486.0,173.4 487.0,172.6 488.0,173.4 489.0,173.4 490.0,174.3 491.0,174.2 492.0,174.6 493.0,174.0 494.0,175.0 495.0,175.2 496.0,175.3ZM496.0,175.3 497.0,175.2 498.0,174.9 499.0,174.4 500.0,174.6 501.0,174.7 502.0,174.7 503.0,174.8 504.0,173.9 505.0,173.9 506.0,173.4 507.0,173.4 508.0,173.2 509.0,173.7 510.0,174.0 511.0,173.1 512.0,173.3 513.0,172.7 514.0,173.4 515.0,173.8 516.0,174.5 516.5,175.3Z" fill="#5fae80"/>
<text x="0" y="0" font-size="13.20" fill="#4a9468" transform="translate(334.40,167.40) scale(0.250)" textLength="33.2" lengthAdjust="spacingAndGlyphs" stroke="#4a9468" stroke-width="0.46">[0 - 600]</text>
<line x1="333.0" y1="187.40" x2="516.5" y2="187.40" stroke="#9fd2b2" stroke-width="0.70"/>
<path d="M333.0,187.4 333.0,185.9 334.0,186.0 335.0,185.9 336.0,185.8 337.0,185.6 338.0,185.5 339.0,185.3 340.0,185.7 341.0,185.6 342.0,186.0 343.0,186.2 344.0,185.6 345.0,185.6 346.0,185.8 347.0,185.6 348.0,185.5 349.0,185.4 350.0,185.8 351.0,185.1 352.0,185.1 353.0,185.0 354.0,185.4 355.0,185.4 356.0,184.8 357.0,184.8 358.0,185.2 359.0,185.8 360.0,185.9 361.0,185.9 362.0,185.6 363.0,186.0 364.0,185.8 365.0,185.6 366.0,185.1 367.0,185.0 368.0,185.2 369.0,184.6 370.0,185.4 371.0,186.1 372.0,186.6 373.0,186.4 374.0,186.5 375.0,185.7 376.0,185.4 377.0,185.4 378.0,185.2 379.0,185.3 380.0,185.2 381.0,185.2 382.0,185.1 383.0,184.7 384.0,184.9 385.0,184.7 386.0,185.1 387.0,185.2 388.0,185.2 389.0,184.9 390.0,184.7 391.0,185.1 392.0,185.3 393.0,185.3 394.0,184.4 395.0,184.3 396.0,184.1 397.0,183.9 398.0,184.6 399.0,184.8 400.0,185.1 401.0,184.9 402.0,184.7 403.0,184.5 404.0,184.3 405.0,184.2 406.0,184.2 407.0,184.7 408.0,184.8 409.0,185.4 410.0,185.2 411.0,185.8 412.0,185.1 413.0,185.1 414.0,185.0 415.0,185.1 416.0,185.5 417.0,185.7 418.0,185.3 419.0,184.9 420.0,184.8 421.0,184.7 422.0,184.5 423.0,184.5 424.0,184.5 425.0,183.7 426.0,183.6 427.0,183.7 428.0,184.0 429.0,184.2 430.0,183.5 431.0,183.4 432.0,184.3 433.0,184.1 434.0,184.3 435.0,184.1 436.0,183.8 437.0,183.7 438.0,183.8 439.0,183.9 440.0,183.7 441.0,183.6 442.0,183.3 443.0,183.6 444.0,183.4 445.0,183.3 446.0,183.4 447.0,183.4 448.0,183.4 449.0,183.2 450.0,183.2 451.0,183.1 452.0,182.9 453.0,182.7 454.0,182.8 455.0,182.6 456.0,182.5 457.0,182.5 458.0,182.6 459.0,182.4 460.0,182.2 461.0,182.2 462.0,182.1 463.0,181.9 464.0,181.6 465.0,181.2 466.0,181.3 467.0,181.3 468.0,181.0 469.0,181.2 470.0,180.3 471.0,180.0 472.0,179.8 473.0,179.7 474.0,180.0 475.0,179.6 476.0,179.9 477.0,180.3 478.0,180.4 479.0,180.1 480.0,180.4 481.0,180.6 482.0,180.3 483.0,180.3 484.0,180.3 485.0,180.1 486.0,180.0 487.0,180.2 488.0,180.5 489.0,181.2 490.0,181.5 491.0,181.8 492.0,181.4 493.0,181.4 494.0,180.9 495.0,181.3 496.0,181.6 497.0,182.2 498.0,182.3 499.0,182.3 500.0,182.0 501.0,181.9 502.0,181.6 503.0,181.9 504.0,182.2 505.0,182.6 506.0,182.8 507.0,183.0 508.0,183.2 509.0,183.1 510.0,182.9 511.0,182.8 512.0,182.7 513.0,183.1 514.0,183.3 515.0,183.7 516.0,183.7 516.5,187.4Z" fill="#5fae80"/>
<text x="0" y="0" font-size="13.20" fill="#4a9468" transform="translate(334.40,179.50) scale(0.250)" textLength="33.2" lengthAdjust="spacingAndGlyphs" stroke="#4a9468" stroke-width="0.46">[0 - 600]</text>
<line x1="333.0" y1="199.30" x2="516.5" y2="199.30" stroke="#9fd2b2" stroke-width="0.70"/>
<path d="M333.0,199.3 333.0,198.4 334.0,198.2 335.0,197.9 336.0,198.1 337.0,198.2 338.0,198.2 339.0,197.9 340.0,198.1 341.0,197.7 342.0,197.9 343.0,198.2 344.0,198.5 345.0,198.6 346.0,198.2 347.0,197.7 348.0,197.4 349.0,197.5 350.0,197.8 351.0,197.9 352.0,198.0 353.0,198.3 354.0,198.2 355.0,198.1 356.0,197.8 357.0,197.7 358.0,196.8 359.0,197.4 360.0,197.3 361.0,197.5 362.0,197.2 363.0,198.1 364.0,197.8 365.0,197.6 366.0,197.1 367.0,197.6 368.0,197.5 369.0,197.6 370.0,197.1 371.0,197.6 372.0,197.6 373.0,197.9 374.0,197.8 375.0,198.1 376.0,197.9 377.0,197.5 378.0,197.5 379.0,197.1 380.0,197.1 381.0,196.8 382.0,196.8 383.0,197.2 384.0,197.3 385.0,197.3 386.0,196.7 387.0,196.5 388.0,196.7 389.0,196.9 390.0,196.7 391.0,196.6 392.0,196.4 393.0,196.6 394.0,196.2 395.0,196.0 396.0,196.2 397.0,196.0 398.0,195.6 399.0,195.7 400.0,196.2 401.0,196.4 402.0,196.8 403.0,196.2 404.0,196.4 405.0,196.8 406.0,197.0 407.0,197.3 408.0,197.4 409.0,197.2 410.0,197.4 411.0,197.1 412.0,197.5 413.0,197.3 414.0,196.9 415.0,196.9 416.0,197.3 417.0,197.1 418.0,197.0 419.0,197.0 420.0,197.1 421.0,197.0 422.0,196.9 423.0,197.5 424.0,197.8 425.0,198.7 426.0,197.7 427.0,197.2 428.0,197.0 429.0,197.2 430.0,197.2 431.0,197.6 432.0,197.4 433.0,196.8 434.0,196.6 435.0,196.7 436.0,196.9 437.0,196.7 438.0,196.6 439.0,196.7 440.0,196.0 441.0,195.6 442.0,195.7 443.0,195.7 444.0,195.8 445.0,195.7 446.0,195.6 447.0,195.6 448.0,195.5 449.0,195.3 450.0,195.2 451.0,195.0 452.0,194.7 453.0,194.5 454.0,194.7 455.0,194.7 456.0,194.8 457.0,194.6 458.0,194.2 459.0,194.2 460.0,193.9 461.0,194.1 462.0,193.6 463.0,193.4 464.0,193.0 465.0,193.1 466.0,193.0 467.0,193.0 468.0,193.1 469.0,192.6 470.0,192.1 471.0,191.7 472.0,190.9 473.0,190.0 474.0,190.0 475.0,189.9 476.0,190.8 477.0,190.5 478.0,191.0 479.0,191.1 480.0,191.2 481.0,191.3 482.0,191.4 483.0,191.7 484.0,191.6 485.0,191.9 486.0,192.6 487.0,192.6 488.0,192.3 489.0,192.4 490.0,192.2 491.0,192.5 492.0,192.8 493.0,192.8 494.0,193.1 495.0,193.1 496.0,193.5 497.0,193.8 498.0,194.1 499.0,194.0 500.0,193.5 501.0,193.2 502.0,193.5 503.0,194.1 504.0,194.6 505.0,194.5 506.0,194.7 507.0,194.6 508.0,194.8 509.0,195.3 510.0,195.9 511.0,195.8 512.0,195.9 513.0,195.9 514.0,195.9 515.0,195.8 516.0,196.0 516.5,199.3Z" fill="#5fae80"/>
<text x="0" y="0" font-size="13.20" fill="#4a9468" transform="translate(334.40,191.40) scale(0.250)" textLength="33.2" lengthAdjust="spacingAndGlyphs" stroke="#4a9468" stroke-width="0.46">[0 - 600]</text>
<line x1="333.0" y1="211.30" x2="516.5" y2="211.30" stroke="#f6dcb5" stroke-width="0.70"/>
<path d="M385.0,211.3 386.0,210.8 387.0,209.9 388.0,209.2 389.0,208.3 390.0,207.4 391.0,206.9 392.0,206.4 393.0,205.9 394.0,205.4 395.0,204.9 396.0,204.4 397.0,204.3 398.0,204.3 399.0,204.2 400.0,204.0 401.0,203.7 402.0,203.6 403.0,203.6 404.0,203.4 405.0,203.2 406.0,203.2 407.0,203.4 408.0,203.4 409.0,203.5 410.0,203.6 411.0,203.5 412.0,203.6 413.0,203.6 414.0,203.7 415.0,203.8 416.0,203.8 417.0,203.9 418.0,203.9 419.0,203.9 420.0,204.0 421.0,204.2 422.0,204.3 423.0,204.3 424.0,204.4 425.0,204.4 426.0,204.4 427.0,204.3 428.0,204.2 429.0,204.1 430.0,204.0 431.0,204.1 432.0,203.9 433.0,203.9 434.0,203.8 435.0,203.8 436.0,203.7 437.0,203.8 438.0,203.8 439.0,204.0 440.0,203.9 441.0,203.9 442.0,203.9 443.0,203.9 444.0,204.1 445.0,204.1 446.0,204.1 447.0,204.2 448.0,204.4 449.0,204.5 450.0,204.6 451.0,204.7 452.0,204.8 453.0,205.0 454.0,205.0 455.0,205.1 456.0,205.5 457.0,205.9 458.0,206.2 459.0,206.5 460.0,206.9 461.0,207.3 462.0,208.3 463.0,209.1 464.0,210.1 465.0,211.0 466.0,211.3Z" fill="#e8a63a"/>
<text x="0" y="0" font-size="13.20" fill="#d99530" transform="translate(334.40,203.40) scale(0.250)" textLength="44.8" lengthAdjust="spacingAndGlyphs" stroke="#d99530" stroke-width="0.46">[0 - 20000]</text>
<line x1="333.0" y1="223.40" x2="516.5" y2="223.40" stroke="#f6dcb5" stroke-width="0.70"/>
<path d="M388.0,223.4 389.0,223.2 390.0,223.1 391.0,222.9 392.0,222.8 393.0,222.7 394.0,222.5 395.0,222.6 396.0,222.6 397.0,222.6 398.0,222.6 399.0,222.5 400.0,222.5 401.0,222.3 402.0,222.5 403.0,222.5 404.0,222.5 405.0,222.5 406.0,222.5 407.0,222.5 408.0,222.4 409.0,222.4 410.0,222.4 411.0,222.5 412.0,222.6 413.0,222.4 414.0,222.3 415.0,222.1 416.0,222.0 417.0,222.1 418.0,222.1 419.0,222.2 420.0,222.2 421.0,221.9 422.0,221.9 423.0,221.8 424.0,221.9 425.0,222.0 426.0,222.1 427.0,222.4 428.0,222.5 429.0,222.2 430.0,222.2 431.0,222.1 432.0,222.2 433.0,221.8 434.0,221.6 435.0,221.9 436.0,222.0 437.0,222.2 438.0,221.8 439.0,221.7 440.0,221.7 441.0,221.9 442.0,221.8 443.0,221.6 444.0,221.6 445.0,221.9 446.0,221.6 447.0,221.5 448.0,221.3 449.0,221.2 450.0,221.9 451.0,221.8 452.0,221.9 453.0,221.8 454.0,221.7 455.0,221.9 456.0,221.8 457.0,222.1 458.0,222.0 459.0,222.0 460.0,222.2 461.0,222.3 462.0,222.6 463.0,222.8 464.0,223.1 465.0,223.4Z" fill="#e8a63a"/>
<text x="0" y="0" font-size="13.20" fill="#d99530" transform="translate(334.40,215.50) scale(0.250)" textLength="44.8" lengthAdjust="spacingAndGlyphs" stroke="#d99530" stroke-width="0.46">[0 - 20000]</text>
<line x1="333.0" y1="235.40" x2="516.5" y2="235.40" stroke="#f6dcb5" stroke-width="0.70"/>
<path d="M388.0,235.4 389.0,235.3 390.0,235.1 391.0,235.0 392.0,234.8 393.0,234.7 394.0,234.6 395.0,234.3 396.0,234.6 397.0,234.7 398.0,234.6 399.0,234.6 400.0,234.4 401.0,234.4 402.0,234.1 403.0,234.1 404.0,234.0 405.0,233.8 406.0,233.6 407.0,233.5 408.0,233.5 409.0,233.4 410.0,233.5 411.0,233.4 412.0,233.4 413.0,233.4 414.0,233.4 415.0,233.5 416.0,233.4 417.0,233.3 418.0,233.2 419.0,233.0 420.0,232.9 421.0,232.9 422.0,233.1 423.0,233.0 424.0,233.0 425.0,233.0 426.0,233.0 427.0,233.1 428.0,233.1 429.0,232.8 430.0,232.7 431.0,232.7 432.0,232.9 433.0,232.7 434.0,232.8 435.0,232.7 436.0,232.9 437.0,232.9 438.0,232.8 439.0,232.7 440.0,232.5 441.0,232.4 442.0,232.3 443.0,232.1 444.0,232.2 445.0,232.2 446.0,232.1 447.0,232.1 448.0,232.1 449.0,231.9 450.0,231.9 451.0,232.0 452.0,232.2 453.0,232.4 454.0,232.6 455.0,232.6 456.0,232.7 457.0,232.7 458.0,232.9 459.0,232.8 460.0,233.0 461.0,233.4 462.0,233.8 463.0,234.2 464.0,234.6 465.0,235.0 466.0,235.4Z" fill="#e8a63a"/>
<text x="0" y="0" font-size="13.20" fill="#d99530" transform="translate(334.40,227.50) scale(0.250)" textLength="44.8" lengthAdjust="spacingAndGlyphs" stroke="#d99530" stroke-width="0.46">[0 - 20000]</text>
<line x1="333.0" y1="247.40" x2="516.5" y2="247.40" stroke="#f6dcb5" stroke-width="0.70"/>
<path d="M386.0,247.4 387.0,247.0 388.0,246.8 389.0,246.5 390.0,246.1 391.0,245.9 392.0,245.2 393.0,244.9 394.0,244.6 395.0,244.2 396.0,244.1 397.0,243.8 398.0,243.6 399.0,243.8 400.0,243.7 401.0,243.7 402.0,243.6 403.0,243.6 404.0,243.5 405.0,243.5 406.0,243.4 407.0,243.4 408.0,243.3 409.0,243.3 410.0,243.2 411.0,243.2 412.0,243.2 413.0,243.3 414.0,243.4 415.0,243.3 416.0,243.3 417.0,243.3 418.0,243.2 419.0,243.3 420.0,243.3 421.0,243.4 422.0,243.4 423.0,243.4 424.0,243.5 425.0,243.4 426.0,243.4 427.0,243.4 428.0,243.5 429.0,243.6 430.0,243.6 431.0,243.6 432.0,243.6 433.0,243.7 434.0,243.7 435.0,243.6 436.0,243.6 437.0,243.5 438.0,243.6 439.0,243.6 440.0,243.6 441.0,243.6 442.0,243.7 443.0,243.7 444.0,243.7 445.0,243.6 446.0,243.5 447.0,243.6 448.0,243.6 449.0,243.6 450.0,243.6 451.0,243.7 452.0,243.8 453.0,243.7 454.0,244.0 455.0,243.9 456.0,244.1 457.0,244.3 458.0,244.5 459.0,244.5 460.0,244.4 461.0,245.0 462.0,245.4 463.0,246.2 464.0,246.8 465.0,247.4Z" fill="#e8a63a"/>
<text x="0" y="0" font-size="13.20" fill="#d99530" transform="translate(334.40,239.50) scale(0.250)" textLength="44.8" lengthAdjust="spacingAndGlyphs" stroke="#d99530" stroke-width="0.46">[0 - 20000]</text>
<line x1="333.0" y1="259.40" x2="516.5" y2="259.40" stroke="#f6dcb5" stroke-width="0.70"/>
<path d="M388.0,259.4 389.0,259.2 390.0,259.0 391.0,258.8 392.0,258.6 393.0,258.5 394.0,258.4 395.0,258.1 396.0,258.1 397.0,257.9 398.0,257.9 399.0,257.8 400.0,257.6 401.0,257.4 402.0,257.2 403.0,257.0 404.0,256.8 405.0,256.8 406.0,256.7 407.0,256.7 408.0,256.8 409.0,256.8 410.0,256.8 411.0,256.7 412.0,256.7 413.0,256.6 414.0,256.7 415.0,256.9 416.0,256.8 417.0,256.6 418.0,256.4 419.0,256.3 420.0,256.3 421.0,256.5 422.0,256.5 423.0,256.7 424.0,256.5 425.0,256.4 426.0,256.3 427.0,256.4 428.0,256.3 429.0,256.5 430.0,256.4 431.0,256.6 432.0,256.6 433.0,256.5 434.0,256.5 435.0,256.7 436.0,256.9 437.0,257.0 438.0,257.0 439.0,257.0 440.0,257.0 441.0,257.0 442.0,257.1 443.0,257.0 444.0,257.2 445.0,257.2 446.0,257.1 447.0,257.2 448.0,257.2 449.0,257.1 450.0,257.0 451.0,257.0 452.0,257.1 453.0,257.3 454.0,257.5 455.0,257.7 456.0,257.8 457.0,257.7 458.0,258.0 459.0,258.0 460.0,258.1 461.0,258.2 462.0,258.4 463.0,258.5 464.0,258.8 465.0,259.1 466.0,259.4Z" fill="#e8a63a"/>
<text x="0" y="0" font-size="13.20" fill="#d99530" transform="translate(334.40,251.50) scale(0.250)" textLength="44.8" lengthAdjust="spacingAndGlyphs" stroke="#d99530" stroke-width="0.46">[0 - 20000]</text>
<line x1="338.3" y1="265.60" x2="507.5" y2="265.60" stroke="#7fb8bb" stroke-width="2.30"/>
<rect x="421.5" y="263.20" width="33.3" height="4.80" fill="#7fb8bb"/>
<line x1="427.1" y1="264.80" x2="427.1" y2="266.40" stroke="#d7eaea" stroke-width="0.4"/>
<line x1="432.6" y1="264.80" x2="432.6" y2="266.40" stroke="#d7eaea" stroke-width="0.4"/>
<line x1="438.1" y1="264.80" x2="438.1" y2="266.40" stroke="#d7eaea" stroke-width="0.4"/>
<line x1="443.7" y1="264.80" x2="443.7" y2="266.40" stroke="#d7eaea" stroke-width="0.4"/>
<line x1="449.2" y1="264.80" x2="449.2" y2="266.40" stroke="#d7eaea" stroke-width="0.4"/>
<text x="433.0" y="275.6" font-size="8.50" fill="#1a1a1a" textLength="20.2" lengthAdjust="spacingAndGlyphs" text-anchor="middle" stroke="#1a1a1a" stroke-width="0.15">GRA6</text>
<line x1="530.3" y1="151.20" x2="683.0" y2="151.20" stroke="#eab0cf" stroke-width="0.70"/>
<path d="M530.3,151.2 530.3,150.4 531.3,150.8 532.3,151.0 533.3,151.0 534.3,150.1 535.3,150.1 536.3,150.1 537.3,149.8 538.3,149.7 539.3,149.2 540.3,149.2 541.3,149.6 542.3,150.1 543.3,150.1 544.3,150.5 545.3,150.8 546.3,150.9 547.3,150.8 548.3,150.6 549.3,150.4 550.3,150.7 551.3,150.6 552.3,150.8 553.3,150.7 554.3,150.7 555.3,150.7 556.3,150.7 557.3,150.8 558.3,151.0 559.3,150.9 560.3,150.8 561.3,150.8 562.3,150.7 563.3,150.9 564.3,150.9 565.3,151.0 566.3,151.1 567.3,151.0 568.3,151.0 569.3,150.9 570.3,151.0 571.3,151.1 572.3,150.9 573.3,151.0 574.3,150.8 575.3,150.9 576.3,150.8 577.3,150.8 578.3,150.9 579.3,150.9 580.3,150.9 581.3,150.7 582.3,150.8 583.3,150.6 584.3,150.5 585.3,150.4 586.3,150.7 587.3,150.9 588.3,150.9 589.3,150.7 590.3,150.6 591.3,150.7 592.3,150.7 593.3,150.6 594.3,150.6 595.3,150.6 596.3,150.6 597.3,150.6 598.3,150.7 599.3,150.7 600.3,150.8 601.3,150.5 602.3,150.5 603.3,150.4 604.3,150.3 605.3,150.1 606.3,150.1 607.3,150.3 608.3,150.3 609.3,150.0 610.3,149.4 611.3,148.6 612.3,148.4 613.3,148.6 614.3,149.1 615.3,149.6 616.3,149.8 617.3,150.3 618.3,149.8 619.3,150.0 620.3,149.5 621.3,150.8 622.3,150.3 623.3,150.1 624.3,150.0 625.3,150.1 626.3,150.0 627.3,150.0 628.3,150.3 629.3,150.5 630.3,150.3 631.3,150.7 632.3,150.4 633.3,150.4 634.3,150.7 635.3,151.1 636.3,151.2ZM637.3,151.2 638.3,150.7 639.3,150.2 640.3,150.0 641.3,149.6 642.3,149.9 643.3,149.9 644.3,150.2 645.3,150.1 646.3,149.7 647.3,149.2 648.3,149.5 649.3,148.9 650.3,149.3 651.3,149.2 652.3,150.0 653.3,150.1 654.3,149.4 655.3,149.2 656.3,149.4 657.3,149.0 658.3,148.6 659.3,148.5 660.3,148.2 661.3,147.9 662.3,147.2 663.3,146.4 664.3,145.4 665.3,144.5 666.3,143.6 667.3,144.0 668.3,143.7 669.3,143.1 670.3,142.7 671.3,143.5 672.3,144.4 673.3,146.4 674.3,147.7 675.3,149.0 676.3,148.9 677.3,149.5 678.3,150.9 679.3,151.2ZM679.3,151.2 680.3,151.1 681.3,150.5 682.3,150.1 683.0,151.2Z" fill="#cf5699"/>
<text x="0" y="0" font-size="13.20" fill="#b8407e" transform="translate(531.90,143.30) scale(0.250)" textLength="48.0" lengthAdjust="spacingAndGlyphs" stroke="#b8407e" stroke-width="0.46">[0 - 1000]</text>
<line x1="530.3" y1="163.30" x2="683.0" y2="163.30" stroke="#b9b3dc" stroke-width="0.70"/>
<path d="M530.3,163.3 530.3,163.2 531.3,163.2 532.3,163.2 533.3,163.2 534.3,163.1 535.3,163.0 536.3,163.1 537.3,163.2 538.3,163.1 539.3,163.0 540.3,163.1 541.3,163.0 542.3,163.1 543.3,163.1 544.3,163.2 545.3,163.1 546.3,163.1 547.3,163.0 548.3,163.0 549.3,163.0 550.3,163.0 551.3,163.1 552.3,163.2 553.3,163.1 554.3,163.1 555.3,163.0 556.3,163.0 557.3,163.0 558.3,163.0 559.3,163.0 560.3,163.0 561.3,163.1 562.3,163.1 563.3,163.1 564.3,163.0 565.3,162.9 566.3,163.0 567.3,163.0 568.3,163.0 569.3,163.0 570.3,163.0 571.3,163.2 572.3,163.1 573.3,163.1 574.3,163.1 575.3,163.1 576.3,163.1 577.3,163.1 578.3,163.2 579.3,163.1 580.3,163.2 581.3,163.1 582.3,163.2 583.3,163.1 584.3,163.0 585.3,163.0 586.3,162.9 587.3,162.9 588.3,163.0 589.3,163.0 590.3,163.1 591.3,163.1 592.3,163.1 593.3,162.9 594.3,163.1 595.3,163.1 596.3,163.3ZM596.3,163.3 597.3,163.2 598.3,163.2 599.3,163.1 600.3,163.1 601.3,162.9 602.3,162.9 603.3,162.6 604.3,162.4 605.3,162.3 606.3,162.6 607.3,162.7 608.3,162.9 609.3,162.8 610.3,162.7 611.3,162.7 612.3,162.6 613.3,162.4 614.3,162.7 615.3,162.6 616.3,162.3 617.3,162.2 618.3,162.0 619.3,162.0 620.3,162.5 621.3,162.2 622.3,162.5 623.3,162.6 624.3,163.0 625.3,162.8 626.3,162.8 627.3,162.6 628.3,162.7 629.3,162.5 630.3,162.9 631.3,162.9 632.3,162.9 633.3,162.9 634.3,162.8 635.3,162.8 636.3,162.3 637.3,162.5 638.3,162.5 639.3,162.8 640.3,162.7 641.3,162.5 642.3,162.0 643.3,161.8 644.3,161.6 645.3,161.8 646.3,161.9 647.3,162.3 648.3,162.5 649.3,162.2 650.3,162.6 651.3,162.3 652.3,162.5 653.3,162.6 654.3,162.7 655.3,162.4 656.3,161.9 657.3,161.3 658.3,160.9 659.3,160.9 660.3,161.0 661.3,160.7 662.3,161.1 663.3,160.4 664.3,160.8 665.3,160.1 666.3,160.6 667.3,161.9 668.3,162.0 669.3,161.6 670.3,161.2 671.3,160.6 672.3,160.8 673.3,160.8 674.3,161.1 675.3,162.3 676.3,162.6 677.3,163.1 678.3,163.1 679.3,163.3Z" fill="#cf5699"/>
<text x="0" y="0" font-size="13.20" fill="#b8407e" transform="translate(531.90,155.40) scale(0.250)" textLength="48.0" lengthAdjust="spacingAndGlyphs" stroke="#b8407e" stroke-width="0.46">[0 - 1000]</text>
<line x1="530.3" y1="175.30" x2="683.0" y2="175.30" stroke="#9fd2b2" stroke-width="0.70"/>
<path d="M530.3,175.3 530.3,173.9 531.3,173.8 532.3,174.3 533.3,174.6 534.3,174.7 535.3,174.7 536.3,174.7 537.3,174.7 538.3,174.7 539.3,175.0 540.3,175.1 541.3,175.1 542.3,174.5 543.3,174.4 544.3,174.6 545.3,174.7 546.3,174.5 547.3,174.4 548.3,174.4 549.3,174.5 550.3,174.4 551.3,174.3 552.3,174.0 553.3,173.5 554.3,174.5 555.3,173.6 556.3,172.6 557.3,172.5 558.3,172.1 559.3,172.0 560.3,172.5 561.3,172.0 562.3,171.4 563.3,173.1 564.3,174.4 565.3,174.4 566.3,174.9 567.3,174.8 568.3,174.4 569.3,174.0 570.3,173.9 571.3,173.7 572.3,173.5 573.3,174.1 574.3,173.7 575.3,174.2 576.3,173.9 577.3,173.6 578.3,173.8 579.3,173.8 580.3,174.3 581.3,173.9 582.3,174.0 583.3,173.9 584.3,174.0 585.3,174.6 586.3,175.0 587.3,174.8 588.3,174.9 589.3,175.1 590.3,174.7 591.3,174.5 592.3,173.9 593.3,174.2 594.3,173.5 595.3,173.7 596.3,173.6 597.3,173.6 598.3,173.6 599.3,173.7 600.3,173.6 601.3,173.4 602.3,172.6 603.3,171.8 604.3,172.4 605.3,173.0 606.3,172.2 607.3,172.3 608.3,172.0 609.3,173.1 610.3,173.2 611.3,174.4 612.3,174.0 613.3,173.7 614.3,173.6 615.3,173.7 616.3,173.4 617.3,173.5 618.3,172.7 619.3,172.8 620.3,173.4 621.3,173.3 622.3,173.9 623.3,172.8 624.3,172.4 625.3,172.6 626.3,172.9 627.3,173.3 628.3,173.4 629.3,173.5 630.3,173.0 631.3,172.9 632.3,172.8 633.3,172.9 634.3,172.9 635.3,172.8 636.3,172.3 637.3,172.7 638.3,174.4 639.3,175.1 640.3,174.8 641.3,175.3ZM641.3,175.3 642.3,174.1 643.3,174.3 644.3,173.5 645.3,173.4 646.3,173.6 647.3,173.8 648.3,174.2 649.3,174.0 650.3,173.9 651.3,174.0 652.3,174.1 653.3,173.7 654.3,173.7 655.3,173.4 656.3,174.0 657.3,174.3 658.3,173.9 659.3,173.4 660.3,173.8 661.3,173.2 662.3,173.6 663.3,173.8 664.3,174.8 665.3,174.2 666.3,174.0 667.3,174.6 668.3,174.6 669.3,175.0 670.3,175.1 671.3,175.0 672.3,174.7 673.3,174.2 674.3,174.5 675.3,175.0 676.3,175.1 677.3,173.6 678.3,173.1 679.3,173.5 680.3,174.3 681.3,174.4 682.3,174.3 683.0,175.3Z" fill="#5fae80"/>
<text x="0" y="0" font-size="13.20" fill="#4a9468" transform="translate(531.90,167.40) scale(0.250)" textLength="41.2" lengthAdjust="spacingAndGlyphs" stroke="#4a9468" stroke-width="0.46">[0 - 600]</text>
<line x1="530.3" y1="187.40" x2="683.0" y2="187.40" stroke="#9fd2b2" stroke-width="0.70"/>
<path d="M530.3,187.4 530.3,185.5 531.3,185.3 532.3,185.2 533.3,185.3 534.3,185.3 535.3,185.3 536.3,185.3 537.3,185.1 538.3,184.8 539.3,184.4 540.3,184.5 541.3,184.9 542.3,185.0 543.3,184.9 544.3,184.6 545.3,184.8 546.3,184.9 547.3,185.4 548.3,185.2 549.3,185.1 550.3,184.8 551.3,185.0 552.3,185.2 553.3,185.1 554.3,185.3 555.3,185.3 556.3,185.4 557.3,185.5 558.3,185.5 559.3,185.3 560.3,185.2 561.3,185.2 562.3,185.2 563.3,185.1 564.3,185.0 565.3,185.2 566.3,185.4 567.3,185.3 568.3,185.1 569.3,185.3 570.3,185.1 571.3,185.3 572.3,185.2 573.3,185.4 574.3,185.6 575.3,185.5 576.3,185.7 577.3,185.3 578.3,185.0 579.3,184.9 580.3,185.2 581.3,185.2 582.3,185.4 583.3,185.2 584.3,185.3 585.3,185.0 586.3,184.8 587.3,184.9 588.3,185.4 589.3,185.4 590.3,185.4 591.3,185.5 592.3,185.1 593.3,184.9 594.3,184.7 595.3,184.5 596.3,184.4 597.3,184.4 598.3,184.3 599.3,184.5 600.3,185.3 601.3,184.7 602.3,184.3 603.3,184.1 604.3,184.2 605.3,184.1 606.3,184.3 607.3,184.6 608.3,184.5 609.3,184.4 610.3,184.5 611.3,184.5 612.3,184.1 613.3,184.3 614.3,184.3 615.3,183.9 616.3,183.4 617.3,183.4 618.3,183.8 619.3,184.1 620.3,184.3 621.3,184.0 622.3,183.7 623.3,183.4 624.3,183.6 625.3,184.1 626.3,183.7 627.3,183.9 628.3,183.4 629.3,183.7 630.3,183.9 631.3,184.1 632.3,183.9 633.3,184.2 634.3,183.8 635.3,184.0 636.3,184.2 637.3,184.4 638.3,184.0 639.3,183.8 640.3,184.2 641.3,184.6 642.3,184.6 643.3,184.5 644.3,184.4 645.3,185.0 646.3,184.7 647.3,184.9 648.3,185.5 649.3,184.9 650.3,184.7 651.3,184.7 652.3,184.8 653.3,184.1 654.3,183.2 655.3,182.9 656.3,182.6 657.3,183.5 658.3,183.8 659.3,183.9 660.3,183.7 661.3,183.9 662.3,183.9 663.3,183.9 664.3,183.8 665.3,183.8 666.3,183.8 667.3,183.9 668.3,183.5 669.3,183.5 670.3,183.6 671.3,183.6 672.3,183.7 673.3,183.6 674.3,183.6 675.3,183.6 676.3,183.8 677.3,183.5 678.3,184.0 679.3,184.0 680.3,183.7 681.3,183.9 682.3,184.0 683.0,187.4Z" fill="#5fae80"/>
<text x="0" y="0" font-size="13.20" fill="#4a9468" transform="translate(531.90,179.50) scale(0.250)" textLength="41.2" lengthAdjust="spacingAndGlyphs" stroke="#4a9468" stroke-width="0.46">[0 - 600]</text>
<line x1="530.3" y1="199.30" x2="683.0" y2="199.30" stroke="#9fd2b2" stroke-width="0.70"/>
<path d="M530.3,199.3 530.3,196.3 531.3,196.6 532.3,196.7 533.3,196.8 534.3,196.6 535.3,196.8 536.3,196.7 537.3,196.5 538.3,196.5 539.3,196.6 540.3,196.8 541.3,196.6 542.3,197.0 543.3,196.8 544.3,196.7 545.3,197.2 546.3,197.4 547.3,197.7 548.3,197.3 549.3,197.3 550.3,196.9 551.3,197.0 552.3,197.1 553.3,197.3 554.3,197.2 555.3,197.2 556.3,197.2 557.3,197.1 558.3,197.3 559.3,197.3 560.3,197.7 561.3,197.5 562.3,197.6 563.3,197.3 564.3,197.0 565.3,197.0 566.3,196.5 567.3,196.0 568.3,196.3 569.3,196.2 570.3,196.9 571.3,196.9 572.3,197.3 573.3,197.4 574.3,197.5 575.3,197.4 576.3,197.2 577.3,197.4 578.3,197.7 579.3,198.2 580.3,198.4 581.3,198.2 582.3,197.8 583.3,197.3 584.3,197.1 585.3,197.0 586.3,197.3 587.3,197.4 588.3,197.2 589.3,196.7 590.3,196.6 591.3,196.8 592.3,197.0 593.3,196.9 594.3,196.9 595.3,196.7 596.3,196.8 597.3,196.4 598.3,196.2 599.3,196.8 600.3,196.9 601.3,197.1 602.3,197.3 603.3,197.1 604.3,196.7 605.3,196.5 606.3,196.1 607.3,196.3 608.3,196.7 609.3,196.4 610.3,196.1 611.3,195.7 612.3,195.6 613.3,195.2 614.3,195.3 615.3,195.3 616.3,195.3 617.3,194.9 618.3,195.0 619.3,194.7 620.3,195.1 621.3,194.9 622.3,195.1 623.3,195.0 624.3,194.9 625.3,194.7 626.3,194.5 627.3,194.4 628.3,194.4 629.3,194.6 630.3,194.6 631.3,194.5 632.3,194.5 633.3,194.5 634.3,194.4 635.3,194.0 636.3,194.2 637.3,194.3 638.3,194.2 639.3,194.0 640.3,193.9 641.3,193.9 642.3,194.1 643.3,193.9 644.3,193.7 645.3,193.7 646.3,193.4 647.3,193.5 648.3,193.8 649.3,193.9 650.3,193.9 651.3,193.9 652.3,193.8 653.3,193.7 654.3,193.7 655.3,193.6 656.3,193.5 657.3,193.3 658.3,193.2 659.3,193.2 660.3,193.2 661.3,193.4 662.3,193.2 663.3,193.4 664.3,193.5 665.3,193.6 666.3,193.7 667.3,194.0 668.3,193.7 669.3,193.6 670.3,193.6 671.3,193.7 672.3,193.8 673.3,194.0 674.3,194.1 675.3,194.3 676.3,194.4 677.3,194.3 678.3,194.4 679.3,194.4 680.3,194.3 681.3,194.2 682.3,194.2 683.0,199.3Z" fill="#5fae80"/>
<text x="0" y="0" font-size="13.20" fill="#4a9468" transform="translate(531.90,191.40) scale(0.250)" textLength="41.2" lengthAdjust="spacingAndGlyphs" stroke="#4a9468" stroke-width="0.46">[0 - 600]</text>
<line x1="530.3" y1="211.30" x2="683.0" y2="211.30" stroke="#f6dcb5" stroke-width="0.70"/>
<path d="M562.3,211.3 563.3,210.7 564.3,210.0 565.3,209.3 566.3,208.6 567.3,208.2 568.3,207.9 569.3,207.5 570.3,207.1 571.3,206.8 572.3,206.5 573.3,206.3 574.3,206.3 575.3,206.1 576.3,206.0 577.3,205.9 578.3,205.8 579.3,205.7 580.3,205.6 581.3,205.5 582.3,205.3 583.3,205.2 584.3,205.0 585.3,204.9 586.3,204.8 587.3,204.7 588.3,204.7 589.3,204.5 590.3,204.5 591.3,204.5 592.3,204.4 593.3,204.3 594.3,204.3 595.3,204.2 596.3,204.1 597.3,204.0 598.3,203.9 599.3,203.8 600.3,203.8 601.3,203.7 602.3,203.6 603.3,203.5 604.3,203.4 605.3,203.4 606.3,203.4 607.3,203.4 608.3,203.4 609.3,203.3 610.3,203.2 611.3,203.0 612.3,202.9 613.3,202.9 614.3,202.9 615.3,202.9 616.3,202.8 617.3,202.7 618.3,202.6 619.3,202.6 620.3,202.5 621.3,202.3 622.3,202.4 623.3,202.4 624.3,202.5 625.3,202.7 626.3,203.0 627.3,203.1 628.3,203.2 629.3,203.2 630.3,203.4 631.3,203.6 632.3,203.7 633.3,203.8 634.3,204.0 635.3,204.1 636.3,204.2 637.3,204.3 638.3,204.4 639.3,204.5 640.3,204.7 641.3,204.8 642.3,205.0 643.3,205.0 644.3,205.1 645.3,205.1 646.3,205.1 647.3,204.9 648.3,204.8 649.3,204.6 650.3,204.5 651.3,204.4 652.3,204.4 653.3,204.7 654.3,205.0 655.3,205.2 656.3,205.5 657.3,206.0 658.3,206.8 659.3,207.7 660.3,208.7 661.3,210.3 662.3,211.3Z" fill="#e8a63a"/>
<text x="0" y="0" font-size="13.20" fill="#d99530" transform="translate(531.90,203.40) scale(0.250)" textLength="48.0" lengthAdjust="spacingAndGlyphs" stroke="#d99530" stroke-width="0.46">[0 - 1000]</text>
<line x1="530.3" y1="223.40" x2="683.0" y2="223.40" stroke="#f6dcb5" stroke-width="0.70"/>
<path d="M530.3,223.4 530.3,223.2 531.3,223.1 532.3,223.1 533.3,223.1 534.3,223.0 535.3,223.0 536.3,223.0 537.3,223.0 538.3,223.0 539.3,223.1 540.3,223.2 541.3,223.1 542.3,223.2 543.3,223.3 544.3,223.4ZM545.3,223.4 546.3,223.3 547.3,223.3 548.3,223.1 549.3,223.0 550.3,223.1 551.3,223.1 552.3,223.1 553.3,222.9 554.3,223.0 555.3,223.0 556.3,223.2 557.3,223.2 558.3,223.1 559.3,223.0 560.3,222.9 561.3,222.9 562.3,223.0 563.3,223.0 564.3,223.0 565.3,222.9 566.3,223.0 567.3,223.0 568.3,222.9 569.3,222.9 570.3,222.9 571.3,222.8 572.3,222.8 573.3,222.8 574.3,223.0 575.3,222.9 576.3,223.0 577.3,223.0 578.3,223.1 579.3,223.1 580.3,223.1 581.3,223.0 582.3,222.8 583.3,222.8 584.3,222.8 585.3,223.0 586.3,223.0 587.3,223.0 588.3,223.0 589.3,222.9 590.3,222.9 591.3,222.8 592.3,222.9 593.3,222.9 594.3,222.9 595.3,222.9 596.3,222.9 597.3,222.9 598.3,222.9 599.3,222.8 600.3,222.9 601.3,222.9 602.3,223.1 603.3,223.1 604.3,222.9 605.3,223.1 606.3,222.9 607.3,222.9 608.3,222.8 609.3,222.9 610.3,222.9 611.3,222.8 612.3,222.8 613.3,223.0 614.3,223.1 615.3,222.9 616.3,222.9 617.3,222.8 618.3,222.9 619.3,222.9 620.3,222.8 621.3,222.8 622.3,222.7 623.3,222.8 624.3,222.8 625.3,222.9 626.3,222.9 627.3,222.9 628.3,222.8 629.3,223.0 630.3,223.0 631.3,222.8 632.3,222.7 633.3,222.7 634.3,222.8 635.3,222.9 636.3,222.8 637.3,223.0 638.3,223.0 639.3,223.2 640.3,223.0 641.3,222.9 642.3,222.9 643.3,222.9 644.3,222.8 645.3,222.8 646.3,222.9 647.3,223.2 648.3,223.1 649.3,223.1 650.3,223.1 651.3,223.1 652.3,222.9 653.3,222.9 654.3,222.9 655.3,223.1 656.3,223.2 657.3,223.2 658.3,223.2 659.3,223.1 660.3,223.1 661.3,222.9 662.3,223.0 663.3,223.0 664.3,223.1 665.3,223.1 666.3,223.2 667.3,223.3 668.3,223.2 669.3,223.1 670.3,222.9 671.3,222.9 672.3,222.8 673.3,222.9 674.3,222.8 675.3,222.6 676.3,222.7 677.3,222.6 678.3,222.8 679.3,222.6 680.3,222.5 681.3,222.2 682.3,221.4 683.0,223.4Z" fill="#e8a63a"/>
<text x="0" y="0" font-size="13.20" fill="#d99530" transform="translate(531.90,215.50) scale(0.250)" textLength="48.0" lengthAdjust="spacingAndGlyphs" stroke="#d99530" stroke-width="0.46">[0 - 1000]</text>
<line x1="530.3" y1="235.40" x2="683.0" y2="235.40" stroke="#f6dcb5" stroke-width="0.70"/>
<path d="M565.3,235.4 566.3,235.3 567.3,235.1 568.3,234.9 569.3,234.6 570.3,234.5 571.3,234.3 572.3,234.3 573.3,234.2 574.3,234.2 575.3,234.0 576.3,234.0 577.3,233.9 578.3,233.7 579.3,233.3 580.3,233.2 581.3,233.1 582.3,233.2 583.3,233.3 584.3,233.2 585.3,233.3 586.3,233.3 587.3,233.2 588.3,233.1 589.3,233.0 590.3,232.8 591.3,232.8 592.3,232.5 593.3,232.4 594.3,232.5 595.3,232.4 596.3,232.4 597.3,232.3 598.3,232.4 599.3,232.3 600.3,232.2 601.3,232.2 602.3,232.1 603.3,232.3 604.3,232.3 605.3,232.4 606.3,232.5 607.3,232.4 608.3,232.4 609.3,232.2 610.3,232.2 611.3,232.1 612.3,232.3 613.3,232.4 614.3,232.3 615.3,232.4 616.3,232.3 617.3,232.4 618.3,232.3 619.3,232.3 620.3,232.3 621.3,232.4 622.3,232.4 623.3,232.2 624.3,232.3 625.3,232.3 626.3,232.3 627.3,232.5 628.3,232.5 629.3,232.7 630.3,232.7 631.3,232.8 632.3,232.7 633.3,232.6 634.3,232.5 635.3,232.7 636.3,232.7 637.3,232.5 638.3,232.6 639.3,232.6 640.3,232.7 641.3,232.7 642.3,232.5 643.3,232.4 644.3,232.2 645.3,232.0 646.3,231.9 647.3,231.9 648.3,231.7 649.3,231.8 650.3,231.8 651.3,232.1 652.3,232.3 653.3,232.3 654.3,232.2 655.3,232.2 656.3,232.6 657.3,232.9 658.3,233.4 659.3,233.8 660.3,234.1 661.3,234.5 662.3,235.0 663.3,235.4ZM677.3,235.4 678.3,235.2 679.3,234.6 680.3,234.2 681.3,234.0 682.3,233.9 683.0,235.4Z" fill="#e8a63a"/>
<text x="0" y="0" font-size="13.20" fill="#d99530" transform="translate(531.90,227.50) scale(0.250)" textLength="48.0" lengthAdjust="spacingAndGlyphs" stroke="#d99530" stroke-width="0.46">[0 - 1000]</text>
<line x1="530.3" y1="247.40" x2="683.0" y2="247.40" stroke="#f6dcb5" stroke-width="0.70"/>
<path d="M530.3,247.4 530.3,247.2 531.3,247.2 532.3,247.2 533.3,247.3 534.3,247.3 535.3,247.4ZM535.3,247.4 536.3,247.2 537.3,247.2 538.3,247.2 539.3,247.3 540.3,247.3 541.3,247.4ZM541.3,247.4 542.3,247.3 543.3,247.2 544.3,247.2 545.3,247.2 546.3,247.2 547.3,247.2 548.3,247.2 549.3,247.3 550.3,247.3 551.3,247.3 552.3,247.3 553.3,247.2 554.3,247.2 555.3,247.2 556.3,247.2 557.3,247.2 558.3,247.2 559.3,247.2 560.3,247.2 561.3,247.2 562.3,247.2 563.3,247.1 564.3,247.0 565.3,247.0 566.3,247.0 567.3,247.1 568.3,247.1 569.3,246.9 570.3,246.7 571.3,246.9 572.3,246.7 573.3,246.8 574.3,246.6 575.3,246.5 576.3,246.6 577.3,246.6 578.3,246.6 579.3,246.7 580.3,246.8 581.3,246.9 582.3,247.1 583.3,246.9 584.3,246.8 585.3,246.7 586.3,246.6 587.3,246.5 588.3,246.7 589.3,246.8 590.3,246.8 591.3,246.5 592.3,246.6 593.3,246.6 594.3,246.6 595.3,246.6 596.3,246.8 597.3,246.8 598.3,246.7 599.3,246.5 600.3,246.6 601.3,246.7 602.3,246.8 603.3,247.0 604.3,246.9 605.3,246.7 606.3,246.7 607.3,246.7 608.3,246.7 609.3,246.7 610.3,246.7 611.3,246.6 612.3,246.8 613.3,246.9 614.3,247.0 615.3,247.0 616.3,246.9 617.3,247.0 618.3,247.1 619.3,246.9 620.3,246.6 621.3,246.7 622.3,246.8 623.3,246.8 624.3,246.9 625.3,246.9 626.3,246.6 627.3,246.7 628.3,246.7 629.3,246.8 630.3,246.7 631.3,246.8 632.3,246.7 633.3,246.8 634.3,246.8 635.3,246.9 636.3,246.7 637.3,246.6 638.3,246.6 639.3,246.7 640.3,246.9 641.3,246.7 642.3,246.5 643.3,246.5 644.3,246.7 645.3,246.7 646.3,247.0 647.3,246.9 648.3,246.9 649.3,246.8 650.3,246.8 651.3,246.7 652.3,246.8 653.3,246.9 654.3,247.0 655.3,247.0 656.3,247.0 657.3,247.0 658.3,247.3 659.3,247.3 660.3,247.3 661.3,247.2 662.3,247.2 663.3,247.2 664.3,247.1 665.3,247.1 666.3,247.1 667.3,247.1 668.3,247.0 669.3,247.1 670.3,247.1 671.3,247.2 672.3,247.2 673.3,247.2 674.3,247.2 675.3,247.2 676.3,247.2 677.3,247.1 678.3,247.2 679.3,247.2 680.3,247.2 681.3,247.3 682.3,247.3 683.0,247.4Z" fill="#e8a63a"/>
<text x="0" y="0" font-size="13.20" fill="#d99530" transform="translate(531.90,239.50) scale(0.250)" textLength="48.0" lengthAdjust="spacingAndGlyphs" stroke="#d99530" stroke-width="0.46">[0 - 1000]</text>
<line x1="530.3" y1="259.40" x2="683.0" y2="259.40" stroke="#f6dcb5" stroke-width="0.70"/>
<path d="M530.3,259.4 530.3,259.3 531.3,259.3 532.3,259.3 533.3,259.3 534.3,259.3 535.3,259.3 536.3,259.3 537.3,259.3 538.3,259.3 539.3,259.3 540.3,259.3 541.3,259.3 542.3,259.3 543.3,259.3 544.3,259.3 545.3,259.3 546.3,259.3 547.3,259.3 548.3,259.3 549.3,259.3 550.3,259.3 551.3,259.3 552.3,259.2 553.3,259.2 554.3,259.2 555.3,259.2 556.3,259.3 557.3,259.3 558.3,259.3 559.3,259.3 560.3,259.4ZM560.3,259.4 561.3,259.3 562.3,259.2 563.3,259.2 564.3,259.1 565.3,259.2 566.3,259.2 567.3,259.1 568.3,259.0 569.3,259.0 570.3,258.9 571.3,258.8 572.3,258.8 573.3,258.8 574.3,258.9 575.3,258.9 576.3,258.8 577.3,258.8 578.3,258.9 579.3,259.1 580.3,259.0 581.3,258.7 582.3,258.9 583.3,258.9 584.3,259.2 585.3,259.1 586.3,258.9 587.3,258.9 588.3,258.8 589.3,258.8 590.3,258.7 591.3,258.7 592.3,258.7 593.3,258.7 594.3,258.7 595.3,258.6 596.3,258.8 597.3,258.8 598.3,258.9 599.3,258.9 600.3,258.9 601.3,259.0 602.3,258.8 603.3,258.9 604.3,259.1 605.3,259.1 606.3,259.1 607.3,259.1 608.3,259.0 609.3,259.1 610.3,259.0 611.3,259.2 612.3,259.2 613.3,258.9 614.3,259.0 615.3,258.8 616.3,258.9 617.3,259.0 618.3,259.1 619.3,259.0 620.3,258.9 621.3,259.0 622.3,259.0 623.3,259.0 624.3,259.0 625.3,259.1 626.3,258.9 627.3,258.9 628.3,259.1 629.3,259.1 630.3,259.2 631.3,259.1 632.3,259.0 633.3,258.9 634.3,259.1 635.3,259.2 636.3,259.1 637.3,259.1 638.3,259.1 639.3,259.1 640.3,259.0 641.3,259.2 642.3,259.1 643.3,259.0 644.3,259.0 645.3,258.9 646.3,259.0 647.3,259.1 648.3,259.0 649.3,258.8 650.3,258.9 651.3,259.0 652.3,259.2 653.3,259.1 654.3,259.2 655.3,259.0 656.3,259.1 657.3,259.2 658.3,259.3 659.3,259.4ZM659.3,259.4 660.3,259.3 661.3,259.4ZM663.3,259.4 664.3,259.3 665.3,259.3 666.3,259.3 667.3,259.3 668.3,259.3 669.3,259.3 670.3,259.3 671.3,259.3 672.3,259.3 673.3,259.2 674.3,259.3 675.3,259.3 676.3,259.3 677.3,259.3 678.3,259.3 679.3,259.3 680.3,259.3 681.3,259.3 682.3,259.3 683.0,259.4Z" fill="#e8a63a"/>
<text x="0" y="0" font-size="13.20" fill="#d99530" transform="translate(531.90,251.50) scale(0.250)" textLength="48.0" lengthAdjust="spacingAndGlyphs" stroke="#d99530" stroke-width="0.46">[0 - 1000]</text>
<line x1="535.5" y1="265.40" x2="665.0" y2="265.40" stroke="#7fb8bb" stroke-width="2.30"/>
<rect x="581.0" y="263.00" width="79.7" height="4.80" fill="#7fb8bb"/>
<line x1="586.3" y1="264.60" x2="586.3" y2="266.20" stroke="#d7eaea" stroke-width="0.4"/>
<line x1="591.6" y1="264.60" x2="591.6" y2="266.20" stroke="#d7eaea" stroke-width="0.4"/>
<line x1="596.9" y1="264.60" x2="596.9" y2="266.20" stroke="#d7eaea" stroke-width="0.4"/>
<line x1="602.3" y1="264.60" x2="602.3" y2="266.20" stroke="#d7eaea" stroke-width="0.4"/>
<line x1="607.6" y1="264.60" x2="607.6" y2="266.20" stroke="#d7eaea" stroke-width="0.4"/>
<line x1="612.9" y1="264.60" x2="612.9" y2="266.20" stroke="#d7eaea" stroke-width="0.4"/>
<line x1="618.2" y1="264.60" x2="618.2" y2="266.20" stroke="#d7eaea" stroke-width="0.4"/>
<line x1="623.5" y1="264.60" x2="623.5" y2="266.20" stroke="#d7eaea" stroke-width="0.4"/>
<line x1="628.8" y1="264.60" x2="628.8" y2="266.20" stroke="#d7eaea" stroke-width="0.4"/>
<line x1="634.1" y1="264.60" x2="634.1" y2="266.20" stroke="#d7eaea" stroke-width="0.4"/>
<line x1="639.4" y1="264.60" x2="639.4" y2="266.20" stroke="#d7eaea" stroke-width="0.4"/>
<line x1="644.8" y1="264.60" x2="644.8" y2="266.20" stroke="#d7eaea" stroke-width="0.4"/>
<line x1="650.1" y1="264.60" x2="650.1" y2="266.20" stroke="#d7eaea" stroke-width="0.4"/>
<line x1="655.4" y1="264.60" x2="655.4" y2="266.20" stroke="#d7eaea" stroke-width="0.4"/>
<text x="616.0" y="275.6" font-size="8.50" fill="#1a1a1a" textLength="24.3" lengthAdjust="spacingAndGlyphs" text-anchor="middle" stroke="#1a1a1a" stroke-width="0.15">ROP18</text>
<line x1="334.8" y1="305.40" x2="520.0" y2="305.40" stroke="#eab0cf" stroke-width="0.70"/>
<path d="M334.8,305.4 334.8,304.8 335.8,304.7 336.8,304.6 337.8,304.9 338.8,304.9 339.8,305.0 340.8,304.8 341.8,304.8 342.8,304.7 343.8,304.8 344.8,304.6 345.8,304.7 346.8,304.8 347.8,304.8 348.8,304.9 349.8,305.0 350.8,304.9 351.8,305.0 352.8,305.2 353.8,305.0 354.8,305.0 355.8,305.0 356.8,305.1 357.8,305.1 358.8,304.9 359.8,304.7 360.8,304.3 361.8,304.3 362.8,304.3 363.8,304.3 364.8,304.0 365.8,304.5 366.8,304.6 367.8,304.7 368.8,304.9 369.8,305.0 370.8,305.1 371.8,305.1 372.8,305.1 373.8,304.9 374.8,304.9 375.8,304.9 376.8,304.9 377.8,304.9 378.8,305.1 379.8,305.1 380.8,305.1 381.8,305.1 382.8,305.1 383.8,305.0 384.8,305.0 385.8,305.0 386.8,305.0 387.8,304.9 388.8,304.9 389.8,304.9 390.8,305.0 391.8,305.0 392.8,305.0 393.8,305.0 394.8,304.9 395.8,304.9 396.8,305.1 397.8,305.0 398.8,304.9 399.8,304.7 400.8,304.8 401.8,304.9 402.8,305.2 403.8,305.0 404.8,305.0 405.8,304.8 406.8,304.8 407.8,304.6 408.8,304.9 409.8,304.4 410.8,304.4 411.8,304.3 412.8,304.6 413.8,304.8 414.8,304.8 415.8,304.8 416.8,304.2 417.8,304.4 418.8,304.3 419.8,304.6 420.8,304.5 421.8,304.8 422.8,304.5 423.8,304.6 424.8,304.7 425.8,304.5 426.8,304.6 427.8,304.8 428.8,304.7 429.8,304.5 430.8,304.5 431.8,304.5 432.8,304.4 433.8,304.7 434.8,304.6 435.8,304.7 436.8,304.5 437.8,304.7 438.8,304.6 439.8,304.7 440.8,304.7 441.8,304.8 442.8,304.8 443.8,304.6 444.8,304.7 445.8,304.5 446.8,304.7 447.8,304.8 448.8,304.9 449.8,304.7 450.8,304.7 451.8,304.9 452.8,304.9 453.8,304.8 454.8,304.8 455.8,304.8 456.8,305.0 457.8,304.9 458.8,304.8 459.8,305.0 460.8,304.9 461.8,305.0 462.8,304.9 463.8,304.9 464.8,304.9 465.8,304.9 466.8,304.9 467.8,305.0 468.8,305.0 469.8,305.0 470.8,304.7 471.8,304.7 472.8,304.4 473.8,304.7 474.8,304.6 475.8,305.0 476.8,305.1 477.8,305.1 478.8,305.2 479.8,305.2 480.8,304.7 481.8,303.9 482.8,302.3 483.8,300.5 484.8,298.3 485.8,297.4 486.8,295.5 487.8,295.9 488.8,296.9 489.8,298.3 490.8,299.5 491.8,298.7 492.8,297.6 493.8,297.4 494.8,298.2 495.8,298.6 496.8,299.6 497.8,299.1 498.8,297.3 499.8,297.5 500.8,298.0 501.8,298.9 502.8,299.8 503.8,300.9 504.8,303.0 505.8,303.9 506.8,304.1 507.8,304.3 508.8,304.5 509.8,304.9 510.8,305.0 511.8,305.1 512.8,305.2 513.8,305.2 514.8,305.2 515.8,305.2 516.8,305.1 517.8,305.1 518.8,305.1 519.8,305.0 520.0,305.4Z" fill="#cf5699"/>
<text x="0" y="0" font-size="13.20" fill="#b8407e" transform="translate(334.80,298.00) scale(0.250)" textLength="45.6" lengthAdjust="spacingAndGlyphs" stroke="#b8407e" stroke-width="0.46">[0 - 5000]</text>
<line x1="334.8" y1="319.20" x2="520.0" y2="319.20" stroke="#eab0cf" stroke-width="0.70"/>
<path d="M334.8,319.2 334.8,318.8 335.8,318.7 336.8,318.7 337.8,318.7 338.8,318.4 339.8,318.5 340.8,318.8 341.8,319.0 342.8,318.9 343.8,318.9 344.8,319.0 345.8,319.0 346.8,318.9 347.8,318.6 348.8,318.6 349.8,318.7 350.8,318.8 351.8,318.8 352.8,318.8 353.8,318.7 354.8,318.8 355.8,318.8 356.8,318.8 357.8,318.8 358.8,318.9 359.8,318.9 360.8,318.9 361.8,318.8 362.8,318.8 363.8,318.9 364.8,318.9 365.8,319.0 366.8,319.0 367.8,318.8 368.8,318.8 369.8,318.7 370.8,318.8 371.8,318.8 372.8,318.8 373.8,318.8 374.8,318.7 375.8,318.7 376.8,318.8 377.8,318.7 378.8,319.0 379.8,318.9 380.8,318.8 381.8,318.6 382.8,318.6 383.8,318.7 384.8,318.9 385.8,318.7 386.8,318.8 387.8,318.8 388.8,318.8 389.8,318.8 390.8,318.6 391.8,318.5 392.8,318.5 393.8,318.7 394.8,318.4 395.8,318.3 396.8,318.4 397.8,318.4 398.8,318.4 399.8,318.3 400.8,318.2 401.8,318.3 402.8,318.5 403.8,318.6 404.8,318.7 405.8,318.8 406.8,318.9 407.8,318.8 408.8,318.8 409.8,318.9 410.8,318.9 411.8,319.0 412.8,318.9 413.8,318.7 414.8,318.7 415.8,319.0 416.8,319.1 417.8,319.1 418.8,318.9 419.8,318.8 420.8,318.6 421.8,318.8 422.8,318.6 423.8,318.6 424.8,318.7 425.8,318.5 426.8,318.6 427.8,318.6 428.8,318.9 429.8,318.8 430.8,318.6 431.8,318.6 432.8,318.6 433.8,318.8 434.8,318.7 435.8,318.7 436.8,318.5 437.8,318.6 438.8,318.3 439.8,318.2 440.8,318.3 441.8,318.3 442.8,318.7 443.8,318.9 444.8,319.2ZM444.8,319.2 445.8,318.8 446.8,318.6 447.8,318.8 448.8,318.7 449.8,318.8 450.8,318.5 451.8,318.6 452.8,318.3 453.8,318.5 454.8,318.3 455.8,318.4 456.8,318.3 457.8,318.2 458.8,317.9 459.8,317.6 460.8,317.8 461.8,318.0 462.8,318.4 463.8,318.3 464.8,318.1 465.8,318.0 466.8,317.5 467.8,316.7 468.8,316.6 469.8,316.2 470.8,316.5 471.8,317.5 472.8,317.9 473.8,318.3 474.8,318.5 475.8,318.4 476.8,318.4 477.8,318.5 478.8,318.8 479.8,318.9 480.8,318.8 481.8,318.9 482.8,318.7 483.8,318.6 484.8,317.9 485.8,315.7 486.8,317.2 487.8,317.3 488.8,317.2 489.8,317.2 490.8,317.8 491.8,317.6 492.8,316.9 493.8,316.5 494.8,315.7 495.8,315.5 496.8,314.9 497.8,315.2 498.8,315.5 499.8,316.5 500.8,317.3 501.8,317.5 502.8,317.6 503.8,317.6 504.8,318.4 505.8,318.7 506.8,318.8 507.8,318.9 508.8,318.8 509.8,318.7 510.8,318.4 511.8,318.6 512.8,318.6 513.8,318.8 514.8,318.8 515.8,318.8 516.8,318.7 517.8,318.7 518.8,318.7 519.8,318.6 520.0,319.2Z" fill="#cf5699"/>
<text x="0" y="0" font-size="13.20" fill="#b8407e" transform="translate(334.80,311.80) scale(0.250)" textLength="45.6" lengthAdjust="spacingAndGlyphs" stroke="#b8407e" stroke-width="0.46">[0 - 5000]</text>
<line x1="334.8" y1="332.30" x2="520.0" y2="332.30" stroke="#9fd2b2" stroke-width="0.70"/>
<path d="M334.8,332.3 334.8,331.0 335.8,330.8 336.8,330.9 337.8,331.3 338.8,331.2 339.8,331.2 340.8,331.3 341.8,331.1 342.8,331.5 343.8,330.9 344.8,330.5 345.8,330.3 346.8,330.9 347.8,331.1 348.8,331.5 349.8,330.7 350.8,331.0 351.8,331.0 352.8,331.4 353.8,332.1 354.8,331.8 355.8,331.5 356.8,331.5 357.8,331.2 358.8,331.6 359.8,331.5 360.8,331.6 361.8,331.2 362.8,331.6 363.8,332.1 364.8,331.4 365.8,331.5 366.8,330.9 367.8,331.1 368.8,331.4 369.8,331.9 370.8,332.1 371.8,331.5 372.8,330.8 373.8,330.8 374.8,331.0 375.8,331.3 376.8,330.8 377.8,331.1 378.8,331.8 379.8,331.8 380.8,331.1 381.8,331.3 382.8,330.9 383.8,331.4 384.8,331.2 385.8,331.7 386.8,332.0 387.8,332.3ZM387.8,332.3 388.8,332.1 389.8,331.5 390.8,330.9 391.8,330.9 392.8,331.0 393.8,331.1 394.8,331.0 395.8,330.4 396.8,330.5 397.8,331.1 398.8,331.1 399.8,331.4 400.8,330.8 401.8,331.5 402.8,331.7 403.8,331.5 404.8,331.4 405.8,330.8 406.8,331.4 407.8,331.8 408.8,331.8 409.8,331.1 410.8,330.9 411.8,330.9 412.8,330.8 413.8,330.3 414.8,330.9 415.8,331.5 416.8,332.3ZM416.8,332.3 417.8,332.1 418.8,332.0 419.8,332.2 420.8,331.9 421.8,332.1 422.8,332.1 423.8,332.1 424.8,331.6 425.8,331.5 426.8,331.4 427.8,331.5 428.8,331.6 429.8,331.1 430.8,331.0 431.8,331.5 432.8,331.7 433.8,331.6 434.8,331.6 435.8,331.4 436.8,331.5 437.8,331.1 438.8,331.1 439.8,331.6 440.8,331.3 441.8,331.5 442.8,331.4 443.8,331.6 444.8,331.6 445.8,332.0 446.8,331.8 447.8,331.9 448.8,331.7 449.8,331.7 450.8,331.9 451.8,331.5 452.8,331.6 453.8,331.3 454.8,330.8 455.8,330.6 456.8,330.8 457.8,331.4 458.8,331.7 459.8,331.8 460.8,331.9 461.8,332.0 462.8,331.9 463.8,331.4 464.8,330.9 465.8,330.7 466.8,331.2 467.8,331.1 468.8,331.4 469.8,331.9 470.8,332.3ZM470.8,332.3 471.8,331.9 472.8,331.9 473.8,332.3ZM475.8,332.3 476.8,331.3 477.8,330.1 478.8,329.1 479.8,329.9 480.8,329.1 481.8,330.9 482.8,330.4 483.8,331.3 484.8,330.6 485.8,331.3 486.8,330.8 487.8,330.3 488.8,329.9 489.8,329.0 490.8,330.2 491.8,330.1 492.8,330.9 493.8,330.9 494.8,330.5 495.8,330.5 496.8,330.2 497.8,330.2 498.8,331.0 499.8,331.3 500.8,330.9 501.8,330.7 502.8,330.7 503.8,331.4 504.8,331.2 505.8,331.5 506.8,331.3 507.8,331.9 508.8,331.7 509.8,331.5 510.8,331.1 511.8,331.3 512.8,331.1 513.8,331.5 514.8,331.4 515.8,330.9 516.8,331.5 517.8,331.6 518.8,331.6 519.8,331.4 520.0,332.3Z" fill="#5fae80"/>
<text x="0" y="0" font-size="13.20" fill="#4a9468" transform="translate(334.80,324.90) scale(0.250)" textLength="45.6" lengthAdjust="spacingAndGlyphs" stroke="#4a9468" stroke-width="0.46">[0 - 10000]</text>
<line x1="334.8" y1="345.70" x2="520.0" y2="345.70" stroke="#9fd2b2" stroke-width="0.70"/>
<path d="M334.8,345.7 334.8,345.2 335.8,345.1 336.8,345.3 337.8,345.2 338.8,345.1 339.8,345.2 340.8,345.2 341.8,345.1 342.8,345.0 343.8,345.0 344.8,344.8 345.8,345.0 346.8,345.1 347.8,345.1 348.8,345.1 349.8,345.1 350.8,345.1 351.8,345.0 352.8,344.9 353.8,345.3 354.8,345.4 355.8,345.2 356.8,345.1 357.8,344.6 358.8,344.6 359.8,344.4 360.8,344.5 361.8,344.8 362.8,345.3 363.8,345.2 364.8,345.2 365.8,344.9 366.8,345.2 367.8,345.2 368.8,345.1 369.8,345.0 370.8,344.9 371.8,345.1 372.8,345.0 373.8,345.0 374.8,345.0 375.8,344.9 376.8,344.8 377.8,344.7 378.8,344.7 379.8,344.8 380.8,344.9 381.8,345.1 382.8,345.1 383.8,345.0 384.8,344.9 385.8,344.7 386.8,344.3 387.8,344.4 388.8,345.0 389.8,345.0 390.8,345.2 391.8,344.8 392.8,344.9 393.8,344.7 394.8,345.0 395.8,345.1 396.8,345.2 397.8,345.0 398.8,345.2 399.8,345.2 400.8,344.9 401.8,344.9 402.8,344.8 403.8,344.7 404.8,344.9 405.8,344.6 406.8,344.3 407.8,344.3 408.8,344.2 409.8,344.4 410.8,344.2 411.8,344.5 412.8,344.5 413.8,344.6 414.8,344.4 415.8,344.8 416.8,344.8 417.8,344.5 418.8,344.6 419.8,344.4 420.8,345.0 421.8,344.8 422.8,344.8 423.8,344.8 424.8,344.8 425.8,345.2 426.8,345.3 427.8,345.4 428.8,345.4 429.8,345.3 430.8,344.9 431.8,344.8 432.8,344.7 433.8,345.0 434.8,344.8 435.8,344.7 436.8,344.8 437.8,344.7 438.8,344.7 439.8,344.7 440.8,344.9 441.8,345.0 442.8,345.1 443.8,345.1 444.8,344.8 445.8,344.8 446.8,344.7 447.8,344.8 448.8,344.7 449.8,344.6 450.8,344.9 451.8,344.7 452.8,344.3 453.8,344.4 454.8,344.4 455.8,344.4 456.8,344.2 457.8,344.2 458.8,344.2 459.8,344.3 460.8,344.2 461.8,343.9 462.8,343.9 463.8,344.0 464.8,344.5 465.8,344.0 466.8,343.9 467.8,343.2 468.8,343.0 469.8,342.8 470.8,342.7 471.8,342.3 472.8,342.4 473.8,342.5 474.8,342.5 475.8,342.7 476.8,343.5 477.8,343.6 478.8,343.3 479.8,342.5 480.8,342.6 481.8,341.9 482.8,341.9 483.8,341.7 484.8,341.8 485.8,341.6 486.8,341.4 487.8,340.8 488.8,340.8 489.8,340.5 490.8,340.1 491.8,340.2 492.8,340.3 493.8,340.4 494.8,340.1 495.8,339.8 496.8,338.9 497.8,338.3 498.8,338.3 499.8,339.0 500.8,338.9 501.8,339.8 502.8,340.2 503.8,340.6 504.8,341.5 505.8,341.8 506.8,342.4 507.8,343.2 508.8,343.6 509.8,343.4 510.8,343.7 511.8,343.9 512.8,344.4 513.8,344.6 514.8,343.8 515.8,343.7 516.8,344.1 517.8,344.6 518.8,344.6 519.8,344.4 520.0,345.7Z" fill="#5fae80"/>
<text x="0" y="0" font-size="13.20" fill="#4a9468" transform="translate(334.80,338.30) scale(0.250)" textLength="45.6" lengthAdjust="spacingAndGlyphs" stroke="#4a9468" stroke-width="0.46">[0 - 10000]</text>
<line x1="334.8" y1="358.90" x2="520.0" y2="358.90" stroke="#9fd2b2" stroke-width="0.70"/>
<path d="M334.8,358.9 334.8,358.3 335.8,358.5 336.8,358.5 337.8,358.6 338.8,358.5 339.8,358.5 340.8,358.3 341.8,358.2 342.8,358.2 343.8,358.3 344.8,358.4 345.8,358.5 346.8,358.6 347.8,358.6 348.8,358.6 349.8,358.4 350.8,358.2 351.8,358.2 352.8,358.0 353.8,358.1 354.8,358.2 355.8,358.3 356.8,358.3 357.8,358.4 358.8,358.4 359.8,358.6 360.8,358.5 361.8,358.5 362.8,358.5 363.8,358.3 364.8,358.1 365.8,358.0 366.8,357.8 367.8,357.7 368.8,358.1 369.8,358.1 370.8,358.0 371.8,357.9 372.8,357.9 373.8,358.1 374.8,358.3 375.8,358.3 376.8,358.5 377.8,358.3 378.8,358.4 379.8,358.3 380.8,358.3 381.8,358.3 382.8,358.2 383.8,358.3 384.8,358.3 385.8,358.3 386.8,358.3 387.8,358.4 388.8,358.3 389.8,358.2 390.8,358.2 391.8,358.3 392.8,358.4 393.8,358.4 394.8,358.3 395.8,358.3 396.8,358.1 397.8,358.0 398.8,358.1 399.8,358.4 400.8,358.5 401.8,358.6 402.8,358.3 403.8,358.5 404.8,358.5 405.8,358.5 406.8,358.3 407.8,358.2 408.8,358.0 409.8,358.2 410.8,358.1 411.8,358.2 412.8,358.6 413.8,358.2 414.8,358.3 415.8,358.1 416.8,358.2 417.8,358.4 418.8,358.6 419.8,358.4 420.8,358.3 421.8,358.4 422.8,358.4 423.8,358.4 424.8,358.0 425.8,357.6 426.8,357.7 427.8,357.2 428.8,356.9 429.8,357.3 430.8,357.3 431.8,358.1 432.8,358.6 433.8,357.6 434.8,357.4 435.8,356.4 436.8,357.2 437.8,357.3 438.8,358.0 439.8,358.2 440.8,357.9 441.8,357.6 442.8,357.8 443.8,358.1 444.8,357.9 445.8,357.9 446.8,358.0 447.8,358.0 448.8,358.1 449.8,358.1 450.8,358.2 451.8,358.3 452.8,358.0 453.8,357.8 454.8,357.8 455.8,357.7 456.8,357.6 457.8,357.5 458.8,357.5 459.8,357.9 460.8,358.0 461.8,358.0 462.8,357.9 463.8,358.3 464.8,358.1 465.8,358.2 466.8,357.6 467.8,357.2 468.8,356.8 469.8,356.7 470.8,357.0 471.8,356.9 472.8,356.4 473.8,355.6 474.8,355.1 475.8,355.6 476.8,355.5 477.8,355.4 478.8,355.3 479.8,355.2 480.8,355.3 481.8,355.1 482.8,354.6 483.8,354.4 484.8,353.9 485.8,353.9 486.8,353.3 487.8,353.2 488.8,353.3 489.8,353.1 490.8,352.8 491.8,352.6 492.8,352.4 493.8,352.5 494.8,352.9 495.8,352.7 496.8,353.0 497.8,352.5 498.8,351.8 499.8,351.6 500.8,352.0 501.8,352.8 502.8,352.8 503.8,352.8 504.8,352.8 505.8,352.9 506.8,353.7 507.8,354.0 508.8,354.4 509.8,354.7 510.8,355.1 511.8,355.4 512.8,356.3 513.8,356.3 514.8,356.2 515.8,356.3 516.8,356.2 517.8,356.8 518.8,356.8 519.8,357.2 520.0,358.9Z" fill="#5fae80"/>
<text x="0" y="0" font-size="13.20" fill="#4a9468" transform="translate(334.80,351.50) scale(0.250)" textLength="45.6" lengthAdjust="spacingAndGlyphs" stroke="#4a9468" stroke-width="0.46">[0 - 10000]</text>
<line x1="334.8" y1="372.60" x2="520.0" y2="372.60" stroke="#f6dcb5" stroke-width="0.70"/>
<path d="M345.8,372.6 346.8,371.5 347.8,369.8 348.8,368.4 349.8,367.9 350.8,367.8 351.8,367.5 352.8,367.2 353.8,367.0 354.8,366.8 355.8,366.3 356.8,365.8 357.8,365.3 358.8,364.8 359.8,365.1 360.8,365.5 361.8,366.0 362.8,366.2 363.8,366.4 364.8,366.5 365.8,366.7 366.8,367.0 367.8,367.3 368.8,367.5 369.8,367.5 370.8,367.5 371.8,367.4 372.8,367.4 373.8,367.3 374.8,367.3 375.8,367.3 376.8,367.2 377.8,367.3 378.8,367.1 379.8,367.1 380.8,367.1 381.8,367.1 382.8,367.0 383.8,366.9 384.8,366.7 385.8,366.6 386.8,366.5 387.8,366.5 388.8,366.5 389.8,366.7 390.8,367.0 391.8,367.1 392.8,367.1 393.8,367.1 394.8,367.2 395.8,367.2 396.8,367.2 397.8,367.3 398.8,367.2 399.8,367.2 400.8,367.2 401.8,367.4 402.8,367.5 403.8,367.5 404.8,367.3 405.8,367.4 406.8,367.4 407.8,367.5 408.8,367.5 409.8,367.6 410.8,367.5 411.8,367.5 412.8,367.4 413.8,367.4 414.8,367.3 415.8,367.3 416.8,367.2 417.8,367.2 418.8,367.2 419.8,367.2 420.8,367.1 421.8,366.9 422.8,366.8 423.8,366.7 424.8,366.5 425.8,366.5 426.8,366.5 427.8,366.3 428.8,366.1 429.8,365.9 430.8,365.6 431.8,365.3 432.8,365.1 433.8,364.8 434.8,364.6 435.8,364.4 436.8,364.0 437.8,364.0 438.8,364.2 439.8,364.6 440.8,365.0 441.8,365.3 442.8,365.6 443.8,365.9 444.8,366.2 445.8,366.5 446.8,366.8 447.8,367.1 448.8,367.3 449.8,367.5 450.8,367.5 451.8,367.4 452.8,367.4 453.8,367.3 454.8,367.3 455.8,367.4 456.8,367.4 457.8,367.4 458.8,367.4 459.8,367.2 460.8,367.0 461.8,366.8 462.8,366.7 463.8,366.6 464.8,366.4 465.8,366.3 466.8,366.0 467.8,365.8 468.8,365.6 469.8,365.4 470.8,365.1 471.8,364.9 472.8,364.6 473.8,365.1 474.8,365.2 475.8,365.6 476.8,366.0 477.8,366.1 478.8,366.4 479.8,366.7 480.8,367.1 481.8,367.4 482.8,367.8 483.8,368.2 484.8,368.5 485.8,368.8 486.8,369.1 487.8,369.5 488.8,370.2 489.8,370.8 490.8,371.0 491.8,371.7 492.8,372.4 493.8,372.6ZM498.8,372.6 499.8,371.7 500.8,370.5 501.8,369.2 502.8,369.1 503.8,369.1 504.8,369.0 505.8,369.0 506.8,368.8 507.8,368.8 508.8,368.7 509.8,368.7 510.8,368.5 511.8,368.5 512.8,368.4 513.8,368.4 514.8,368.4 515.8,368.4 516.8,368.6 517.8,368.9 518.8,369.1 519.8,369.6 520.0,372.6Z" fill="#e8a63a"/>
<text x="0" y="0" font-size="13.20" fill="#d99530" transform="translate(334.80,365.20) scale(0.250)" textLength="45.6" lengthAdjust="spacingAndGlyphs" stroke="#d99530" stroke-width="0.46">[0 - 2000]</text>
<line x1="334.8" y1="385.70" x2="520.0" y2="385.70" stroke="#f6dcb5" stroke-width="0.70"/>
<path d="M346.8,385.7 347.8,385.2 348.8,384.5 349.8,383.8 350.8,383.8 351.8,384.0 352.8,384.2 353.8,383.6 354.8,383.6 355.8,383.5 356.8,383.4 357.8,383.6 358.8,383.6 359.8,383.6 360.8,383.2 361.8,382.9 362.8,383.0 363.8,383.2 364.8,383.3 365.8,383.0 366.8,383.0 367.8,383.1 368.8,383.2 369.8,383.0 370.8,383.0 371.8,382.8 372.8,382.5 373.8,382.6 374.8,382.5 375.8,382.7 376.8,383.0 377.8,382.9 378.8,383.0 379.8,382.7 380.8,382.5 381.8,382.4 382.8,382.7 383.8,382.9 384.8,382.9 385.8,382.8 386.8,382.8 387.8,382.9 388.8,383.0 389.8,383.2 390.8,383.1 391.8,383.1 392.8,383.0 393.8,382.9 394.8,382.7 395.8,382.8 396.8,383.0 397.8,383.0 398.8,383.2 399.8,383.2 400.8,383.5 401.8,383.2 402.8,383.0 403.8,383.3 404.8,383.1 405.8,383.5 406.8,383.6 407.8,383.3 408.8,383.3 409.8,383.2 410.8,383.3 411.8,383.0 412.8,383.1 413.8,382.8 414.8,382.5 415.8,382.9 416.8,383.0 417.8,383.1 418.8,383.1 419.8,382.9 420.8,382.6 421.8,382.5 422.8,382.7 423.8,383.0 424.8,382.9 425.8,383.0 426.8,382.8 427.8,382.9 428.8,383.0 429.8,382.8 430.8,382.6 431.8,382.8 432.8,382.5 433.8,382.6 434.8,382.6 435.8,382.7 436.8,382.7 437.8,382.5 438.8,382.5 439.8,382.5 440.8,382.5 441.8,382.5 442.8,382.4 443.8,382.2 444.8,382.4 445.8,382.5 446.8,382.5 447.8,382.4 448.8,382.4 449.8,382.8 450.8,383.0 451.8,383.2 452.8,383.3 453.8,383.4 454.8,383.3 455.8,383.0 456.8,382.9 457.8,382.9 458.8,383.1 459.8,382.8 460.8,382.7 461.8,382.8 462.8,382.5 463.8,382.3 464.8,382.1 465.8,382.1 466.8,382.0 467.8,382.1 468.8,382.0 469.8,381.7 470.8,381.3 471.8,380.9 472.8,380.5 473.8,380.9 474.8,381.1 475.8,381.4 476.8,381.5 477.8,381.8 478.8,382.0 479.8,382.5 480.8,383.0 481.8,383.1 482.8,383.2 483.8,383.3 484.8,383.5 485.8,383.8 486.8,383.7 487.8,384.2 488.8,384.2 489.8,384.3 490.8,384.5 491.8,384.8 492.8,385.2 493.8,385.2 494.8,385.1 495.8,385.0 496.8,385.0 497.8,385.0 498.8,384.9 499.8,384.8 500.8,384.4 501.8,384.0 502.8,383.6 503.8,383.2 504.8,383.4 505.8,383.2 506.8,383.3 507.8,383.3 508.8,383.1 509.8,382.8 510.8,383.2 511.8,383.1 512.8,383.3 513.8,383.5 514.8,383.0 515.8,382.9 516.8,382.7 517.8,382.6 518.8,383.0 519.8,383.2 520.0,385.7Z" fill="#e8a63a"/>
<text x="0" y="0" font-size="13.20" fill="#d99530" transform="translate(334.80,378.30) scale(0.250)" textLength="45.6" lengthAdjust="spacingAndGlyphs" stroke="#d99530" stroke-width="0.46">[0 - 2000]</text>
<line x1="334.8" y1="398.80" x2="520.0" y2="398.80" stroke="#f6dcb5" stroke-width="0.70"/>
<path d="M346.8,398.8 347.8,398.4 348.8,397.9 349.8,397.5 350.8,397.2 351.8,396.8 352.8,396.4 353.8,395.9 354.8,395.2 355.8,394.8 356.8,394.5 357.8,394.2 358.8,394.1 359.8,393.8 360.8,393.9 361.8,394.2 362.8,394.5 363.8,394.9 364.8,395.2 365.8,395.8 366.8,396.1 367.8,396.2 368.8,396.0 369.8,395.8 370.8,396.1 371.8,396.3 372.8,396.4 373.8,396.8 374.8,396.9 375.8,396.8 376.8,396.8 377.8,396.8 378.8,396.7 379.8,396.9 380.8,396.7 381.8,396.6 382.8,396.4 383.8,396.4 384.8,396.4 385.8,396.3 386.8,396.4 387.8,396.4 388.8,396.3 389.8,396.3 390.8,396.1 391.8,396.3 392.8,396.3 393.8,396.1 394.8,396.3 395.8,396.3 396.8,396.3 397.8,396.1 398.8,396.1 399.8,396.0 400.8,396.2 401.8,396.0 402.8,396.2 403.8,396.0 404.8,396.0 405.8,396.0 406.8,396.1 407.8,396.4 408.8,396.4 409.8,396.6 410.8,396.6 411.8,396.5 412.8,396.5 413.8,396.5 414.8,396.6 415.8,396.7 416.8,396.5 417.8,396.5 418.8,396.5 419.8,396.3 420.8,396.3 421.8,396.3 422.8,396.0 423.8,395.9 424.8,395.9 425.8,395.6 426.8,395.7 427.8,395.7 428.8,395.7 429.8,396.1 430.8,395.7 431.8,395.9 432.8,395.6 433.8,395.3 434.8,395.1 435.8,395.0 436.8,394.7 437.8,394.8 438.8,394.9 439.8,395.2 440.8,395.6 441.8,395.7 442.8,395.8 443.8,396.0 444.8,396.4 445.8,396.4 446.8,396.6 447.8,396.4 448.8,396.4 449.8,396.3 450.8,396.3 451.8,396.5 452.8,396.5 453.8,396.4 454.8,396.3 455.8,396.5 456.8,396.6 457.8,396.4 458.8,396.6 459.8,396.6 460.8,396.4 461.8,396.3 462.8,396.2 463.8,396.5 464.8,396.5 465.8,396.6 466.8,396.4 467.8,396.3 468.8,396.0 469.8,396.1 470.8,396.1 471.8,396.3 472.8,396.3 473.8,396.3 474.8,396.3 475.8,396.4 476.8,396.4 477.8,396.3 478.8,396.6 479.8,396.8 480.8,396.9 481.8,397.0 482.8,397.0 483.8,397.0 484.8,397.0 485.8,397.0 486.8,397.2 487.8,397.3 488.8,397.4 489.8,397.6 490.8,397.9 491.8,398.0 492.8,398.1 493.8,398.2 494.8,398.1 495.8,398.2 496.8,398.3 497.8,398.3 498.8,398.3 499.8,398.2 500.8,398.1 501.8,398.1 502.8,397.8 503.8,397.4 504.8,397.4 505.8,397.1 506.8,397.0 507.8,396.8 508.8,396.8 509.8,396.7 510.8,396.7 511.8,396.7 512.8,396.3 513.8,396.2 514.8,395.9 515.8,395.9 516.8,395.6 517.8,395.6 518.8,395.8 519.8,396.2 520.0,398.8Z" fill="#e8a63a"/>
<text x="0" y="0" font-size="13.20" fill="#d99530" transform="translate(334.80,391.40) scale(0.250)" textLength="45.6" lengthAdjust="spacingAndGlyphs" stroke="#d99530" stroke-width="0.46">[0 - 2000]</text>
<line x1="334.8" y1="412.80" x2="520.0" y2="412.80" stroke="#f6dcb5" stroke-width="0.70"/>
<path d="M334.8,412.8 334.8,412.5 335.8,412.4 336.8,412.5 337.8,412.4 338.8,412.4 339.8,412.4 340.8,412.4 341.8,412.2 342.8,412.3 343.8,412.3 344.8,412.5 345.8,412.7 346.8,412.6 347.8,412.5 348.8,412.5 349.8,412.3 350.8,412.4 351.8,412.2 352.8,412.4 353.8,412.4 354.8,412.2 355.8,412.1 356.8,411.9 357.8,412.3 358.8,412.2 359.8,412.3 360.8,412.5 361.8,412.2 362.8,411.9 363.8,412.1 364.8,411.9 365.8,411.6 366.8,411.4 367.8,411.6 368.8,411.4 369.8,411.6 370.8,411.4 371.8,410.9 372.8,410.7 373.8,410.4 374.8,410.9 375.8,411.4 376.8,411.6 377.8,411.3 378.8,411.9 379.8,411.8 380.8,411.9 381.8,411.7 382.8,411.9 383.8,412.1 384.8,412.3 385.8,412.3 386.8,412.1 387.8,411.8 388.8,411.8 389.8,412.2 390.8,412.3 391.8,412.5 392.8,412.2 393.8,412.2 394.8,411.8 395.8,411.7 396.8,412.0 397.8,411.9 398.8,412.1 399.8,412.0 400.8,412.1 401.8,411.9 402.8,412.1 403.8,412.5 404.8,412.2 405.8,412.4 406.8,411.9 407.8,412.3 408.8,412.2 409.8,412.3 410.8,412.2 411.8,412.5 412.8,412.8ZM414.8,412.8 415.8,412.6 416.8,412.5 417.8,412.6 418.8,412.4 419.8,412.3 420.8,411.9 421.8,412.1 422.8,411.7 423.8,412.2 424.8,412.3 425.8,412.1 426.8,411.7 427.8,411.8 428.8,411.7 429.8,411.7 430.8,411.7 431.8,411.5 432.8,411.8 433.8,411.8 434.8,411.9 435.8,411.8 436.8,411.8 437.8,411.9 438.8,412.0 439.8,412.5 440.8,412.5 441.8,412.6 442.8,412.0 443.8,412.1 444.8,412.2 445.8,412.3 446.8,412.2 447.8,412.1 448.8,411.9 449.8,412.1 450.8,412.3 451.8,412.4 452.8,412.5 453.8,412.5 454.8,412.4 455.8,412.3 456.8,412.2 457.8,412.1 458.8,412.3 459.8,412.5 460.8,412.4 461.8,412.3 462.8,411.8 463.8,411.6 464.8,411.5 465.8,411.7 466.8,412.4 467.8,412.1 468.8,412.1 469.8,412.0 470.8,411.9 471.8,411.6 472.8,411.7 473.8,411.6 474.8,411.4 475.8,411.7 476.8,411.8 477.8,411.6 478.8,411.8 479.8,411.8 480.8,412.1 481.8,412.2 482.8,412.1 483.8,412.4 484.8,412.2 485.8,412.0 486.8,412.1 487.8,412.1 488.8,412.2 489.8,412.2 490.8,412.1 491.8,412.0 492.8,412.1 493.8,412.0 494.8,412.3 495.8,412.2 496.8,412.0 497.8,412.1 498.8,412.4 499.8,412.6 500.8,412.7 501.8,412.3 502.8,412.1 503.8,411.8 504.8,412.1 505.8,412.4 506.8,412.5 507.8,412.3 508.8,412.0 509.8,411.9 510.8,411.8 511.8,411.8 512.8,412.0 513.8,412.1 514.8,412.2 515.8,412.2 516.8,412.2 517.8,412.3 518.8,412.3 519.8,412.2 520.0,412.8Z" fill="#e8a63a"/>
<text x="0" y="0" font-size="13.20" fill="#d99530" transform="translate(334.80,405.40) scale(0.250)" textLength="45.6" lengthAdjust="spacingAndGlyphs" stroke="#d99530" stroke-width="0.46">[0 - 2000]</text>
<line x1="334.8" y1="426.60" x2="520.0" y2="426.60" stroke="#f6dcb5" stroke-width="0.70"/>
<path d="M334.8,426.6 334.8,426.5 335.8,426.4 336.8,426.4 337.8,426.2 338.8,426.2 339.8,426.0 340.8,425.8 341.8,425.9 342.8,426.1 343.8,426.2 344.8,426.3 345.8,426.2 346.8,426.2 347.8,426.4 348.8,426.3 349.8,426.4 350.8,426.2 351.8,426.2 352.8,426.0 353.8,426.0 354.8,426.2 355.8,426.3 356.8,426.6ZM357.8,426.6 358.8,426.4 359.8,426.1 360.8,425.9 361.8,426.0 362.8,426.1 363.8,426.3 364.8,426.5 365.8,426.3 366.8,426.1 367.8,426.0 368.8,426.2 369.8,426.3 370.8,426.3 371.8,426.6ZM371.8,426.6 372.8,426.5 373.8,426.4 374.8,426.5 375.8,426.3 376.8,426.4 377.8,426.2 378.8,426.2 379.8,426.1 380.8,426.2 381.8,426.4 382.8,426.0 383.8,425.9 384.8,425.9 385.8,426.1 386.8,426.1 387.8,426.0 388.8,425.9 389.8,425.8 390.8,425.6 391.8,425.9 392.8,426.3 393.8,426.3 394.8,426.4 395.8,426.4 396.8,426.3 397.8,426.3 398.8,426.3 399.8,426.3 400.8,426.3 401.8,426.2 402.8,426.3 403.8,426.2 404.8,426.1 405.8,426.2 406.8,425.9 407.8,425.9 408.8,426.0 409.8,426.2 410.8,426.2 411.8,426.2 412.8,426.2 413.8,426.3 414.8,426.2 415.8,426.0 416.8,425.9 417.8,426.0 418.8,426.1 419.8,426.2 420.8,426.1 421.8,426.0 422.8,426.0 423.8,426.0 424.8,426.0 425.8,426.1 426.8,426.0 427.8,426.1 428.8,426.2 429.8,426.3 430.8,426.3 431.8,426.2 432.8,426.1 433.8,426.0 434.8,426.2 435.8,426.4 436.8,426.5 437.8,426.4 438.8,426.5 439.8,426.3 440.8,426.1 441.8,426.0 442.8,426.1 443.8,426.1 444.8,426.0 445.8,426.2 446.8,426.2 447.8,426.2 448.8,426.3 449.8,426.1 450.8,426.0 451.8,426.3 452.8,426.6ZM452.8,426.6 453.8,426.2 454.8,426.3 455.8,426.1 456.8,426.3 457.8,426.1 458.8,425.9 459.8,425.9 460.8,425.9 461.8,425.9 462.8,426.0 463.8,426.3 464.8,426.4 465.8,426.6ZM465.8,426.6 466.8,426.5 467.8,426.3 468.8,426.3 469.8,425.9 470.8,425.8 471.8,425.6 472.8,425.9 473.8,426.1 474.8,426.1 475.8,425.8 476.8,425.8 477.8,425.7 478.8,426.0 479.8,426.1 480.8,426.0 481.8,426.0 482.8,426.1 483.8,426.2 484.8,426.2 485.8,426.2 486.8,426.2 487.8,426.4 488.8,426.5 489.8,426.4 490.8,426.4 491.8,426.1 492.8,426.2 493.8,426.3 494.8,426.3 495.8,426.3 496.8,426.3 497.8,426.2 498.8,426.3 499.8,426.3 500.8,426.2 501.8,426.3 502.8,426.4 503.8,426.3 504.8,426.5 505.8,426.4 506.8,426.3 507.8,426.0 508.8,425.8 509.8,426.0 510.8,425.8 511.8,426.1 512.8,425.7 513.8,425.7 514.8,425.6 515.8,425.9 516.8,426.2 517.8,426.0 518.8,426.0 519.8,426.0 520.0,426.6Z" fill="#e8a63a"/>
<text x="0" y="0" font-size="13.20" fill="#d99530" transform="translate(334.80,419.20) scale(0.250)" textLength="45.6" lengthAdjust="spacingAndGlyphs" stroke="#d99530" stroke-width="0.46">[0 - 2000]</text>
<line x1="348.1" y1="432.20" x2="369.7" y2="432.20" stroke="#7fb8bb" stroke-width="2.2"/>
<line x1="402.0" y1="432.20" x2="464.2" y2="432.20" stroke="#7fb8bb" stroke-width="0.8"/>
<line x1="464.2" y1="432.20" x2="489.9" y2="432.20" stroke="#7fb8bb" stroke-width="2.2"/>
<line x1="501.5" y1="432.20" x2="520.4" y2="432.20" stroke="#7fb8bb" stroke-width="2.2"/>
<rect x="369.7" y="429.90" width="32.4" height="4.6" fill="#7fb8bb"/>
<rect x="408.9" y="431.00" width="1.7" height="2.4" fill="#7fb8bb"/>
<rect x="415.0" y="430.20" width="2.0" height="4.0" fill="#7fb8bb"/>
<rect x="420.5" y="430.00" width="3.8" height="4.4" fill="#7fb8bb"/>
<rect x="427.0" y="430.00" width="3.5" height="4.4" fill="#7fb8bb"/>
<rect x="433.2" y="429.90" width="7.3" height="4.6" fill="#7fb8bb"/>
<rect x="448.0" y="430.00" width="4.0" height="4.4" fill="#7fb8bb"/>
<rect x="460.2" y="429.90" width="4.0" height="4.6" fill="#7fb8bb"/>
<line x1="373" y1="431.40" x2="373" y2="433.00" stroke="#d7eaea" stroke-width="0.4"/>
<line x1="377" y1="431.40" x2="377" y2="433.00" stroke="#d7eaea" stroke-width="0.4"/>
<line x1="381" y1="431.40" x2="381" y2="433.00" stroke="#d7eaea" stroke-width="0.4"/>
<line x1="385" y1="431.40" x2="385" y2="433.00" stroke="#d7eaea" stroke-width="0.4"/>
<line x1="389" y1="431.40" x2="389" y2="433.00" stroke="#d7eaea" stroke-width="0.4"/>
<line x1="393" y1="431.40" x2="393" y2="433.00" stroke="#d7eaea" stroke-width="0.4"/>
<line x1="397" y1="431.40" x2="397" y2="433.00" stroke="#d7eaea" stroke-width="0.4"/>
<text x="424.1" y="443.7" font-size="8.50" fill="#1a1a1a" textLength="30.6" lengthAdjust="spacingAndGlyphs" text-anchor="middle" stroke="#1a1a1a" stroke-width="0.15">MAPK-L1</text>
<text x="0" y="0" font-size="16.00" fill="#222" transform="translate(494.60,441.00) scale(0.250)" textLength="121.6" lengthAdjust="spacingAndGlyphs" font-weight="bold">TGME49_312580</text>
<line x1="529.6" y1="305.00" x2="683.8" y2="305.00" stroke="#eab0cf" stroke-width="0.70"/>
<path d="M529.6,305.0 529.6,304.5 530.6,304.5 531.6,304.6 532.6,304.5 533.6,304.5 534.6,304.5 535.6,304.4 536.6,304.2 537.6,304.3 538.6,304.3 539.6,304.3 540.6,304.2 541.6,304.2 542.6,304.4 543.6,304.0 544.6,303.4 545.6,303.2 546.6,303.3 547.6,302.7 548.6,302.1 549.6,302.1 550.6,302.1 551.6,301.7 552.6,301.8 553.6,301.8 554.6,301.4 555.6,301.3 556.6,300.8 557.6,300.5 558.6,299.8 559.6,299.5 560.6,298.4 561.6,298.1 562.6,298.4 563.6,299.0 564.6,299.5 565.6,300.7 566.6,301.5 567.6,302.6 568.6,303.1 569.6,303.1 570.6,302.9 571.6,303.0 572.6,303.3 573.6,303.2 574.6,303.6 575.6,303.2 576.6,303.9 577.6,304.1 578.6,304.2 579.6,303.7 580.6,303.5 581.6,303.6 582.6,303.9 583.6,304.3 584.6,304.4 585.6,304.5 586.6,304.4 587.6,304.6 588.6,304.7 589.6,304.8 590.6,304.7 591.6,304.7 592.6,304.5 593.6,304.6 594.6,304.6 595.6,304.7 596.6,304.7 597.6,304.7 598.6,304.8 599.6,304.8 600.6,304.6 601.6,304.6 602.6,304.8 603.6,304.8 604.6,304.9 605.6,304.8 606.6,304.7 607.6,304.7 608.6,304.8 609.6,304.8 610.6,304.8 611.6,304.8 612.6,304.8 613.6,304.9 614.6,304.9 615.6,305.0ZM615.6,305.0 616.6,304.9 617.6,304.7 618.6,304.7 619.6,304.7 620.6,304.8 621.6,304.7 622.6,304.9 623.6,304.9 624.6,304.9 625.6,304.8 626.6,304.8 627.6,304.8 628.6,304.8 629.6,304.8 630.6,304.9 631.6,304.9 632.6,304.9 633.6,304.8 634.6,304.8 635.6,304.8 636.6,304.8 637.6,304.8 638.6,304.8 639.6,304.8 640.6,304.8 641.6,304.7 642.6,304.7 643.6,304.6 644.6,304.8 645.6,304.8 646.6,304.8 647.6,304.7 648.6,304.5 649.6,304.4 650.6,304.5 651.6,304.5 652.6,304.5 653.6,304.7 654.6,304.7 655.6,304.6 656.6,304.5 657.6,304.6 658.6,304.8 659.6,304.7 660.6,304.6 661.6,304.6 662.6,304.7 663.6,304.7 664.6,304.7 665.6,304.6 666.6,304.4 667.6,304.4 668.6,304.4 669.6,304.5 670.6,304.7 671.6,304.7 672.6,304.7 673.6,304.6 674.6,304.7 675.6,304.7 676.6,304.8 677.6,304.7 678.6,304.8 679.6,304.8 680.6,304.8 681.6,304.8 682.6,304.8 683.6,304.8 683.8,305.0Z" fill="#cf5699"/>
<text x="0" y="0" font-size="13.20" fill="#b8407e" transform="translate(532.00,295.80) scale(0.250)" textLength="52.8" lengthAdjust="spacingAndGlyphs" stroke="#b8407e" stroke-width="0.46">[0 - 20000]</text>
<line x1="529.6" y1="318.20" x2="683.8" y2="318.20" stroke="#eab0cf" stroke-width="0.70"/>
<path d="M529.6,318.2 529.6,318.0 530.6,317.9 531.6,317.8 532.6,317.8 533.6,317.8 534.6,317.8 535.6,317.7 536.6,317.6 537.6,317.8 538.6,317.7 539.6,317.7 540.6,317.7 541.6,317.7 542.6,317.7 543.6,317.9 544.6,318.0 545.6,317.7 546.6,317.0 547.6,315.6 548.6,315.9 549.6,316.1 550.6,316.0 551.6,315.6 552.6,315.9 553.6,316.2 554.6,315.9 555.6,316.0 556.6,316.2 557.6,316.3 558.6,316.1 559.6,315.3 560.6,315.1 561.6,314.9 562.6,315.4 563.6,315.9 564.6,316.9 565.6,317.1 566.6,317.3 567.6,317.8 568.6,317.6 569.6,317.6 570.6,317.7 571.6,317.8 572.6,317.9 573.6,318.0 574.6,318.1 575.6,318.1 576.6,318.1 577.6,318.0 578.6,317.9 579.6,317.8 580.6,317.8 581.6,317.8 582.6,317.8 583.6,317.9 584.6,318.1 585.6,318.0 586.6,318.0 587.6,317.9 588.6,317.8 589.6,317.8 590.6,317.9 591.6,317.9 592.6,318.0 593.6,318.0 594.6,318.0 595.6,318.0 596.6,318.1 597.6,318.1 598.6,318.1 599.6,318.0 600.6,318.0 601.6,318.0 602.6,317.9 603.6,317.9 604.6,317.9 605.6,318.0 606.6,317.9 607.6,318.0 608.6,317.9 609.6,317.9 610.6,317.9 611.6,317.9 612.6,317.8 613.6,318.1 614.6,318.1 615.6,318.1 616.6,318.0 617.6,317.9 618.6,317.9 619.6,317.9 620.6,317.9 621.6,318.0 622.6,318.0 623.6,318.0 624.6,318.0 625.6,318.0 626.6,318.0 627.6,318.0 628.6,317.9 629.6,317.8 630.6,317.8 631.6,318.0 632.6,317.9 633.6,317.9 634.6,317.7 635.6,317.7 636.6,317.6 637.6,317.8 638.6,317.9 639.6,317.8 640.6,317.9 641.6,317.7 642.6,317.8 643.6,317.6 644.6,317.6 645.6,317.5 646.6,317.7 647.6,317.7 648.6,317.7 649.6,317.9 650.6,317.8 651.6,317.9 652.6,317.8 653.6,317.9 654.6,317.9 655.6,317.9 656.6,317.9 657.6,318.0 658.6,317.8 659.6,317.6 660.6,317.6 661.6,317.6 662.6,317.7 663.6,317.9 664.6,317.9 665.6,318.0 666.6,318.0 667.6,318.0 668.6,317.9 669.6,317.9 670.6,317.9 671.6,317.9 672.6,317.9 673.6,317.9 674.6,317.9 675.6,317.9 676.6,317.9 677.6,318.0 678.6,318.1 679.6,318.1 680.6,318.1 681.6,318.0 682.6,318.0 683.6,318.1 683.8,318.2Z" fill="#cf5699"/>
<text x="0" y="0" font-size="13.20" fill="#b8407e" transform="translate(532.00,309.00) scale(0.250)" textLength="52.8" lengthAdjust="spacingAndGlyphs" stroke="#b8407e" stroke-width="0.46">[0 - 10000]</text>
<line x1="529.6" y1="332.00" x2="683.8" y2="332.00" stroke="#9fd2b2" stroke-width="0.70"/>
<path d="M529.6,332.0 529.6,331.5 530.6,331.6 531.6,331.5 532.6,331.3 533.6,331.7 534.6,331.5 535.6,331.4 536.6,331.4 537.6,331.2 538.6,331.2 539.6,331.2 540.6,330.6 541.6,330.5 542.6,330.9 543.6,331.0 544.6,331.0 545.6,331.3 546.6,331.4 547.6,331.0 548.6,331.1 549.6,331.2 550.6,331.5 551.6,331.6 552.6,331.2 553.6,331.3 554.6,330.8 555.6,330.9 556.6,331.0 557.6,331.1 558.6,331.4 559.6,331.4 560.6,331.9 561.6,331.7 562.6,331.3 563.6,331.3 564.6,331.0 565.6,330.9 566.6,331.2 567.6,332.0ZM569.6,332.0 570.6,331.6 571.6,331.5 572.6,330.8 573.6,331.0 574.6,331.3 575.6,331.5 576.6,331.0 577.6,330.8 578.6,330.3 579.6,330.8 580.6,331.3 581.6,331.2 582.6,331.1 583.6,330.9 584.6,330.8 585.6,330.5 586.6,330.5 587.6,330.8 588.6,331.4 589.6,331.3 590.6,331.1 591.6,331.0 592.6,330.9 593.6,330.9 594.6,331.3 595.6,331.2 596.6,331.2 597.6,331.5 598.6,331.7 599.6,331.7 600.6,331.8 601.6,331.9 602.6,332.0ZM602.6,332.0 603.6,331.7 604.6,331.4 605.6,331.0 606.6,330.9 607.6,331.1 608.6,331.6 609.6,331.4 610.6,331.4 611.6,331.6 612.6,331.6 613.6,331.5 614.6,331.7 615.6,331.3 616.6,331.1 617.6,330.6 618.6,330.9 619.6,331.1 620.6,331.2 621.6,331.1 622.6,331.4 623.6,331.2 624.6,331.4 625.6,331.2 626.6,331.1 627.6,330.7 628.6,331.0 629.6,330.7 630.6,330.8 631.6,330.5 632.6,331.0 633.6,331.0 634.6,331.2 635.6,331.0 636.6,330.7 637.6,330.7 638.6,331.2 639.6,331.2 640.6,331.4 641.6,331.9 642.6,331.6 643.6,331.7 644.6,331.5 645.6,331.4 646.6,331.4 647.6,331.6 648.6,331.7 649.6,331.2 650.6,330.6 651.6,330.4 652.6,330.2 653.6,330.4 654.6,330.6 655.6,330.7 656.6,330.7 657.6,330.9 658.6,330.9 659.6,331.1 660.6,331.2 661.6,331.0 662.6,330.8 663.6,331.0 664.6,331.3 665.6,331.2 666.6,331.3 667.6,331.3 668.6,331.5 669.6,331.2 670.6,331.4 671.6,331.5 672.6,331.4 673.6,331.4 674.6,331.1 675.6,330.9 676.6,330.8 677.6,330.8 678.6,331.2 679.6,331.3 680.6,331.4 681.6,331.3 682.6,331.6 683.6,331.4 683.8,332.0Z" fill="#5fae80"/>
<text x="0" y="0" font-size="13.20" fill="#4a9468" transform="translate(532.00,322.80) scale(0.250)" textLength="52.8" lengthAdjust="spacingAndGlyphs" stroke="#4a9468" stroke-width="0.46">[0 - 10000]</text>
<line x1="529.6" y1="345.20" x2="683.8" y2="345.20" stroke="#9fd2b2" stroke-width="0.70"/>
<path d="M529.6,345.2 529.6,343.3 530.6,343.0 531.6,342.9 532.6,343.1 533.6,343.3 534.6,343.4 535.6,343.3 536.6,343.5 537.6,343.5 538.6,343.5 539.6,343.3 540.6,342.8 541.6,342.6 542.6,342.3 543.6,341.7 544.6,341.6 545.6,341.2 546.6,341.5 547.6,341.6 548.6,341.6 549.6,341.4 550.6,341.5 551.6,341.3 552.6,341.0 553.6,340.4 554.6,340.0 555.6,339.8 556.6,340.0 557.6,339.8 558.6,339.8 559.6,339.8 560.6,339.7 561.6,339.9 562.6,340.0 563.6,340.3 564.6,340.5 565.6,340.2 566.6,340.4 567.6,340.8 568.6,341.0 569.6,341.1 570.6,341.5 571.6,341.8 572.6,342.6 573.6,342.5 574.6,342.5 575.6,342.5 576.6,342.8 577.6,343.3 578.6,343.7 579.6,343.7 580.6,343.7 581.6,343.2 582.6,342.5 583.6,342.5 584.6,342.9 585.6,343.2 586.6,343.3 587.6,343.6 588.6,343.4 589.6,343.7 590.6,343.7 591.6,343.8 592.6,343.8 593.6,344.1 594.6,344.3 595.6,344.5 596.6,344.5 597.6,344.1 598.6,344.1 599.6,344.1 600.6,344.2 601.6,343.9 602.6,343.8 603.6,343.9 604.6,344.3 605.6,344.3 606.6,344.1 607.6,343.8 608.6,343.7 609.6,343.4 610.6,343.7 611.6,344.0 612.6,344.3 613.6,344.6 614.6,344.3 615.6,344.2 616.6,344.4 617.6,344.4 618.6,344.4 619.6,344.2 620.6,344.5 621.6,344.6 622.6,344.5 623.6,344.5 624.6,344.4 625.6,344.4 626.6,344.2 627.6,344.3 628.6,344.4 629.6,344.4 630.6,344.0 631.6,344.2 632.6,344.2 633.6,344.3 634.6,344.3 635.6,344.2 636.6,344.4 637.6,344.5 638.6,344.7 639.6,344.6 640.6,344.8 641.6,344.7 642.6,344.6 643.6,344.5 644.6,344.7 645.6,344.6 646.6,344.4 647.6,344.4 648.6,344.5 649.6,344.5 650.6,344.5 651.6,344.6 652.6,344.4 653.6,344.5 654.6,344.4 655.6,344.3 656.6,344.4 657.6,344.3 658.6,344.5 659.6,344.4 660.6,344.5 661.6,344.4 662.6,344.4 663.6,344.5 664.6,344.4 665.6,344.5 666.6,344.2 667.6,344.4 668.6,344.4 669.6,344.3 670.6,344.1 671.6,344.1 672.6,344.1 673.6,344.3 674.6,344.2 675.6,344.3 676.6,344.3 677.6,344.3 678.6,344.4 679.6,344.8 680.6,344.4 681.6,344.3 682.6,344.2 683.6,344.3 683.8,345.2Z" fill="#5fae80"/>
<text x="0" y="0" font-size="13.20" fill="#4a9468" transform="translate(532.00,336.00) scale(0.250)" textLength="52.8" lengthAdjust="spacingAndGlyphs" stroke="#4a9468" stroke-width="0.46">[0 - 10000]</text>
<line x1="529.6" y1="358.50" x2="683.8" y2="358.50" stroke="#9fd2b2" stroke-width="0.70"/>
<path d="M529.6,358.5 529.6,357.1 530.6,357.4 531.6,356.9 532.6,356.7 533.6,356.3 534.6,356.2 535.6,356.0 536.6,355.7 537.6,355.4 538.6,355.6 539.6,355.3 540.6,355.2 541.6,355.2 542.6,355.2 543.6,354.8 544.6,354.6 545.6,354.4 546.6,354.0 547.6,354.0 548.6,353.6 549.6,353.7 550.6,353.5 551.6,353.5 552.6,353.5 553.6,353.1 554.6,352.2 555.6,352.1 556.6,352.0 557.6,352.1 558.6,352.3 559.6,352.0 560.6,351.7 561.6,351.4 562.6,351.8 563.6,351.7 564.6,351.6 565.6,351.9 566.6,352.0 567.6,352.4 568.6,352.9 569.6,353.2 570.6,354.1 571.6,354.7 572.6,354.8 573.6,355.0 574.6,355.3 575.6,355.3 576.6,355.2 577.6,355.4 578.6,355.6 579.6,356.2 580.6,356.3 581.6,356.4 582.6,356.2 583.6,355.8 584.6,355.8 585.6,356.5 586.6,357.1 587.6,357.1 588.6,356.6 589.6,356.4 590.6,356.6 591.6,356.8 592.6,356.8 593.6,357.1 594.6,356.9 595.6,357.0 596.6,357.1 597.6,357.1 598.6,357.4 599.6,357.4 600.6,357.4 601.6,357.3 602.6,357.3 603.6,357.6 604.6,357.7 605.6,357.9 606.6,357.7 607.6,357.8 608.6,357.6 609.6,357.7 610.6,357.7 611.6,357.8 612.6,358.0 613.6,358.0 614.6,358.0 615.6,358.0 616.6,358.1 617.6,358.2 618.6,358.1 619.6,358.2 620.6,358.3 621.6,358.3 622.6,358.2 623.6,358.1 624.6,357.9 625.6,357.9 626.6,358.0 627.6,358.0 628.6,357.8 629.6,357.5 630.6,357.6 631.6,357.5 632.6,357.5 633.6,357.3 634.6,357.4 635.6,357.3 636.6,357.1 637.6,357.1 638.6,357.0 639.6,357.0 640.6,356.8 641.6,356.6 642.6,356.6 643.6,356.5 644.6,356.6 645.6,357.3 646.6,357.3 647.6,357.1 648.6,357.1 649.6,357.4 650.6,357.8 651.6,357.7 652.6,357.7 653.6,357.6 654.6,357.7 655.6,357.8 656.6,357.8 657.6,357.9 658.6,357.8 659.6,357.9 660.6,358.1 661.6,358.1 662.6,358.2 663.6,358.2 664.6,358.2 665.6,358.1 666.6,358.0 667.6,357.9 668.6,357.9 669.6,358.0 670.6,357.9 671.6,357.9 672.6,358.0 673.6,358.2 674.6,358.1 675.6,358.2 676.6,358.2 677.6,358.2 678.6,358.2 679.6,358.2 680.6,358.0 681.6,357.9 682.6,357.9 683.6,358.0 683.8,358.5Z" fill="#5fae80"/>
<text x="0" y="0" font-size="13.20" fill="#4a9468" transform="translate(532.00,349.30) scale(0.250)" textLength="52.8" lengthAdjust="spacingAndGlyphs" stroke="#4a9468" stroke-width="0.46">[0 - 10000]</text>
<line x1="529.6" y1="372.30" x2="683.8" y2="372.30" stroke="#f6dcb5" stroke-width="0.70"/>
<path d="M553.6,372.3 554.6,372.1 555.6,371.8 556.6,371.6 557.6,371.5 558.6,371.2 559.6,370.9 560.6,370.7 561.6,370.6 562.6,370.3 563.6,370.1 564.6,370.0 565.6,369.7 566.6,369.5 567.6,369.2 568.6,369.0 569.6,368.7 570.6,368.4 571.6,368.1 572.6,367.8 573.6,367.6 574.6,367.3 575.6,367.0 576.6,366.8 577.6,366.5 578.6,366.3 579.6,366.1 580.6,365.8 581.6,365.6 582.6,365.4 583.6,365.2 584.6,365.1 585.6,365.0 586.6,365.1 587.6,365.1 588.6,365.0 589.6,364.9 590.6,364.8 591.6,364.8 592.6,364.8 593.6,364.9 594.6,365.1 595.6,365.1 596.6,365.1 597.6,365.2 598.6,365.4 599.6,365.4 600.6,365.6 601.6,365.8 602.6,366.1 603.6,366.3 604.6,366.5 605.6,366.6 606.6,366.8 607.6,367.0 608.6,367.3 609.6,367.2 610.6,367.3 611.6,367.4 612.6,367.5 613.6,367.6 614.6,367.5 615.6,367.3 616.6,367.2 617.6,367.1 618.6,366.9 619.6,366.8 620.6,366.7 621.6,366.6 622.6,366.5 623.6,366.5 624.6,366.3 625.6,366.3 626.6,366.2 627.6,366.1 628.6,366.0 629.6,366.1 630.6,366.1 631.6,366.3 632.6,366.3 633.6,366.4 634.6,366.5 635.6,366.7 636.6,366.6 637.6,366.5 638.6,366.3 639.6,366.3 640.6,366.2 641.6,366.2 642.6,366.1 643.6,366.1 644.6,366.1 645.6,366.0 646.6,365.9 647.6,365.8 648.6,365.6 649.6,365.5 650.6,365.4 651.6,365.5 652.6,365.4 653.6,365.3 654.6,365.3 655.6,365.3 656.6,365.4 657.6,365.5 658.6,365.5 659.6,365.5 660.6,365.5 661.6,365.6 662.6,365.6 663.6,365.8 664.6,366.1 665.6,366.4 666.6,366.7 667.6,366.9 668.6,367.2 669.6,368.1 670.6,369.4 671.6,370.5 672.6,371.8 673.6,372.3Z" fill="#e8a63a"/>
<text x="0" y="0" font-size="13.20" fill="#d99530" transform="translate(532.00,363.10) scale(0.250)" textLength="52.8" lengthAdjust="spacingAndGlyphs" stroke="#d99530" stroke-width="0.46">[0 - 10000]</text>
<line x1="529.6" y1="385.80" x2="683.8" y2="385.80" stroke="#f6dcb5" stroke-width="0.70"/>
<path d="M540.6,385.8 541.6,385.6 542.6,385.1 543.6,384.8 544.6,384.4 545.6,384.3 546.6,384.4 547.6,384.4 548.6,384.3 549.6,384.2 550.6,384.3 551.6,384.3 552.6,384.2 553.6,384.0 554.6,384.3 555.6,384.7 556.6,385.0 557.6,385.3 558.6,385.4 559.6,385.3 560.6,385.3 561.6,385.3 562.6,385.2 563.6,384.9 564.6,384.2 565.6,383.6 566.6,383.0 567.6,382.6 568.6,382.2 569.6,381.8 570.6,381.4 571.6,381.0 572.6,380.6 573.6,380.3 574.6,380.2 575.6,380.1 576.6,380.1 577.6,380.1 578.6,380.1 579.6,379.9 580.6,379.9 581.6,380.0 582.6,380.1 583.6,380.2 584.6,380.2 585.6,380.2 586.6,380.2 587.6,380.3 588.6,380.6 589.6,381.0 590.6,381.3 591.6,381.7 592.6,382.0 593.6,382.1 594.6,382.2 595.6,382.3 596.6,382.5 597.6,382.6 598.6,382.8 599.6,382.8 600.6,382.8 601.6,382.8 602.6,382.9 603.6,383.0 604.6,382.9 605.6,382.9 606.6,383.0 607.6,383.2 608.6,383.2 609.6,383.3 610.6,383.3 611.6,383.3 612.6,383.4 613.6,383.2 614.6,383.4 615.6,383.3 616.6,383.3 617.6,383.3 618.6,383.4 619.6,383.4 620.6,383.2 621.6,383.2 622.6,383.0 623.6,383.0 624.6,382.9 625.6,382.9 626.6,383.1 627.6,383.0 628.6,383.2 629.6,383.1 630.6,383.1 631.6,383.2 632.6,383.2 633.6,383.2 634.6,383.3 635.6,383.3 636.6,383.3 637.6,383.2 638.6,383.2 639.6,383.3 640.6,383.4 641.6,383.4 642.6,383.4 643.6,383.4 644.6,383.6 645.6,383.7 646.6,383.8 647.6,383.8 648.6,383.9 649.6,384.1 650.6,384.3 651.6,384.3 652.6,384.4 653.6,384.3 654.6,384.4 655.6,384.4 656.6,384.6 657.6,384.7 658.6,384.7 659.6,384.8 660.6,384.8 661.6,384.9 662.6,385.0 663.6,385.2 664.6,385.2 665.6,385.4 666.6,385.5 667.6,385.6 668.6,385.7 669.6,385.8Z" fill="#e8a63a"/>
<text x="0" y="0" font-size="13.20" fill="#d99530" transform="translate(532.00,376.60) scale(0.250)" textLength="52.8" lengthAdjust="spacingAndGlyphs" stroke="#d99530" stroke-width="0.46">[0 - 10000]</text>
<line x1="529.6" y1="399.60" x2="683.8" y2="399.60" stroke="#f6dcb5" stroke-width="0.70"/>
<path d="M529.6,399.6 529.6,399.4 530.6,399.4 531.6,399.3 532.6,399.3 533.6,399.3 534.6,399.3 535.6,399.2 536.6,399.2 537.6,399.2 538.6,399.2 539.6,399.2 540.6,399.2 541.6,399.1 542.6,399.1 543.6,399.1 544.6,399.1 545.6,399.1 546.6,399.1 547.6,399.0 548.6,399.0 549.6,398.9 550.6,398.9 551.6,398.9 552.6,398.9 553.6,398.9 554.6,398.8 555.6,398.7 556.6,398.6 557.6,398.5 558.6,398.5 559.6,398.5 560.6,398.3 561.6,398.3 562.6,398.2 563.6,397.5 564.6,396.5 565.6,395.5 566.6,394.5 567.6,393.9 568.6,393.5 569.6,392.9 570.6,392.4 571.6,391.9 572.6,391.7 573.6,391.4 574.6,391.5 575.6,391.6 576.6,391.4 577.6,391.3 578.6,391.2 579.6,391.1 580.6,391.2 581.6,391.1 582.6,391.2 583.6,391.1 584.6,391.1 585.6,391.0 586.6,391.0 587.6,390.9 588.6,390.8 589.6,390.7 590.6,390.7 591.6,391.6 592.6,393.1 593.6,393.8 594.6,393.8 595.6,393.9 596.6,394.0 597.6,394.0 598.6,394.0 599.6,394.0 600.6,394.1 601.6,394.1 602.6,394.3 603.6,394.3 604.6,394.4 605.6,394.5 606.6,394.5 607.6,394.5 608.6,394.4 609.6,394.4 610.6,394.4 611.6,394.5 612.6,394.6 613.6,394.6 614.6,394.7 615.6,394.7 616.6,394.7 617.6,394.7 618.6,394.7 619.6,394.8 620.6,394.9 621.6,394.9 622.6,394.9 623.6,395.0 624.6,395.0 625.6,395.1 626.6,395.2 627.6,395.3 628.6,395.3 629.6,395.4 630.6,395.4 631.6,395.5 632.6,395.5 633.6,395.5 634.6,395.6 635.6,395.6 636.6,395.7 637.6,395.7 638.6,395.9 639.6,396.1 640.6,396.2 641.6,396.3 642.6,396.5 643.6,396.6 644.6,396.8 645.6,396.8 646.6,396.8 647.6,397.0 648.6,397.0 649.6,397.1 650.6,397.3 651.6,397.4 652.6,397.5 653.6,397.6 654.6,397.6 655.6,397.8 656.6,397.8 657.6,397.8 658.6,397.9 659.6,398.0 660.6,398.1 661.6,398.3 662.6,398.4 663.6,398.5 664.6,398.6 665.6,398.7 666.6,398.9 667.6,399.1 668.6,399.2 669.6,399.3 670.6,399.3 671.6,399.3 672.6,399.3 673.6,399.3 674.6,399.3 675.6,399.3 676.6,399.3 677.6,399.3 678.6,399.3 679.6,399.3 680.6,399.3 681.6,399.3 682.6,399.3 683.6,399.3 683.8,399.6Z" fill="#e8a63a"/>
<text x="0" y="0" font-size="13.20" fill="#d99530" transform="translate(532.00,390.40) scale(0.250)" textLength="52.8" lengthAdjust="spacingAndGlyphs" stroke="#d99530" stroke-width="0.46">[0 - 10000]</text>
<line x1="529.6" y1="412.80" x2="683.8" y2="412.80" stroke="#f6dcb5" stroke-width="0.70"/>
<path d="M529.6,412.8 529.6,412.6 530.6,412.6 531.6,412.6 532.6,412.6 533.6,412.6 534.6,412.6 535.6,412.6 536.6,412.6 537.6,412.7 538.6,412.6 539.6,412.6 540.6,412.6 541.6,412.5 542.6,412.5 543.6,412.5 544.6,412.5 545.6,412.5 546.6,412.4 547.6,412.5 548.6,412.4 549.6,412.3 550.6,412.3 551.6,412.4 552.6,412.4 553.6,412.5 554.6,412.5 555.6,412.5 556.6,412.3 557.6,412.2 558.6,412.0 559.6,411.9 560.6,412.0 561.6,412.0 562.6,412.2 563.6,412.2 564.6,412.2 565.6,412.1 566.6,412.1 567.6,412.1 568.6,412.1 569.6,411.9 570.6,411.8 571.6,411.6 572.6,411.6 573.6,411.3 574.6,411.2 575.6,411.3 576.6,411.2 577.6,411.1 578.6,411.0 579.6,410.9 580.6,410.9 581.6,411.0 582.6,411.4 583.6,411.1 584.6,411.2 585.6,410.8 586.6,411.3 587.6,411.1 588.6,411.4 589.6,411.2 590.6,411.6 591.6,411.2 592.6,411.1 593.6,411.1 594.6,411.1 595.6,410.8 596.6,410.8 597.6,411.4 598.6,411.5 599.6,411.6 600.6,411.3 601.6,411.0 602.6,410.7 603.6,410.9 604.6,410.7 605.6,411.1 606.6,411.3 607.6,411.5 608.6,411.2 609.6,411.4 610.6,411.5 611.6,411.5 612.6,411.4 613.6,411.3 614.6,411.4 615.6,411.6 616.6,411.4 617.6,411.7 618.6,411.7 619.6,411.9 620.6,411.9 621.6,411.7 622.6,411.8 623.6,411.7 624.6,412.1 625.6,411.9 626.6,411.7 627.6,411.5 628.6,411.3 629.6,411.5 630.6,411.4 631.6,411.5 632.6,410.9 633.6,410.8 634.6,410.8 635.6,411.1 636.6,411.3 637.6,411.6 638.6,411.3 639.6,411.5 640.6,411.2 641.6,411.3 642.6,411.2 643.6,411.3 644.6,410.9 645.6,410.9 646.6,410.8 647.6,411.0 648.6,411.0 649.6,410.9 650.6,411.0 651.6,410.9 652.6,411.2 653.6,411.1 654.6,410.8 655.6,411.0 656.6,411.2 657.6,411.4 658.6,411.7 659.6,411.4 660.6,411.6 661.6,411.5 662.6,411.9 663.6,412.0 664.6,412.1 665.6,412.1 666.6,412.0 667.6,412.0 668.6,412.0 669.6,412.3 670.6,412.4 671.6,412.5 672.6,412.5 673.6,412.5 674.6,412.5 675.6,412.6 676.6,412.5 677.6,412.5 678.6,412.5 679.6,412.5 680.6,412.5 681.6,412.5 682.6,412.6 683.6,412.5 683.8,412.8Z" fill="#e8a63a"/>
<text x="0" y="0" font-size="13.20" fill="#d99530" transform="translate(532.00,403.60) scale(0.250)" textLength="52.8" lengthAdjust="spacingAndGlyphs" stroke="#d99530" stroke-width="0.46">[0 - 10000]</text>
<line x1="529.6" y1="426.50" x2="683.8" y2="426.50" stroke="#f6dcb5" stroke-width="0.70"/>
<path d="M529.6,426.5 529.6,426.3 530.6,426.3 531.6,426.3 532.6,426.3 533.6,426.3 534.6,426.3 535.6,426.3 536.6,426.3 537.6,426.3 538.6,426.4 539.6,426.4 540.6,426.4 541.6,426.3 542.6,426.3 543.6,426.2 544.6,426.3 545.6,426.3 546.6,426.3 547.6,426.3 548.6,426.4 549.6,426.4 550.6,426.3 551.6,426.3 552.6,426.3 553.6,426.3 554.6,426.3 555.6,426.3 556.6,426.3 557.6,426.3 558.6,426.2 559.6,426.1 560.6,426.1 561.6,426.0 562.6,425.9 563.6,426.0 564.6,426.0 565.6,425.9 566.6,425.8 567.6,425.8 568.6,425.7 569.6,425.6 570.6,425.7 571.6,425.8 572.6,425.8 573.6,425.7 574.6,425.7 575.6,425.6 576.6,425.6 577.6,425.6 578.6,425.6 579.6,425.2 580.6,425.3 581.6,424.8 582.6,424.9 583.6,424.6 584.6,424.7 585.6,424.6 586.6,424.7 587.6,424.7 588.6,424.3 589.6,424.6 590.6,424.8 591.6,424.6 592.6,424.8 593.6,424.8 594.6,424.4 595.6,424.7 596.6,424.4 597.6,424.3 598.6,424.2 599.6,424.4 600.6,424.6 601.6,424.6 602.6,424.4 603.6,424.6 604.6,424.8 605.6,424.6 606.6,424.8 607.6,425.0 608.6,425.2 609.6,425.2 610.6,425.1 611.6,424.7 612.6,424.7 613.6,424.4 614.6,424.4 615.6,424.7 616.6,424.9 617.6,425.4 618.6,425.4 619.6,425.2 620.6,425.4 621.6,425.3 622.6,425.3 623.6,425.2 624.6,425.2 625.6,425.3 626.6,425.1 627.6,425.1 628.6,425.4 629.6,425.6 630.6,425.7 631.6,425.2 632.6,425.3 633.6,425.1 634.6,425.7 635.6,425.6 636.6,425.4 637.6,425.1 638.6,424.9 639.6,424.9 640.6,425.1 641.6,425.1 642.6,425.3 643.6,425.2 644.6,425.3 645.6,425.1 646.6,425.0 647.6,424.8 648.6,424.9 649.6,424.9 650.6,425.1 651.6,425.4 652.6,425.8 653.6,425.9 654.6,426.0 655.6,425.9 656.6,425.8 657.6,425.7 658.6,425.7 659.6,425.7 660.6,425.8 661.6,425.9 662.6,426.0 663.6,426.1 664.6,426.1 665.6,426.2 666.6,426.2 667.6,426.3 668.6,426.2 669.6,426.2 670.6,426.2 671.6,426.2 672.6,426.2 673.6,426.2 674.6,426.2 675.6,426.3 676.6,426.2 677.6,426.2 678.6,426.2 679.6,426.2 680.6,426.2 681.6,426.2 682.6,426.2 683.6,426.2 683.8,426.5Z" fill="#e8a63a"/>
<text x="0" y="0" font-size="13.20" fill="#d99530" transform="translate(532.00,417.30) scale(0.250)" textLength="52.8" lengthAdjust="spacingAndGlyphs" stroke="#d99530" stroke-width="0.46">[0 - 10000]</text>
<line x1="552.0" y1="432.60" x2="583.1" y2="432.60" stroke="#7fb8bb" stroke-width="2.3"/>
<line x1="601.9" y1="432.60" x2="633.2" y2="432.60" stroke="#7fb8bb" stroke-width="0.7"/>
<line x1="653.0" y1="432.60" x2="674.1" y2="432.60" stroke="#7fb8bb" stroke-width="2.3"/>
<rect x="583.1" y="430.20" width="18.8" height="4.8" fill="#7fb8bb"/>
<line x1="591.0" y1="431.80" x2="591.0" y2="433.40" stroke="#d7eaea" stroke-width="0.4"/>
<line x1="594.8" y1="431.80" x2="594.8" y2="433.40" stroke="#d7eaea" stroke-width="0.4"/>
<rect x="611.5" y="430.20" width="14.5" height="4.8" fill="#7fb8bb"/>
<line x1="617.6" y1="431.80" x2="617.6" y2="433.40" stroke="#d7eaea" stroke-width="0.4"/>
<line x1="620.5" y1="431.80" x2="620.5" y2="433.40" stroke="#d7eaea" stroke-width="0.4"/>
<rect x="633.2" y="430.20" width="19.8" height="4.8" fill="#7fb8bb"/>
<line x1="641.5" y1="431.80" x2="641.5" y2="433.40" stroke="#d7eaea" stroke-width="0.4"/>
<line x1="645.5" y1="431.80" x2="645.5" y2="433.40" stroke="#d7eaea" stroke-width="0.4"/>
<text x="618.4" y="443.6" font-size="8.50" fill="#1a1a1a" textLength="31.2" lengthAdjust="spacingAndGlyphs" text-anchor="middle" stroke="#1a1a1a" stroke-width="0.15">GAPM2A</text>
<text x="0.0" y="0.0" font-size="5.10" fill="#c8468f" textLength="25.0" lengthAdjust="spacingAndGlyphs" stroke="#c8468f" stroke-width="0.15" text-anchor="middle" transform="translate(307.0,154.6) rotate(-90)">ATAC-SEQ</text>
<text x="0.0" y="0.0" font-size="4.00" fill="#c8468f" textLength="24.0" lengthAdjust="spacingAndGlyphs" stroke="#c8468f" stroke-width="0.12" text-anchor="middle" transform="translate(314.3,154.0) rotate(-90)">SNF2a-mAID</text>
<text x="0.0" y="0.0" font-size="4.00" fill="#c8468f" textLength="24.0" lengthAdjust="spacingAndGlyphs" stroke="#c8468f" stroke-width="0.12" text-anchor="middle" transform="translate(317.9,154.0) rotate(-90)">SNF2b-mAID</text>
<text x="0" y="0" font-size="19.20" fill="#c8468f" transform="translate(330.90,149.00) scale(0.250)" textLength="38.4" lengthAdjust="spacingAndGlyphs" stroke="#c8468f" stroke-width="0.67" text-anchor="end">- IAA</text>
<text x="0" y="0" font-size="19.20" fill="#c8468f" transform="translate(330.90,160.10) scale(0.250)" textLength="38.4" lengthAdjust="spacingAndGlyphs" stroke="#c8468f" stroke-width="0.67" text-anchor="end">+ IAA</text>
<text x="0.0" y="0.0" font-size="5.10" fill="#4f9f70" textLength="22.0" lengthAdjust="spacingAndGlyphs" stroke="#4f9f70" stroke-width="0.15" text-anchor="middle" transform="translate(307.0,185.0) rotate(-90)">CUT&amp;Tag</text>
<text x="0" y="0" font-size="18.40" fill="#4f9f70" transform="translate(330.70,172.70) scale(0.250)" textLength="39.6" lengthAdjust="spacingAndGlyphs" stroke="#4f9f70" stroke-width="0.64" text-anchor="end">ME49</text>
<text x="0" y="0" font-size="18.40" fill="#4f9f70" transform="translate(331.40,184.40) scale(0.250)" textLength="76.8" lengthAdjust="spacingAndGlyphs" stroke="#4f9f70" stroke-width="0.64" text-anchor="end">SNF2a-HA</text>
<text x="0" y="0" font-size="18.40" fill="#4f9f70" transform="translate(331.40,196.20) scale(0.250)" textLength="76.4" lengthAdjust="spacingAndGlyphs" stroke="#4f9f70" stroke-width="0.64" text-anchor="end">SNF2b-HA</text>
<text x="0.0" y="0.0" font-size="5.10" fill="#d9962a" textLength="23.3" lengthAdjust="spacingAndGlyphs" stroke="#d9962a" stroke-width="0.15" text-anchor="middle" transform="translate(307.2,236.4) rotate(-90)">RNA-SEQ</text>
<text x="0" y="0" font-size="18.40" fill="#d9962a" transform="translate(331.50,209.00) scale(0.250)" textLength="43.2" lengthAdjust="spacingAndGlyphs" stroke="#d9962a" stroke-width="0.64" text-anchor="end">ME49</text>
<text x="0" y="0" font-size="12.80" fill="#d9962a" transform="translate(321.40,218.70) scale(0.250)" textLength="80.0" lengthAdjust="spacingAndGlyphs" stroke="#d9962a" stroke-width="0.45" text-anchor="middle">SNF2a-mAID</text>
<text x="0" y="0" font-size="12.80" fill="#d9962a" transform="translate(321.40,221.80) scale(0.250)" textLength="53.2" lengthAdjust="spacingAndGlyphs" stroke="#d9962a" stroke-width="0.45" text-anchor="middle">+IAA24h</text>
<text x="0" y="0" font-size="12.80" fill="#d9962a" transform="translate(321.40,230.80) scale(0.250)" textLength="80.0" lengthAdjust="spacingAndGlyphs" stroke="#d9962a" stroke-width="0.45" text-anchor="middle">SNF2b-mAID</text>
<text x="0" y="0" font-size="12.80" fill="#d9962a" transform="translate(321.40,233.90) scale(0.250)" textLength="53.2" lengthAdjust="spacingAndGlyphs" stroke="#d9962a" stroke-width="0.45" text-anchor="middle">+IAA24h</text>
<text x="0" y="0" font-size="12.80" fill="#d9962a" transform="translate(321.40,242.70) scale(0.250)" textLength="80.0" lengthAdjust="spacingAndGlyphs" stroke="#d9962a" stroke-width="0.45" text-anchor="middle">SNF2b-mAID</text>
<text x="0" y="0" font-size="12.80" fill="#d9962a" transform="translate(321.40,246.00) scale(0.250)" textLength="53.2" lengthAdjust="spacingAndGlyphs" stroke="#d9962a" stroke-width="0.45" text-anchor="middle">+IAA72h</text>
<text x="0" y="0" font-size="12.80" fill="#d9962a" transform="translate(321.40,252.30) scale(0.250)" textLength="80.0" lengthAdjust="spacingAndGlyphs" stroke="#d9962a" stroke-width="0.45" text-anchor="middle">SNF2a-mAID</text>
<text x="0" y="0" font-size="12.80" fill="#d9962a" transform="translate(321.40,255.30) scale(0.250)" textLength="80.0" lengthAdjust="spacingAndGlyphs" stroke="#d9962a" stroke-width="0.45" text-anchor="middle">SNF2b-mAID</text>
<text x="0" y="0" font-size="12.80" fill="#d9962a" transform="translate(321.40,258.40) scale(0.250)" textLength="53.2" lengthAdjust="spacingAndGlyphs" stroke="#d9962a" stroke-width="0.45" text-anchor="middle">+IAA24h</text>
<text x="332.7" y="268.0" font-size="5.60" fill="#222" textLength="12.8" lengthAdjust="spacingAndGlyphs" stroke="#222" stroke-width="0.17" text-anchor="end">Gene</text>
<text x="0.0" y="0.0" font-size="5.10" fill="#c8468f" textLength="25.3" lengthAdjust="spacingAndGlyphs" stroke="#c8468f" stroke-width="0.15" text-anchor="middle" transform="translate(308.9,306.3) rotate(-90)">ATAC-SEQ</text>
<text x="0.0" y="0.0" font-size="4.00" fill="#c8468f" textLength="24.5" lengthAdjust="spacingAndGlyphs" stroke="#c8468f" stroke-width="0.12" text-anchor="middle" transform="translate(317.4,306.0) rotate(-90)">SNF2a-mAID</text>
<text x="0.0" y="0.0" font-size="4.00" fill="#c8468f" textLength="24.5" lengthAdjust="spacingAndGlyphs" stroke="#c8468f" stroke-width="0.12" text-anchor="middle" transform="translate(320.8,306.0) rotate(-90)">SNF2b-mAID</text>
<text x="0" y="0" font-size="19.20" fill="#c8468f" transform="translate(331.00,304.40) scale(0.250)" textLength="36.0" lengthAdjust="spacingAndGlyphs" stroke="#c8468f" stroke-width="0.67" text-anchor="end">- IAA</text>
<text x="0" y="0" font-size="19.20" fill="#c8468f" transform="translate(331.00,315.00) scale(0.250)" textLength="36.0" lengthAdjust="spacingAndGlyphs" stroke="#c8468f" stroke-width="0.67" text-anchor="end">+ IAA</text>
<text x="0.0" y="0.0" font-size="5.10" fill="#4f9f70" textLength="20.5" lengthAdjust="spacingAndGlyphs" stroke="#4f9f70" stroke-width="0.15" text-anchor="middle" transform="translate(308.9,344.7) rotate(-90)">CUT&amp;Tag</text>
<text x="0" y="0" font-size="18.40" fill="#4f9f70" transform="translate(331.80,329.30) scale(0.250)" textLength="42.4" lengthAdjust="spacingAndGlyphs" stroke="#4f9f70" stroke-width="0.64" text-anchor="end">ME49</text>
<text x="0" y="0" font-size="18.40" fill="#4f9f70" transform="translate(332.20,343.20) scale(0.250)" textLength="78.0" lengthAdjust="spacingAndGlyphs" stroke="#4f9f70" stroke-width="0.64" text-anchor="end">SNF2a-HA</text>
<text x="0" y="0" font-size="18.40" fill="#4f9f70" transform="translate(332.20,355.20) scale(0.250)" textLength="78.0" lengthAdjust="spacingAndGlyphs" stroke="#4f9f70" stroke-width="0.64" text-anchor="end">SNF2b-HA</text>
<text x="0.0" y="0.0" font-size="5.10" fill="#d9962a" textLength="23.6" lengthAdjust="spacingAndGlyphs" stroke="#d9962a" stroke-width="0.15" text-anchor="middle" transform="translate(309.2,397.8) rotate(-90)">RNA-SEQ</text>
<text x="0" y="0" font-size="18.40" fill="#d9962a" transform="translate(331.70,370.50) scale(0.250)" textLength="41.2" lengthAdjust="spacingAndGlyphs" stroke="#d9962a" stroke-width="0.64" text-anchor="end">ME49</text>
<text x="0" y="0" font-size="12.00" fill="#d9962a" transform="translate(322.00,380.80) scale(0.250)" textLength="80.8" lengthAdjust="spacingAndGlyphs" stroke="#d9962a" stroke-width="0.42" text-anchor="middle">SNF2a-mAID</text>
<text x="0" y="0" font-size="12.00" fill="#d9962a" transform="translate(322.00,383.40) scale(0.250)" textLength="52.0" lengthAdjust="spacingAndGlyphs" stroke="#d9962a" stroke-width="0.42" text-anchor="middle">+IAA24h</text>
<text x="0" y="0" font-size="12.00" fill="#d9962a" transform="translate(322.00,394.90) scale(0.250)" textLength="80.8" lengthAdjust="spacingAndGlyphs" stroke="#d9962a" stroke-width="0.42" text-anchor="middle">SNF2b-mAID</text>
<text x="0" y="0" font-size="12.00" fill="#d9962a" transform="translate(322.00,397.50) scale(0.250)" textLength="52.0" lengthAdjust="spacingAndGlyphs" stroke="#d9962a" stroke-width="0.42" text-anchor="middle">+IAA24h</text>
<text x="0" y="0" font-size="12.00" fill="#d9962a" transform="translate(322.00,408.60) scale(0.250)" textLength="80.8" lengthAdjust="spacingAndGlyphs" stroke="#d9962a" stroke-width="0.42" text-anchor="middle">SNF2b-mAID</text>
<text x="0" y="0" font-size="12.00" fill="#d9962a" transform="translate(322.00,411.20) scale(0.250)" textLength="52.0" lengthAdjust="spacingAndGlyphs" stroke="#d9962a" stroke-width="0.42" text-anchor="middle">+IAA72h</text>
<text x="0" y="0" font-size="12.00" fill="#d9962a" transform="translate(322.00,418.90) scale(0.250)" textLength="80.8" lengthAdjust="spacingAndGlyphs" stroke="#d9962a" stroke-width="0.42" text-anchor="middle">SNF2a-mAID</text>
<text x="0" y="0" font-size="12.00" fill="#d9962a" transform="translate(322.00,421.50) scale(0.250)" textLength="80.8" lengthAdjust="spacingAndGlyphs" stroke="#d9962a" stroke-width="0.42" text-anchor="middle">SNF2b-mAID</text>
<text x="0" y="0" font-size="12.00" fill="#d9962a" transform="translate(322.00,424.10) scale(0.250)" textLength="52.0" lengthAdjust="spacingAndGlyphs" stroke="#d9962a" stroke-width="0.42" text-anchor="middle">+IAA24h</text>
<text x="332.9" y="434.4" font-size="5.60" fill="#222" textLength="12.0" lengthAdjust="spacingAndGlyphs" stroke="#222" stroke-width="0.17" text-anchor="end">Gene</text>
</svg></body></html>
